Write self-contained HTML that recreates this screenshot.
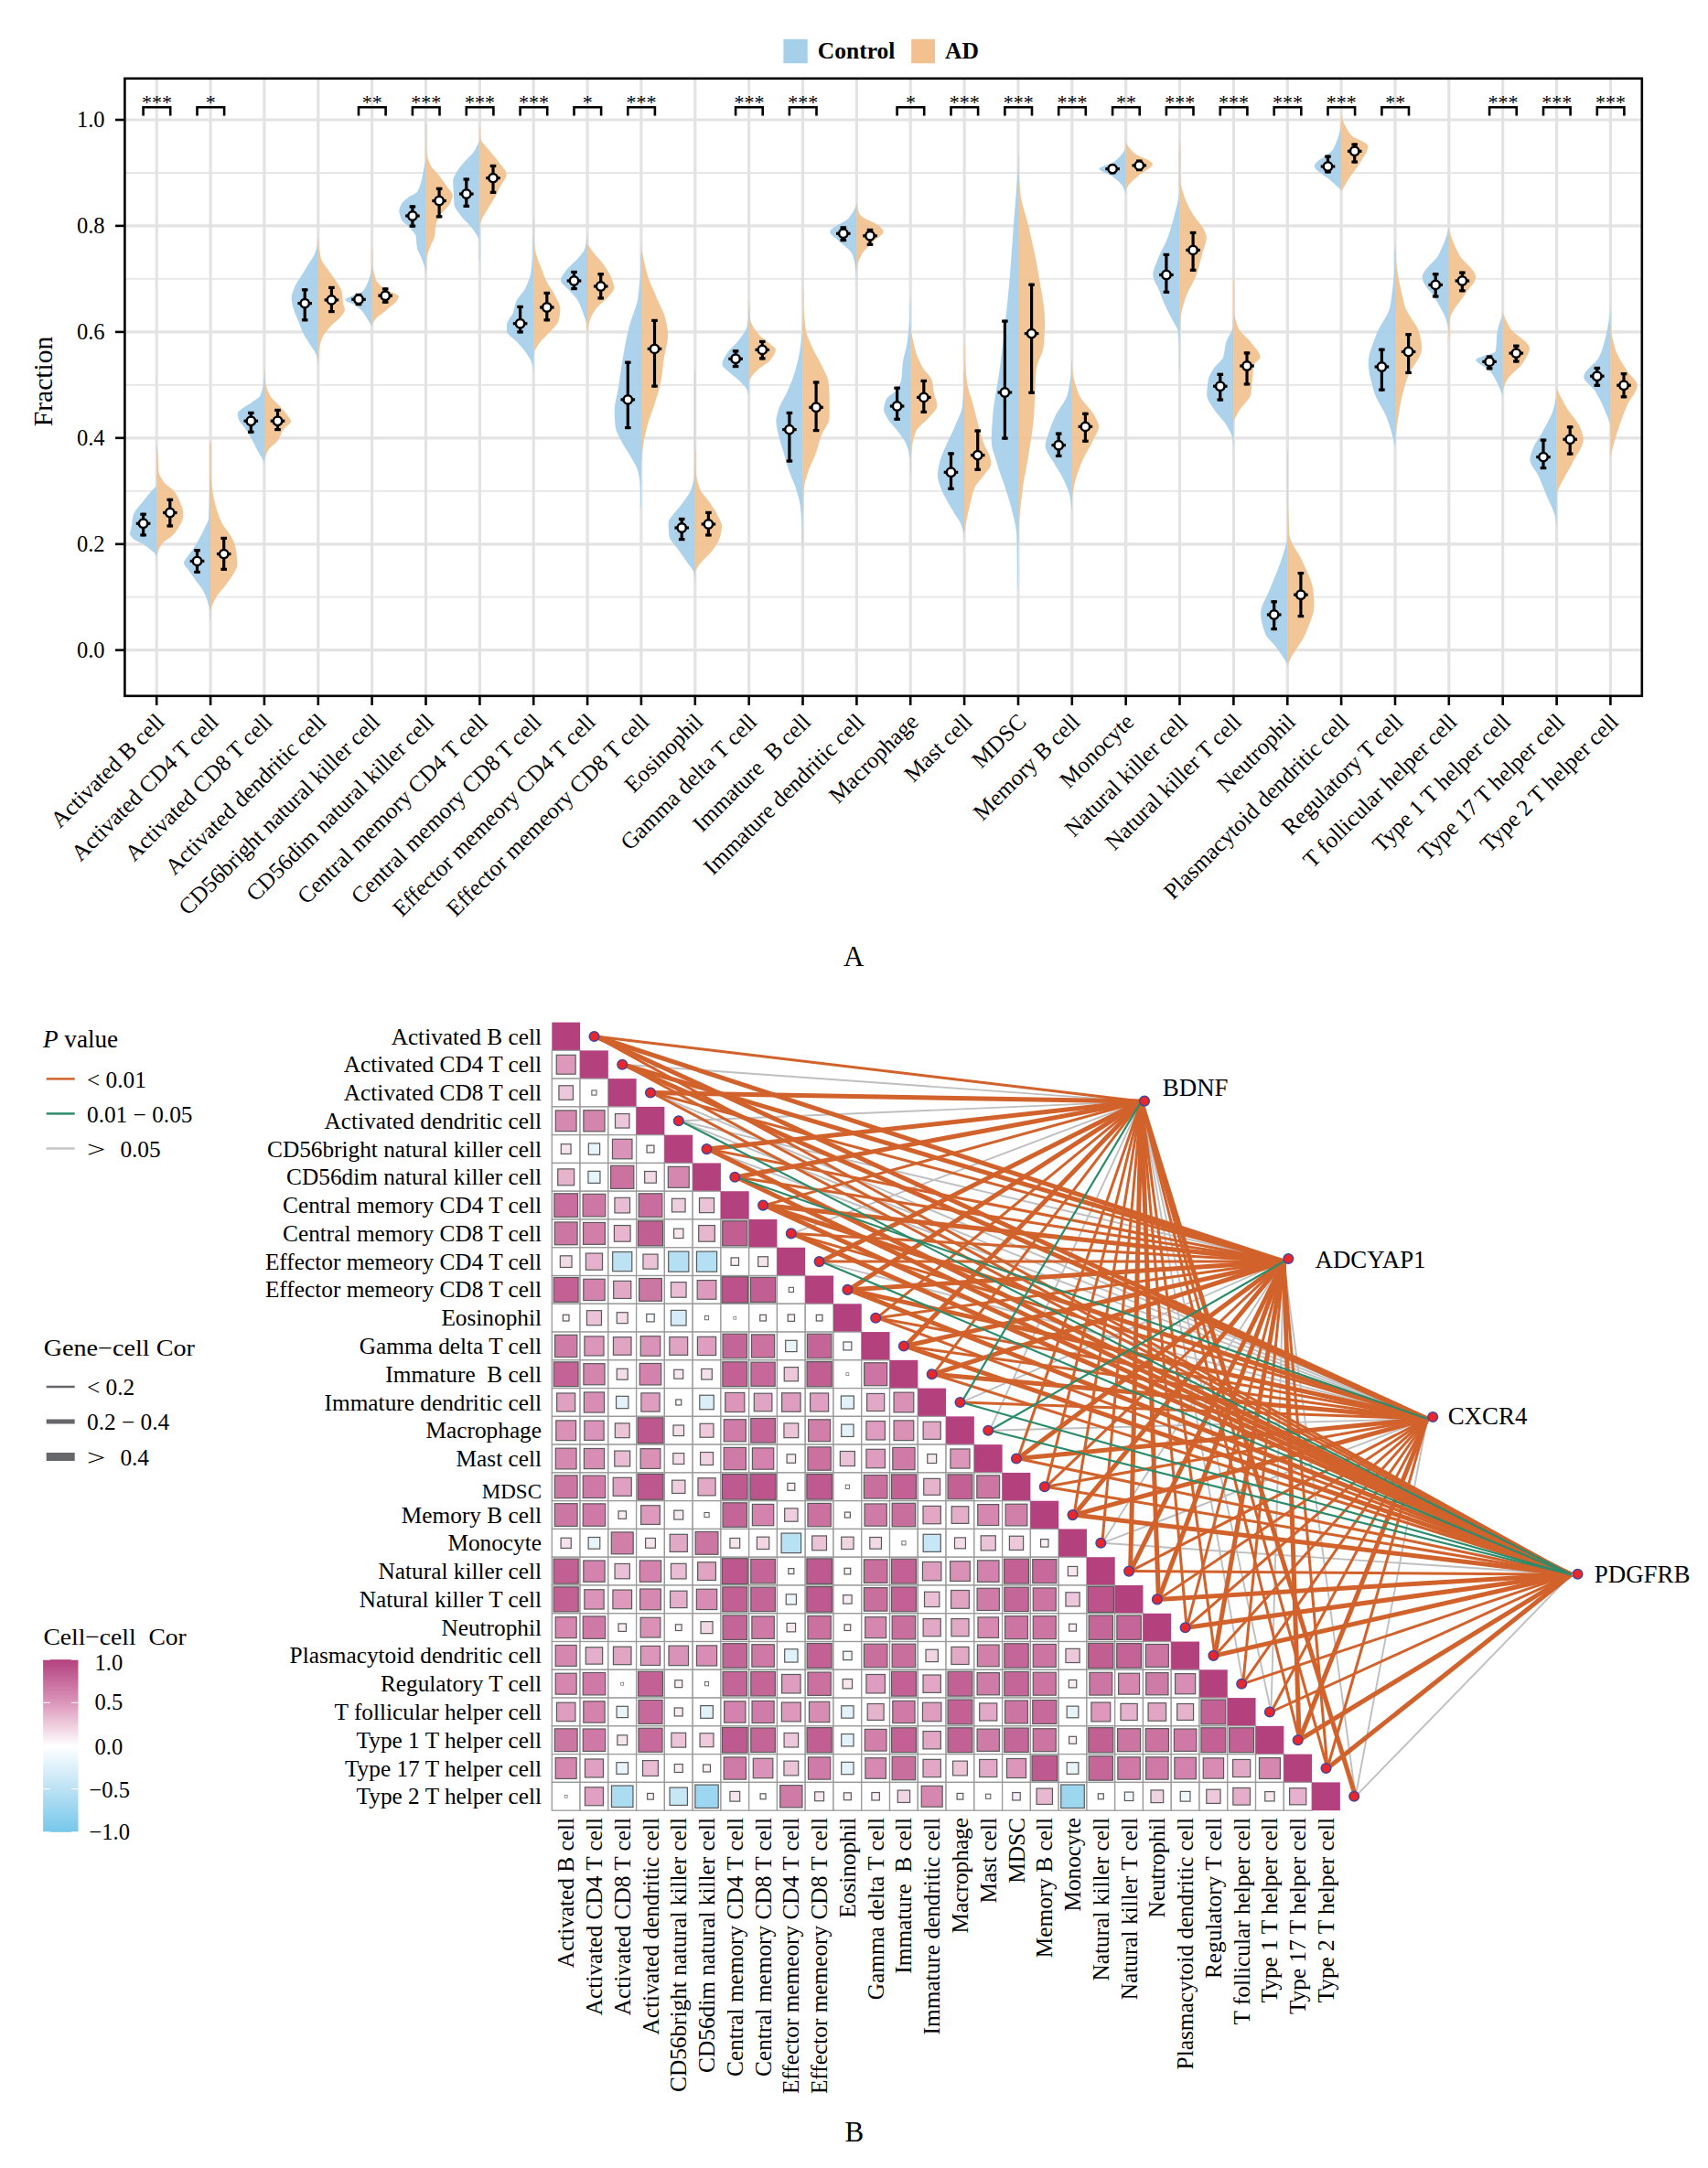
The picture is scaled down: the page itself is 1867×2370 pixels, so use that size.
<!DOCTYPE html>
<html><head><meta charset="utf-8"><style>
html,body{margin:0;padding:0;background:#fff;}
svg{display:block;}
text{font-family:"Liberation Serif", serif;fill:#000;}
</style></head><body>
<svg width="1867" height="2370" viewBox="0 0 1867 2370">
<rect width="1867" height="2370" fill="#fff"/>
<g id="panelA">
<line x1="136.4" x2="1794.8" y1="652.7" y2="652.7" stroke="#e6e6e6" stroke-width="1.8"/>
<line x1="136.4" x2="1794.8" y1="536.8" y2="536.8" stroke="#e6e6e6" stroke-width="1.8"/>
<line x1="136.4" x2="1794.8" y1="420.9" y2="420.9" stroke="#e6e6e6" stroke-width="1.8"/>
<line x1="136.4" x2="1794.8" y1="304.9" y2="304.9" stroke="#e6e6e6" stroke-width="1.8"/>
<line x1="136.4" x2="1794.8" y1="189.0" y2="189.0" stroke="#e6e6e6" stroke-width="1.8"/>
<line x1="136.4" x2="1794.8" y1="710.7" y2="710.7" stroke="#e3e3e3" stroke-width="3.2"/>
<line x1="136.4" x2="1794.8" y1="594.8" y2="594.8" stroke="#e3e3e3" stroke-width="3.2"/>
<line x1="136.4" x2="1794.8" y1="478.8" y2="478.8" stroke="#e3e3e3" stroke-width="3.2"/>
<line x1="136.4" x2="1794.8" y1="362.9" y2="362.9" stroke="#e3e3e3" stroke-width="3.2"/>
<line x1="136.4" x2="1794.8" y1="246.9" y2="246.9" stroke="#e3e3e3" stroke-width="3.2"/>
<line x1="136.4" x2="1794.8" y1="131.0" y2="131.0" stroke="#e3e3e3" stroke-width="3.2"/>
<line x1="171.2" x2="171.2" y1="85.8" y2="760.8" stroke="#e3e3e3" stroke-width="3.2"/>
<line x1="230.1" x2="230.1" y1="85.8" y2="760.8" stroke="#e3e3e3" stroke-width="3.2"/>
<line x1="288.9" x2="288.9" y1="85.8" y2="760.8" stroke="#e3e3e3" stroke-width="3.2"/>
<line x1="347.8" x2="347.8" y1="85.8" y2="760.8" stroke="#e3e3e3" stroke-width="3.2"/>
<line x1="406.6" x2="406.6" y1="85.8" y2="760.8" stroke="#e3e3e3" stroke-width="3.2"/>
<line x1="465.5" x2="465.5" y1="85.8" y2="760.8" stroke="#e3e3e3" stroke-width="3.2"/>
<line x1="524.4" x2="524.4" y1="85.8" y2="760.8" stroke="#e3e3e3" stroke-width="3.2"/>
<line x1="583.2" x2="583.2" y1="85.8" y2="760.8" stroke="#e3e3e3" stroke-width="3.2"/>
<line x1="642.1" x2="642.1" y1="85.8" y2="760.8" stroke="#e3e3e3" stroke-width="3.2"/>
<line x1="700.9" x2="700.9" y1="85.8" y2="760.8" stroke="#e3e3e3" stroke-width="3.2"/>
<line x1="759.8" x2="759.8" y1="85.8" y2="760.8" stroke="#e3e3e3" stroke-width="3.2"/>
<line x1="818.7" x2="818.7" y1="85.8" y2="760.8" stroke="#e3e3e3" stroke-width="3.2"/>
<line x1="877.5" x2="877.5" y1="85.8" y2="760.8" stroke="#e3e3e3" stroke-width="3.2"/>
<line x1="936.4" x2="936.4" y1="85.8" y2="760.8" stroke="#e3e3e3" stroke-width="3.2"/>
<line x1="995.2" x2="995.2" y1="85.8" y2="760.8" stroke="#e3e3e3" stroke-width="3.2"/>
<line x1="1054.1" x2="1054.1" y1="85.8" y2="760.8" stroke="#e3e3e3" stroke-width="3.2"/>
<line x1="1113.0" x2="1113.0" y1="85.8" y2="760.8" stroke="#e3e3e3" stroke-width="3.2"/>
<line x1="1171.8" x2="1171.8" y1="85.8" y2="760.8" stroke="#e3e3e3" stroke-width="3.2"/>
<line x1="1230.7" x2="1230.7" y1="85.8" y2="760.8" stroke="#e3e3e3" stroke-width="3.2"/>
<line x1="1289.5" x2="1289.5" y1="85.8" y2="760.8" stroke="#e3e3e3" stroke-width="3.2"/>
<line x1="1348.4" x2="1348.4" y1="85.8" y2="760.8" stroke="#e3e3e3" stroke-width="3.2"/>
<line x1="1407.3" x2="1407.3" y1="85.8" y2="760.8" stroke="#e3e3e3" stroke-width="3.2"/>
<line x1="1466.1" x2="1466.1" y1="85.8" y2="760.8" stroke="#e3e3e3" stroke-width="3.2"/>
<line x1="1525.0" x2="1525.0" y1="85.8" y2="760.8" stroke="#e3e3e3" stroke-width="3.2"/>
<line x1="1583.8" x2="1583.8" y1="85.8" y2="760.8" stroke="#e3e3e3" stroke-width="3.2"/>
<line x1="1642.7" x2="1642.7" y1="85.8" y2="760.8" stroke="#e3e3e3" stroke-width="3.2"/>
<line x1="1701.6" x2="1701.6" y1="85.8" y2="760.8" stroke="#e3e3e3" stroke-width="3.2"/>
<line x1="1760.4" x2="1760.4" y1="85.8" y2="760.8" stroke="#e3e3e3" stroke-width="3.2"/>
<path d="M171.20,531.30 L171.20,531.30 L170.67,531.80 L170.14,532.31 L169.61,532.81 L169.09,533.32 L168.57,533.82 L168.06,534.33 L167.56,534.83 L167.06,535.33 L166.56,535.84 L166.08,536.34 L165.60,536.85 L165.13,537.35 L164.66,537.86 L164.21,538.36 L163.76,538.87 L163.32,539.37 L162.88,539.87 L162.45,540.38 L162.02,540.88 L161.60,541.39 L161.19,541.89 L160.77,542.40 L160.36,542.90 L159.96,543.40 L159.55,543.91 L159.15,544.41 L158.76,544.92 L158.36,545.42 L157.97,545.93 L157.57,546.43 L157.18,546.94 L156.79,547.44 L156.40,547.94 L156.01,548.45 L155.62,548.95 L155.22,549.46 L154.83,549.96 L154.42,550.47 L154.00,550.97 L153.57,551.47 L153.14,551.98 L152.71,552.48 L152.27,552.99 L151.84,553.49 L151.41,554.00 L150.98,554.50 L150.55,555.01 L150.14,555.51 L149.73,556.01 L149.33,556.52 L148.95,557.02 L148.58,557.53 L148.23,558.03 L147.90,558.54 L147.58,559.04 L147.29,559.54 L147.02,560.05 L146.78,560.55 L146.57,561.06 L146.36,561.56 L146.17,562.07 L145.98,562.57 L145.80,563.08 L145.63,563.58 L145.48,564.08 L145.33,564.59 L145.20,565.09 L145.09,565.60 L144.99,566.10 L144.90,566.61 L144.83,567.11 L144.77,567.62 L144.72,568.12 L144.67,568.62 L144.62,569.13 L144.58,569.63 L144.54,570.14 L144.49,570.64 L144.44,571.15 L144.39,571.65 L144.32,572.15 L144.25,572.66 L144.17,573.16 L144.08,573.67 L143.98,574.17 L143.89,574.68 L143.78,575.18 L143.68,575.68 L143.57,576.19 L143.46,576.69 L143.35,577.20 L143.25,577.70 L143.14,578.21 L143.02,578.71 L142.89,579.22 L142.75,579.72 L142.60,580.22 L142.47,580.73 L142.34,581.23 L142.22,581.74 L142.12,582.24 L142.05,582.75 L142.01,583.25 L142.00,583.75 L142.08,584.26 L142.24,584.76 L142.48,585.27 L142.79,585.77 L143.15,586.28 L143.56,586.78 L144.01,587.29 L144.50,587.79 L145.00,588.29 L145.51,588.80 L146.03,589.30 L146.63,589.81 L147.37,590.31 L148.22,590.82 L149.17,591.32 L150.19,591.83 L151.24,592.33 L152.31,592.83 L153.37,593.34 L154.39,593.84 L155.35,594.35 L156.22,594.85 L157.02,595.36 L157.81,595.86 L158.58,596.36 L159.34,596.87 L160.08,597.37 L160.81,597.88 L161.51,598.38 L162.20,598.89 L162.86,599.39 L163.50,599.89 L164.12,600.40 L164.72,600.90 L165.33,601.41 L165.96,601.91 L166.59,602.42 L167.21,602.92 L167.80,603.43 L168.35,603.93 L168.86,604.43 L169.30,604.94 L169.67,605.44 L169.95,605.95 L170.14,606.45 L170.30,606.96 L170.45,607.46 L170.59,607.97 L170.72,608.47 L170.84,608.97 L170.90,609.48 L170.96,609.98 L171.02,610.49 L171.08,610.99 L171.14,611.50 L171.20,612.00 L171.20,612.00Z" fill="#a6cfea" fill-opacity="0.92"/>
<path d="M171.20,486.00 L171.20,486.00 L171.34,486.76 L171.49,487.52 L171.64,488.29 L171.78,489.05 L171.91,489.81 L172.03,490.57 L172.14,491.34 L172.23,492.10 L172.30,492.86 L172.37,493.62 L172.42,494.39 L172.47,495.15 L172.52,495.91 L172.56,496.68 L172.60,497.44 L172.64,498.20 L172.67,498.96 L172.70,499.73 L172.72,500.49 L172.75,501.25 L172.77,502.01 L172.80,502.77 L172.82,503.54 L172.84,504.30 L172.87,505.06 L172.89,505.82 L172.92,506.59 L172.95,507.35 L172.98,508.11 L173.01,508.88 L173.05,509.64 L173.09,510.40 L173.13,511.16 L173.18,511.93 L173.24,512.69 L173.30,513.45 L173.36,514.21 L173.43,514.98 L173.52,515.74 L173.65,516.50 L173.84,517.26 L174.07,518.02 L174.35,518.79 L174.67,519.55 L175.03,520.31 L175.43,521.08 L175.85,521.84 L176.29,522.60 L176.76,523.36 L177.24,524.12 L177.74,524.89 L178.25,525.65 L178.76,526.41 L179.29,527.17 L179.91,527.94 L180.64,528.70 L181.45,529.46 L182.33,530.23 L183.26,530.99 L184.23,531.75 L185.21,532.51 L186.19,533.27 L187.15,534.04 L188.08,534.80 L188.96,535.56 L189.78,536.33 L190.51,537.09 L191.14,537.85 L191.67,538.61 L192.17,539.38 L192.64,540.14 L193.09,540.90 L193.52,541.66 L193.93,542.42 L194.33,543.19 L194.70,543.95 L195.06,544.71 L195.41,545.48 L195.74,546.24 L196.06,547.00 L196.37,547.76 L196.67,548.52 L196.96,549.29 L197.24,550.05 L197.54,550.81 L197.84,551.58 L198.15,552.34 L198.46,553.10 L198.75,553.86 L199.04,554.62 L199.31,555.39 L199.56,556.15 L199.79,556.91 L199.99,557.67 L200.15,558.44 L200.28,559.20 L200.36,559.96 L200.40,560.73 L200.39,561.49 L200.36,562.25 L200.31,563.01 L200.25,563.77 L200.16,564.54 L200.07,565.30 L199.97,566.06 L199.85,566.83 L199.67,567.59 L199.41,568.35 L199.11,569.11 L198.77,569.88 L198.40,570.64 L198.02,571.40 L197.65,572.16 L197.27,572.92 L196.89,573.69 L196.49,574.45 L196.07,575.21 L195.64,575.98 L195.19,576.74 L194.72,577.50 L194.24,578.26 L193.74,579.02 L193.22,579.79 L192.68,580.55 L192.11,581.31 L191.53,582.08 L190.93,582.84 L190.30,583.60 L189.61,584.36 L188.80,585.12 L187.91,585.89 L186.95,586.65 L185.93,587.41 L184.88,588.17 L183.81,588.94 L182.74,589.70 L181.69,590.46 L180.68,591.23 L179.71,591.99 L178.82,592.75 L178.02,593.51 L177.32,594.27 L176.75,595.04 L176.24,595.80 L175.75,596.56 L175.30,597.33 L174.87,598.09 L174.46,598.85 L174.08,599.61 L173.72,600.38 L173.39,601.14 L173.07,601.90 L172.77,602.66 L172.49,603.42 L172.23,604.19 L171.98,604.95 L171.76,605.71 L171.55,606.48 L171.36,607.24 L171.20,608.00 L171.20,608.00Z" fill="#f2c18f" fill-opacity="0.92"/>
<path d="M230.06,481.00 L230.06,481.00 L229.91,482.24 L229.76,483.49 L229.61,484.73 L229.46,485.98 L229.31,487.22 L229.31,488.46 L229.31,489.71 L229.31,490.95 L229.31,492.19 L229.31,493.44 L229.31,494.68 L229.31,495.93 L229.31,497.17 L229.31,498.41 L229.31,499.66 L229.31,500.90 L229.31,502.14 L229.31,503.39 L229.31,504.63 L229.31,505.88 L229.31,507.12 L229.31,508.36 L229.31,509.61 L229.31,510.85 L229.31,512.09 L229.31,513.34 L229.31,514.58 L229.31,515.83 L229.31,517.07 L229.29,518.31 L229.26,519.56 L229.23,520.80 L229.20,522.04 L229.18,523.29 L229.15,524.53 L229.13,525.77 L229.11,527.02 L229.09,528.26 L229.07,529.51 L229.05,530.75 L229.03,531.99 L229.01,533.24 L228.99,534.48 L228.97,535.73 L228.95,536.97 L228.94,538.21 L228.92,539.46 L228.89,540.70 L228.87,541.94 L228.85,543.19 L228.83,544.43 L228.80,545.67 L228.78,546.92 L228.75,548.16 L228.72,549.41 L228.68,550.65 L228.65,551.89 L228.61,553.14 L228.57,554.38 L228.53,555.62 L228.49,556.87 L228.44,558.11 L228.39,559.36 L228.33,560.60 L228.28,561.84 L228.21,563.09 L228.15,564.33 L228.08,565.58 L228.00,566.82 L227.80,568.06 L227.45,569.31 L226.99,570.55 L226.44,571.79 L225.83,573.04 L225.18,574.28 L224.52,575.52 L223.89,576.77 L223.29,578.01 L222.72,579.26 L222.13,580.50 L221.52,581.74 L220.90,582.99 L220.27,584.23 L219.62,585.48 L218.96,586.72 L218.28,587.96 L217.60,589.21 L216.90,590.45 L216.18,591.69 L215.45,592.94 L214.70,594.18 L213.93,595.42 L213.16,596.67 L212.37,597.91 L211.57,599.16 L210.76,600.40 L209.92,601.64 L209.04,602.89 L208.12,604.13 L207.19,605.38 L206.25,606.62 L205.33,607.86 L204.45,609.11 L203.61,610.35 L202.83,611.59 L202.05,612.84 L201.26,614.08 L200.86,615.33 L201.07,616.57 L201.67,617.81 L202.55,619.06 L203.59,620.30 L204.67,621.54 L205.68,622.79 L206.55,624.03 L207.40,625.27 L208.27,626.52 L209.14,627.76 L210.02,629.01 L210.91,630.25 L211.80,631.49 L212.69,632.74 L213.57,633.98 L214.47,635.23 L215.40,636.47 L216.36,637.71 L217.34,638.96 L218.32,640.20 L219.27,641.44 L220.17,642.69 L221.02,643.93 L221.78,645.17 L222.44,646.42 L223.05,647.66 L223.64,648.91 L224.19,650.15 L224.71,651.39 L225.20,652.64 L225.66,653.88 L226.09,655.12 L226.49,656.37 L226.87,657.61 L227.23,658.86 L227.60,660.10 L227.95,661.34 L228.29,662.59 L228.60,663.83 L228.88,665.08 L229.12,666.32 L229.31,667.56 L229.31,668.81 L229.31,670.05 L229.31,671.29 L229.31,672.54 L229.31,673.78 L229.46,675.02 L229.61,676.27 L229.76,677.51 L229.91,678.76 L230.06,680.00 L230.06,680.00Z" fill="#a6cfea" fill-opacity="0.92"/>
<path d="M230.06,481.00 L230.06,481.00 L230.20,482.17 L230.34,483.34 L230.48,484.51 L230.62,485.68 L230.76,486.84 L230.81,488.01 L230.81,489.18 L230.81,490.35 L230.81,491.52 L230.81,492.69 L230.81,493.86 L230.81,495.02 L230.81,496.19 L230.81,497.36 L230.81,498.53 L230.81,499.70 L230.81,500.87 L230.81,502.04 L230.81,503.21 L230.81,504.38 L230.81,505.54 L230.81,506.71 L230.81,507.88 L230.81,509.05 L230.81,510.22 L230.81,511.39 L230.81,512.56 L230.81,513.73 L230.81,514.89 L230.81,516.06 L230.81,517.23 L230.81,518.40 L230.84,519.57 L230.89,520.74 L230.94,521.91 L231.01,523.08 L231.09,524.24 L231.17,525.41 L231.26,526.58 L231.37,527.75 L231.48,528.92 L231.59,530.09 L231.72,531.26 L231.85,532.42 L231.98,533.59 L232.12,534.76 L232.27,535.93 L232.42,537.10 L232.57,538.27 L232.74,539.44 L232.93,540.61 L233.14,541.77 L233.37,542.94 L233.61,544.11 L233.87,545.28 L234.13,546.45 L234.41,547.62 L234.69,548.79 L234.97,549.96 L235.27,551.12 L235.58,552.29 L235.91,553.46 L236.25,554.63 L236.60,555.80 L236.97,556.97 L237.34,558.14 L237.72,559.31 L238.12,560.48 L238.51,561.64 L238.92,562.81 L239.33,563.98 L239.75,565.15 L240.19,566.32 L240.64,567.49 L241.12,568.66 L241.63,569.83 L242.17,570.99 L242.74,572.16 L243.39,573.33 L244.13,574.50 L244.95,575.67 L245.83,576.84 L246.73,578.01 L247.64,579.17 L248.54,580.34 L249.39,581.51 L250.19,582.68 L250.91,583.85 L251.60,585.02 L252.29,586.19 L252.98,587.36 L253.65,588.52 L254.28,589.69 L254.88,590.86 L255.42,592.03 L255.90,593.20 L256.30,594.37 L256.64,595.54 L256.95,596.71 L257.24,597.88 L257.51,599.04 L257.76,600.21 L257.99,601.38 L258.19,602.55 L258.37,603.72 L258.52,604.89 L258.64,606.06 L258.74,607.23 L258.83,608.39 L258.92,609.56 L259.00,610.73 L259.07,611.90 L259.14,613.07 L259.19,614.24 L259.23,615.41 L259.25,616.58 L259.26,617.74 L259.16,618.91 L258.89,620.08 L258.49,621.25 L257.96,622.42 L257.36,623.59 L256.69,624.76 L255.98,625.92 L255.27,627.09 L254.58,628.26 L253.92,629.43 L253.23,630.60 L252.48,631.77 L251.70,632.94 L250.88,634.11 L250.02,635.27 L249.15,636.44 L248.27,637.61 L247.38,638.78 L246.50,639.95 L245.61,641.12 L244.66,642.29 L243.67,643.46 L242.66,644.62 L241.64,645.79 L240.63,646.96 L239.65,648.13 L238.72,649.30 L237.87,650.47 L237.10,651.64 L236.40,652.81 L235.72,653.98 L235.07,655.14 L234.44,656.31 L233.85,657.48 L233.28,658.65 L232.75,659.82 L232.26,660.99 L231.80,662.16 L231.38,663.33 L231.00,664.49 L230.65,665.66 L230.34,666.83 L230.06,668.00 L230.06,668.00Z" fill="#f2c18f" fill-opacity="0.92"/>
<path d="M288.92,410.60 L288.92,410.60 L288.85,411.21 L288.77,411.82 L288.70,412.43 L288.63,413.04 L288.55,413.64 L288.48,414.25 L288.41,414.86 L288.34,415.47 L288.26,416.08 L288.19,416.69 L288.17,417.30 L288.17,417.91 L288.17,418.51 L288.17,419.12 L288.13,419.73 L288.02,420.34 L287.90,420.95 L287.78,421.56 L287.65,422.17 L287.52,422.78 L287.38,423.38 L287.23,423.99 L287.08,424.60 L286.92,425.21 L286.75,425.82 L286.58,426.43 L286.40,427.04 L286.22,427.65 L286.03,428.25 L285.83,428.86 L285.63,429.47 L285.42,430.08 L285.20,430.69 L284.98,431.30 L284.75,431.91 L284.43,432.52 L283.99,433.12 L283.43,433.73 L282.79,434.34 L282.07,434.95 L281.29,435.56 L280.46,436.17 L279.60,436.78 L278.72,437.38 L277.84,437.99 L276.98,438.60 L276.15,439.21 L275.32,439.82 L274.43,440.43 L273.49,441.04 L272.51,441.65 L271.51,442.25 L270.50,442.86 L269.50,443.47 L268.51,444.08 L267.55,444.69 L266.63,445.30 L265.77,445.91 L264.98,446.52 L264.23,447.12 L263.42,447.73 L262.60,448.34 L261.80,448.95 L261.07,449.56 L260.46,450.17 L260.00,450.78 L259.75,451.39 L259.72,452.00 L259.75,452.60 L259.79,453.21 L259.86,453.82 L259.94,454.43 L260.03,455.04 L260.13,455.65 L260.24,456.26 L260.36,456.87 L260.51,457.47 L260.72,458.08 L260.97,458.69 L261.27,459.30 L261.60,459.91 L261.97,460.52 L262.37,461.13 L262.80,461.74 L263.25,462.34 L263.71,462.95 L264.19,463.56 L264.67,464.17 L265.17,464.78 L265.66,465.39 L266.14,466.00 L266.62,466.61 L267.09,467.21 L267.54,467.82 L267.97,468.43 L268.38,469.04 L268.76,469.65 L269.15,470.26 L269.53,470.87 L269.92,471.48 L270.30,472.08 L270.69,472.69 L271.07,473.30 L271.45,473.91 L271.83,474.52 L272.21,475.13 L272.59,475.74 L272.96,476.35 L273.33,476.95 L273.70,477.56 L274.07,478.17 L274.43,478.78 L274.78,479.39 L275.13,480.00 L275.48,480.61 L275.82,481.22 L276.15,481.82 L276.48,482.43 L276.80,483.04 L277.12,483.65 L277.43,484.26 L277.73,484.87 L278.03,485.48 L278.33,486.09 L278.62,486.69 L278.91,487.30 L279.21,487.91 L279.50,488.52 L279.79,489.13 L280.08,489.74 L280.38,490.35 L280.67,490.96 L280.97,491.56 L281.28,492.17 L281.59,492.78 L281.90,493.39 L282.22,494.00 L282.55,494.61 L282.91,495.22 L283.27,495.82 L283.65,496.43 L284.04,497.04 L284.44,497.65 L284.84,498.26 L285.23,498.87 L285.62,499.48 L285.99,500.09 L286.35,500.69 L286.70,501.30 L287.02,501.91 L287.32,502.52 L287.59,503.13 L287.82,503.74 L288.03,504.35 L288.21,504.96 L288.39,505.56 L288.55,506.17 L288.69,506.78 L288.81,507.39 L288.92,508.00 L288.92,508.00Z" fill="#a6cfea" fill-opacity="0.92"/>
<path d="M288.92,400.70 L288.92,400.70 L289.00,401.35 L289.07,401.99 L289.15,402.64 L289.23,403.28 L289.31,403.93 L289.38,404.57 L289.46,405.22 L289.54,405.87 L289.62,406.51 L289.67,407.16 L289.67,407.80 L289.67,408.45 L289.67,409.09 L289.67,409.74 L289.67,410.38 L289.67,411.03 L289.67,411.68 L289.67,412.32 L289.67,412.97 L289.72,413.61 L289.79,414.26 L289.87,414.90 L289.95,415.55 L290.03,416.19 L290.11,416.84 L290.19,417.49 L290.28,418.13 L290.36,418.78 L290.45,419.42 L290.55,420.07 L290.67,420.71 L290.81,421.36 L290.97,422.01 L291.14,422.65 L291.32,423.30 L291.52,423.94 L291.74,424.59 L291.96,425.23 L292.20,425.88 L292.45,426.52 L292.72,427.17 L292.99,427.82 L293.28,428.46 L293.57,429.11 L293.87,429.75 L294.18,430.40 L294.50,431.04 L294.83,431.69 L295.17,432.34 L295.57,432.98 L296.01,433.63 L296.50,434.27 L297.02,434.92 L297.58,435.56 L298.16,436.21 L298.77,436.86 L299.40,437.50 L300.05,438.15 L300.70,438.79 L301.36,439.44 L302.03,440.08 L302.69,440.73 L303.34,441.37 L303.98,442.02 L304.61,442.67 L305.22,443.31 L305.80,443.96 L306.36,444.60 L306.91,445.25 L307.48,445.89 L308.05,446.54 L308.62,447.19 L309.19,447.83 L309.76,448.48 L310.33,449.12 L310.90,449.77 L311.45,450.41 L312.00,451.06 L312.54,451.70 L313.07,452.35 L313.59,453.00 L314.09,453.64 L314.57,454.29 L315.04,454.93 L315.48,455.58 L315.90,456.22 L316.31,456.87 L316.74,457.51 L317.19,458.16 L317.60,458.81 L317.92,459.45 L318.10,460.10 L318.09,460.74 L317.90,461.39 L317.54,462.03 L317.05,462.68 L316.44,463.33 L315.74,463.97 L314.98,464.62 L314.19,465.26 L313.37,465.91 L312.57,466.55 L311.81,467.20 L311.10,467.85 L310.49,468.49 L309.98,469.14 L309.56,469.78 L309.17,470.43 L308.82,471.07 L308.48,471.72 L308.16,472.36 L307.86,473.01 L307.57,473.66 L307.29,474.30 L307.02,474.95 L306.75,475.59 L306.47,476.24 L306.20,476.88 L305.91,477.53 L305.61,478.18 L305.29,478.82 L304.96,479.47 L304.60,480.11 L304.22,480.76 L303.80,481.40 L303.34,482.05 L302.81,482.69 L302.20,483.34 L301.54,483.99 L300.83,484.63 L300.09,485.28 L299.32,485.92 L298.55,486.57 L297.78,487.21 L297.03,487.86 L296.30,488.50 L295.61,489.15 L294.98,489.80 L294.40,490.44 L293.90,491.09 L293.49,491.73 L293.12,492.38 L292.76,493.02 L292.43,493.67 L292.11,494.32 L291.81,494.96 L291.52,495.61 L291.25,496.25 L290.99,496.90 L290.75,497.54 L290.52,498.19 L290.29,498.84 L290.08,499.48 L289.88,500.13 L289.69,500.77 L289.51,501.42 L289.34,502.06 L289.19,502.71 L289.05,503.35 L288.92,504.00 L288.92,504.00Z" fill="#f2c18f" fill-opacity="0.92"/>
<path d="M347.78,260.00 L347.78,260.00 L347.68,260.86 L347.57,261.71 L347.47,262.57 L347.37,263.43 L347.27,264.28 L347.16,265.14 L347.06,265.99 L347.03,266.85 L346.88,267.71 L346.69,268.56 L346.48,269.42 L346.27,270.27 L346.04,271.13 L345.81,271.99 L345.57,272.84 L345.32,273.70 L345.07,274.56 L344.81,275.41 L344.55,276.27 L344.24,277.12 L343.88,277.98 L343.46,278.84 L343.00,279.69 L342.49,280.55 L341.96,281.41 L341.40,282.26 L340.82,283.12 L340.23,283.98 L339.64,284.83 L339.04,285.69 L338.46,286.54 L337.90,287.40 L337.36,288.26 L336.85,289.11 L336.33,289.97 L335.82,290.82 L335.30,291.68 L334.79,292.54 L334.27,293.39 L333.76,294.25 L333.24,295.11 L332.73,295.96 L332.21,296.82 L331.70,297.68 L331.18,298.53 L330.67,299.39 L330.16,300.24 L329.64,301.10 L329.12,301.96 L328.58,302.81 L328.02,303.67 L327.45,304.52 L326.89,305.38 L326.32,306.24 L325.76,307.09 L325.21,307.95 L324.68,308.81 L324.17,309.66 L323.68,310.52 L323.22,311.38 L322.80,312.23 L322.42,313.09 L322.08,313.94 L321.73,314.80 L321.38,315.66 L321.03,316.51 L320.69,317.37 L320.36,318.23 L320.04,319.08 L319.74,319.94 L319.46,320.79 L319.22,321.65 L319.00,322.51 L318.83,323.36 L318.70,324.22 L318.61,325.07 L318.58,325.93 L318.60,326.79 L318.65,327.64 L318.73,328.50 L318.85,329.36 L318.99,330.21 L319.16,331.07 L319.35,331.93 L319.55,332.78 L319.76,333.64 L319.99,334.49 L320.22,335.35 L320.46,336.21 L320.70,337.06 L320.93,337.92 L321.17,338.77 L321.42,339.63 L321.70,340.49 L322.01,341.34 L322.33,342.20 L322.67,343.06 L323.02,343.91 L323.39,344.77 L323.76,345.62 L324.14,346.48 L324.52,347.34 L324.89,348.19 L325.26,349.05 L325.62,349.91 L325.97,350.76 L326.31,351.62 L326.64,352.48 L326.97,353.33 L327.29,354.19 L327.62,355.04 L327.94,355.90 L328.26,356.76 L328.59,357.61 L328.92,358.47 L329.26,359.32 L329.61,360.18 L329.97,361.04 L330.35,361.89 L330.74,362.75 L331.14,363.61 L331.57,364.46 L332.02,365.32 L332.49,366.18 L332.98,367.03 L333.48,367.89 L333.99,368.74 L334.52,369.60 L335.05,370.46 L335.58,371.31 L336.11,372.17 L336.65,373.02 L337.18,373.88 L337.71,374.74 L338.22,375.59 L338.74,376.45 L339.29,377.31 L339.86,378.16 L340.44,379.02 L341.03,379.88 L341.63,380.73 L342.22,381.59 L342.79,382.44 L343.35,383.30 L343.87,384.16 L344.37,385.01 L344.82,385.87 L345.23,386.73 L345.58,387.58 L345.87,388.44 L346.14,389.29 L346.40,390.15 L346.64,391.01 L346.88,391.86 L347.09,392.72 L347.28,393.57 L347.45,394.43 L347.57,395.29 L347.68,396.14 L347.78,397.00 L347.78,397.00Z" fill="#a6cfea" fill-opacity="0.92"/>
<path d="M347.78,257.50 L347.78,257.50 L347.89,258.39 L347.99,259.29 L348.10,260.19 L348.21,261.08 L348.32,261.98 L348.42,262.87 L348.53,263.76 L348.53,264.66 L348.53,265.56 L348.53,266.45 L348.53,267.35 L348.53,268.24 L348.53,269.13 L348.63,270.03 L348.75,270.93 L348.88,271.82 L349.02,272.71 L349.16,273.61 L349.30,274.50 L349.46,275.40 L349.62,276.30 L349.78,277.19 L349.95,278.08 L350.13,278.98 L350.31,279.88 L350.50,280.77 L350.69,281.67 L350.89,282.56 L351.15,283.45 L351.50,284.35 L351.92,285.25 L352.41,286.14 L352.96,287.03 L353.55,287.93 L354.17,288.82 L354.83,289.72 L355.49,290.62 L356.17,291.51 L356.84,292.40 L357.49,293.30 L358.13,294.19 L358.73,295.09 L359.35,295.99 L359.98,296.88 L360.64,297.77 L361.30,298.67 L361.98,299.56 L362.65,300.46 L363.33,301.36 L364.00,302.25 L364.66,303.14 L365.30,304.04 L365.93,304.94 L366.53,305.83 L367.10,306.73 L367.64,307.62 L368.19,308.51 L368.76,309.41 L369.33,310.31 L369.89,311.20 L370.45,312.09 L371.00,312.99 L371.52,313.88 L372.00,314.78 L372.45,315.68 L372.86,316.57 L373.21,317.46 L373.50,318.36 L373.72,319.25 L373.88,320.15 L374.00,321.05 L374.10,321.94 L374.19,322.83 L374.27,323.73 L374.34,324.62 L374.40,325.52 L374.46,326.41 L374.52,327.31 L374.59,328.20 L374.66,329.10 L374.75,330.00 L374.85,330.89 L374.97,331.78 L375.13,332.68 L375.41,333.57 L375.77,334.47 L376.16,335.37 L376.52,336.26 L376.81,337.15 L376.97,338.05 L376.94,338.94 L376.71,339.84 L376.33,340.74 L375.82,341.63 L375.24,342.52 L374.61,343.42 L373.99,344.31 L373.38,345.21 L372.67,346.11 L371.86,347.00 L370.99,347.89 L370.05,348.79 L369.07,349.69 L368.06,350.58 L367.03,351.48 L366.00,352.37 L364.98,353.26 L363.99,354.16 L363.04,355.06 L362.14,355.95 L361.32,356.85 L360.55,357.74 L359.78,358.63 L359.01,359.53 L358.24,360.43 L357.48,361.32 L356.73,362.21 L356.01,363.11 L355.32,364.00 L354.66,364.90 L354.05,365.79 L353.48,366.69 L352.97,367.58 L352.51,368.48 L352.13,369.38 L351.80,370.27 L351.48,371.16 L351.17,372.06 L350.88,372.95 L350.60,373.85 L350.34,374.75 L350.09,375.64 L349.87,376.53 L349.66,377.43 L349.47,378.32 L349.30,379.22 L349.15,380.12 L349.02,381.01 L348.92,381.90 L348.83,382.80 L348.74,383.69 L348.65,384.59 L348.57,385.49 L348.53,386.38 L348.53,387.27 L348.53,388.17 L348.53,389.06 L348.53,389.96 L348.53,390.86 L348.53,391.75 L348.53,392.64 L348.53,393.54 L348.53,394.44 L348.42,395.33 L348.32,396.23 L348.21,397.12 L348.10,398.01 L347.99,398.91 L347.89,399.81 L347.78,400.70 L347.78,400.70Z" fill="#f2c18f" fill-opacity="0.92"/>
<path d="M406.64,287.90 L406.64,287.90 L406.59,288.33 L406.54,288.77 L406.48,289.20 L406.43,289.64 L406.38,290.07 L406.33,290.51 L406.27,290.94 L406.22,291.38 L406.17,291.81 L406.12,292.25 L406.07,292.69 L406.01,293.12 L405.96,293.56 L405.91,293.99 L405.89,294.42 L405.82,294.86 L405.74,295.29 L405.66,295.73 L405.58,296.16 L405.49,296.60 L405.40,297.03 L405.31,297.47 L405.22,297.90 L405.12,298.34 L405.03,298.77 L404.93,299.21 L404.83,299.64 L404.73,300.08 L404.63,300.51 L404.53,300.95 L404.43,301.38 L404.32,301.82 L404.22,302.25 L404.11,302.69 L404.00,303.12 L403.88,303.56 L403.75,304.00 L403.62,304.43 L403.48,304.87 L403.34,305.30 L403.19,305.73 L403.04,306.17 L402.88,306.60 L402.71,307.04 L402.54,307.47 L402.37,307.91 L402.19,308.34 L402.00,308.78 L401.81,309.21 L401.62,309.65 L401.42,310.08 L401.22,310.52 L401.02,310.95 L400.81,311.39 L400.59,311.82 L400.38,312.26 L400.16,312.69 L399.95,313.13 L399.73,313.56 L399.50,314.00 L399.26,314.44 L399.01,314.87 L398.75,315.31 L398.48,315.74 L398.18,316.18 L397.87,316.61 L397.54,317.04 L397.17,317.48 L396.79,317.91 L396.37,318.35 L395.92,318.78 L395.42,319.22 L394.71,319.65 L393.83,320.09 L392.79,320.52 L391.64,320.96 L390.41,321.39 L389.15,321.83 L387.88,322.26 L386.65,322.70 L385.48,323.13 L384.43,323.57 L383.51,324.00 L382.64,324.44 L381.71,324.88 L380.78,325.31 L379.88,325.75 L379.06,326.18 L378.36,326.62 L377.83,327.05 L377.51,327.49 L377.45,327.92 L377.67,328.36 L378.14,328.79 L378.81,329.22 L379.65,329.66 L380.61,330.09 L381.66,330.53 L382.74,330.96 L383.83,331.40 L384.88,331.83 L385.85,332.27 L386.69,332.70 L387.38,333.14 L388.02,333.57 L388.65,334.01 L389.26,334.44 L389.86,334.88 L390.45,335.31 L391.02,335.75 L391.57,336.19 L392.11,336.62 L392.64,337.06 L393.14,337.49 L393.63,337.93 L394.10,338.36 L394.55,338.80 L394.98,339.23 L395.39,339.67 L395.78,340.10 L396.15,340.53 L396.51,340.97 L396.85,341.40 L397.19,341.84 L397.51,342.27 L397.82,342.71 L398.13,343.14 L398.42,343.58 L398.71,344.01 L398.99,344.45 L399.27,344.88 L399.54,345.32 L399.81,345.75 L400.07,346.19 L400.33,346.62 L400.60,347.06 L400.86,347.50 L401.12,347.93 L401.38,348.37 L401.65,348.80 L401.92,349.24 L402.19,349.67 L402.45,350.11 L402.71,350.54 L402.98,350.98 L403.24,351.41 L403.49,351.84 L403.75,352.28 L404.00,352.72 L404.25,353.15 L404.50,353.59 L404.75,354.02 L404.99,354.45 L405.23,354.89 L405.47,355.32 L405.71,355.76 L405.95,356.19 L406.18,356.63 L406.41,357.06 L406.64,357.50 L406.64,357.50Z" fill="#a6cfea" fill-opacity="0.92"/>
<path d="M406.64,269.90 L406.64,269.90 L406.71,270.45 L406.77,271.00 L406.84,271.55 L406.90,272.10 L406.97,272.65 L407.04,273.20 L407.10,273.75 L407.17,274.30 L407.23,274.86 L407.30,275.41 L407.37,275.96 L407.39,276.51 L407.39,277.06 L407.39,277.61 L407.39,278.16 L407.39,278.71 L407.39,279.26 L407.39,279.81 L407.39,280.36 L407.39,280.91 L407.39,281.46 L407.39,282.01 L407.39,282.56 L407.39,283.12 L407.39,283.67 L407.39,284.22 L407.39,284.77 L407.39,285.32 L407.39,285.87 L407.39,286.42 L407.39,286.97 L407.39,287.52 L407.39,288.07 L407.39,288.62 L407.39,289.17 L407.39,289.72 L407.43,290.27 L407.49,290.82 L407.55,291.37 L407.62,291.92 L407.69,292.48 L407.77,293.03 L407.85,293.58 L407.94,294.13 L408.03,294.68 L408.13,295.23 L408.23,295.78 L408.34,296.33 L408.45,296.88 L408.57,297.43 L408.69,297.98 L408.82,298.53 L408.95,299.08 L409.09,299.63 L409.24,300.18 L409.38,300.74 L409.54,301.29 L409.69,301.84 L409.86,302.39 L410.02,302.94 L410.20,303.49 L410.37,304.04 L410.56,304.59 L410.74,305.14 L410.97,305.69 L411.23,306.24 L411.52,306.79 L411.86,307.34 L412.22,307.89 L412.62,308.44 L413.05,308.99 L413.50,309.54 L413.97,310.10 L414.47,310.65 L414.98,311.20 L415.52,311.75 L416.07,312.30 L416.71,312.85 L417.42,313.40 L418.19,313.95 L419.02,314.50 L419.90,315.05 L420.81,315.60 L421.74,316.15 L422.68,316.70 L423.63,317.25 L424.56,317.80 L425.53,318.36 L426.67,318.91 L427.94,319.46 L429.29,320.01 L430.65,320.56 L431.97,321.11 L433.18,321.66 L434.24,322.21 L435.07,322.76 L435.62,323.31 L435.84,323.86 L435.81,324.41 L435.71,324.96 L435.55,325.51 L435.34,326.06 L435.08,326.61 L434.78,327.16 L434.45,327.72 L434.10,328.27 L433.74,328.82 L433.36,329.37 L432.99,329.92 L432.56,330.47 L432.05,331.02 L431.47,331.57 L430.82,332.12 L430.13,332.67 L429.41,333.22 L428.67,333.77 L427.92,334.32 L427.19,334.87 L426.48,335.42 L425.82,335.98 L425.17,336.53 L424.52,337.08 L423.88,337.63 L423.23,338.18 L422.59,338.73 L421.94,339.28 L421.29,339.83 L420.64,340.38 L419.98,340.93 L419.32,341.48 L418.64,342.03 L417.94,342.58 L417.20,343.13 L416.43,343.68 L415.66,344.23 L414.89,344.78 L414.14,345.34 L413.41,345.89 L412.73,346.44 L412.10,346.99 L411.53,347.54 L411.04,348.09 L410.58,348.64 L410.14,349.19 L409.72,349.74 L409.32,350.29 L408.95,350.84 L408.61,351.39 L408.31,351.94 L408.06,352.49 L407.84,353.04 L407.65,353.60 L407.46,354.15 L407.28,354.70 L407.12,355.25 L406.97,355.80 L406.85,356.35 L406.77,356.90 L406.71,357.45 L406.64,358.00 L406.64,358.00Z" fill="#f2c18f" fill-opacity="0.92"/>
<path d="M465.50,174.00 L465.50,174.00 L465.33,174.78 L465.17,175.55 L465.00,176.32 L464.84,177.10 L464.67,177.88 L464.51,178.65 L464.35,179.43 L464.18,180.20 L464.02,180.97 L463.86,181.75 L463.69,182.53 L463.53,183.30 L463.37,184.07 L463.21,184.85 L463.05,185.62 L462.89,186.40 L462.74,187.18 L462.59,187.95 L462.45,188.72 L462.31,189.50 L462.17,190.28 L462.03,191.05 L461.89,191.82 L461.74,192.60 L461.60,193.38 L461.44,194.15 L461.28,194.93 L461.11,195.70 L460.93,196.47 L460.74,197.25 L460.54,198.03 L460.33,198.80 L460.12,199.57 L459.91,200.35 L459.69,201.12 L459.46,201.90 L459.22,202.68 L458.96,203.45 L458.68,204.22 L458.37,205.00 L458.05,205.78 L457.69,206.55 L457.31,207.32 L456.89,208.10 L456.43,208.88 L455.94,209.65 L455.34,210.43 L454.40,211.20 L453.17,211.97 L451.76,212.75 L450.25,213.53 L448.76,214.30 L447.37,215.07 L446.19,215.85 L445.21,216.62 L444.24,217.40 L443.28,218.18 L442.37,218.95 L441.50,219.72 L440.71,220.50 L439.99,221.28 L439.38,222.05 L438.87,222.82 L438.47,223.60 L438.09,224.38 L437.71,225.15 L437.37,225.93 L437.06,226.70 L436.79,227.47 L436.57,228.25 L436.41,229.03 L436.32,229.80 L436.30,230.57 L436.34,231.35 L436.42,232.12 L436.53,232.90 L436.68,233.68 L436.86,234.45 L437.06,235.22 L437.29,236.00 L437.55,236.78 L437.82,237.55 L438.11,238.32 L438.41,239.10 L438.71,239.88 L439.11,240.65 L439.65,241.43 L440.31,242.20 L441.09,242.97 L441.94,243.75 L442.84,244.53 L443.78,245.30 L444.73,246.07 L445.66,246.85 L446.56,247.62 L447.39,248.40 L448.14,249.18 L448.81,249.95 L449.50,250.72 L450.20,251.50 L450.90,252.28 L451.59,253.05 L452.24,253.82 L452.85,254.60 L453.39,255.38 L453.85,256.15 L454.20,256.93 L454.45,257.70 L454.59,258.48 L454.70,259.25 L454.80,260.02 L454.89,260.80 L454.96,261.57 L455.02,262.35 L455.08,263.12 L455.13,263.90 L455.18,264.68 L455.23,265.45 L455.29,266.23 L455.35,267.00 L455.42,267.77 L455.51,268.55 L455.61,269.32 L455.73,270.10 L455.90,270.88 L456.10,271.65 L456.35,272.43 L456.63,273.20 L456.94,273.98 L457.27,274.75 L457.63,275.52 L457.99,276.30 L458.36,277.07 L458.74,277.85 L459.11,278.62 L459.48,279.40 L459.83,280.18 L460.17,280.95 L460.48,281.73 L460.78,282.50 L461.08,283.27 L461.39,284.05 L461.70,284.82 L462.01,285.60 L462.31,286.38 L462.62,287.15 L462.92,287.93 L463.21,288.70 L463.49,289.48 L463.76,290.25 L464.01,291.02 L464.25,291.80 L464.47,292.57 L464.67,293.35 L464.84,294.12 L465.00,294.90 L465.15,295.68 L465.28,296.45 L465.40,297.23 L465.50,298.00 L465.50,298.00Z" fill="#a6cfea" fill-opacity="0.92"/>
<path d="M465.50,132.00 L465.50,132.00 L465.63,133.05 L465.75,134.10 L465.88,135.15 L466.00,136.20 L466.13,137.25 L466.25,138.30 L466.25,139.35 L466.25,140.40 L466.25,141.44 L466.25,142.49 L466.25,143.54 L466.25,144.59 L466.25,145.64 L466.25,146.69 L466.25,147.74 L466.25,148.79 L466.25,149.84 L466.25,150.89 L466.25,151.94 L466.25,152.99 L466.25,154.04 L466.25,155.09 L466.25,156.14 L466.25,157.19 L466.25,158.23 L466.25,159.28 L466.25,160.33 L466.25,161.38 L466.29,162.43 L466.35,163.48 L466.40,164.53 L466.47,165.58 L466.53,166.63 L466.60,167.68 L466.68,168.73 L466.82,169.78 L467.02,170.83 L467.26,171.88 L467.55,172.93 L467.87,173.97 L468.24,175.02 L468.63,176.07 L469.05,177.12 L469.49,178.17 L469.94,179.22 L470.41,180.27 L470.98,181.32 L471.67,182.37 L472.46,183.42 L473.32,184.47 L474.25,185.52 L475.22,186.57 L476.20,187.62 L477.18,188.67 L478.14,189.72 L479.06,190.76 L479.91,191.81 L480.70,192.86 L481.49,193.91 L482.26,194.96 L483.02,196.01 L483.78,197.06 L484.53,198.11 L485.27,199.16 L486.00,200.21 L486.73,201.26 L487.45,202.31 L488.16,203.36 L488.88,204.41 L489.69,205.46 L490.56,206.51 L491.46,207.56 L492.33,208.60 L493.13,209.65 L493.82,210.70 L494.33,211.75 L494.64,212.80 L494.69,213.85 L494.60,214.90 L494.41,215.95 L494.14,217.00 L493.80,218.05 L493.41,219.10 L492.99,220.15 L492.55,221.20 L492.10,222.25 L491.53,223.30 L490.81,224.34 L489.98,225.39 L489.06,226.44 L488.08,227.49 L487.07,228.54 L486.06,229.59 L485.07,230.64 L484.14,231.69 L483.30,232.74 L482.56,233.79 L481.90,234.84 L481.22,235.89 L480.55,236.94 L479.89,237.99 L479.25,239.04 L478.65,240.09 L478.09,241.13 L477.58,242.18 L477.14,243.23 L476.78,244.28 L476.50,245.33 L476.31,246.38 L476.16,247.43 L476.04,248.48 L475.94,249.53 L475.86,250.58 L475.78,251.63 L475.71,252.68 L475.63,253.73 L475.55,254.78 L475.44,255.83 L475.32,256.88 L475.16,257.92 L474.94,258.97 L474.63,260.02 L474.26,261.07 L473.82,262.12 L473.35,263.17 L472.85,264.22 L472.33,265.27 L471.82,266.32 L471.32,267.37 L470.86,268.42 L470.44,269.47 L470.06,270.52 L469.68,271.57 L469.29,272.62 L468.90,273.67 L468.51,274.71 L468.14,275.76 L467.78,276.81 L467.46,277.86 L467.17,278.91 L466.93,279.96 L466.74,281.01 L466.60,282.06 L466.49,283.11 L466.38,284.16 L466.28,285.21 L466.25,286.26 L466.25,287.31 L466.25,288.36 L466.25,289.41 L466.25,290.46 L466.25,291.50 L466.25,292.55 L466.25,293.60 L466.13,294.65 L466.00,295.70 L465.88,296.75 L465.75,297.80 L465.63,298.85 L465.50,299.90 L465.50,299.90Z" fill="#f2c18f" fill-opacity="0.92"/>
<path d="M524.36,151.30 L524.36,151.30 L524.18,152.16 L523.97,153.03 L523.73,153.89 L523.45,154.75 L523.15,155.61 L522.82,156.48 L522.47,157.34 L522.09,158.20 L521.69,159.06 L521.27,159.93 L520.83,160.79 L520.38,161.65 L519.92,162.51 L519.44,163.38 L518.95,164.24 L518.43,165.10 L517.84,165.96 L517.18,166.83 L516.47,167.69 L515.71,168.55 L514.91,169.41 L514.08,170.28 L513.22,171.14 L512.36,172.00 L511.49,172.86 L510.63,173.73 L509.78,174.59 L508.96,175.45 L508.16,176.31 L507.41,177.18 L506.70,178.04 L505.99,178.90 L505.28,179.76 L504.56,180.62 L503.85,181.49 L503.16,182.35 L502.48,183.21 L501.82,184.08 L501.18,184.94 L500.58,185.80 L500.01,186.66 L499.49,187.53 L499.00,188.39 L498.51,189.25 L498.00,190.11 L497.49,190.98 L496.99,191.84 L496.53,192.70 L496.11,193.56 L495.75,194.43 L495.46,195.29 L495.26,196.15 L495.17,197.01 L495.16,197.88 L495.18,198.74 L495.20,199.60 L495.23,200.46 L495.28,201.33 L495.32,202.19 L495.38,203.05 L495.43,203.91 L495.49,204.78 L495.55,205.64 L495.62,206.50 L495.68,207.36 L495.73,208.23 L495.79,209.09 L495.84,209.95 L495.88,210.81 L495.92,211.68 L495.95,212.54 L495.98,213.40 L496.01,214.26 L496.04,215.12 L496.07,215.99 L496.10,216.85 L496.13,217.71 L496.16,218.58 L496.20,219.44 L496.24,220.30 L496.29,221.16 L496.34,222.03 L496.40,222.89 L496.47,223.75 L496.62,224.61 L496.85,225.48 L497.17,226.34 L497.56,227.20 L498.03,228.06 L498.55,228.93 L499.11,229.79 L499.72,230.65 L500.36,231.51 L501.02,232.38 L501.70,233.24 L502.38,234.10 L503.05,234.96 L503.71,235.83 L504.35,236.69 L505.00,237.55 L505.71,238.41 L506.47,239.28 L507.27,240.14 L508.09,241.00 L508.94,241.86 L509.80,242.73 L510.66,243.59 L511.52,244.45 L512.37,245.31 L513.19,246.18 L513.98,247.04 L514.73,247.90 L515.43,248.76 L516.07,249.62 L516.67,250.49 L517.28,251.35 L517.90,252.21 L518.53,253.08 L519.15,253.94 L519.76,254.80 L520.35,255.66 L520.91,256.52 L521.43,257.39 L521.92,258.25 L522.35,259.11 L522.72,259.98 L523.03,260.84 L523.27,261.70 L523.42,262.56 L523.49,263.43 L523.55,264.29 L523.61,265.15 L523.61,266.01 L523.61,266.88 L523.61,267.74 L523.61,268.60 L523.61,269.46 L523.61,270.33 L523.61,271.19 L523.61,272.05 L523.61,272.91 L523.61,273.77 L523.61,274.64 L523.61,275.50 L523.61,276.36 L523.61,277.23 L523.61,278.09 L523.61,278.95 L523.61,279.81 L523.61,280.68 L523.61,281.54 L523.61,282.40 L523.64,283.26 L523.74,284.12 L523.84,284.99 L523.95,285.85 L524.05,286.71 L524.15,287.58 L524.26,288.44 L524.36,289.30 L524.36,289.30Z" fill="#a6cfea" fill-opacity="0.92"/>
<path d="M524.36,138.10 L524.36,138.10 L524.44,138.80 L524.53,139.50 L524.61,140.20 L524.70,140.89 L524.78,141.59 L524.86,142.29 L524.95,142.99 L525.03,143.69 L525.11,144.39 L525.11,145.09 L525.11,145.79 L525.11,146.48 L525.11,147.18 L525.11,147.88 L525.11,148.58 L525.11,149.28 L525.20,149.98 L525.29,150.68 L525.39,151.38 L525.54,152.07 L525.76,152.77 L526.05,153.47 L526.41,154.17 L526.83,154.87 L527.29,155.57 L527.80,156.27 L528.35,156.97 L528.93,157.66 L529.53,158.36 L530.16,159.06 L530.79,159.76 L531.43,160.46 L532.07,161.16 L532.70,161.86 L533.32,162.56 L533.92,163.25 L534.49,163.95 L535.03,164.65 L535.58,165.35 L536.14,166.05 L536.71,166.75 L537.28,167.45 L537.87,168.15 L538.46,168.84 L539.05,169.54 L539.64,170.24 L540.24,170.94 L540.83,171.64 L541.42,172.34 L542.00,173.04 L542.57,173.74 L543.14,174.44 L543.69,175.13 L544.23,175.83 L544.75,176.53 L545.26,177.23 L545.76,177.93 L546.27,178.63 L546.81,179.33 L547.37,180.03 L547.94,180.72 L548.51,181.42 L549.09,182.12 L549.65,182.82 L550.20,183.52 L550.73,184.22 L551.24,184.92 L551.71,185.62 L552.14,186.31 L552.53,187.01 L552.86,187.71 L553.14,188.41 L553.35,189.11 L553.49,189.81 L553.56,190.51 L553.54,191.20 L553.45,191.90 L553.30,192.60 L553.09,193.30 L552.83,194.00 L552.52,194.70 L552.16,195.40 L551.78,196.10 L551.36,196.80 L550.92,197.49 L550.46,198.19 L550.00,198.89 L549.52,199.59 L549.05,200.29 L548.58,200.99 L548.13,201.69 L547.70,202.38 L547.29,203.08 L546.91,203.78 L546.55,204.48 L546.20,205.18 L545.84,205.88 L545.49,206.58 L545.15,207.28 L544.80,207.98 L544.45,208.67 L544.10,209.37 L543.75,210.07 L543.40,210.77 L543.05,211.47 L542.69,212.17 L542.34,212.87 L541.97,213.56 L541.61,214.26 L541.24,214.96 L540.86,215.66 L540.48,216.36 L540.10,217.06 L539.70,217.76 L539.30,218.46 L538.88,219.16 L538.46,219.85 L538.03,220.55 L537.60,221.25 L537.16,221.95 L536.71,222.65 L536.27,223.35 L535.83,224.05 L535.38,224.75 L534.94,225.44 L534.51,226.14 L534.07,226.84 L533.65,227.54 L533.23,228.24 L532.81,228.94 L532.41,229.64 L532.02,230.34 L531.62,231.03 L531.21,231.73 L530.79,232.43 L530.37,233.13 L529.94,233.83 L529.51,234.53 L529.09,235.23 L528.67,235.93 L528.26,236.62 L527.87,237.32 L527.48,238.02 L527.12,238.72 L526.78,239.42 L526.46,240.12 L526.16,240.82 L525.90,241.51 L525.67,242.21 L525.47,242.91 L525.31,243.61 L525.16,244.31 L525.01,245.01 L524.87,245.71 L524.78,246.41 L524.70,247.11 L524.61,247.80 L524.53,248.50 L524.44,249.20 L524.36,249.90 L524.36,249.90Z" fill="#f2c18f" fill-opacity="0.92"/>
<path d="M583.22,256.40 L583.22,256.40 L583.11,257.34 L582.99,258.29 L582.88,259.23 L582.77,260.18 L582.65,261.12 L582.54,262.07 L582.47,263.01 L582.47,263.96 L582.47,264.90 L582.47,265.85 L582.47,266.79 L582.47,267.74 L582.47,268.69 L582.47,269.63 L582.47,270.57 L582.47,271.52 L582.47,272.46 L582.47,273.41 L582.47,274.35 L582.47,275.30 L582.47,276.25 L582.43,277.19 L582.36,278.13 L582.28,279.08 L582.21,280.02 L582.13,280.97 L582.05,281.91 L581.97,282.86 L581.88,283.81 L581.79,284.75 L581.70,285.69 L581.61,286.64 L581.52,287.58 L581.42,288.53 L581.32,289.47 L581.22,290.42 L581.12,291.37 L581.01,292.31 L580.90,293.25 L580.79,294.20 L580.68,295.14 L580.57,296.09 L580.44,297.03 L580.28,297.98 L580.09,298.93 L579.89,299.87 L579.65,300.81 L579.40,301.76 L579.13,302.70 L578.83,303.65 L578.52,304.59 L578.19,305.54 L577.85,306.49 L577.49,307.43 L577.12,308.38 L576.73,309.32 L576.33,310.26 L575.92,311.21 L575.51,312.15 L575.08,313.10 L574.65,314.05 L574.21,314.99 L573.76,315.94 L573.23,316.88 L572.62,317.82 L571.94,318.77 L571.21,319.71 L570.44,320.66 L569.66,321.61 L568.86,322.55 L568.08,323.50 L567.32,324.44 L566.60,325.38 L565.94,326.33 L565.35,327.27 L564.84,328.22 L564.44,329.16 L564.08,330.11 L563.76,331.06 L563.47,332.00 L563.20,332.94 L562.94,333.89 L562.70,334.84 L562.47,335.78 L562.23,336.73 L561.99,337.67 L561.74,338.62 L561.47,339.56 L561.18,340.50 L560.85,341.45 L560.49,342.39 L560.04,343.34 L559.51,344.28 L558.92,345.23 L558.29,346.18 L557.64,347.12 L557.00,348.06 L556.37,349.01 L555.78,349.96 L555.24,350.90 L554.78,351.85 L554.41,352.79 L554.15,353.74 L554.03,354.68 L554.02,355.62 L554.02,356.57 L554.02,357.51 L554.02,358.46 L554.02,359.41 L554.02,360.35 L554.02,361.30 L554.08,362.24 L554.36,363.19 L554.85,364.13 L555.51,365.07 L556.33,366.02 L557.27,366.97 L558.31,367.91 L559.41,368.86 L560.55,369.80 L561.69,370.75 L562.82,371.69 L563.90,372.63 L564.90,373.58 L565.79,374.53 L566.60,375.47 L567.42,376.42 L568.24,377.36 L569.07,378.31 L569.89,379.25 L570.70,380.19 L571.50,381.14 L572.29,382.09 L573.05,383.03 L573.80,383.98 L574.51,384.92 L575.20,385.87 L575.85,386.81 L576.46,387.75 L577.05,388.70 L577.64,389.65 L578.23,390.59 L578.81,391.54 L579.37,392.48 L579.90,393.43 L580.40,394.37 L580.85,395.31 L581.25,396.26 L581.58,397.21 L581.85,398.15 L582.06,399.10 L582.26,400.04 L582.45,400.99 L582.54,401.93 L582.65,402.88 L582.77,403.82 L582.88,404.77 L582.99,405.71 L583.11,406.66 L583.22,407.60 L583.22,407.60Z" fill="#a6cfea" fill-opacity="0.92"/>
<path d="M583.22,236.70 L583.22,236.70 L583.33,237.66 L583.45,238.62 L583.56,239.57 L583.68,240.53 L583.79,241.49 L583.91,242.45 L583.97,243.41 L583.97,244.36 L583.97,245.32 L583.97,246.28 L583.97,247.24 L583.97,248.20 L583.97,249.16 L583.97,250.11 L583.97,251.07 L583.97,252.03 L583.97,252.99 L583.97,253.95 L583.97,254.90 L583.97,255.86 L583.97,256.82 L583.97,257.78 L583.97,258.74 L583.97,259.69 L583.97,260.65 L584.02,261.61 L584.08,262.57 L584.14,263.53 L584.20,264.49 L584.27,265.44 L584.33,266.40 L584.40,267.36 L584.47,268.32 L584.54,269.28 L584.61,270.23 L584.72,271.19 L584.85,272.15 L585.01,273.11 L585.19,274.07 L585.39,275.02 L585.62,275.98 L585.86,276.94 L586.12,277.90 L586.40,278.86 L586.70,279.82 L587.01,280.77 L587.34,281.73 L587.67,282.69 L588.02,283.65 L588.37,284.61 L588.73,285.56 L589.10,286.52 L589.47,287.48 L589.84,288.44 L590.22,289.40 L590.60,290.36 L590.97,291.31 L591.35,292.27 L591.72,293.23 L592.08,294.19 L592.44,295.15 L592.79,296.10 L593.14,297.06 L593.49,298.02 L593.85,298.98 L594.22,299.94 L594.60,300.89 L594.98,301.85 L595.38,302.81 L595.78,303.77 L596.19,304.73 L596.62,305.69 L597.05,306.64 L597.50,307.60 L597.96,308.56 L598.44,309.52 L598.97,310.48 L599.53,311.43 L600.12,312.39 L600.73,313.35 L601.37,314.31 L602.01,315.27 L602.65,316.22 L603.28,317.18 L603.91,318.14 L604.51,319.10 L605.08,320.06 L605.62,321.01 L606.12,321.97 L606.59,322.93 L607.07,323.89 L607.57,324.85 L608.08,325.81 L608.59,326.76 L609.09,327.72 L609.58,328.68 L610.05,329.64 L610.50,330.60 L610.92,331.55 L611.30,332.51 L611.63,333.47 L611.91,334.43 L612.14,335.39 L612.30,336.35 L612.40,337.30 L612.42,338.26 L612.40,339.22 L612.35,340.18 L612.28,341.14 L612.18,342.09 L612.06,343.05 L611.92,344.01 L611.76,344.97 L611.58,345.93 L611.38,346.88 L611.17,347.84 L610.94,348.80 L610.71,349.76 L610.46,350.72 L610.17,351.67 L609.75,352.63 L609.19,353.59 L608.52,354.55 L607.76,355.51 L606.93,356.47 L606.06,357.42 L605.15,358.38 L604.25,359.34 L603.35,360.30 L602.50,361.26 L601.68,362.21 L600.81,363.17 L599.91,364.13 L598.97,365.09 L598.02,366.05 L597.05,367.00 L596.08,367.96 L595.12,368.92 L594.18,369.88 L593.26,370.84 L592.38,371.80 L591.55,372.75 L590.77,373.71 L590.05,374.67 L589.37,375.63 L588.67,376.59 L587.99,377.54 L587.31,378.50 L586.67,379.46 L586.06,380.42 L585.49,381.38 L584.99,382.34 L584.56,383.29 L584.20,384.25 L583.94,385.21 L583.73,386.17 L583.56,387.13 L583.45,388.08 L583.33,389.04 L583.22,390.00 L583.22,390.00Z" fill="#f2c18f" fill-opacity="0.92"/>
<path d="M642.08,254.90 L642.08,254.90 L642.00,255.57 L641.92,256.24 L641.84,256.91 L641.76,257.58 L641.68,258.25 L641.60,258.92 L641.52,259.59 L641.44,260.25 L641.36,260.92 L641.33,261.59 L641.33,262.26 L641.33,262.93 L641.23,263.60 L641.10,264.27 L640.97,264.94 L640.83,265.61 L640.69,266.28 L640.54,266.95 L640.38,267.62 L640.22,268.29 L640.05,268.96 L639.88,269.63 L639.71,270.30 L639.53,270.97 L639.34,271.63 L639.12,272.30 L638.84,272.97 L638.51,273.64 L638.14,274.31 L637.73,274.98 L637.28,275.65 L636.79,276.32 L636.29,276.99 L635.75,277.66 L635.20,278.33 L634.63,279.00 L634.05,279.67 L633.47,280.34 L632.88,281.01 L632.30,281.68 L631.72,282.34 L631.15,283.01 L630.58,283.68 L629.96,284.35 L629.31,285.02 L628.62,285.69 L627.92,286.36 L627.19,287.03 L626.45,287.70 L625.71,288.37 L624.96,289.04 L624.22,289.71 L623.50,290.38 L622.79,291.05 L622.10,291.72 L621.44,292.38 L620.82,293.05 L620.24,293.72 L619.71,294.39 L619.22,295.06 L618.72,295.73 L618.21,296.40 L617.69,297.07 L617.17,297.74 L616.66,298.41 L616.16,299.08 L615.68,299.75 L615.21,300.42 L614.78,301.09 L614.37,301.76 L614.00,302.43 L613.68,303.10 L613.40,303.76 L613.18,304.43 L613.01,305.10 L612.91,305.77 L612.88,306.44 L612.95,307.11 L613.14,307.78 L613.45,308.45 L613.84,309.12 L614.33,309.79 L614.89,310.46 L615.51,311.13 L616.18,311.80 L616.89,312.47 L617.63,313.14 L618.39,313.81 L619.15,314.47 L619.90,315.14 L620.64,315.81 L621.35,316.48 L622.01,317.15 L622.63,317.82 L623.20,318.49 L623.79,319.16 L624.39,319.83 L625.00,320.50 L625.62,321.17 L626.23,321.84 L626.85,322.51 L627.45,323.18 L628.04,323.85 L628.61,324.51 L629.16,325.18 L629.69,325.85 L630.18,326.52 L630.64,327.19 L631.06,327.86 L631.45,328.53 L631.82,329.20 L632.18,329.87 L632.53,330.54 L632.87,331.21 L633.20,331.88 L633.52,332.55 L633.83,333.22 L634.13,333.89 L634.42,334.56 L634.70,335.23 L634.98,335.89 L635.25,336.56 L635.51,337.23 L635.77,337.90 L636.02,338.57 L636.27,339.24 L636.52,339.91 L636.76,340.58 L637.00,341.25 L637.24,341.92 L637.49,342.59 L637.74,343.26 L637.99,343.93 L638.24,344.60 L638.49,345.27 L638.74,345.94 L638.99,346.60 L639.24,347.27 L639.48,347.94 L639.72,348.61 L639.95,349.28 L640.17,349.95 L640.39,350.62 L640.59,351.29 L640.79,351.96 L640.97,352.63 L641.14,353.30 L641.30,353.97 L641.33,354.64 L641.33,355.31 L641.36,355.98 L641.44,356.64 L641.52,357.31 L641.60,357.98 L641.68,358.65 L641.76,359.32 L641.84,359.99 L641.92,360.66 L642.00,361.33 L642.08,362.00 L642.08,362.00Z" fill="#a6cfea" fill-opacity="0.92"/>
<path d="M642.08,266.50 L642.08,266.50 L642.48,267.12 L642.89,267.75 L643.30,268.37 L643.72,268.99 L644.13,269.61 L644.56,270.24 L644.98,270.86 L645.41,271.48 L645.85,272.10 L646.29,272.73 L646.74,273.35 L647.19,273.97 L647.64,274.59 L648.11,275.21 L648.59,275.84 L649.08,276.46 L649.58,277.08 L650.10,277.70 L650.63,278.33 L651.16,278.95 L651.70,279.57 L652.25,280.19 L652.79,280.82 L653.35,281.44 L653.90,282.06 L654.45,282.69 L655.00,283.31 L655.55,283.93 L656.09,284.55 L656.63,285.18 L657.16,285.80 L657.68,286.42 L658.20,287.04 L658.70,287.67 L659.18,288.29 L659.66,288.91 L660.11,289.53 L660.55,290.16 L660.97,290.78 L661.38,291.40 L661.77,292.02 L662.16,292.64 L662.55,293.27 L662.93,293.89 L663.32,294.51 L663.70,295.13 L664.07,295.76 L664.44,296.38 L664.81,297.00 L665.17,297.62 L665.53,298.25 L665.87,298.87 L666.22,299.49 L666.55,300.12 L666.87,300.74 L667.19,301.36 L667.50,301.98 L667.79,302.61 L668.08,303.23 L668.35,303.85 L668.61,304.47 L668.86,305.10 L669.10,305.72 L669.32,306.34 L669.53,306.96 L669.73,307.59 L669.91,308.21 L670.09,308.83 L670.28,309.45 L670.46,310.07 L670.63,310.70 L670.80,311.32 L670.94,311.94 L671.07,312.56 L671.17,313.19 L671.24,313.81 L671.28,314.43 L671.27,315.06 L671.17,315.68 L670.99,316.30 L670.75,316.92 L670.43,317.55 L670.06,318.17 L669.64,318.79 L669.18,319.41 L668.68,320.04 L668.16,320.66 L667.62,321.28 L667.07,321.90 L666.51,322.53 L665.96,323.15 L665.43,323.77 L664.91,324.39 L664.41,325.01 L663.87,325.64 L663.29,326.26 L662.67,326.88 L662.03,327.50 L661.37,328.13 L660.68,328.75 L659.98,329.37 L659.27,330.00 L658.56,330.62 L657.84,331.24 L657.12,331.86 L656.42,332.49 L655.72,333.11 L655.04,333.73 L654.39,334.35 L653.76,334.98 L653.15,335.60 L652.59,336.22 L652.06,336.84 L651.58,337.47 L651.14,338.09 L650.72,338.71 L650.30,339.33 L649.89,339.96 L649.49,340.58 L649.09,341.20 L648.70,341.82 L648.32,342.45 L647.95,343.07 L647.60,343.69 L647.25,344.31 L646.91,344.94 L646.59,345.56 L646.29,346.18 L645.99,346.80 L645.72,347.43 L645.46,348.05 L645.22,348.67 L644.99,349.29 L644.79,349.92 L644.60,350.54 L644.44,351.16 L644.29,351.78 L644.14,352.41 L643.99,353.03 L643.84,353.65 L643.70,354.27 L643.56,354.89 L643.42,355.52 L643.29,356.14 L643.16,356.76 L643.03,357.38 L642.92,358.01 L642.83,358.63 L642.83,359.25 L642.83,359.88 L642.75,360.50 L642.68,361.12 L642.60,361.74 L642.53,362.37 L642.45,362.99 L642.38,363.61 L642.30,364.23 L642.23,364.86 L642.15,365.48 L642.08,366.10 L642.08,366.10Z" fill="#f2c18f" fill-opacity="0.92"/>
<path d="M700.94,274.80 L700.94,274.80 L700.73,276.56 L700.52,278.33 L700.31,280.09 L700.19,281.86 L700.19,283.62 L700.19,285.38 L700.19,287.15 L700.19,288.91 L700.19,290.67 L700.19,292.44 L700.19,294.20 L700.19,295.97 L700.07,297.73 L699.94,299.49 L699.81,301.26 L699.66,303.02 L699.51,304.78 L699.36,306.55 L699.19,308.31 L699.02,310.07 L698.85,311.84 L698.67,313.60 L698.48,315.37 L698.29,317.13 L698.10,318.89 L697.90,320.66 L697.70,322.42 L697.49,324.19 L697.26,325.95 L696.96,327.71 L696.59,329.48 L696.16,331.24 L695.68,333.00 L695.16,334.77 L694.60,336.53 L694.01,338.30 L693.40,340.06 L692.77,341.82 L692.14,343.59 L691.50,345.35 L690.86,347.11 L690.24,348.88 L689.64,350.64 L689.06,352.40 L688.52,354.17 L688.02,355.93 L687.57,357.70 L687.14,359.46 L686.73,361.22 L686.33,362.99 L685.93,364.75 L685.55,366.51 L685.17,368.28 L684.80,370.04 L684.43,371.81 L684.07,373.57 L683.72,375.33 L683.38,377.10 L683.04,378.86 L682.70,380.62 L682.37,382.39 L682.05,384.15 L681.73,385.92 L681.42,387.68 L681.11,389.44 L680.80,391.21 L680.51,392.97 L680.22,394.74 L679.93,396.50 L679.66,398.26 L679.39,400.03 L679.12,401.79 L678.86,403.55 L678.61,405.32 L678.35,407.08 L678.10,408.85 L677.85,410.61 L677.60,412.37 L677.34,414.14 L677.09,415.90 L676.83,417.66 L676.57,419.43 L676.31,421.19 L676.03,422.96 L675.76,424.72 L675.45,426.48 L675.10,428.25 L674.74,430.01 L674.35,431.77 L673.97,433.54 L673.58,435.30 L673.21,437.06 L672.86,438.83 L672.55,440.59 L672.27,442.36 L672.04,444.12 L671.87,445.88 L671.77,447.65 L671.74,449.41 L671.75,451.18 L671.79,452.94 L671.84,454.70 L671.92,456.47 L672.01,458.23 L672.11,459.99 L672.23,461.76 L672.36,463.52 L672.50,465.28 L672.72,467.05 L673.11,468.81 L673.66,470.58 L674.34,472.34 L675.12,474.10 L675.97,475.87 L676.87,477.63 L677.78,479.39 L678.68,481.16 L679.55,482.92 L680.48,484.69 L681.49,486.45 L682.56,488.21 L683.67,489.98 L684.79,491.74 L685.92,493.50 L687.02,495.27 L688.08,497.03 L689.08,498.80 L690.07,500.56 L691.09,502.32 L692.13,504.09 L693.15,505.85 L694.14,507.62 L695.07,509.38 L695.90,511.14 L696.62,512.91 L697.20,514.67 L697.63,516.43 L698.01,518.20 L698.36,519.96 L698.68,521.73 L698.97,523.49 L699.23,525.25 L699.46,527.02 L699.65,528.78 L699.82,530.54 L699.95,532.31 L700.06,534.07 L700.17,535.84 L700.19,537.60 L700.19,539.36 L700.19,541.13 L700.19,542.89 L700.19,544.65 L700.19,546.42 L700.19,548.18 L700.19,549.94 L700.31,551.71 L700.52,553.47 L700.73,555.24 L700.94,557.00 L700.94,557.00Z" fill="#a6cfea" fill-opacity="0.92"/>
<path d="M700.94,266.50 L700.94,266.50 L701.12,268.00 L701.30,269.51 L701.48,271.01 L701.66,272.52 L701.81,274.02 L702.04,275.53 L702.29,277.04 L702.55,278.54 L702.83,280.05 L703.13,281.55 L703.43,283.06 L703.75,284.56 L704.09,286.06 L704.43,287.57 L704.78,289.07 L705.15,290.58 L705.52,292.08 L705.90,293.59 L706.29,295.10 L706.68,296.60 L707.08,298.11 L707.48,299.61 L707.91,301.12 L708.38,302.62 L708.89,304.12 L709.43,305.63 L710.01,307.13 L710.61,308.64 L711.23,310.14 L711.87,311.65 L712.53,313.15 L713.19,314.66 L713.86,316.17 L714.53,317.67 L715.20,319.18 L715.86,320.68 L716.51,322.19 L717.14,323.69 L717.75,325.19 L718.39,326.70 L719.05,328.20 L719.74,329.71 L720.43,331.22 L721.14,332.72 L721.84,334.23 L722.54,335.73 L723.23,337.24 L723.91,338.74 L724.55,340.25 L725.17,341.75 L725.75,343.25 L726.28,344.76 L726.77,346.26 L727.20,347.77 L727.56,349.27 L727.89,350.78 L728.22,352.28 L728.54,353.79 L728.85,355.30 L729.14,356.80 L729.41,358.31 L729.64,359.81 L729.84,361.31 L729.99,362.82 L730.10,364.32 L730.14,365.83 L730.12,367.34 L730.04,368.84 L729.90,370.35 L729.72,371.85 L729.49,373.36 L729.23,374.86 L728.94,376.37 L728.63,377.87 L728.30,379.38 L727.96,380.88 L727.62,382.38 L727.28,383.89 L726.95,385.39 L726.63,386.90 L726.34,388.40 L726.07,389.91 L725.83,391.42 L725.62,392.92 L725.42,394.43 L725.22,395.93 L725.04,397.44 L724.85,398.94 L724.68,400.44 L724.50,401.95 L724.32,403.45 L724.15,404.96 L723.96,406.47 L723.77,407.97 L723.57,409.48 L723.36,410.98 L723.14,412.49 L722.90,413.99 L722.65,415.50 L722.38,417.00 L722.08,418.50 L721.76,420.01 L721.41,421.51 L721.04,423.02 L720.66,424.52 L720.26,426.03 L719.85,427.54 L719.42,429.04 L718.98,430.55 L718.54,432.05 L718.09,433.56 L717.63,435.06 L717.17,436.56 L716.72,438.07 L716.26,439.57 L715.81,441.08 L715.34,442.59 L714.85,444.09 L714.33,445.60 L713.81,447.10 L713.26,448.61 L712.71,450.11 L712.16,451.62 L711.61,453.12 L711.06,454.62 L710.51,456.13 L709.98,457.63 L709.47,459.14 L708.97,460.64 L708.50,462.15 L708.06,463.66 L707.65,465.16 L707.26,466.67 L706.89,468.17 L706.52,469.68 L706.15,471.18 L705.79,472.69 L705.45,474.19 L705.11,475.70 L704.78,477.20 L704.46,478.71 L704.15,480.21 L703.86,481.72 L703.58,483.22 L703.32,484.73 L703.07,486.23 L702.84,487.74 L702.63,489.24 L702.44,490.75 L702.26,492.25 L702.08,493.75 L701.91,495.26 L701.75,496.76 L701.69,498.27 L701.69,499.77 L701.66,501.28 L701.48,502.78 L701.30,504.29 L701.12,505.80 L700.94,507.30 L700.94,507.30Z" fill="#f2c18f" fill-opacity="0.92"/>
<path d="M759.80,401.20 L759.80,401.20 L759.62,402.67 L759.45,404.15 L759.27,405.62 L759.09,407.09 L759.05,408.57 L759.05,410.04 L759.05,411.52 L759.05,412.99 L759.05,414.46 L759.05,415.94 L759.05,417.41 L759.05,418.88 L759.05,420.36 L759.05,421.83 L759.05,423.31 L759.05,424.78 L759.05,426.25 L759.05,427.73 L759.05,429.20 L759.05,430.68 L759.05,432.15 L759.05,433.62 L759.05,435.10 L759.05,436.57 L759.05,438.04 L759.05,439.52 L759.05,440.99 L759.05,442.46 L759.05,443.94 L759.05,445.41 L759.05,446.89 L759.05,448.36 L759.05,449.83 L759.05,451.31 L759.05,452.78 L759.05,454.25 L759.05,455.73 L759.05,457.20 L759.05,458.68 L759.05,460.15 L759.05,461.62 L759.05,463.10 L759.05,464.57 L759.05,466.04 L759.05,467.52 L759.05,468.99 L759.05,470.47 L759.05,471.94 L759.05,473.41 L759.05,474.89 L759.05,476.36 L759.05,477.83 L759.05,479.31 L759.05,480.78 L759.05,482.26 L759.05,483.73 L759.05,485.20 L759.05,486.68 L759.05,488.15 L759.05,489.62 L759.05,491.10 L759.05,492.57 L759.05,494.05 L759.05,495.52 L759.05,496.99 L759.05,498.47 L759.05,499.94 L759.05,501.41 L759.05,502.89 L759.05,504.36 L759.05,505.84 L759.03,507.31 L759.00,508.78 L758.98,510.26 L758.95,511.73 L758.92,513.20 L758.89,514.68 L758.86,516.15 L758.83,517.63 L758.80,519.10 L758.73,520.57 L758.60,522.05 L758.40,523.52 L758.15,525.00 L757.84,526.47 L757.50,527.94 L757.12,529.42 L756.71,530.89 L756.28,532.36 L755.84,533.84 L755.33,535.31 L754.69,536.78 L753.94,538.26 L753.09,539.73 L752.17,541.21 L751.18,542.68 L750.16,544.15 L749.12,545.63 L748.07,547.10 L747.04,548.58 L745.99,550.05 L744.86,551.52 L743.66,553.00 L742.42,554.47 L741.16,555.94 L739.90,557.42 L738.66,558.89 L737.45,560.37 L736.31,561.84 L735.24,563.31 L734.15,564.79 L732.96,566.26 L731.84,567.73 L731.00,569.21 L730.61,570.68 L730.61,572.15 L730.63,573.63 L730.67,575.10 L730.73,576.58 L730.81,578.05 L730.89,579.52 L731.00,581.00 L731.11,582.47 L731.24,583.94 L731.38,585.42 L731.65,586.89 L732.19,588.37 L732.95,589.84 L733.90,591.31 L734.99,592.79 L736.17,594.26 L737.39,595.74 L738.61,597.21 L739.79,598.68 L740.87,600.16 L741.88,601.63 L742.90,603.10 L743.95,604.58 L745.00,606.05 L746.07,607.52 L747.13,609.00 L748.18,610.47 L749.22,611.95 L750.24,613.42 L751.23,614.89 L752.26,616.37 L753.38,617.84 L754.53,619.32 L755.66,620.79 L756.70,622.26 L757.61,623.74 L758.31,625.21 L758.76,626.68 L759.00,628.16 L759.05,629.63 L759.09,631.11 L759.27,632.58 L759.45,634.05 L759.62,635.53 L759.80,637.00 L759.80,637.00Z" fill="#a6cfea" fill-opacity="0.92"/>
<path d="M759.80,489.70 L759.80,489.70 L759.90,490.55 L760.00,491.40 L760.11,492.26 L760.21,493.11 L760.31,493.96 L760.41,494.81 L760.52,495.66 L760.55,496.51 L760.55,497.37 L760.55,498.22 L760.55,499.07 L760.55,499.92 L760.55,500.77 L760.55,501.63 L760.55,502.48 L760.55,503.33 L760.55,504.18 L760.55,505.03 L760.55,505.89 L760.55,506.74 L760.55,507.59 L760.55,508.44 L760.55,509.29 L760.55,510.14 L760.55,511.00 L760.55,511.85 L760.55,512.70 L760.55,513.55 L760.55,514.40 L760.55,515.26 L760.55,516.11 L760.64,516.96 L760.75,517.81 L760.88,518.66 L761.02,519.52 L761.17,520.37 L761.33,521.22 L761.50,522.07 L761.69,522.92 L761.88,523.77 L762.08,524.63 L762.29,525.48 L762.51,526.33 L762.74,527.18 L762.97,528.03 L763.22,528.89 L763.47,529.74 L763.72,530.59 L763.99,531.44 L764.26,532.29 L764.54,533.15 L764.82,534.00 L765.14,534.85 L765.54,535.70 L766.01,536.55 L766.53,537.40 L767.10,538.26 L767.72,539.11 L768.37,539.96 L769.05,540.81 L769.75,541.66 L770.47,542.52 L771.19,543.37 L771.91,544.22 L772.62,545.07 L773.32,545.92 L773.99,546.78 L774.63,547.63 L775.23,548.48 L775.79,549.33 L776.36,550.18 L776.94,551.03 L777.51,551.89 L778.08,552.74 L778.65,553.59 L779.22,554.44 L779.77,555.29 L780.32,556.15 L780.87,557.00 L781.39,557.85 L781.91,558.70 L782.41,559.55 L782.90,560.41 L783.36,561.26 L783.81,562.11 L784.24,562.96 L784.64,563.81 L785.06,564.66 L785.49,565.52 L785.93,566.37 L786.37,567.22 L786.80,568.07 L787.21,568.92 L787.60,569.78 L787.96,570.63 L788.28,571.48 L788.55,572.33 L788.76,573.18 L788.91,574.04 L788.99,574.89 L789.00,575.74 L788.97,576.59 L788.91,577.44 L788.82,578.29 L788.72,579.15 L788.59,580.00 L788.45,580.85 L788.29,581.70 L788.12,582.55 L787.95,583.41 L787.76,584.26 L787.57,585.11 L787.38,585.96 L787.15,586.81 L786.88,587.67 L786.58,588.52 L786.24,589.37 L785.87,590.22 L785.48,591.07 L785.05,591.92 L784.60,592.78 L784.13,593.63 L783.64,594.48 L783.13,595.33 L782.61,596.18 L782.07,597.04 L781.53,597.89 L780.97,598.74 L780.41,599.59 L779.85,600.44 L779.25,601.30 L778.60,602.15 L777.89,603.00 L777.14,603.85 L776.34,604.70 L775.52,605.56 L774.67,606.41 L773.81,607.26 L772.94,608.11 L772.06,608.96 L771.18,609.81 L770.32,610.67 L769.47,611.52 L768.65,612.37 L767.86,613.22 L767.10,614.07 L766.39,614.93 L765.72,615.78 L765.03,616.63 L764.35,617.48 L763.68,618.33 L763.04,619.18 L762.44,620.04 L761.89,620.89 L761.40,621.74 L760.99,622.59 L760.63,623.44 L760.30,624.30 L760.03,625.15 L759.80,626.00 L759.80,626.00Z" fill="#f2c18f" fill-opacity="0.92"/>
<path d="M818.66,334.80 L818.66,334.80 L818.59,335.42 L818.51,336.04 L818.44,336.65 L818.36,337.27 L818.29,337.89 L818.22,338.50 L818.14,339.12 L818.07,339.74 L817.99,340.36 L817.92,340.98 L817.91,341.59 L817.91,342.21 L817.91,342.83 L817.91,343.44 L817.91,344.06 L817.91,344.68 L817.91,345.30 L817.91,345.92 L817.91,346.53 L817.91,347.15 L817.85,347.77 L817.77,348.38 L817.70,349.00 L817.62,349.62 L817.53,350.24 L817.45,350.86 L817.36,351.47 L817.27,352.09 L817.18,352.71 L817.08,353.32 L816.98,353.94 L816.88,354.56 L816.78,355.18 L816.68,355.80 L816.57,356.41 L816.46,357.03 L816.32,357.65 L816.15,358.26 L815.95,358.88 L815.72,359.50 L815.46,360.12 L815.17,360.74 L814.85,361.35 L814.52,361.97 L814.16,362.59 L813.78,363.21 L813.39,363.82 L812.98,364.44 L812.56,365.06 L812.12,365.68 L811.68,366.29 L811.23,366.91 L810.78,367.53 L810.32,368.15 L809.86,368.76 L809.40,369.38 L808.94,370.00 L808.48,370.62 L808.03,371.23 L807.59,371.85 L807.12,372.47 L806.62,373.09 L806.10,373.70 L805.55,374.32 L804.98,374.94 L804.39,375.56 L803.79,376.17 L803.18,376.79 L802.56,377.41 L801.93,378.03 L801.31,378.64 L800.68,379.26 L800.06,379.88 L799.45,380.50 L798.85,381.11 L798.26,381.73 L797.69,382.35 L797.14,382.97 L796.62,383.58 L796.12,384.20 L795.65,384.82 L795.21,385.44 L794.81,386.05 L794.45,386.67 L794.09,387.29 L793.72,387.91 L793.34,388.52 L792.97,389.14 L792.60,389.76 L792.24,390.38 L791.88,390.99 L791.54,391.61 L791.22,392.23 L790.91,392.85 L790.62,393.46 L790.36,394.08 L790.13,394.70 L789.92,395.31 L789.75,395.93 L789.62,396.55 L789.52,397.17 L789.47,397.79 L789.47,398.40 L789.57,399.02 L789.78,399.64 L790.10,400.25 L790.51,400.87 L791.00,401.49 L791.56,402.11 L792.18,402.73 L792.86,403.34 L793.57,403.96 L794.30,404.58 L795.06,405.20 L795.82,405.81 L796.58,406.43 L797.33,407.05 L798.05,407.67 L798.73,408.28 L799.39,408.90 L800.09,409.52 L800.82,410.13 L801.58,410.75 L802.36,411.37 L803.14,411.99 L803.93,412.61 L804.71,413.22 L805.47,413.84 L806.20,414.46 L806.90,415.08 L807.56,415.69 L808.18,416.31 L808.81,416.93 L809.43,417.55 L810.06,418.16 L810.68,418.78 L811.29,419.40 L811.89,420.01 L812.48,420.63 L813.05,421.25 L813.59,421.87 L814.11,422.49 L814.60,423.10 L815.06,423.72 L815.47,424.34 L815.85,424.96 L816.19,425.57 L816.48,426.19 L816.74,426.81 L816.99,427.43 L817.24,428.04 L817.48,428.66 L817.70,429.28 L817.90,429.90 L818.09,430.51 L818.26,431.13 L818.40,431.75 L818.51,432.37 L818.59,432.98 L818.66,433.60 L818.66,433.60Z" fill="#a6cfea" fill-opacity="0.92"/>
<path d="M818.66,327.40 L818.66,327.40 L818.73,327.98 L818.80,328.56 L818.87,329.14 L818.94,329.71 L819.01,330.29 L819.08,330.87 L819.15,331.45 L819.22,332.03 L819.29,332.61 L819.35,333.19 L819.41,333.77 L819.41,334.34 L819.41,334.92 L819.41,335.50 L819.41,336.08 L819.41,336.66 L819.41,337.24 L819.41,337.82 L819.41,338.40 L819.41,338.97 L819.41,339.55 L819.41,340.13 L819.41,340.71 L819.41,341.29 L819.41,341.87 L819.41,342.45 L819.45,343.03 L819.50,343.60 L819.56,344.18 L819.62,344.76 L819.69,345.34 L819.75,345.92 L819.81,346.50 L819.88,347.08 L819.95,347.66 L820.02,348.23 L820.09,348.81 L820.17,349.39 L820.25,349.97 L820.36,350.55 L820.50,351.13 L820.67,351.71 L820.86,352.29 L821.07,352.87 L821.31,353.44 L821.57,354.02 L821.85,354.60 L822.14,355.18 L822.46,355.76 L822.79,356.34 L823.14,356.92 L823.50,357.50 L823.87,358.07 L824.26,358.65 L824.65,359.23 L825.06,359.81 L825.47,360.39 L825.89,360.97 L826.32,361.55 L826.75,362.12 L827.19,362.70 L827.62,363.28 L828.06,363.86 L828.50,364.44 L828.97,365.02 L829.49,365.60 L830.04,366.18 L830.64,366.75 L831.26,367.33 L831.91,367.91 L832.58,368.49 L833.28,369.07 L833.99,369.65 L834.71,370.23 L835.44,370.81 L836.18,371.38 L836.92,371.96 L837.65,372.54 L838.38,373.12 L839.10,373.70 L839.80,374.28 L840.49,374.86 L841.15,375.44 L841.79,376.01 L842.44,376.59 L843.17,377.17 L843.94,377.75 L844.72,378.33 L845.48,378.91 L846.19,379.49 L846.81,380.07 L847.31,380.64 L847.67,381.22 L847.85,381.80 L847.85,382.38 L847.80,382.96 L847.71,383.54 L847.58,384.12 L847.42,384.70 L847.22,385.27 L846.99,385.85 L846.73,386.43 L846.44,387.01 L846.13,387.59 L845.80,388.17 L845.45,388.75 L845.08,389.33 L844.69,389.90 L844.30,390.48 L843.89,391.06 L843.47,391.64 L843.05,392.22 L842.62,392.80 L842.19,393.38 L841.76,393.96 L841.26,394.53 L840.68,395.11 L840.02,395.69 L839.31,396.27 L838.53,396.85 L837.72,397.43 L836.87,398.01 L835.99,398.59 L835.10,399.16 L834.21,399.74 L833.33,400.32 L832.46,400.90 L831.61,401.48 L830.81,402.06 L830.05,402.64 L829.34,403.22 L828.70,403.79 L828.13,404.37 L827.56,404.95 L826.99,405.53 L826.43,406.11 L825.86,406.69 L825.30,407.27 L824.76,407.85 L824.22,408.43 L823.69,409.00 L823.18,409.58 L822.69,410.16 L822.22,410.74 L821.78,411.32 L821.36,411.90 L820.97,412.48 L820.60,413.06 L820.28,413.63 L819.99,414.21 L819.74,414.79 L819.52,415.37 L819.36,415.95 L819.21,416.53 L819.07,417.11 L818.95,417.69 L818.87,418.26 L818.80,418.84 L818.73,419.42 L818.66,420.00 L818.66,420.00Z" fill="#f2c18f" fill-opacity="0.92"/>
<path d="M877.52,350.30 L877.52,350.30 L877.33,351.86 L877.15,353.42 L876.96,354.98 L876.77,356.54 L876.77,358.10 L876.77,359.66 L876.77,361.22 L876.77,362.79 L876.64,364.35 L876.49,365.91 L876.32,367.47 L876.15,369.03 L875.97,370.59 L875.79,372.15 L875.60,373.71 L875.40,375.27 L875.21,376.83 L875.01,378.39 L874.80,379.95 L874.58,381.51 L874.34,383.07 L874.07,384.63 L873.79,386.19 L873.49,387.75 L873.17,389.32 L872.83,390.88 L872.48,392.44 L872.11,394.00 L871.73,395.56 L871.34,397.12 L870.94,398.68 L870.52,400.24 L870.10,401.80 L869.66,403.36 L869.22,404.92 L868.77,406.48 L868.32,408.04 L867.85,409.60 L867.34,411.16 L866.81,412.73 L866.25,414.29 L865.66,415.85 L865.05,417.41 L864.43,418.97 L863.78,420.53 L863.13,422.09 L862.46,423.65 L861.79,425.21 L861.11,426.77 L860.43,428.33 L859.69,429.89 L858.90,431.45 L858.06,433.01 L857.20,434.57 L856.32,436.13 L855.45,437.69 L854.60,439.26 L853.79,440.82 L853.02,442.38 L852.33,443.94 L851.72,445.50 L851.20,447.06 L850.75,448.62 L850.29,450.18 L849.84,451.74 L849.42,453.30 L849.04,454.86 L848.73,456.42 L848.49,457.98 L848.35,459.54 L848.32,461.10 L848.40,462.66 L848.56,464.23 L848.79,465.79 L849.08,467.35 L849.41,468.91 L849.77,470.47 L850.16,472.03 L850.54,473.59 L850.92,475.15 L851.28,476.71 L851.65,478.27 L852.06,479.83 L852.49,481.39 L852.94,482.95 L853.41,484.51 L853.89,486.07 L854.38,487.63 L854.87,489.20 L855.36,490.76 L855.85,492.32 L856.33,493.88 L856.80,495.44 L857.25,497.00 L857.70,498.56 L858.14,500.12 L858.57,501.68 L859.01,503.24 L859.44,504.80 L859.89,506.36 L860.33,507.92 L860.79,509.48 L861.26,511.04 L861.75,512.61 L862.25,514.17 L862.78,515.73 L863.34,517.29 L863.95,518.85 L864.58,520.41 L865.23,521.97 L865.90,523.53 L866.56,525.09 L867.22,526.65 L867.87,528.21 L868.49,529.77 L869.08,531.33 L869.62,532.89 L870.12,534.45 L870.59,536.01 L871.07,537.58 L871.54,539.14 L872.00,540.70 L872.44,542.26 L872.87,543.82 L873.27,545.38 L873.65,546.94 L874.00,548.50 L874.31,550.06 L874.58,551.62 L874.81,553.18 L875.00,554.74 L875.17,556.30 L875.33,557.86 L875.48,559.42 L875.62,560.98 L875.75,562.54 L875.87,564.11 L875.98,565.67 L876.09,567.23 L876.19,568.79 L876.28,570.35 L876.37,571.91 L876.46,573.47 L876.54,575.03 L876.62,576.59 L876.70,578.15 L876.77,579.71 L876.77,581.27 L876.77,582.83 L876.77,584.39 L876.77,585.95 L876.77,587.51 L876.77,589.08 L876.77,590.64 L876.77,592.20 L876.77,593.76 L876.96,595.32 L877.15,596.88 L877.33,598.44 L877.52,600.00 L877.52,600.00Z" fill="#a6cfea" fill-opacity="0.92"/>
<path d="M877.52,311.50 L877.52,311.50 L877.71,313.07 L877.90,314.65 L878.09,316.22 L878.27,317.80 L878.27,319.37 L878.27,320.95 L878.27,322.52 L878.27,324.10 L878.27,325.67 L878.27,327.24 L878.27,328.82 L878.27,330.39 L878.27,331.97 L878.27,333.54 L878.33,335.12 L878.43,336.69 L878.55,338.26 L878.67,339.84 L878.79,341.41 L878.93,342.99 L879.06,344.56 L879.21,346.14 L879.36,347.71 L879.51,349.28 L879.68,350.86 L879.84,352.43 L880.01,354.01 L880.19,355.58 L880.38,357.16 L880.56,358.73 L880.76,360.31 L881.02,361.88 L881.38,363.45 L881.82,365.03 L882.33,366.60 L882.90,368.18 L883.51,369.75 L884.17,371.33 L884.85,372.90 L885.55,374.48 L886.26,376.05 L886.96,377.62 L887.65,379.20 L888.34,380.77 L889.09,382.35 L889.88,383.92 L890.71,385.50 L891.57,387.07 L892.44,388.64 L893.31,390.22 L894.19,391.79 L895.05,393.37 L895.89,394.94 L896.70,396.52 L897.46,398.09 L898.19,399.66 L898.97,401.24 L899.77,402.81 L900.58,404.39 L901.39,405.96 L902.18,407.54 L902.93,409.11 L903.63,410.69 L904.26,412.26 L904.80,413.83 L905.23,415.41 L905.55,416.98 L905.73,418.56 L905.87,420.13 L906.01,421.71 L906.13,423.28 L906.25,424.86 L906.35,426.43 L906.44,428.00 L906.52,429.58 L906.59,431.15 L906.65,432.73 L906.69,434.30 L906.71,435.88 L906.72,437.45 L906.72,439.02 L906.72,440.60 L906.72,442.17 L906.72,443.75 L906.72,445.32 L906.72,446.90 L906.72,448.47 L906.72,450.04 L906.72,451.62 L906.72,453.19 L906.72,454.77 L906.72,456.34 L906.66,457.92 L906.37,459.49 L905.88,461.07 L905.22,462.64 L904.44,464.21 L903.55,465.79 L902.60,467.36 L901.63,468.94 L900.66,470.51 L899.73,472.09 L898.87,473.66 L898.13,475.24 L897.52,476.81 L896.97,478.38 L896.46,479.96 L895.97,481.53 L895.51,483.11 L895.06,484.68 L894.61,486.26 L894.17,487.83 L893.72,489.40 L893.25,490.98 L892.77,492.55 L892.26,494.13 L891.72,495.70 L891.14,497.28 L890.50,498.85 L889.84,500.42 L889.14,502.00 L888.43,503.57 L887.71,505.15 L887.00,506.72 L886.30,508.30 L885.63,509.87 L884.99,511.45 L884.39,513.02 L883.84,514.59 L883.34,516.17 L882.82,517.74 L882.31,519.32 L881.80,520.89 L881.31,522.47 L880.83,524.04 L880.38,525.62 L879.97,527.19 L879.60,528.76 L879.29,530.34 L879.03,531.91 L878.83,533.49 L878.70,535.06 L878.58,536.64 L878.47,538.21 L878.37,539.78 L878.27,541.36 L878.27,542.93 L878.27,544.51 L878.27,546.08 L878.27,547.66 L878.27,549.23 L878.27,550.80 L878.27,552.38 L878.27,553.95 L878.27,555.53 L878.27,557.10 L878.09,558.68 L877.90,560.25 L877.71,561.83 L877.52,563.40 L877.52,563.40Z" fill="#f2c18f" fill-opacity="0.92"/>
<path d="M936.38,220.50 L936.38,220.50 L936.31,221.04 L936.25,221.59 L936.18,222.13 L936.12,222.68 L936.05,223.22 L935.97,223.77 L935.83,224.31 L935.67,224.86 L935.49,225.41 L935.29,225.95 L935.08,226.50 L934.86,227.04 L934.61,227.59 L934.36,228.13 L934.09,228.68 L933.80,229.22 L933.51,229.76 L933.20,230.31 L932.89,230.85 L932.56,231.40 L932.23,231.94 L931.88,232.49 L931.53,233.03 L931.18,233.58 L930.81,234.12 L930.44,234.67 L930.07,235.22 L929.69,235.76 L929.31,236.31 L928.93,236.85 L928.55,237.40 L928.16,237.94 L927.72,238.48 L927.19,239.03 L926.57,239.57 L925.87,240.12 L925.11,240.66 L924.28,241.21 L923.41,241.75 L922.48,242.30 L921.52,242.84 L920.54,243.39 L919.53,243.94 L918.51,244.48 L917.49,245.03 L916.47,245.57 L915.46,246.12 L914.48,246.66 L913.52,247.20 L912.60,247.75 L911.72,248.29 L910.90,248.84 L910.14,249.38 L909.44,249.93 L908.83,250.47 L908.30,251.02 L907.86,251.56 L907.52,252.11 L907.30,252.66 L907.19,253.20 L907.20,253.75 L907.33,254.29 L907.56,254.83 L907.89,255.38 L908.29,255.93 L908.77,256.47 L909.32,257.01 L909.91,257.56 L910.55,258.11 L911.22,258.65 L911.91,259.19 L912.62,259.74 L913.33,260.28 L914.03,260.83 L914.71,261.38 L915.37,261.92 L915.99,262.46 L916.56,263.01 L917.10,263.56 L917.67,264.10 L918.26,264.64 L918.86,265.19 L919.48,265.74 L920.11,266.28 L920.74,266.82 L921.39,267.37 L922.04,267.91 L922.69,268.46 L923.35,269.00 L924.00,269.55 L924.64,270.09 L925.27,270.64 L925.90,271.19 L926.51,271.73 L927.10,272.27 L927.67,272.82 L928.23,273.37 L928.76,273.91 L929.26,274.45 L929.73,275.00 L930.17,275.55 L930.58,276.09 L930.95,276.63 L931.28,277.18 L931.57,277.72 L931.82,278.27 L932.02,278.81 L932.20,279.36 L932.38,279.90 L932.55,280.45 L932.71,281.00 L932.86,281.54 L933.01,282.08 L933.16,282.63 L933.29,283.18 L933.42,283.72 L933.55,284.26 L933.67,284.81 L933.78,285.36 L933.89,285.90 L934.00,286.44 L934.10,286.99 L934.19,287.53 L934.29,288.08 L934.38,288.62 L934.46,289.17 L934.55,289.71 L934.63,290.26 L934.71,290.81 L934.78,291.35 L934.86,291.89 L934.93,292.44 L935.00,292.99 L935.08,293.53 L935.15,294.07 L935.22,294.62 L935.29,295.16 L935.36,295.71 L935.42,296.25 L935.49,296.80 L935.55,297.35 L935.62,297.89 L935.63,298.44 L935.63,298.98 L935.63,299.52 L935.63,300.07 L935.63,300.62 L935.63,301.16 L935.66,301.70 L935.73,302.25 L935.79,302.79 L935.86,303.34 L935.92,303.88 L935.99,304.43 L936.05,304.98 L936.12,305.52 L936.18,306.06 L936.25,306.61 L936.31,307.15 L936.38,307.70 L936.38,307.70Z" fill="#a6cfea" fill-opacity="0.92"/>
<path d="M936.38,220.50 L936.38,220.50 L936.44,220.97 L936.49,221.44 L936.55,221.92 L936.61,222.39 L936.66,222.86 L936.72,223.33 L936.78,223.80 L936.83,224.28 L936.89,224.75 L936.95,225.22 L937.00,225.69 L937.06,226.16 L937.17,226.63 L937.29,227.11 L937.41,227.58 L937.54,228.05 L937.68,228.52 L937.83,228.99 L937.98,229.47 L938.14,229.94 L938.30,230.41 L938.47,230.88 L938.65,231.35 L938.83,231.82 L939.01,232.30 L939.20,232.77 L939.40,233.24 L939.60,233.71 L939.80,234.18 L940.07,234.66 L940.43,235.13 L940.88,235.60 L941.42,236.07 L942.02,236.54 L942.70,237.02 L943.43,237.49 L944.22,237.96 L945.05,238.43 L945.93,238.90 L946.85,239.38 L947.79,239.85 L948.75,240.32 L949.73,240.79 L950.72,241.26 L951.71,241.73 L952.69,242.21 L953.67,242.68 L954.62,243.15 L955.56,243.62 L956.46,244.09 L957.33,244.57 L958.15,245.04 L958.92,245.51 L959.64,245.98 L960.30,246.45 L960.88,246.93 L961.39,247.40 L961.83,247.87 L962.28,248.34 L962.73,248.81 L963.18,249.28 L963.61,249.76 L964.02,250.23 L964.40,250.70 L964.75,251.17 L965.04,251.64 L965.28,252.12 L965.46,252.59 L965.56,253.06 L965.58,253.53 L965.50,254.00 L965.34,254.47 L965.10,254.95 L964.79,255.42 L964.41,255.89 L963.97,256.36 L963.48,256.83 L962.95,257.31 L962.38,257.78 L961.78,258.25 L961.16,258.72 L960.52,259.19 L959.88,259.67 L959.23,260.14 L958.60,260.61 L957.97,261.08 L957.37,261.55 L956.80,262.02 L956.26,262.50 L955.77,262.97 L955.31,263.44 L954.85,263.91 L954.38,264.38 L953.91,264.86 L953.43,265.33 L952.95,265.80 L952.46,266.27 L951.98,266.74 L951.49,267.22 L951.00,267.69 L950.52,268.16 L950.03,268.63 L949.55,269.10 L949.07,269.57 L948.60,270.05 L948.13,270.52 L947.66,270.99 L947.21,271.46 L946.76,271.93 L946.32,272.41 L945.88,272.88 L945.46,273.35 L945.05,273.82 L944.65,274.29 L944.27,274.77 L943.89,275.24 L943.54,275.71 L943.19,276.18 L942.87,276.65 L942.56,277.12 L942.27,277.60 L941.99,278.07 L941.74,278.54 L941.50,279.01 L941.26,279.48 L941.03,279.96 L940.80,280.43 L940.57,280.90 L940.35,281.37 L940.13,281.84 L939.92,282.32 L939.71,282.79 L939.50,283.26 L939.30,283.73 L939.11,284.20 L938.92,284.68 L938.73,285.15 L938.55,285.62 L938.38,286.09 L938.22,286.56 L938.06,287.03 L937.90,287.51 L937.76,287.98 L937.62,288.45 L937.49,288.92 L937.36,289.39 L937.25,289.87 L937.14,290.34 L937.04,290.81 L936.95,291.28 L936.89,291.75 L936.83,292.23 L936.78,292.70 L936.72,293.17 L936.66,293.64 L936.61,294.11 L936.55,294.58 L936.49,295.06 L936.44,295.53 L936.38,296.00 L936.38,296.00Z" fill="#f2c18f" fill-opacity="0.92"/>
<path d="M995.24,325.80 L995.24,325.80 L995.11,326.92 L994.97,328.05 L994.84,329.17 L994.70,330.30 L994.57,331.42 L994.49,332.55 L994.49,333.67 L994.49,334.80 L994.49,335.92 L994.49,337.04 L994.49,338.17 L994.49,339.29 L994.49,340.42 L994.49,341.54 L994.49,342.67 L994.49,343.79 L994.49,344.91 L994.49,346.04 L994.41,347.16 L994.33,348.29 L994.24,349.41 L994.15,350.54 L994.06,351.66 L993.96,352.79 L993.87,353.91 L993.77,355.03 L993.66,356.16 L993.56,357.28 L993.45,358.41 L993.34,359.53 L993.22,360.66 L993.11,361.78 L992.99,362.90 L992.87,364.03 L992.75,365.15 L992.63,366.28 L992.51,367.40 L992.38,368.53 L992.25,369.65 L992.12,370.77 L991.99,371.90 L991.86,373.02 L991.73,374.15 L991.58,375.27 L991.40,376.40 L991.19,377.52 L990.95,378.65 L990.69,379.77 L990.42,380.89 L990.13,382.02 L989.83,383.14 L989.52,384.27 L989.21,385.39 L988.91,386.52 L988.61,387.64 L988.31,388.76 L988.03,389.89 L987.77,391.01 L987.53,392.14 L987.31,393.26 L987.13,394.39 L986.97,395.51 L986.83,396.64 L986.71,397.76 L986.60,398.88 L986.50,400.01 L986.41,401.13 L986.33,402.26 L986.25,403.38 L986.18,404.51 L986.10,405.63 L986.02,406.75 L985.93,407.88 L985.84,409.00 L985.74,410.13 L985.62,411.25 L985.49,412.38 L985.35,413.50 L985.18,414.63 L984.99,415.75 L984.75,416.87 L984.41,418.00 L983.99,419.12 L983.49,420.25 L982.92,421.37 L982.30,422.50 L981.62,423.62 L980.90,424.75 L980.15,425.87 L979.38,426.99 L978.36,428.12 L977.06,429.24 L975.58,430.37 L974.02,431.49 L972.49,432.62 L971.08,433.74 L969.89,434.86 L969.03,435.99 L968.53,437.11 L968.09,438.24 L967.68,439.36 L967.30,440.49 L966.96,441.61 L966.67,442.74 L966.42,443.86 L966.23,444.98 L966.10,446.11 L966.04,447.23 L966.08,448.36 L966.28,449.48 L966.61,450.61 L967.06,451.73 L967.60,452.85 L968.19,453.98 L968.82,455.10 L969.46,456.23 L970.07,457.35 L970.72,458.48 L971.46,459.60 L972.28,460.73 L973.15,461.85 L974.08,462.97 L975.03,464.10 L976.01,465.22 L976.99,466.35 L977.96,467.47 L978.92,468.60 L979.83,469.72 L980.70,470.84 L981.53,471.97 L982.38,473.09 L983.24,474.22 L984.11,475.34 L984.98,476.47 L985.83,477.59 L986.65,478.72 L987.44,479.84 L988.19,480.96 L988.88,482.09 L989.51,483.21 L990.07,484.34 L990.55,485.46 L991.00,486.59 L991.43,487.71 L991.84,488.83 L992.23,489.96 L992.60,491.08 L992.94,492.21 L993.27,493.33 L993.56,494.46 L993.84,495.58 L994.08,496.70 L994.30,497.83 L994.48,498.95 L994.57,500.08 L994.70,501.20 L994.84,502.33 L994.97,503.45 L995.11,504.58 L995.24,505.70 L995.24,505.70Z" fill="#a6cfea" fill-opacity="0.92"/>
<path d="M995.24,353.50 L995.24,353.50 L995.36,354.54 L995.49,355.58 L995.61,356.61 L995.74,357.65 L995.86,358.69 L995.99,359.73 L995.99,360.77 L996.02,361.81 L996.18,362.84 L996.34,363.88 L996.51,364.92 L996.70,365.96 L996.89,367.00 L997.09,368.03 L997.30,369.07 L997.51,370.11 L997.73,371.15 L997.96,372.19 L998.20,373.22 L998.44,374.26 L998.68,375.30 L998.93,376.34 L999.18,377.38 L999.44,378.42 L999.69,379.45 L999.95,380.49 L1000.22,381.53 L1000.50,382.57 L1000.80,383.61 L1001.12,384.64 L1001.45,385.68 L1001.81,386.72 L1002.18,387.76 L1002.57,388.80 L1002.98,389.83 L1003.40,390.87 L1003.84,391.91 L1004.29,392.95 L1004.76,393.99 L1005.24,395.02 L1005.73,396.06 L1006.23,397.10 L1006.75,398.14 L1007.27,399.18 L1007.81,400.22 L1008.36,401.25 L1008.92,402.29 L1009.58,403.33 L1010.34,404.37 L1011.17,405.41 L1012.06,406.44 L1012.98,407.48 L1013.91,408.52 L1014.83,409.56 L1015.70,410.60 L1016.52,411.63 L1017.26,412.67 L1017.89,413.71 L1018.39,414.75 L1018.74,415.79 L1018.99,416.83 L1019.21,417.86 L1019.40,418.90 L1019.57,419.94 L1019.72,420.98 L1019.86,422.02 L1019.99,423.05 L1020.11,424.09 L1020.24,425.13 L1020.37,426.17 L1020.52,427.21 L1020.68,428.25 L1020.86,429.28 L1021.07,430.32 L1021.34,431.36 L1021.64,432.40 L1021.97,433.44 L1022.32,434.47 L1022.68,435.51 L1023.03,436.55 L1023.37,437.59 L1023.68,438.63 L1023.95,439.66 L1024.17,440.70 L1024.33,441.74 L1024.42,442.78 L1024.42,443.82 L1024.25,444.86 L1023.89,445.89 L1023.38,446.93 L1022.74,447.97 L1021.99,449.01 L1021.14,450.05 L1020.23,451.08 L1019.27,452.12 L1018.28,453.16 L1017.28,454.20 L1016.31,455.24 L1015.37,456.27 L1014.49,457.31 L1013.59,458.35 L1012.59,459.39 L1011.51,460.43 L1010.38,461.47 L1009.22,462.50 L1008.06,463.54 L1006.91,464.58 L1005.80,465.62 L1004.75,466.66 L1003.80,467.69 L1002.95,468.73 L1002.24,469.77 L1001.68,470.81 L1001.26,471.85 L1000.86,472.88 L1000.48,473.92 L1000.11,474.96 L999.76,476.00 L999.43,477.04 L999.11,478.08 L998.81,479.11 L998.52,480.15 L998.25,481.19 L998.00,482.23 L997.77,483.27 L997.55,484.30 L997.35,485.34 L997.16,486.38 L997.00,487.42 L996.85,488.46 L996.72,489.49 L996.61,490.53 L996.51,491.57 L996.43,492.61 L996.35,493.65 L996.27,494.69 L996.20,495.72 L996.12,496.76 L996.05,497.80 L995.99,498.84 L995.99,499.88 L995.99,500.91 L995.99,501.95 L995.99,502.99 L995.99,504.03 L995.99,505.07 L995.99,506.10 L995.99,507.14 L995.99,508.18 L995.99,509.22 L995.99,510.26 L995.99,511.30 L995.99,512.33 L995.99,513.37 L995.86,514.41 L995.74,515.45 L995.61,516.49 L995.49,517.52 L995.36,518.56 L995.24,519.60 L995.24,519.60Z" fill="#f2c18f" fill-opacity="0.92"/>
<path d="M1054.10,401.90 L1054.10,401.90 L1053.96,403.07 L1053.82,404.24 L1053.68,405.40 L1053.54,406.57 L1053.40,407.74 L1053.35,408.91 L1053.35,410.08 L1053.35,411.25 L1053.35,412.41 L1053.35,413.58 L1053.35,414.75 L1053.35,415.92 L1053.35,417.09 L1053.35,418.25 L1053.35,419.42 L1053.35,420.59 L1053.35,421.76 L1053.35,422.93 L1053.35,424.09 L1053.35,425.26 L1053.32,426.43 L1053.25,427.60 L1053.17,428.77 L1053.09,429.93 L1053.01,431.10 L1052.92,432.27 L1052.83,433.44 L1052.74,434.61 L1052.64,435.78 L1052.55,436.94 L1052.44,438.11 L1052.34,439.28 L1052.23,440.45 L1052.12,441.62 L1052.01,442.78 L1051.89,443.95 L1051.72,445.12 L1051.49,446.29 L1051.21,447.46 L1050.89,448.62 L1050.52,449.79 L1050.12,450.96 L1049.69,452.13 L1049.23,453.30 L1048.75,454.47 L1048.25,455.63 L1047.74,456.80 L1047.22,457.97 L1046.70,459.14 L1046.18,460.31 L1045.67,461.47 L1045.17,462.64 L1044.69,463.81 L1044.21,464.98 L1043.73,466.15 L1043.22,467.31 L1042.70,468.48 L1042.17,469.65 L1041.64,470.82 L1041.09,471.99 L1040.54,473.16 L1039.98,474.32 L1039.42,475.49 L1038.86,476.66 L1038.31,477.83 L1037.75,479.00 L1037.21,480.16 L1036.67,481.33 L1036.14,482.50 L1035.63,483.67 L1035.13,484.84 L1034.63,486.00 L1034.12,487.17 L1033.60,488.34 L1033.07,489.51 L1032.54,490.68 L1032.01,491.85 L1031.48,493.01 L1030.96,494.18 L1030.45,495.35 L1029.96,496.52 L1029.48,497.69 L1029.02,498.85 L1028.59,500.02 L1028.19,501.19 L1027.81,502.36 L1027.48,503.53 L1027.18,504.69 L1026.92,505.86 L1026.67,507.03 L1026.43,508.20 L1026.18,509.37 L1025.95,510.54 L1025.73,511.70 L1025.53,512.87 L1025.34,514.04 L1025.19,515.21 L1025.06,516.38 L1024.97,517.54 L1024.91,518.71 L1024.90,519.88 L1024.96,521.05 L1025.09,522.22 L1025.28,523.38 L1025.53,524.55 L1025.83,525.72 L1026.16,526.89 L1026.52,528.06 L1026.90,529.23 L1027.30,530.39 L1027.70,531.56 L1028.10,532.73 L1028.49,533.90 L1028.91,535.07 L1029.39,536.23 L1029.90,537.40 L1030.45,538.57 L1031.02,539.74 L1031.62,540.91 L1032.24,542.07 L1032.86,543.24 L1033.50,544.41 L1034.13,545.58 L1034.76,546.75 L1035.39,547.92 L1036.03,549.08 L1036.69,550.25 L1037.36,551.42 L1038.05,552.59 L1038.75,553.76 L1039.45,554.92 L1040.16,556.09 L1040.87,557.26 L1041.57,558.43 L1042.27,559.60 L1042.97,560.76 L1043.66,561.93 L1044.40,563.10 L1045.17,564.27 L1045.96,565.44 L1046.75,566.61 L1047.52,567.77 L1048.28,568.94 L1048.99,570.11 L1049.66,571.28 L1050.26,572.45 L1050.77,573.61 L1051.20,574.78 L1051.56,575.95 L1051.90,577.12 L1052.24,578.29 L1052.57,579.45 L1052.87,580.62 L1053.15,581.79 L1053.40,582.96 L1053.54,584.13 L1053.68,585.30 L1053.82,586.46 L1053.96,587.63 L1054.10,588.80 L1054.10,588.80Z" fill="#a6cfea" fill-opacity="0.92"/>
<path d="M1054.10,374.20 L1054.10,374.20 L1054.26,375.50 L1054.41,376.80 L1054.57,378.10 L1054.72,379.39 L1054.85,380.69 L1054.85,381.99 L1054.85,383.29 L1054.85,384.59 L1054.85,385.89 L1054.85,387.19 L1054.85,388.49 L1054.85,389.78 L1054.85,391.08 L1054.85,392.38 L1054.85,393.68 L1054.88,394.98 L1054.97,396.28 L1055.07,397.58 L1055.17,398.88 L1055.28,400.18 L1055.39,401.47 L1055.50,402.77 L1055.62,404.07 L1055.74,405.37 L1055.86,406.67 L1055.98,407.97 L1056.11,409.27 L1056.24,410.56 L1056.38,411.86 L1056.51,413.16 L1056.65,414.46 L1056.79,415.76 L1056.95,417.06 L1057.14,418.36 L1057.37,419.66 L1057.62,420.95 L1057.91,422.25 L1058.21,423.55 L1058.54,424.85 L1058.89,426.15 L1059.26,427.45 L1059.64,428.75 L1060.03,430.05 L1060.43,431.34 L1060.83,432.64 L1061.24,433.94 L1061.65,435.24 L1062.05,436.54 L1062.45,437.84 L1062.84,439.14 L1063.22,440.44 L1063.59,441.74 L1063.94,443.03 L1064.28,444.33 L1064.62,445.63 L1064.95,446.93 L1065.28,448.23 L1065.60,449.53 L1065.93,450.83 L1066.25,452.12 L1066.58,453.42 L1066.90,454.72 L1067.23,456.02 L1067.55,457.32 L1067.88,458.62 L1068.21,459.92 L1068.54,461.22 L1068.88,462.51 L1069.21,463.81 L1069.55,465.11 L1069.90,466.41 L1070.25,467.71 L1070.60,469.01 L1070.96,470.31 L1071.33,471.61 L1071.69,472.90 L1072.06,474.20 L1072.43,475.50 L1072.81,476.80 L1073.19,478.10 L1073.58,479.40 L1073.99,480.70 L1074.41,482.00 L1074.84,483.29 L1075.29,484.59 L1075.77,485.89 L1076.33,487.19 L1076.94,488.49 L1077.60,489.79 L1078.28,491.09 L1078.97,492.39 L1079.66,493.69 L1080.32,494.98 L1080.94,496.28 L1081.50,497.58 L1081.98,498.88 L1082.37,500.18 L1082.66,501.48 L1082.87,502.78 L1083.07,504.07 L1083.22,505.37 L1083.29,506.67 L1083.23,507.97 L1082.88,509.27 L1082.29,510.57 L1081.50,511.87 L1080.56,513.17 L1079.53,514.47 L1078.44,515.76 L1077.36,517.06 L1076.33,518.36 L1075.39,519.66 L1074.46,520.96 L1073.46,522.26 L1072.40,523.56 L1071.32,524.86 L1070.24,526.15 L1069.18,527.45 L1068.18,528.75 L1067.25,530.05 L1066.42,531.35 L1065.72,532.65 L1065.17,533.95 L1064.67,535.25 L1064.20,536.54 L1063.77,537.84 L1063.36,539.14 L1062.98,540.44 L1062.62,541.74 L1062.28,543.04 L1061.96,544.34 L1061.64,545.63 L1061.34,546.93 L1061.05,548.23 L1060.76,549.53 L1060.46,550.83 L1060.17,552.13 L1059.87,553.43 L1059.57,554.73 L1059.26,556.02 L1058.97,557.32 L1058.68,558.62 L1058.39,559.92 L1058.11,561.22 L1057.83,562.52 L1057.56,563.82 L1057.29,565.12 L1057.02,566.41 L1056.76,567.71 L1056.50,569.01 L1056.24,570.31 L1055.99,571.61 L1055.74,572.91 L1055.49,574.21 L1055.25,575.51 L1055.01,576.81 L1054.77,578.10 L1054.55,579.40 L1054.32,580.70 L1054.10,582.00 L1054.10,582.00Z" fill="#f2c18f" fill-opacity="0.92"/>
<path d="M1112.96,184.60 L1112.96,184.60 L1112.61,187.48 L1112.27,190.35 L1112.21,193.23 L1111.98,196.11 L1111.74,198.99 L1111.50,201.86 L1111.26,204.74 L1111.02,207.62 L1110.79,210.50 L1110.55,213.38 L1110.31,216.25 L1110.08,219.13 L1109.85,222.01 L1109.62,224.88 L1109.39,227.76 L1109.16,230.64 L1108.93,233.52 L1108.70,236.39 L1108.48,239.27 L1108.25,242.15 L1108.03,245.03 L1107.80,247.90 L1107.58,250.78 L1107.37,253.66 L1107.16,256.54 L1106.95,259.41 L1106.74,262.29 L1106.54,265.17 L1106.34,268.05 L1106.14,270.93 L1105.94,273.80 L1105.74,276.68 L1105.53,279.56 L1105.33,282.44 L1105.12,285.31 L1104.91,288.19 L1104.69,291.07 L1104.47,293.94 L1104.24,296.82 L1104.01,299.70 L1103.77,302.58 L1103.52,305.45 L1103.27,308.33 L1103.01,311.21 L1102.74,314.09 L1102.48,316.96 L1102.20,319.84 L1101.93,322.72 L1101.65,325.60 L1101.36,328.48 L1101.07,331.35 L1100.78,334.23 L1100.49,337.11 L1100.19,339.99 L1099.89,342.86 L1099.58,345.74 L1099.28,348.62 L1098.97,351.50 L1098.65,354.37 L1098.34,357.25 L1098.02,360.13 L1097.69,363.00 L1097.37,365.88 L1097.03,368.76 L1096.70,371.64 L1096.36,374.51 L1096.01,377.39 L1095.66,380.27 L1095.31,383.15 L1094.95,386.02 L1094.59,388.90 L1094.23,391.78 L1093.86,394.66 L1093.49,397.53 L1093.12,400.41 L1092.74,403.29 L1092.35,406.17 L1091.93,409.04 L1091.49,411.92 L1091.02,414.80 L1090.54,417.68 L1090.05,420.55 L1089.55,423.43 L1089.06,426.31 L1088.56,429.19 L1088.07,432.06 L1087.60,434.94 L1087.15,437.82 L1086.72,440.70 L1086.31,443.58 L1085.94,446.45 L1085.61,449.33 L1085.32,452.21 L1085.08,455.09 L1084.88,457.96 L1084.68,460.84 L1084.48,463.72 L1084.30,466.60 L1084.13,469.47 L1083.99,472.35 L1083.88,475.23 L1083.80,478.11 L1083.76,480.98 L1083.83,483.86 L1084.15,486.74 L1084.68,489.62 L1085.38,492.49 L1086.21,495.37 L1087.11,498.25 L1088.06,501.12 L1088.99,504.00 L1089.88,506.88 L1090.72,509.76 L1091.64,512.63 L1092.61,515.51 L1093.62,518.39 L1094.65,521.27 L1095.68,524.14 L1096.71,527.02 L1097.70,529.90 L1098.65,532.78 L1099.56,535.65 L1100.47,538.53 L1101.38,541.41 L1102.28,544.29 L1103.16,547.16 L1104.00,550.04 L1104.81,552.92 L1105.58,555.80 L1106.29,558.67 L1106.97,561.55 L1107.68,564.43 L1108.38,567.31 L1109.06,570.18 L1109.71,573.06 L1110.28,575.94 L1110.76,578.82 L1111.14,581.69 L1111.38,584.57 L1111.51,587.45 L1111.61,590.33 L1111.70,593.20 L1111.78,596.08 L1111.85,598.96 L1111.91,601.84 L1111.96,604.71 L1112.02,607.59 L1112.08,610.47 L1112.14,613.35 L1112.21,616.23 L1112.21,619.10 L1112.21,621.98 L1112.21,624.86 L1112.21,627.73 L1112.21,630.61 L1112.21,633.49 L1112.21,636.37 L1112.27,639.25 L1112.61,642.12 L1112.96,645.00 L1112.96,645.00Z" fill="#a6cfea" fill-opacity="0.92"/>
<path d="M1112.96,166.50 L1112.96,166.50 L1113.28,169.20 L1113.61,171.89 L1113.71,174.59 L1113.71,177.29 L1113.71,179.98 L1113.71,182.68 L1113.71,185.38 L1113.71,188.07 L1113.80,190.77 L1113.98,193.47 L1114.17,196.17 L1114.37,198.86 L1114.58,201.56 L1114.81,204.26 L1115.04,206.95 L1115.27,209.65 L1115.55,212.35 L1115.93,215.04 L1116.41,217.74 L1116.97,220.44 L1117.61,223.13 L1118.30,225.83 L1119.04,228.53 L1119.81,231.22 L1120.60,233.92 L1121.40,236.62 L1122.18,239.32 L1122.94,242.01 L1123.67,244.71 L1124.35,247.41 L1124.97,250.10 L1125.57,252.80 L1126.18,255.50 L1126.79,258.19 L1127.40,260.89 L1128.00,263.59 L1128.60,266.28 L1129.20,268.98 L1129.79,271.68 L1130.37,274.38 L1130.94,277.07 L1131.51,279.77 L1132.06,282.47 L1132.60,285.16 L1133.12,287.86 L1133.63,290.56 L1134.13,293.25 L1134.60,295.95 L1135.06,298.65 L1135.50,301.34 L1135.94,304.04 L1136.40,306.74 L1136.87,309.43 L1137.34,312.13 L1137.82,314.83 L1138.29,317.52 L1138.76,320.22 L1139.21,322.92 L1139.65,325.62 L1140.07,328.31 L1140.46,331.01 L1140.82,333.71 L1141.15,336.40 L1141.44,339.10 L1141.69,341.80 L1141.89,344.49 L1142.04,347.19 L1142.13,349.89 L1142.16,352.58 L1142.14,355.28 L1142.09,357.98 L1142.00,360.68 L1141.89,363.37 L1141.74,366.07 L1141.58,368.77 L1141.39,371.46 L1141.18,374.16 L1140.95,376.86 L1140.68,379.55 L1140.13,382.25 L1139.31,384.95 L1138.31,387.64 L1137.21,390.34 L1136.07,393.04 L1134.98,395.73 L1134.02,398.43 L1133.26,401.13 L1132.78,403.82 L1132.52,406.52 L1132.30,409.22 L1132.11,411.92 L1131.94,414.61 L1131.79,417.31 L1131.66,420.01 L1131.54,422.70 L1131.43,425.40 L1131.33,428.10 L1131.24,430.79 L1131.14,433.49 L1131.05,436.19 L1130.95,438.88 L1130.85,441.58 L1130.73,444.28 L1130.60,446.98 L1130.46,449.67 L1130.30,452.37 L1130.11,455.07 L1129.89,457.76 L1129.64,460.46 L1129.36,463.16 L1129.05,465.85 L1128.71,468.55 L1128.35,471.25 L1127.97,473.94 L1127.57,476.64 L1127.17,479.34 L1126.75,482.03 L1126.33,484.73 L1125.90,487.43 L1125.47,490.12 L1125.05,492.82 L1124.64,495.52 L1124.20,498.22 L1123.74,500.91 L1123.26,503.61 L1122.76,506.31 L1122.25,509.00 L1121.74,511.70 L1121.22,514.40 L1120.72,517.09 L1120.22,519.79 L1119.73,522.49 L1119.27,525.18 L1118.83,527.88 L1118.42,530.58 L1118.05,533.27 L1117.70,535.97 L1117.35,538.67 L1117.01,541.37 L1116.68,544.06 L1116.35,546.76 L1116.03,549.46 L1115.73,552.15 L1115.44,554.85 L1115.16,557.55 L1114.90,560.24 L1114.66,562.94 L1114.44,565.64 L1114.24,568.33 L1114.06,571.03 L1113.91,573.73 L1113.76,576.42 L1113.71,579.12 L1113.71,581.82 L1113.71,584.52 L1113.71,587.21 L1113.71,589.91 L1113.61,592.61 L1113.28,595.30 L1112.96,598.00 L1112.96,598.00Z" fill="#f2c18f" fill-opacity="0.92"/>
<path d="M1171.82,391.30 L1171.82,391.30 L1171.69,392.35 L1171.57,393.40 L1171.44,394.45 L1171.32,395.50 L1171.19,396.55 L1171.07,397.60 L1171.07,398.65 L1171.07,399.70 L1171.07,400.75 L1171.07,401.80 L1171.07,402.85 L1171.07,403.90 L1171.07,404.95 L1171.02,406.00 L1170.91,407.05 L1170.80,408.10 L1170.67,409.15 L1170.54,410.20 L1170.40,411.25 L1170.26,412.30 L1170.11,413.35 L1169.96,414.40 L1169.80,415.45 L1169.64,416.50 L1169.47,417.55 L1169.30,418.60 L1169.12,419.65 L1168.93,420.70 L1168.75,421.75 L1168.55,422.80 L1168.36,423.85 L1168.16,424.90 L1167.96,425.95 L1167.75,427.00 L1167.54,428.05 L1167.33,429.10 L1167.11,430.15 L1166.86,431.20 L1166.54,432.25 L1166.16,433.30 L1165.73,434.35 L1165.26,435.40 L1164.73,436.45 L1164.17,437.50 L1163.58,438.55 L1162.95,439.60 L1162.30,440.65 L1161.63,441.70 L1160.94,442.75 L1160.24,443.80 L1159.53,444.85 L1158.83,445.90 L1158.12,446.95 L1157.43,448.00 L1156.74,449.05 L1156.08,450.10 L1155.43,451.15 L1154.81,452.20 L1154.23,453.25 L1153.68,454.30 L1153.17,455.35 L1152.70,456.40 L1152.24,457.45 L1151.79,458.50 L1151.35,459.55 L1150.91,460.60 L1150.49,461.65 L1150.06,462.70 L1149.65,463.75 L1149.24,464.80 L1148.84,465.85 L1148.45,466.90 L1148.07,467.95 L1147.69,469.00 L1147.32,470.05 L1146.96,471.10 L1146.61,472.15 L1146.27,473.20 L1145.93,474.25 L1145.61,475.30 L1145.29,476.35 L1144.97,477.40 L1144.63,478.45 L1144.28,479.50 L1143.92,480.55 L1143.59,481.60 L1143.28,482.65 L1143.02,483.70 L1142.81,484.75 L1142.67,485.80 L1142.62,486.85 L1142.66,487.90 L1142.80,488.95 L1143.03,490.00 L1143.34,491.05 L1143.71,492.10 L1144.16,493.15 L1144.66,494.20 L1145.21,495.25 L1145.80,496.30 L1146.43,497.35 L1147.09,498.40 L1147.77,499.45 L1148.46,500.50 L1149.16,501.55 L1149.85,502.60 L1150.54,503.65 L1151.21,504.70 L1151.86,505.75 L1152.48,506.80 L1153.06,507.85 L1153.65,508.90 L1154.26,509.95 L1154.89,511.00 L1155.54,512.05 L1156.20,513.10 L1156.87,514.15 L1157.53,515.20 L1158.19,516.25 L1158.84,517.30 L1159.47,518.35 L1160.09,519.40 L1160.68,520.45 L1161.24,521.50 L1161.76,522.55 L1162.25,523.60 L1162.73,524.65 L1163.21,525.70 L1163.69,526.75 L1164.16,527.80 L1164.63,528.85 L1165.09,529.90 L1165.54,530.95 L1165.97,532.00 L1166.40,533.05 L1166.81,534.10 L1167.21,535.15 L1167.59,536.20 L1167.95,537.25 L1168.30,538.30 L1168.62,539.35 L1168.92,540.40 L1169.19,541.45 L1169.45,542.50 L1169.67,543.55 L1169.87,544.60 L1170.07,545.65 L1170.27,546.70 L1170.46,547.75 L1170.64,548.80 L1170.82,549.85 L1170.98,550.90 L1171.07,551.95 L1171.07,553.00 L1171.19,554.05 L1171.32,555.10 L1171.44,556.15 L1171.57,557.20 L1171.69,558.25 L1171.82,559.30 L1171.82,559.30Z" fill="#a6cfea" fill-opacity="0.92"/>
<path d="M1171.82,399.10 L1171.82,399.10 L1171.93,400.02 L1172.04,400.94 L1172.15,401.86 L1172.26,402.78 L1172.37,403.70 L1172.48,404.62 L1172.57,405.54 L1172.57,406.47 L1172.57,407.39 L1172.65,408.31 L1172.81,409.23 L1172.99,410.15 L1173.17,411.07 L1173.37,411.99 L1173.58,412.91 L1173.80,413.83 L1174.04,414.75 L1174.28,415.67 L1174.53,416.59 L1174.78,417.51 L1175.05,418.43 L1175.32,419.35 L1175.60,420.27 L1175.89,421.19 L1176.18,422.12 L1176.48,423.04 L1176.78,423.96 L1177.09,424.88 L1177.40,425.80 L1177.72,426.72 L1178.03,427.64 L1178.35,428.56 L1178.68,429.48 L1179.00,430.40 L1179.38,431.32 L1179.81,432.24 L1180.29,433.16 L1180.82,434.08 L1181.40,435.00 L1182.02,435.93 L1182.67,436.85 L1183.36,437.77 L1184.08,438.69 L1184.81,439.61 L1185.57,440.53 L1186.34,441.45 L1187.13,442.37 L1187.92,443.29 L1188.71,444.21 L1189.50,445.13 L1190.29,446.05 L1191.06,446.97 L1191.82,447.89 L1192.56,448.81 L1193.28,449.73 L1193.97,450.66 L1194.63,451.58 L1195.25,452.50 L1195.84,453.42 L1196.38,454.34 L1196.87,455.26 L1197.31,456.18 L1197.76,457.10 L1198.22,458.02 L1198.68,458.94 L1199.13,459.86 L1199.56,460.78 L1199.96,461.70 L1200.31,462.62 L1200.60,463.54 L1200.83,464.46 L1200.97,465.38 L1201.02,466.31 L1200.98,467.23 L1200.85,468.15 L1200.66,469.07 L1200.40,469.99 L1200.08,470.91 L1199.71,471.83 L1199.30,472.75 L1198.86,473.67 L1198.38,474.59 L1197.89,475.51 L1197.38,476.43 L1196.87,477.35 L1196.36,478.27 L1195.86,479.19 L1195.37,480.12 L1194.91,481.04 L1194.48,481.96 L1194.06,482.88 L1193.61,483.80 L1193.16,484.72 L1192.70,485.64 L1192.22,486.56 L1191.74,487.48 L1191.25,488.40 L1190.76,489.32 L1190.26,490.24 L1189.75,491.16 L1189.24,492.08 L1188.74,493.00 L1188.23,493.92 L1187.72,494.85 L1187.22,495.77 L1186.72,496.69 L1186.22,497.61 L1185.74,498.53 L1185.25,499.45 L1184.78,500.37 L1184.32,501.29 L1183.87,502.21 L1183.43,503.13 L1183.01,504.05 L1182.60,504.97 L1182.20,505.89 L1181.83,506.81 L1181.47,507.73 L1181.12,508.65 L1180.77,509.57 L1180.43,510.50 L1180.09,511.42 L1179.75,512.34 L1179.41,513.26 L1179.08,514.18 L1178.76,515.10 L1178.44,516.02 L1178.12,516.94 L1177.81,517.86 L1177.50,518.78 L1177.20,519.70 L1176.91,520.62 L1176.62,521.54 L1176.34,522.46 L1176.07,523.38 L1175.80,524.30 L1175.54,525.23 L1175.29,526.15 L1175.05,527.07 L1174.82,527.99 L1174.59,528.91 L1174.38,529.83 L1174.17,530.75 L1173.98,531.67 L1173.79,532.59 L1173.62,533.51 L1173.45,534.43 L1173.29,535.35 L1173.13,536.27 L1172.98,537.19 L1172.83,538.11 L1172.69,539.03 L1172.57,539.96 L1172.48,540.88 L1172.37,541.80 L1172.26,542.72 L1172.15,543.64 L1172.04,544.56 L1171.93,545.48 L1171.82,546.40 L1171.82,546.40Z" fill="#f2c18f" fill-opacity="0.92"/>
<path d="M1230.68,158.80 L1230.68,158.80 L1230.64,159.14 L1230.60,159.48 L1230.56,159.82 L1230.52,160.16 L1230.48,160.49 L1230.44,160.83 L1230.38,161.17 L1230.30,161.51 L1230.20,161.85 L1230.09,162.19 L1229.97,162.53 L1229.84,162.87 L1229.70,163.20 L1229.54,163.54 L1229.38,163.88 L1229.21,164.22 L1229.03,164.56 L1228.85,164.90 L1228.65,165.24 L1228.44,165.58 L1228.23,165.91 L1228.00,166.25 L1227.77,166.59 L1227.53,166.93 L1227.29,167.27 L1227.03,167.61 L1226.77,167.95 L1226.50,168.28 L1226.23,168.62 L1225.94,168.96 L1225.66,169.30 L1225.36,169.64 L1225.06,169.98 L1224.75,170.32 L1224.44,170.66 L1224.12,171.00 L1223.80,171.33 L1223.47,171.67 L1223.13,172.01 L1222.79,172.35 L1222.45,172.69 L1222.10,173.03 L1221.75,173.37 L1221.40,173.71 L1221.04,174.04 L1220.67,174.38 L1220.31,174.72 L1219.94,175.06 L1219.56,175.40 L1219.19,175.74 L1218.81,176.08 L1218.43,176.42 L1218.05,176.75 L1217.62,177.09 L1217.09,177.43 L1216.45,177.77 L1215.73,178.11 L1214.94,178.45 L1214.08,178.79 L1213.17,179.12 L1212.23,179.46 L1211.25,179.80 L1210.27,180.14 L1209.27,180.48 L1208.29,180.82 L1207.33,181.16 L1206.40,181.50 L1205.52,181.84 L1204.69,182.17 L1203.93,182.51 L1203.25,182.85 L1202.67,183.19 L1202.19,183.53 L1201.82,183.87 L1201.58,184.21 L1201.48,184.55 L1201.52,184.88 L1201.67,185.22 L1201.93,185.56 L1202.28,185.90 L1202.72,186.24 L1203.23,186.58 L1203.81,186.92 L1204.46,187.25 L1205.15,187.59 L1205.89,187.93 L1206.66,188.27 L1207.45,188.61 L1208.27,188.95 L1209.08,189.29 L1209.90,189.63 L1210.71,189.97 L1211.50,190.30 L1212.26,190.64 L1212.99,190.98 L1213.67,191.32 L1214.30,191.66 L1214.86,192.00 L1215.36,192.34 L1215.80,192.68 L1216.23,193.01 L1216.67,193.35 L1217.10,193.69 L1217.53,194.03 L1217.95,194.37 L1218.37,194.71 L1218.79,195.05 L1219.20,195.38 L1219.61,195.72 L1220.01,196.06 L1220.41,196.40 L1220.80,196.74 L1221.19,197.08 L1221.57,197.42 L1221.95,197.76 L1222.31,198.09 L1222.68,198.43 L1223.03,198.77 L1223.38,199.11 L1223.72,199.45 L1224.05,199.79 L1224.37,200.13 L1224.69,200.47 L1224.99,200.81 L1225.29,201.14 L1225.58,201.48 L1225.86,201.82 L1226.13,202.16 L1226.39,202.50 L1226.64,202.84 L1226.88,203.18 L1227.11,203.51 L1227.33,203.85 L1227.53,204.19 L1227.73,204.53 L1227.91,204.87 L1228.08,205.21 L1228.24,205.55 L1228.40,205.89 L1228.56,206.22 L1228.71,206.56 L1228.87,206.90 L1229.01,207.24 L1229.16,207.58 L1229.30,207.92 L1229.44,208.26 L1229.57,208.60 L1229.70,208.94 L1229.82,209.27 L1229.93,209.61 L1230.04,209.95 L1230.15,210.29 L1230.24,210.63 L1230.33,210.97 L1230.41,211.31 L1230.48,211.65 L1230.55,211.98 L1230.60,212.32 L1230.64,212.66 L1230.68,213.00 L1230.68,213.00Z" fill="#a6cfea" fill-opacity="0.92"/>
<path d="M1230.68,153.60 L1230.68,153.60 L1230.73,153.95 L1230.79,154.31 L1230.86,154.66 L1230.95,155.01 L1231.05,155.36 L1231.16,155.72 L1231.28,156.07 L1231.42,156.42 L1231.57,156.77 L1231.73,157.12 L1231.89,157.48 L1232.07,157.83 L1232.26,158.18 L1232.46,158.53 L1232.67,158.89 L1232.89,159.24 L1233.11,159.59 L1233.34,159.94 L1233.59,160.30 L1233.83,160.65 L1234.09,161.00 L1234.35,161.35 L1234.62,161.71 L1234.89,162.06 L1235.17,162.41 L1235.46,162.76 L1235.75,163.12 L1236.04,163.47 L1236.34,163.82 L1236.64,164.17 L1236.95,164.53 L1237.25,164.88 L1237.57,165.23 L1237.88,165.59 L1238.19,165.94 L1238.51,166.29 L1238.83,166.64 L1239.20,167.00 L1239.63,167.35 L1240.11,167.70 L1240.63,168.05 L1241.20,168.41 L1241.80,168.76 L1242.45,169.11 L1243.12,169.46 L1243.83,169.81 L1244.56,170.17 L1245.31,170.52 L1246.07,170.87 L1246.85,171.22 L1247.64,171.58 L1248.44,171.93 L1249.24,172.28 L1250.04,172.63 L1250.83,172.99 L1251.61,173.34 L1252.38,173.69 L1253.13,174.04 L1253.87,174.40 L1254.57,174.75 L1255.26,175.10 L1255.90,175.45 L1256.52,175.81 L1257.09,176.16 L1257.62,176.51 L1258.11,176.87 L1258.54,177.22 L1258.92,177.57 L1259.25,177.92 L1259.51,178.28 L1259.70,178.63 L1259.83,178.98 L1259.88,179.33 L1259.86,179.69 L1259.80,180.04 L1259.69,180.39 L1259.54,180.74 L1259.34,181.09 L1259.10,181.45 L1258.83,181.80 L1258.52,182.15 L1258.18,182.50 L1257.81,182.86 L1257.41,183.21 L1256.98,183.56 L1256.53,183.91 L1256.05,184.27 L1255.56,184.62 L1255.04,184.97 L1254.52,185.32 L1253.97,185.68 L1253.42,186.03 L1252.86,186.38 L1252.29,186.74 L1251.71,187.09 L1251.13,187.44 L1250.55,187.79 L1249.98,188.14 L1249.40,188.50 L1248.84,188.85 L1248.28,189.20 L1247.73,189.56 L1247.19,189.91 L1246.67,190.26 L1246.17,190.61 L1245.68,190.97 L1245.22,191.32 L1244.77,191.67 L1244.36,192.02 L1243.97,192.38 L1243.60,192.73 L1243.22,193.08 L1242.84,193.43 L1242.45,193.78 L1242.06,194.14 L1241.67,194.49 L1241.28,194.84 L1240.89,195.19 L1240.50,195.55 L1240.11,195.90 L1239.71,196.25 L1239.33,196.61 L1238.94,196.96 L1238.56,197.31 L1238.17,197.66 L1237.80,198.01 L1237.43,198.37 L1237.06,198.72 L1236.70,199.07 L1236.35,199.43 L1236.00,199.78 L1235.67,200.13 L1235.34,200.48 L1235.02,200.83 L1234.71,201.19 L1234.41,201.54 L1234.12,201.89 L1233.84,202.25 L1233.57,202.60 L1233.32,202.95 L1233.08,203.30 L1232.86,203.66 L1232.65,204.01 L1232.46,204.36 L1232.28,204.71 L1232.11,205.06 L1231.97,205.42 L1231.83,205.77 L1231.70,206.12 L1231.57,206.47 L1231.44,206.83 L1231.33,207.18 L1231.21,207.53 L1231.11,207.88 L1231.01,208.24 L1230.93,208.59 L1230.85,208.94 L1230.78,209.30 L1230.73,209.65 L1230.68,210.00 L1230.68,210.00Z" fill="#f2c18f" fill-opacity="0.92"/>
<path d="M1289.54,163.00 L1289.54,163.00 L1289.36,164.53 L1289.17,166.05 L1288.99,167.57 L1288.81,169.10 L1288.79,170.62 L1288.79,172.15 L1288.79,173.68 L1288.79,175.20 L1288.79,176.72 L1288.79,178.25 L1288.79,179.78 L1288.79,181.30 L1288.79,182.82 L1288.79,184.35 L1288.79,185.88 L1288.79,187.40 L1288.79,188.93 L1288.79,190.45 L1288.79,191.97 L1288.79,193.50 L1288.79,195.03 L1288.79,196.55 L1288.79,198.07 L1288.79,199.60 L1288.79,201.12 L1288.79,202.65 L1288.79,204.18 L1288.79,205.70 L1288.79,207.22 L1288.79,208.75 L1288.76,210.28 L1288.69,211.80 L1288.56,213.32 L1288.39,214.85 L1288.17,216.38 L1287.91,217.90 L1287.61,219.43 L1287.29,220.95 L1286.94,222.47 L1286.57,224.00 L1286.18,225.53 L1285.79,227.05 L1285.38,228.57 L1284.98,230.10 L1284.58,231.62 L1284.18,233.15 L1283.80,234.68 L1283.43,236.20 L1283.04,237.72 L1282.65,239.25 L1282.25,240.78 L1281.84,242.30 L1281.43,243.82 L1281.00,245.35 L1280.55,246.88 L1280.10,248.40 L1279.64,249.93 L1279.17,251.45 L1278.68,252.97 L1278.18,254.50 L1277.67,256.02 L1277.15,257.55 L1276.61,259.07 L1276.05,260.60 L1275.44,262.12 L1274.79,263.65 L1274.10,265.18 L1273.37,266.70 L1272.63,268.23 L1271.87,269.75 L1271.10,271.27 L1270.32,272.80 L1269.56,274.32 L1268.80,275.85 L1268.06,277.38 L1267.35,278.90 L1266.67,280.43 L1266.03,281.95 L1265.44,283.48 L1264.88,285.00 L1264.30,286.52 L1263.70,288.05 L1263.09,289.57 L1262.49,291.10 L1261.94,292.62 L1261.43,294.15 L1261.00,295.68 L1260.67,297.20 L1260.44,298.73 L1260.34,300.25 L1260.41,301.77 L1260.68,303.30 L1261.11,304.82 L1261.68,306.35 L1262.34,307.88 L1263.09,309.40 L1263.87,310.93 L1264.66,312.45 L1265.44,313.98 L1266.16,315.50 L1266.80,317.02 L1267.40,318.55 L1267.98,320.07 L1268.57,321.60 L1269.15,323.12 L1269.74,324.65 L1270.33,326.18 L1270.93,327.70 L1271.54,329.23 L1272.17,330.75 L1272.82,332.27 L1273.49,333.80 L1274.18,335.32 L1274.91,336.85 L1275.65,338.38 L1276.42,339.90 L1277.19,341.43 L1277.97,342.95 L1278.76,344.48 L1279.54,346.00 L1280.32,347.52 L1281.08,349.05 L1281.86,350.57 L1282.74,352.10 L1283.67,353.62 L1284.62,355.15 L1285.53,356.68 L1286.34,358.20 L1287.02,359.73 L1287.52,361.25 L1287.77,362.77 L1287.90,364.30 L1288.03,365.82 L1288.15,367.35 L1288.26,368.88 L1288.37,370.40 L1288.47,371.93 L1288.57,373.45 L1288.66,374.98 L1288.75,376.50 L1288.79,378.02 L1288.79,379.55 L1288.79,381.07 L1288.79,382.60 L1288.79,384.12 L1288.79,385.65 L1288.79,387.18 L1288.79,388.70 L1288.79,390.23 L1288.79,391.75 L1288.79,393.27 L1288.79,394.80 L1288.79,396.32 L1288.79,397.85 L1288.79,399.38 L1288.81,400.90 L1288.99,402.43 L1289.17,403.95 L1289.36,405.48 L1289.54,407.00 L1289.54,407.00Z" fill="#a6cfea" fill-opacity="0.92"/>
<path d="M1289.54,153.00 L1289.54,153.00 L1289.70,154.33 L1289.86,155.66 L1290.02,156.99 L1290.18,158.32 L1290.29,159.66 L1290.29,160.99 L1290.29,162.32 L1290.29,163.65 L1290.29,164.98 L1290.29,166.31 L1290.29,167.64 L1290.29,168.97 L1290.29,170.31 L1290.29,171.64 L1290.29,172.97 L1290.29,174.30 L1290.29,175.63 L1290.29,176.96 L1290.29,178.29 L1290.29,179.62 L1290.29,180.96 L1290.29,182.29 L1290.29,183.62 L1290.29,184.95 L1290.29,186.28 L1290.29,187.61 L1290.29,188.94 L1290.29,190.28 L1290.29,191.61 L1290.29,192.94 L1290.29,194.27 L1290.29,195.60 L1290.34,196.93 L1290.41,198.26 L1290.52,199.59 L1290.70,200.93 L1290.92,202.26 L1291.19,203.59 L1291.50,204.92 L1291.85,206.25 L1292.23,207.58 L1292.64,208.91 L1293.08,210.24 L1293.53,211.57 L1294.00,212.91 L1294.48,214.24 L1294.96,215.57 L1295.45,216.90 L1295.93,218.23 L1296.42,219.56 L1296.95,220.89 L1297.53,222.22 L1298.14,223.56 L1298.79,224.89 L1299.48,226.22 L1300.19,227.55 L1300.92,228.88 L1301.68,230.21 L1302.45,231.54 L1303.23,232.88 L1304.02,234.21 L1304.83,235.54 L1305.72,236.87 L1306.69,238.20 L1307.72,239.53 L1308.80,240.86 L1309.89,242.19 L1310.98,243.53 L1312.04,244.86 L1313.06,246.19 L1314.00,247.52 L1314.86,248.85 L1315.61,250.18 L1316.23,251.51 L1316.80,252.84 L1317.37,254.18 L1317.89,255.51 L1318.32,256.84 L1318.62,258.17 L1318.74,259.50 L1318.70,260.83 L1318.55,262.16 L1318.33,263.49 L1318.03,264.82 L1317.68,266.16 L1317.28,267.49 L1316.85,268.82 L1316.40,270.15 L1315.95,271.48 L1315.50,272.81 L1315.08,274.14 L1314.68,275.48 L1314.33,276.81 L1313.98,278.14 L1313.64,279.47 L1313.30,280.80 L1312.97,282.13 L1312.63,283.46 L1312.30,284.79 L1311.96,286.12 L1311.62,287.46 L1311.27,288.79 L1310.92,290.12 L1310.56,291.45 L1310.19,292.78 L1309.81,294.11 L1309.41,295.44 L1309.01,296.77 L1308.58,298.11 L1308.14,299.44 L1307.68,300.77 L1307.18,302.10 L1306.62,303.43 L1306.02,304.76 L1305.39,306.09 L1304.72,307.43 L1304.03,308.76 L1303.32,310.09 L1302.59,311.42 L1301.87,312.75 L1301.14,314.08 L1300.43,315.41 L1299.73,316.74 L1299.05,318.07 L1298.40,319.41 L1297.78,320.74 L1297.21,322.07 L1296.69,323.40 L1296.22,324.73 L1295.79,326.06 L1295.37,327.39 L1294.95,328.73 L1294.53,330.06 L1294.12,331.39 L1293.72,332.72 L1293.33,334.05 L1292.95,335.38 L1292.59,336.71 L1292.24,338.04 L1291.92,339.38 L1291.61,340.71 L1291.33,342.04 L1291.07,343.37 L1290.84,344.70 L1290.64,346.03 L1290.47,347.36 L1290.33,348.69 L1290.29,350.02 L1290.29,351.36 L1290.29,352.69 L1290.29,354.02 L1290.29,355.35 L1290.29,356.68 L1290.29,358.01 L1290.29,359.34 L1290.18,360.68 L1290.02,362.01 L1289.86,363.34 L1289.70,364.67 L1289.54,366.00 L1289.54,366.00Z" fill="#f2c18f" fill-opacity="0.92"/>
<path d="M1348.40,343.00 L1348.40,343.00 L1348.29,343.91 L1348.18,344.82 L1348.07,345.73 L1347.96,346.64 L1347.85,347.56 L1347.74,348.47 L1347.65,349.38 L1347.65,350.29 L1347.65,351.20 L1347.65,352.11 L1347.65,353.02 L1347.65,353.94 L1347.65,354.85 L1347.64,355.76 L1347.54,356.67 L1347.44,357.58 L1347.31,358.49 L1347.11,359.40 L1346.84,360.31 L1346.51,361.23 L1346.13,362.14 L1345.71,363.05 L1345.25,363.96 L1344.76,364.87 L1344.26,365.78 L1343.75,366.69 L1343.23,367.60 L1342.72,368.51 L1342.23,369.43 L1341.76,370.34 L1341.32,371.25 L1340.92,372.16 L1340.57,373.07 L1340.27,373.98 L1340.03,374.89 L1339.81,375.81 L1339.62,376.72 L1339.45,377.63 L1339.29,378.54 L1339.14,379.45 L1339.01,380.36 L1338.87,381.27 L1338.74,382.18 L1338.61,383.10 L1338.47,384.01 L1338.32,384.92 L1338.16,385.83 L1337.98,386.74 L1337.78,387.65 L1337.56,388.56 L1337.31,389.47 L1337.03,390.38 L1336.67,391.30 L1336.16,392.21 L1335.51,393.12 L1334.75,394.03 L1333.91,394.94 L1333.00,395.85 L1332.07,396.76 L1331.12,397.68 L1330.19,398.59 L1329.30,399.50 L1328.48,400.41 L1327.75,401.32 L1327.14,402.23 L1326.56,403.14 L1325.98,404.05 L1325.41,404.97 L1324.84,405.88 L1324.28,406.79 L1323.75,407.70 L1323.24,408.61 L1322.76,409.52 L1322.31,410.43 L1321.91,411.34 L1321.55,412.25 L1321.24,413.17 L1320.99,414.08 L1320.80,414.99 L1320.65,415.90 L1320.50,416.81 L1320.36,417.72 L1320.23,418.63 L1320.10,419.55 L1319.98,420.46 L1319.87,421.37 L1319.76,422.28 L1319.66,423.19 L1319.57,424.10 L1319.49,425.01 L1319.42,425.92 L1319.35,426.84 L1319.30,427.75 L1319.26,428.66 L1319.23,429.57 L1319.21,430.48 L1319.20,431.39 L1319.23,432.30 L1319.35,433.21 L1319.54,434.12 L1319.80,435.04 L1320.13,435.95 L1320.51,436.86 L1320.94,437.77 L1321.42,438.68 L1321.93,439.59 L1322.48,440.50 L1323.05,441.42 L1323.64,442.33 L1324.25,443.24 L1324.86,444.15 L1325.46,445.06 L1326.07,445.97 L1326.66,446.88 L1327.22,447.79 L1327.80,448.71 L1328.43,449.62 L1329.10,450.53 L1329.81,451.44 L1330.56,452.35 L1331.33,453.26 L1332.11,454.17 L1332.92,455.08 L1333.72,456.00 L1334.53,456.91 L1335.33,457.82 L1336.12,458.73 L1336.89,459.64 L1337.63,460.55 L1338.34,461.46 L1339.01,462.37 L1339.64,463.29 L1340.21,464.20 L1340.76,465.11 L1341.30,466.02 L1341.84,466.93 L1342.38,467.84 L1342.90,468.75 L1343.41,469.66 L1343.90,470.57 L1344.37,471.49 L1344.81,472.40 L1345.23,473.31 L1345.61,474.22 L1345.95,475.13 L1346.26,476.04 L1346.51,476.95 L1346.73,477.87 L1346.94,478.78 L1347.15,479.69 L1347.35,480.60 L1347.54,481.51 L1347.65,482.42 L1347.74,483.33 L1347.85,484.24 L1347.96,485.16 L1348.07,486.07 L1348.18,486.98 L1348.29,487.89 L1348.40,488.80 L1348.40,488.80Z" fill="#a6cfea" fill-opacity="0.92"/>
<path d="M1348.40,303.00 L1348.40,303.00 L1348.52,303.99 L1348.64,304.98 L1348.76,305.96 L1348.87,306.95 L1348.99,307.94 L1349.11,308.93 L1349.15,309.91 L1349.15,310.90 L1349.15,311.89 L1349.15,312.88 L1349.15,313.86 L1349.15,314.85 L1349.15,315.84 L1349.15,316.82 L1349.15,317.81 L1349.15,318.80 L1349.15,319.79 L1349.15,320.77 L1349.15,321.76 L1349.15,322.75 L1349.15,323.74 L1349.15,324.73 L1349.15,325.71 L1349.15,326.70 L1349.15,327.69 L1349.15,328.68 L1349.15,329.66 L1349.15,330.65 L1349.15,331.64 L1349.15,332.62 L1349.15,333.61 L1349.15,334.60 L1349.15,335.59 L1349.15,336.57 L1349.15,337.56 L1349.15,338.55 L1349.16,339.54 L1349.20,340.52 L1349.24,341.51 L1349.31,342.50 L1349.40,343.49 L1349.52,344.48 L1349.67,345.46 L1349.85,346.45 L1350.06,347.44 L1350.29,348.43 L1350.54,349.41 L1350.81,350.40 L1351.10,351.39 L1351.41,352.38 L1351.73,353.36 L1352.07,354.35 L1352.43,355.34 L1352.79,356.32 L1353.17,357.31 L1353.56,358.30 L1354.06,359.29 L1354.67,360.27 L1355.36,361.26 L1356.13,362.25 L1356.97,363.24 L1357.86,364.23 L1358.80,365.21 L1359.77,366.20 L1360.75,367.19 L1361.74,368.18 L1362.72,369.16 L1363.68,370.15 L1364.61,371.14 L1365.50,372.12 L1366.33,373.11 L1367.09,374.10 L1367.83,375.09 L1368.61,376.07 L1369.42,377.06 L1370.25,378.05 L1371.10,379.04 L1371.93,380.02 L1372.76,381.01 L1373.56,382.00 L1374.31,382.99 L1375.02,383.98 L1375.67,384.96 L1376.24,385.95 L1376.73,386.94 L1377.12,387.93 L1377.40,388.91 L1377.57,389.90 L1377.58,390.89 L1377.18,391.88 L1376.39,392.86 L1375.34,393.85 L1374.16,394.84 L1372.97,395.82 L1371.90,396.81 L1371.08,397.80 L1370.65,398.79 L1370.46,399.77 L1370.29,400.76 L1370.14,401.75 L1370.01,402.74 L1369.90,403.73 L1369.80,404.71 L1369.71,405.70 L1369.63,406.69 L1369.55,407.68 L1369.48,408.66 L1369.41,409.65 L1369.34,410.64 L1369.26,411.62 L1369.19,412.61 L1369.10,413.60 L1369.01,414.59 L1368.91,415.57 L1368.81,416.56 L1368.72,417.55 L1368.63,418.54 L1368.55,419.52 L1368.47,420.51 L1368.39,421.50 L1368.30,422.49 L1368.22,423.48 L1368.12,424.46 L1368.02,425.45 L1367.92,426.44 L1367.80,427.43 L1367.67,428.41 L1367.52,429.40 L1367.36,430.39 L1367.19,431.38 L1366.95,432.36 L1366.57,433.35 L1366.08,434.34 L1365.49,435.32 L1364.81,436.31 L1364.05,437.30 L1363.24,438.29 L1362.38,439.27 L1361.49,440.26 L1360.58,441.25 L1359.67,442.24 L1358.77,443.23 L1357.91,444.21 L1357.08,445.20 L1356.31,446.19 L1355.61,447.18 L1354.99,448.16 L1354.40,449.15 L1353.83,450.14 L1353.27,451.12 L1352.72,452.11 L1352.19,453.10 L1351.66,454.09 L1351.15,455.07 L1350.66,456.06 L1350.18,457.05 L1349.71,458.04 L1349.26,459.02 L1348.82,460.01 L1348.40,461.00 L1348.40,461.00Z" fill="#f2c18f" fill-opacity="0.92"/>
<path d="M1407.26,589.40 L1407.26,589.40 L1407.04,590.26 L1406.81,591.11 L1406.59,591.97 L1406.36,592.82 L1406.12,593.68 L1405.89,594.54 L1405.65,595.39 L1405.41,596.25 L1405.17,597.11 L1404.92,597.96 L1404.68,598.82 L1404.43,599.67 L1404.17,600.53 L1403.92,601.39 L1403.66,602.24 L1403.40,603.10 L1403.14,603.96 L1402.87,604.81 L1402.61,605.67 L1402.34,606.52 L1402.06,607.38 L1401.79,608.24 L1401.51,609.09 L1401.24,609.95 L1400.95,610.81 L1400.67,611.66 L1400.39,612.52 L1400.10,613.38 L1399.81,614.23 L1399.52,615.09 L1399.22,615.94 L1398.91,616.80 L1398.60,617.66 L1398.29,618.51 L1397.97,619.37 L1397.65,620.23 L1397.32,621.08 L1396.99,621.94 L1396.66,622.79 L1396.32,623.65 L1395.98,624.51 L1395.64,625.36 L1395.29,626.22 L1394.94,627.07 L1394.59,627.93 L1394.24,628.79 L1393.89,629.64 L1393.54,630.50 L1393.18,631.36 L1392.83,632.21 L1392.47,633.07 L1392.12,633.92 L1391.76,634.78 L1391.41,635.64 L1391.05,636.49 L1390.70,637.35 L1390.35,638.21 L1389.99,639.06 L1389.64,639.92 L1389.30,640.77 L1388.95,641.63 L1388.61,642.49 L1388.27,643.34 L1387.93,644.20 L1387.60,645.06 L1387.27,645.91 L1386.92,646.77 L1386.55,647.62 L1386.17,648.48 L1385.77,649.34 L1385.36,650.19 L1384.95,651.05 L1384.52,651.91 L1384.10,652.76 L1383.67,653.62 L1383.24,654.48 L1382.81,655.33 L1382.39,656.19 L1381.97,657.04 L1381.57,657.90 L1381.17,658.76 L1380.79,659.61 L1380.42,660.47 L1380.08,661.32 L1379.75,662.18 L1379.44,663.04 L1379.16,663.89 L1378.91,664.75 L1378.68,665.61 L1378.49,666.46 L1378.33,667.32 L1378.20,668.17 L1378.11,669.03 L1378.07,669.89 L1378.06,670.74 L1378.08,671.60 L1378.12,672.46 L1378.17,673.31 L1378.24,674.17 L1378.33,675.02 L1378.44,675.88 L1378.56,676.74 L1378.70,677.59 L1378.85,678.45 L1379.01,679.31 L1379.19,680.16 L1379.38,681.02 L1379.59,681.88 L1379.80,682.73 L1380.03,683.59 L1380.26,684.44 L1380.51,685.30 L1380.76,686.16 L1381.02,687.01 L1381.29,687.87 L1381.57,688.73 L1381.85,689.58 L1382.14,690.44 L1382.43,691.29 L1382.73,692.15 L1383.07,693.01 L1383.49,693.86 L1383.99,694.72 L1384.56,695.57 L1385.18,696.43 L1385.86,697.29 L1386.58,698.14 L1387.34,699.00 L1388.12,699.86 L1388.92,700.71 L1389.74,701.57 L1390.55,702.42 L1391.36,703.28 L1392.15,704.14 L1392.93,704.99 L1393.67,705.85 L1394.37,706.71 L1395.03,707.56 L1395.64,708.42 L1396.25,709.27 L1396.86,710.13 L1397.46,710.99 L1398.05,711.84 L1398.64,712.70 L1399.22,713.56 L1399.80,714.41 L1400.38,715.27 L1400.94,716.12 L1401.50,716.98 L1402.06,717.84 L1402.61,718.69 L1403.15,719.55 L1403.69,720.41 L1404.22,721.26 L1404.74,722.12 L1405.26,722.97 L1405.77,723.83 L1406.28,724.69 L1406.77,725.54 L1407.26,726.40 L1407.26,726.40Z" fill="#a6cfea" fill-opacity="0.92"/>
<path d="M1407.26,489.80 L1407.26,489.80 L1407.44,491.30 L1407.62,492.80 L1407.80,494.30 L1407.98,495.81 L1408.01,497.31 L1408.01,498.81 L1408.01,500.31 L1408.01,501.81 L1408.01,503.31 L1408.01,504.81 L1408.01,506.31 L1408.01,507.81 L1408.01,509.32 L1408.01,510.82 L1408.01,512.32 L1408.01,513.82 L1408.01,515.32 L1408.01,516.82 L1408.01,518.32 L1408.01,519.83 L1408.01,521.33 L1408.01,522.83 L1408.01,524.33 L1408.01,525.83 L1408.01,527.33 L1408.01,528.83 L1408.01,530.33 L1408.01,531.84 L1408.01,533.34 L1408.01,534.84 L1408.01,536.34 L1408.01,537.84 L1408.01,539.34 L1408.01,540.84 L1408.01,542.34 L1408.01,543.85 L1408.01,545.35 L1408.01,546.85 L1408.01,548.35 L1408.01,549.85 L1408.05,551.35 L1408.10,552.85 L1408.14,554.35 L1408.19,555.86 L1408.23,557.36 L1408.28,558.86 L1408.33,560.36 L1408.38,561.86 L1408.43,563.36 L1408.49,564.86 L1408.54,566.36 L1408.60,567.87 L1408.66,569.37 L1408.72,570.87 L1408.78,572.37 L1408.84,573.87 L1408.90,575.37 L1408.97,576.87 L1409.04,578.37 L1409.11,579.88 L1409.18,581.38 L1409.25,582.88 L1409.36,584.38 L1409.59,585.88 L1409.94,587.38 L1410.39,588.88 L1410.94,590.38 L1411.57,591.88 L1412.27,593.39 L1413.03,594.89 L1413.85,596.39 L1414.71,597.89 L1415.60,599.39 L1416.52,600.89 L1417.44,602.39 L1418.37,603.89 L1419.29,605.40 L1420.19,606.90 L1421.07,608.40 L1421.90,609.90 L1422.68,611.40 L1423.41,612.90 L1424.06,614.40 L1424.70,615.90 L1425.36,617.41 L1426.03,618.91 L1426.72,620.41 L1427.41,621.91 L1428.10,623.41 L1428.79,624.91 L1429.47,626.41 L1430.14,627.91 L1430.80,629.42 L1431.43,630.92 L1432.04,632.42 L1432.61,633.92 L1433.15,635.42 L1433.65,636.92 L1434.11,638.42 L1434.52,639.92 L1434.87,641.43 L1435.16,642.93 L1435.39,644.43 L1435.55,645.93 L1435.70,647.43 L1435.83,648.93 L1435.96,650.43 L1436.08,651.93 L1436.19,653.44 L1436.28,654.94 L1436.35,656.44 L1436.41,657.94 L1436.45,659.44 L1436.46,660.94 L1436.43,662.44 L1436.33,663.94 L1436.17,665.45 L1435.95,666.95 L1435.67,668.45 L1435.34,669.95 L1434.97,671.45 L1434.56,672.95 L1434.10,674.45 L1433.61,675.96 L1433.10,677.46 L1432.55,678.96 L1431.99,680.46 L1431.41,681.96 L1430.81,683.46 L1430.21,684.96 L1429.60,686.46 L1428.98,687.97 L1428.38,689.47 L1427.77,690.97 L1427.18,692.47 L1426.54,693.97 L1425.82,695.47 L1425.04,696.97 L1424.20,698.47 L1423.30,699.98 L1422.37,701.48 L1421.40,702.98 L1420.41,704.48 L1419.40,705.98 L1418.38,707.48 L1417.36,708.98 L1416.35,710.48 L1415.35,711.99 L1414.38,713.49 L1413.45,714.99 L1412.56,716.49 L1411.71,717.99 L1410.93,719.49 L1410.21,720.99 L1409.57,722.49 L1409.01,724.00 L1408.51,725.50 L1408.06,727.00 L1407.65,728.50 L1407.26,730.00 L1407.26,730.00Z" fill="#f2c18f" fill-opacity="0.92"/>
<path d="M1466.12,131.70 L1466.12,131.70 L1466.06,132.18 L1466.01,132.65 L1465.95,133.13 L1465.89,133.61 L1465.83,134.08 L1465.78,134.56 L1465.72,135.04 L1465.66,135.51 L1465.60,135.99 L1465.55,136.47 L1465.49,136.95 L1465.43,137.42 L1465.38,137.90 L1465.37,138.38 L1465.37,138.85 L1465.37,139.33 L1465.37,139.81 L1465.29,140.28 L1465.20,140.76 L1465.11,141.24 L1465.01,141.71 L1464.91,142.19 L1464.80,142.67 L1464.69,143.14 L1464.57,143.62 L1464.45,144.10 L1464.33,144.58 L1464.20,145.05 L1464.07,145.53 L1463.94,146.01 L1463.80,146.48 L1463.66,146.96 L1463.51,147.44 L1463.37,147.91 L1463.21,148.39 L1463.06,148.87 L1462.90,149.34 L1462.74,149.82 L1462.57,150.30 L1462.41,150.77 L1462.24,151.25 L1462.06,151.73 L1461.89,152.21 L1461.71,152.68 L1461.53,153.16 L1461.34,153.64 L1461.15,154.11 L1460.96,154.59 L1460.77,155.07 L1460.58,155.54 L1460.38,156.02 L1460.18,156.50 L1459.98,156.97 L1459.78,157.45 L1459.57,157.93 L1459.36,158.41 L1459.15,158.88 L1458.94,159.36 L1458.73,159.84 L1458.51,160.31 L1458.29,160.79 L1458.07,161.27 L1457.85,161.74 L1457.63,162.22 L1457.41,162.70 L1457.17,163.17 L1456.87,163.65 L1456.53,164.13 L1456.13,164.60 L1455.69,165.08 L1455.21,165.56 L1454.69,166.03 L1454.14,166.51 L1453.55,166.99 L1452.94,167.47 L1452.30,167.94 L1451.64,168.42 L1450.96,168.90 L1450.26,169.37 L1449.55,169.85 L1448.83,170.33 L1448.10,170.80 L1447.37,171.28 L1446.64,171.76 L1445.91,172.23 L1445.19,172.71 L1444.48,173.19 L1443.78,173.66 L1443.10,174.14 L1442.43,174.62 L1441.79,175.10 L1441.17,175.57 L1440.59,176.05 L1440.03,176.53 L1439.51,177.00 L1439.03,177.48 L1438.59,177.96 L1438.19,178.43 L1437.84,178.91 L1437.54,179.39 L1437.30,179.86 L1437.11,180.34 L1436.99,180.82 L1436.93,181.29 L1436.93,181.77 L1437.00,182.25 L1437.13,182.73 L1437.31,183.20 L1437.55,183.68 L1437.84,184.16 L1438.18,184.63 L1438.57,185.11 L1438.99,185.59 L1439.46,186.06 L1439.96,186.54 L1440.50,187.02 L1441.07,187.49 L1441.66,187.97 L1442.28,188.45 L1442.92,188.93 L1443.58,189.40 L1444.25,189.88 L1444.94,190.36 L1445.63,190.83 L1446.33,191.31 L1447.04,191.79 L1447.74,192.26 L1448.45,192.74 L1449.15,193.22 L1449.83,193.69 L1450.51,194.17 L1451.17,194.65 L1451.82,195.12 L1452.44,195.60 L1453.04,196.08 L1453.62,196.56 L1454.16,197.03 L1454.69,197.51 L1455.21,197.99 L1455.73,198.46 L1456.26,198.94 L1456.78,199.42 L1457.30,199.89 L1457.82,200.37 L1458.34,200.85 L1458.87,201.32 L1459.39,201.80 L1459.91,202.28 L1460.43,202.75 L1460.95,203.23 L1461.46,203.71 L1461.98,204.19 L1462.50,204.66 L1463.02,205.14 L1463.54,205.62 L1464.05,206.09 L1464.57,206.57 L1465.09,207.05 L1465.60,207.52 L1466.12,208.00 L1466.12,208.00Z" fill="#a6cfea" fill-opacity="0.92"/>
<path d="M1466.12,122.40 L1466.12,122.40 L1466.19,122.95 L1466.25,123.49 L1466.32,124.04 L1466.38,124.58 L1466.45,125.12 L1466.51,125.67 L1466.58,126.22 L1466.64,126.76 L1466.71,127.31 L1466.77,127.85 L1466.87,128.40 L1467.01,128.94 L1467.16,129.49 L1467.32,130.03 L1467.49,130.58 L1467.67,131.12 L1467.86,131.66 L1468.06,132.21 L1468.27,132.75 L1468.49,133.30 L1468.71,133.84 L1468.95,134.39 L1469.19,134.94 L1469.45,135.48 L1469.71,136.03 L1469.97,136.57 L1470.25,137.12 L1470.53,137.66 L1470.82,138.21 L1471.12,138.75 L1471.43,139.30 L1471.74,139.84 L1472.06,140.38 L1472.38,140.93 L1472.71,141.47 L1473.04,142.02 L1473.39,142.56 L1473.73,143.11 L1474.08,143.66 L1474.44,144.20 L1474.80,144.75 L1475.17,145.29 L1475.54,145.84 L1475.91,146.38 L1476.29,146.93 L1476.67,147.47 L1477.17,148.02 L1477.80,148.56 L1478.55,149.10 L1479.40,149.65 L1480.33,150.19 L1481.34,150.74 L1482.40,151.28 L1483.51,151.83 L1484.65,152.38 L1485.80,152.92 L1486.95,153.47 L1488.08,154.01 L1489.18,154.56 L1490.24,155.10 L1491.24,155.64 L1492.16,156.19 L1492.99,156.74 L1493.72,157.28 L1494.33,157.82 L1494.81,158.37 L1495.14,158.92 L1495.30,159.46 L1495.32,160.00 L1495.29,160.55 L1495.23,161.09 L1495.15,161.64 L1495.05,162.19 L1494.92,162.73 L1494.77,163.28 L1494.60,163.82 L1494.41,164.37 L1494.20,164.91 L1493.97,165.45 L1493.73,166.00 L1493.47,166.55 L1493.20,167.09 L1492.91,167.63 L1492.61,168.18 L1492.31,168.72 L1491.99,169.27 L1491.66,169.81 L1491.33,170.36 L1490.99,170.91 L1490.64,171.45 L1490.29,172.00 L1489.94,172.54 L1489.58,173.08 L1489.23,173.63 L1488.87,174.18 L1488.52,174.72 L1488.17,175.26 L1487.82,175.81 L1487.47,176.36 L1487.14,176.90 L1486.81,177.44 L1486.48,177.99 L1486.17,178.53 L1485.85,179.08 L1485.52,179.62 L1485.19,180.17 L1484.84,180.72 L1484.49,181.26 L1484.13,181.81 L1483.77,182.35 L1483.40,182.89 L1483.02,183.44 L1482.64,183.99 L1482.25,184.53 L1481.86,185.07 L1481.47,185.62 L1481.07,186.16 L1480.67,186.71 L1480.27,187.25 L1479.87,187.80 L1479.47,188.34 L1479.07,188.89 L1478.66,189.44 L1478.26,189.98 L1477.86,190.52 L1477.46,191.07 L1477.06,191.62 L1476.67,192.16 L1476.28,192.70 L1475.89,193.25 L1475.51,193.80 L1475.13,194.34 L1474.76,194.88 L1474.39,195.43 L1474.03,195.97 L1473.68,196.52 L1473.34,197.06 L1473.00,197.61 L1472.66,198.16 L1472.33,198.70 L1471.99,199.25 L1471.67,199.79 L1471.34,200.33 L1471.01,200.88 L1470.69,201.43 L1470.37,201.97 L1470.05,202.51 L1469.74,203.06 L1469.42,203.60 L1469.11,204.15 L1468.80,204.69 L1468.50,205.24 L1468.19,205.78 L1467.89,206.33 L1467.59,206.88 L1467.29,207.42 L1466.99,207.96 L1466.70,208.51 L1466.41,209.06 L1466.12,209.60 L1466.12,209.60Z" fill="#f2c18f" fill-opacity="0.92"/>
<path d="M1524.98,271.80 L1524.98,271.80 L1524.82,273.16 L1524.65,274.53 L1524.49,275.89 L1524.33,277.25 L1524.23,278.61 L1524.23,279.98 L1524.23,281.34 L1524.23,282.70 L1524.23,284.06 L1524.23,285.43 L1524.23,286.79 L1524.23,288.15 L1524.23,289.51 L1524.23,290.88 L1524.23,292.24 L1524.23,293.60 L1524.16,294.96 L1524.07,296.32 L1523.97,297.69 L1523.86,299.05 L1523.75,300.41 L1523.63,301.78 L1523.51,303.14 L1523.39,304.50 L1523.26,305.86 L1523.13,307.23 L1522.99,308.59 L1522.84,309.95 L1522.70,311.31 L1522.54,312.68 L1522.39,314.04 L1522.23,315.40 L1522.06,316.76 L1521.89,318.12 L1521.72,319.49 L1521.54,320.85 L1521.36,322.21 L1521.18,323.57 L1520.99,324.94 L1520.79,326.30 L1520.60,327.66 L1520.40,329.03 L1520.19,330.39 L1519.99,331.75 L1519.77,333.11 L1519.56,334.48 L1519.27,335.84 L1518.91,337.20 L1518.46,338.56 L1517.95,339.93 L1517.38,341.29 L1516.75,342.65 L1516.08,344.01 L1515.36,345.38 L1514.61,346.74 L1513.84,348.10 L1513.04,349.46 L1512.23,350.83 L1511.41,352.19 L1510.60,353.55 L1509.79,354.91 L1509.00,356.27 L1508.23,357.64 L1507.49,359.00 L1506.79,360.36 L1506.13,361.73 L1505.52,363.09 L1504.96,364.45 L1504.46,365.81 L1503.96,367.18 L1503.45,368.54 L1502.92,369.90 L1502.40,371.26 L1501.87,372.62 L1501.34,373.99 L1500.82,375.35 L1500.30,376.71 L1499.80,378.08 L1499.31,379.44 L1498.84,380.80 L1498.39,382.16 L1497.96,383.52 L1497.56,384.89 L1497.20,386.25 L1496.86,387.61 L1496.57,388.98 L1496.32,390.34 L1496.11,391.70 L1495.95,393.06 L1495.84,394.43 L1495.79,395.79 L1495.79,397.15 L1495.82,398.51 L1495.89,399.88 L1495.99,401.24 L1496.12,402.60 L1496.28,403.96 L1496.47,405.33 L1496.68,406.69 L1496.91,408.05 L1497.16,409.41 L1497.44,410.77 L1497.73,412.14 L1498.04,413.50 L1498.36,414.86 L1498.69,416.23 L1499.04,417.59 L1499.39,418.95 L1499.75,420.31 L1500.12,421.68 L1500.49,423.04 L1500.86,424.40 L1501.24,425.76 L1501.61,427.12 L1502.00,428.49 L1502.45,429.85 L1502.95,431.21 L1503.51,432.58 L1504.11,433.94 L1504.74,435.30 L1505.42,436.66 L1506.12,438.02 L1506.85,439.39 L1507.59,440.75 L1508.35,442.11 L1509.12,443.48 L1509.89,444.84 L1510.66,446.20 L1511.42,447.56 L1512.16,448.93 L1512.89,450.29 L1513.59,451.65 L1514.27,453.01 L1514.91,454.38 L1515.51,455.74 L1516.06,457.10 L1516.57,458.46 L1517.04,459.83 L1517.50,461.19 L1517.95,462.55 L1518.40,463.91 L1518.84,465.27 L1519.27,466.64 L1519.69,468.00 L1520.11,469.36 L1520.51,470.73 L1520.91,472.09 L1521.30,473.45 L1521.67,474.81 L1522.04,476.18 L1522.39,477.54 L1522.73,478.90 L1523.06,480.26 L1523.38,481.62 L1523.68,482.99 L1523.97,484.35 L1524.25,485.71 L1524.51,487.08 L1524.75,488.44 L1524.98,489.80 L1524.98,489.80Z" fill="#a6cfea" fill-opacity="0.92"/>
<path d="M1524.98,265.60 L1524.98,265.60 L1525.15,266.98 L1525.31,268.36 L1525.48,269.75 L1525.64,271.13 L1525.73,272.51 L1525.73,273.89 L1525.73,275.27 L1525.73,276.66 L1525.73,278.04 L1525.73,279.42 L1525.73,280.80 L1525.76,282.18 L1525.89,283.56 L1526.03,284.95 L1526.17,286.33 L1526.33,287.71 L1526.50,289.09 L1526.67,290.47 L1526.85,291.86 L1527.04,293.24 L1527.24,294.62 L1527.45,296.00 L1527.66,297.38 L1527.88,298.77 L1528.11,300.15 L1528.35,301.53 L1528.59,302.91 L1528.84,304.29 L1529.10,305.67 L1529.36,307.06 L1529.63,308.44 L1529.90,309.82 L1530.18,311.20 L1530.47,312.58 L1530.76,313.97 L1531.06,315.35 L1531.36,316.73 L1531.67,318.11 L1531.98,319.49 L1532.29,320.88 L1532.61,322.26 L1532.94,323.64 L1533.27,325.02 L1533.60,326.40 L1533.94,327.78 L1534.28,329.17 L1534.62,330.55 L1534.97,331.93 L1535.32,333.31 L1535.68,334.69 L1536.13,336.08 L1536.66,337.46 L1537.28,338.84 L1537.97,340.22 L1538.72,341.60 L1539.52,342.99 L1540.37,344.37 L1541.25,345.75 L1542.15,347.13 L1543.07,348.51 L1544.00,349.89 L1544.92,351.28 L1545.83,352.66 L1546.71,354.04 L1547.57,355.42 L1548.38,356.80 L1549.14,358.19 L1549.84,359.57 L1550.47,360.95 L1551.01,362.33 L1551.48,363.71 L1551.84,365.10 L1552.14,366.48 L1552.44,367.86 L1552.73,369.24 L1553.01,370.62 L1553.27,372.00 L1553.51,373.39 L1553.72,374.77 L1553.90,376.15 L1554.04,377.53 L1554.13,378.91 L1554.18,380.30 L1554.15,381.68 L1554.00,383.06 L1553.73,384.44 L1553.34,385.82 L1552.85,387.20 L1552.27,388.59 L1551.61,389.97 L1550.88,391.35 L1550.09,392.73 L1549.25,394.11 L1548.38,395.50 L1547.47,396.88 L1546.55,398.26 L1545.63,399.64 L1544.70,401.02 L1543.79,402.41 L1542.91,403.79 L1542.06,405.17 L1541.26,406.55 L1540.52,407.93 L1539.84,409.31 L1539.24,410.70 L1538.73,412.08 L1538.26,413.46 L1537.80,414.84 L1537.35,416.22 L1536.90,417.61 L1536.47,418.99 L1536.05,420.37 L1535.64,421.75 L1535.23,423.13 L1534.84,424.52 L1534.45,425.90 L1534.08,427.28 L1533.72,428.66 L1533.36,430.04 L1533.02,431.43 L1532.69,432.81 L1532.37,434.19 L1532.06,435.57 L1531.76,436.95 L1531.47,438.33 L1531.20,439.72 L1530.93,441.10 L1530.68,442.48 L1530.43,443.86 L1530.19,445.24 L1529.95,446.63 L1529.72,448.01 L1529.48,449.39 L1529.25,450.77 L1529.02,452.15 L1528.79,453.53 L1528.57,454.92 L1528.35,456.30 L1528.13,457.68 L1527.92,459.06 L1527.72,460.44 L1527.51,461.83 L1527.32,463.21 L1527.13,464.59 L1526.94,465.97 L1526.76,467.35 L1526.58,468.74 L1526.42,470.12 L1526.25,471.50 L1526.10,472.88 L1525.95,474.26 L1525.81,475.64 L1525.73,477.03 L1525.73,478.41 L1525.73,479.79 L1525.64,481.17 L1525.48,482.55 L1525.31,483.94 L1525.15,485.32 L1524.98,486.70 L1524.98,486.70Z" fill="#f2c18f" fill-opacity="0.92"/>
<path d="M1583.84,246.90 L1583.84,246.90 L1583.72,247.64 L1583.60,248.38 L1583.46,249.12 L1583.32,249.86 L1583.16,250.60 L1583.00,251.34 L1582.83,252.08 L1582.65,252.81 L1582.46,253.55 L1582.26,254.29 L1582.06,255.03 L1581.84,255.77 L1581.62,256.51 L1581.40,257.25 L1581.16,257.99 L1580.92,258.73 L1580.67,259.47 L1580.41,260.21 L1580.15,260.95 L1579.88,261.69 L1579.61,262.43 L1579.33,263.17 L1579.04,263.91 L1578.75,264.64 L1578.45,265.38 L1578.15,266.12 L1577.85,266.86 L1577.54,267.60 L1577.22,268.34 L1576.90,269.08 L1576.57,269.82 L1576.25,270.56 L1575.91,271.30 L1575.58,272.04 L1575.24,272.78 L1574.90,273.52 L1574.55,274.26 L1574.21,275.00 L1573.86,275.74 L1573.50,276.48 L1573.15,277.21 L1572.79,277.95 L1572.42,278.69 L1571.99,279.43 L1571.52,280.17 L1571.01,280.91 L1570.46,281.65 L1569.87,282.39 L1569.25,283.13 L1568.61,283.87 L1567.94,284.61 L1567.25,285.35 L1566.55,286.09 L1565.83,286.83 L1565.11,287.57 L1564.38,288.31 L1563.65,289.04 L1562.92,289.78 L1562.20,290.52 L1561.49,291.26 L1560.79,292.00 L1560.11,292.74 L1559.46,293.48 L1558.83,294.22 L1558.23,294.96 L1557.66,295.70 L1557.13,296.44 L1556.64,297.18 L1556.19,297.92 L1555.80,298.66 L1555.45,299.40 L1555.16,300.13 L1554.93,300.87 L1554.77,301.61 L1554.67,302.35 L1554.64,303.09 L1554.67,303.83 L1554.76,304.57 L1554.90,305.31 L1555.09,306.05 L1555.32,306.79 L1555.59,307.53 L1555.91,308.27 L1556.26,309.01 L1556.65,309.75 L1557.07,310.49 L1557.51,311.23 L1557.99,311.96 L1558.49,312.70 L1559.01,313.44 L1559.55,314.18 L1560.11,314.92 L1560.68,315.66 L1561.26,316.40 L1561.85,317.14 L1562.44,317.88 L1563.04,318.62 L1563.64,319.36 L1564.24,320.10 L1564.83,320.84 L1565.41,321.58 L1565.99,322.32 L1566.55,323.06 L1567.09,323.80 L1567.62,324.53 L1568.13,325.27 L1568.61,326.01 L1569.07,326.75 L1569.50,327.49 L1569.90,328.23 L1570.30,328.97 L1570.71,329.71 L1571.12,330.45 L1571.53,331.19 L1571.95,331.93 L1572.37,332.67 L1572.79,333.41 L1573.21,334.15 L1573.63,334.89 L1574.04,335.62 L1574.46,336.36 L1574.87,337.10 L1575.28,337.84 L1575.69,338.58 L1576.09,339.32 L1576.49,340.06 L1576.88,340.80 L1577.26,341.54 L1577.63,342.28 L1578.00,343.02 L1578.36,343.76 L1578.71,344.50 L1579.04,345.24 L1579.37,345.98 L1579.68,346.72 L1579.98,347.45 L1580.27,348.19 L1580.54,348.93 L1580.80,349.67 L1581.05,350.41 L1581.27,351.15 L1581.48,351.89 L1581.67,352.63 L1581.85,353.37 L1582.02,354.11 L1582.19,354.85 L1582.36,355.59 L1582.52,356.33 L1582.67,357.07 L1582.82,357.81 L1582.96,358.55 L1583.09,359.28 L1583.22,360.02 L1583.31,360.76 L1583.40,361.50 L1583.49,362.24 L1583.57,362.98 L1583.66,363.72 L1583.75,364.46 L1583.84,365.20 L1583.84,365.20Z" fill="#a6cfea" fill-opacity="0.92"/>
<path d="M1583.84,250.00 L1583.84,250.00 L1584.01,250.78 L1584.19,251.56 L1584.38,252.34 L1584.57,253.12 L1584.78,253.89 L1585.00,254.67 L1585.22,255.45 L1585.46,256.23 L1585.70,257.01 L1585.96,257.79 L1586.22,258.57 L1586.48,259.35 L1586.76,260.12 L1587.04,260.90 L1587.34,261.68 L1587.63,262.46 L1587.94,263.24 L1588.25,264.02 L1588.57,264.80 L1588.90,265.57 L1589.23,266.35 L1589.56,267.13 L1589.91,267.91 L1590.25,268.69 L1590.61,269.47 L1590.97,270.25 L1591.33,271.03 L1591.70,271.81 L1592.07,272.58 L1592.45,273.36 L1592.83,274.14 L1593.21,274.92 L1593.60,275.70 L1593.99,276.48 L1594.39,277.26 L1594.78,278.04 L1595.21,278.81 L1595.68,279.59 L1596.21,280.37 L1596.77,281.15 L1597.38,281.93 L1598.03,282.71 L1598.70,283.49 L1599.40,284.26 L1600.13,285.04 L1600.87,285.82 L1601.63,286.60 L1602.40,287.38 L1603.17,288.16 L1603.94,288.94 L1604.71,289.72 L1605.47,290.50 L1606.22,291.27 L1606.95,292.05 L1607.66,292.83 L1608.35,293.61 L1609.01,294.39 L1609.63,295.17 L1610.22,295.95 L1610.76,296.73 L1611.25,297.50 L1611.70,298.28 L1612.09,299.06 L1612.41,299.84 L1612.68,300.62 L1612.87,301.40 L1612.99,302.18 L1613.04,302.95 L1613.00,303.73 L1612.89,304.51 L1612.71,305.29 L1612.45,306.07 L1612.14,306.85 L1611.77,307.63 L1611.34,308.41 L1610.88,309.19 L1610.37,309.96 L1609.82,310.74 L1609.25,311.52 L1608.65,312.30 L1608.03,313.08 L1607.39,313.86 L1606.75,314.64 L1606.10,315.42 L1605.45,316.19 L1604.81,316.97 L1604.18,317.75 L1603.57,318.53 L1602.98,319.31 L1602.42,320.09 L1601.89,320.87 L1601.40,321.64 L1600.91,322.42 L1600.41,323.20 L1599.88,323.98 L1599.35,324.76 L1598.80,325.54 L1598.23,326.32 L1597.66,327.10 L1597.08,327.88 L1596.49,328.65 L1595.90,329.43 L1595.31,330.21 L1594.71,330.99 L1594.11,331.77 L1593.52,332.55 L1592.93,333.33 L1592.35,334.11 L1591.78,334.88 L1591.21,335.66 L1590.66,336.44 L1590.12,337.22 L1589.60,338.00 L1589.09,338.78 L1588.60,339.56 L1588.14,340.34 L1587.69,341.11 L1587.27,341.89 L1586.88,342.67 L1586.51,343.45 L1586.17,344.23 L1585.87,345.01 L1585.60,345.79 L1585.36,346.57 L1585.16,347.34 L1585.00,348.12 L1584.88,348.90 L1584.80,349.68 L1584.75,350.46 L1584.69,351.24 L1584.64,352.02 L1584.59,352.80 L1584.59,353.57 L1584.59,354.35 L1584.59,355.13 L1584.59,355.91 L1584.59,356.69 L1584.59,357.47 L1584.59,358.25 L1584.59,359.03 L1584.59,359.80 L1584.59,360.58 L1584.59,361.36 L1584.59,362.14 L1584.59,362.92 L1584.59,363.70 L1584.59,364.48 L1584.59,365.25 L1584.59,366.03 L1584.59,366.81 L1584.59,367.59 L1584.59,368.37 L1584.49,369.15 L1584.40,369.93 L1584.31,370.71 L1584.21,371.49 L1584.12,372.26 L1584.03,373.04 L1583.93,373.82 L1583.84,374.60 L1583.84,374.60Z" fill="#f2c18f" fill-opacity="0.92"/>
<path d="M1642.70,343.40 L1642.70,343.40 L1642.47,343.96 L1642.25,344.53 L1642.03,345.09 L1641.81,345.66 L1641.59,346.22 L1641.37,346.79 L1641.16,347.35 L1640.95,347.91 L1640.74,348.48 L1640.53,349.04 L1640.33,349.61 L1640.13,350.17 L1639.94,350.74 L1639.74,351.30 L1639.55,351.87 L1639.37,352.43 L1639.18,352.99 L1639.01,353.56 L1638.83,354.12 L1638.66,354.69 L1638.49,355.25 L1638.33,355.82 L1638.17,356.38 L1638.02,356.94 L1637.87,357.51 L1637.73,358.07 L1637.59,358.64 L1637.45,359.20 L1637.32,359.77 L1637.20,360.33 L1637.08,360.90 L1636.96,361.46 L1636.85,362.02 L1636.75,362.59 L1636.65,363.15 L1636.56,363.72 L1636.48,364.28 L1636.40,364.85 L1636.33,365.41 L1636.26,365.97 L1636.20,366.54 L1636.14,367.10 L1636.09,367.67 L1636.04,368.23 L1636.00,368.80 L1635.96,369.36 L1635.93,369.93 L1635.89,370.49 L1635.86,371.05 L1635.83,371.62 L1635.80,372.18 L1635.78,372.75 L1635.75,373.31 L1635.72,373.88 L1635.70,374.44 L1635.67,375.00 L1635.64,375.57 L1635.61,376.13 L1635.58,376.70 L1635.54,377.26 L1635.50,377.83 L1635.46,378.39 L1635.42,378.96 L1635.37,379.52 L1635.31,380.08 L1635.25,380.65 L1635.19,381.21 L1635.12,381.78 L1635.04,382.34 L1634.96,382.91 L1634.86,383.47 L1634.75,384.03 L1634.35,384.60 L1633.57,385.16 L1632.47,385.73 L1631.12,386.29 L1629.55,386.86 L1627.82,387.42 L1625.99,387.99 L1624.10,388.55 L1622.22,389.11 L1620.39,389.68 L1618.67,390.24 L1617.11,390.81 L1615.76,391.37 L1614.68,391.94 L1613.92,392.50 L1613.54,393.06 L1613.52,393.63 L1613.68,394.19 L1613.96,394.76 L1614.36,395.32 L1614.87,395.89 L1615.47,396.45 L1616.16,397.02 L1616.92,397.58 L1617.74,398.14 L1618.60,398.71 L1619.51,399.27 L1620.43,399.84 L1621.38,400.40 L1622.32,400.97 L1623.25,401.53 L1624.17,402.09 L1625.05,402.66 L1625.88,403.22 L1626.66,403.79 L1627.38,404.35 L1628.01,404.92 L1628.55,405.48 L1629.01,406.05 L1629.45,406.61 L1629.87,407.17 L1630.29,407.74 L1630.69,408.30 L1631.08,408.87 L1631.46,409.43 L1631.83,410.00 L1632.19,410.56 L1632.54,411.12 L1632.88,411.69 L1633.22,412.25 L1633.54,412.82 L1633.86,413.38 L1634.17,413.95 L1634.48,414.51 L1634.78,415.08 L1635.07,415.64 L1635.36,416.20 L1635.65,416.77 L1635.93,417.33 L1636.20,417.90 L1636.48,418.46 L1636.75,419.03 L1637.02,419.59 L1637.28,420.15 L1637.55,420.72 L1637.81,421.28 L1638.07,421.85 L1638.33,422.41 L1638.58,422.98 L1638.84,423.54 L1639.08,424.11 L1639.33,424.67 L1639.57,425.23 L1639.81,425.80 L1640.04,426.36 L1640.27,426.93 L1640.50,427.49 L1640.72,428.06 L1640.94,428.62 L1641.15,429.19 L1641.36,429.75 L1641.56,430.31 L1641.77,430.88 L1641.96,431.44 L1642.15,432.01 L1642.34,432.57 L1642.52,433.14 L1642.70,433.70 L1642.70,433.70Z" fill="#a6cfea" fill-opacity="0.92"/>
<path d="M1642.70,340.30 L1642.70,340.30 L1642.82,340.85 L1642.95,341.39 L1643.09,341.94 L1643.24,342.48 L1643.40,343.03 L1643.56,343.57 L1643.74,344.12 L1643.92,344.66 L1644.12,345.20 L1644.32,345.75 L1644.52,346.30 L1644.74,346.84 L1644.96,347.38 L1645.19,347.93 L1645.43,348.48 L1645.67,349.02 L1645.92,349.56 L1646.18,350.11 L1646.44,350.66 L1646.71,351.20 L1646.99,351.75 L1647.26,352.29 L1647.55,352.84 L1647.84,353.38 L1648.13,353.93 L1648.43,354.47 L1648.73,355.01 L1649.04,355.56 L1649.35,356.11 L1649.67,356.65 L1649.98,357.19 L1650.31,357.74 L1650.63,358.29 L1650.96,358.83 L1651.30,359.38 L1651.68,359.92 L1652.10,360.47 L1652.56,361.01 L1653.05,361.56 L1653.58,362.10 L1654.14,362.64 L1654.72,363.19 L1655.33,363.74 L1655.96,364.28 L1656.62,364.82 L1657.28,365.37 L1657.97,365.92 L1658.66,366.46 L1659.36,367.00 L1660.07,367.55 L1660.78,368.10 L1661.49,368.64 L1662.20,369.19 L1662.91,369.73 L1663.60,370.27 L1664.29,370.82 L1664.97,371.37 L1665.62,371.91 L1666.27,372.45 L1666.89,373.00 L1667.48,373.55 L1668.05,374.09 L1668.60,374.63 L1669.11,375.18 L1669.58,375.73 L1670.02,376.27 L1670.42,376.81 L1670.78,377.36 L1671.10,377.91 L1671.36,378.45 L1671.58,379.00 L1671.74,379.54 L1671.85,380.09 L1671.90,380.63 L1671.89,381.18 L1671.86,381.72 L1671.80,382.26 L1671.72,382.81 L1671.61,383.36 L1671.47,383.90 L1671.32,384.44 L1671.15,384.99 L1670.95,385.54 L1670.74,386.08 L1670.51,386.62 L1670.27,387.17 L1670.01,387.72 L1669.73,388.26 L1669.45,388.81 L1669.15,389.35 L1668.85,389.89 L1668.53,390.44 L1668.21,390.99 L1667.88,391.53 L1667.55,392.07 L1667.22,392.62 L1666.88,393.17 L1666.54,393.71 L1666.20,394.25 L1665.86,394.80 L1665.52,395.35 L1665.19,395.89 L1664.86,396.44 L1664.51,396.98 L1664.14,397.52 L1663.73,398.07 L1663.30,398.62 L1662.85,399.16 L1662.37,399.70 L1661.87,400.25 L1661.35,400.80 L1660.81,401.34 L1660.26,401.88 L1659.70,402.43 L1659.13,402.98 L1658.54,403.52 L1657.95,404.06 L1657.36,404.61 L1656.76,405.15 L1656.16,405.70 L1655.56,406.25 L1654.96,406.79 L1654.37,407.34 L1653.78,407.88 L1653.21,408.43 L1652.64,408.97 L1652.09,409.51 L1651.55,410.06 L1651.03,410.61 L1650.52,411.15 L1650.04,411.69 L1649.58,412.24 L1649.14,412.78 L1648.73,413.33 L1648.35,413.88 L1648.00,414.42 L1647.68,414.97 L1647.38,415.51 L1647.09,416.06 L1646.81,416.60 L1646.53,417.14 L1646.26,417.69 L1645.99,418.24 L1645.73,418.78 L1645.47,419.32 L1645.22,419.87 L1644.98,420.41 L1644.74,420.96 L1644.52,421.50 L1644.30,422.05 L1644.09,422.60 L1643.90,423.14 L1643.71,423.69 L1643.53,424.23 L1643.36,424.77 L1643.20,425.32 L1643.06,425.87 L1642.93,426.41 L1642.81,426.95 L1642.70,427.50 L1642.70,427.50Z" fill="#f2c18f" fill-opacity="0.92"/>
<path d="M1701.56,427.40 L1701.56,427.40 L1701.45,428.33 L1701.34,429.27 L1701.22,430.20 L1701.11,431.13 L1701.00,432.07 L1700.89,433.00 L1700.81,433.94 L1700.72,434.87 L1700.56,435.80 L1700.39,436.74 L1700.21,437.67 L1700.03,438.60 L1699.83,439.54 L1699.63,440.47 L1699.42,441.41 L1699.21,442.34 L1698.99,443.27 L1698.77,444.21 L1698.54,445.14 L1698.31,446.07 L1698.07,447.01 L1697.80,447.94 L1697.51,448.88 L1697.20,449.81 L1696.86,450.74 L1696.51,451.68 L1696.13,452.61 L1695.74,453.54 L1695.33,454.48 L1694.91,455.41 L1694.47,456.35 L1694.02,457.28 L1693.55,458.21 L1693.08,459.15 L1692.59,460.08 L1692.10,461.01 L1691.60,461.95 L1691.09,462.88 L1690.58,463.82 L1690.06,464.75 L1689.54,465.68 L1689.02,466.62 L1688.50,467.55 L1687.97,468.48 L1687.45,469.42 L1686.93,470.35 L1686.42,471.29 L1685.91,472.22 L1685.41,473.15 L1684.91,474.09 L1684.40,475.02 L1683.86,475.95 L1683.30,476.89 L1682.72,477.82 L1682.13,478.76 L1681.53,479.69 L1680.93,480.62 L1680.33,481.56 L1679.73,482.49 L1679.15,483.42 L1678.58,484.36 L1678.04,485.29 L1677.52,486.23 L1677.03,487.16 L1676.58,488.09 L1676.17,489.03 L1675.80,489.96 L1675.44,490.89 L1675.07,491.83 L1674.71,492.76 L1674.34,493.70 L1673.99,494.63 L1673.66,495.56 L1673.35,496.50 L1673.07,497.43 L1672.83,498.36 L1672.64,499.30 L1672.49,500.23 L1672.39,501.17 L1672.36,502.10 L1672.41,503.03 L1672.55,503.97 L1672.78,504.90 L1673.08,505.83 L1673.45,506.77 L1673.89,507.70 L1674.37,508.64 L1674.91,509.57 L1675.48,510.50 L1676.07,511.44 L1676.69,512.37 L1677.33,513.30 L1677.97,514.24 L1678.60,515.17 L1679.23,516.11 L1679.83,517.04 L1680.42,517.97 L1680.96,518.91 L1681.47,519.84 L1681.92,520.77 L1682.34,521.71 L1682.76,522.64 L1683.17,523.58 L1683.57,524.51 L1683.97,525.44 L1684.36,526.38 L1684.74,527.31 L1685.13,528.25 L1685.51,529.18 L1685.88,530.11 L1686.25,531.05 L1686.63,531.98 L1686.99,532.91 L1687.36,533.85 L1687.73,534.78 L1688.10,535.71 L1688.46,536.65 L1688.83,537.58 L1689.20,538.52 L1689.57,539.45 L1689.94,540.38 L1690.32,541.32 L1690.70,542.25 L1691.08,543.18 L1691.48,544.12 L1691.89,545.05 L1692.31,545.99 L1692.74,546.92 L1693.18,547.85 L1693.62,548.79 L1694.06,549.72 L1694.51,550.65 L1694.95,551.59 L1695.39,552.52 L1695.82,553.46 L1696.24,554.39 L1696.66,555.32 L1697.06,556.26 L1697.45,557.19 L1697.82,558.12 L1698.17,559.06 L1698.51,559.99 L1698.82,560.93 L1699.10,561.86 L1699.36,562.79 L1699.59,563.73 L1699.79,564.66 L1699.98,565.60 L1700.17,566.53 L1700.35,567.46 L1700.52,568.40 L1700.68,569.33 L1700.81,570.26 L1700.89,571.20 L1701.00,572.13 L1701.11,573.06 L1701.22,574.00 L1701.34,574.93 L1701.45,575.87 L1701.56,576.80 L1701.56,576.80Z" fill="#a6cfea" fill-opacity="0.92"/>
<path d="M1701.56,424.30 L1701.56,424.30 L1701.87,425.02 L1702.19,425.75 L1702.51,426.47 L1702.84,427.19 L1703.17,427.92 L1703.51,428.64 L1703.85,429.36 L1704.19,430.09 L1704.54,430.81 L1704.89,431.53 L1705.24,432.25 L1705.60,432.98 L1705.97,433.70 L1706.33,434.42 L1706.70,435.15 L1707.08,435.87 L1707.45,436.59 L1707.84,437.32 L1708.22,438.04 L1708.61,438.76 L1709.00,439.49 L1709.40,440.21 L1709.80,440.93 L1710.20,441.66 L1710.60,442.38 L1711.01,443.10 L1711.42,443.82 L1711.83,444.55 L1712.25,445.27 L1712.67,445.99 L1713.10,446.72 L1713.55,447.44 L1714.03,448.16 L1714.52,448.89 L1715.03,449.61 L1715.55,450.33 L1716.08,451.06 L1716.63,451.78 L1717.18,452.50 L1717.74,453.23 L1718.31,453.95 L1718.88,454.67 L1719.45,455.39 L1720.02,456.12 L1720.58,456.84 L1721.15,457.56 L1721.70,458.29 L1722.25,459.01 L1722.78,459.73 L1723.30,460.46 L1723.81,461.18 L1724.30,461.90 L1724.78,462.63 L1725.23,463.35 L1725.66,464.07 L1726.07,464.80 L1726.45,465.52 L1726.80,466.24 L1727.12,466.96 L1727.41,467.69 L1727.68,468.41 L1727.95,469.13 L1728.22,469.86 L1728.48,470.58 L1728.75,471.30 L1729.01,472.03 L1729.26,472.75 L1729.49,473.47 L1729.72,474.20 L1729.93,474.92 L1730.12,475.64 L1730.29,476.37 L1730.44,477.09 L1730.56,477.81 L1730.66,478.53 L1730.72,479.26 L1730.76,479.98 L1730.75,480.70 L1730.72,481.43 L1730.64,482.15 L1730.53,482.87 L1730.40,483.60 L1730.23,484.32 L1730.03,485.04 L1729.80,485.77 L1729.55,486.49 L1729.28,487.21 L1728.98,487.94 L1728.66,488.66 L1728.32,489.38 L1727.97,490.10 L1727.60,490.83 L1727.21,491.55 L1726.81,492.27 L1726.40,493.00 L1725.98,493.72 L1725.55,494.44 L1725.12,495.17 L1724.68,495.89 L1724.24,496.61 L1723.79,497.34 L1723.35,498.06 L1722.90,498.78 L1722.46,499.50 L1722.02,500.23 L1721.59,500.95 L1721.17,501.67 L1720.76,502.40 L1720.35,503.12 L1719.96,503.84 L1719.59,504.57 L1719.23,505.29 L1718.87,506.01 L1718.50,506.74 L1718.13,507.46 L1717.75,508.18 L1717.37,508.91 L1716.99,509.63 L1716.59,510.35 L1716.20,511.07 L1715.80,511.80 L1715.40,512.52 L1715.00,513.24 L1714.59,513.97 L1714.18,514.69 L1713.77,515.41 L1713.36,516.14 L1712.94,516.86 L1712.53,517.58 L1712.12,518.31 L1711.70,519.03 L1711.29,519.75 L1710.88,520.48 L1710.47,521.20 L1710.06,521.92 L1709.65,522.64 L1709.25,523.37 L1708.85,524.09 L1708.45,524.81 L1708.06,525.54 L1707.66,526.26 L1707.28,526.98 L1706.90,527.71 L1706.52,528.43 L1706.15,529.15 L1705.79,529.88 L1705.43,530.60 L1705.08,531.32 L1704.73,532.05 L1704.39,532.77 L1704.06,533.49 L1703.74,534.22 L1703.43,534.94 L1703.13,535.66 L1702.83,536.38 L1702.55,537.11 L1702.29,537.83 L1702.04,538.55 L1701.80,539.28 L1701.56,540.00 L1701.56,540.00Z" fill="#f2c18f" fill-opacity="0.92"/>
<path d="M1760.42,337.10 L1760.42,337.10 L1760.32,337.90 L1760.23,338.70 L1760.13,339.49 L1760.04,340.29 L1759.94,341.09 L1759.85,341.89 L1759.75,342.69 L1759.67,343.49 L1759.61,344.28 L1759.50,345.08 L1759.39,345.88 L1759.27,346.68 L1759.15,347.48 L1759.03,348.27 L1758.90,349.07 L1758.77,349.87 L1758.64,350.67 L1758.50,351.47 L1758.36,352.26 L1758.22,353.06 L1758.07,353.86 L1757.93,354.66 L1757.78,355.46 L1757.62,356.25 L1757.47,357.05 L1757.31,357.85 L1757.15,358.65 L1756.99,359.45 L1756.83,360.25 L1756.67,361.04 L1756.50,361.84 L1756.33,362.64 L1756.16,363.44 L1755.99,364.24 L1755.82,365.03 L1755.65,365.83 L1755.47,366.63 L1755.29,367.43 L1755.11,368.23 L1754.92,369.03 L1754.73,369.82 L1754.54,370.62 L1754.34,371.42 L1754.14,372.22 L1753.93,373.02 L1753.72,373.81 L1753.51,374.61 L1753.28,375.41 L1753.06,376.21 L1752.83,377.01 L1752.59,377.80 L1752.34,378.60 L1752.10,379.40 L1751.84,380.20 L1751.58,381.00 L1751.31,381.80 L1751.03,382.59 L1750.75,383.39 L1750.46,384.19 L1750.16,384.99 L1749.85,385.79 L1749.53,386.58 L1749.21,387.38 L1748.88,388.18 L1748.54,388.98 L1748.19,389.78 L1747.81,390.57 L1747.36,391.37 L1746.83,392.17 L1746.25,392.97 L1745.60,393.77 L1744.90,394.56 L1744.17,395.36 L1743.39,396.16 L1742.59,396.96 L1741.76,397.76 L1740.92,398.56 L1740.07,399.35 L1739.23,400.15 L1738.38,400.95 L1737.56,401.75 L1736.75,402.55 L1735.97,403.34 L1735.22,404.14 L1734.52,404.94 L1733.86,405.74 L1733.26,406.54 L1732.73,407.34 L1732.26,408.13 L1731.87,408.93 L1731.57,409.73 L1731.35,410.53 L1731.24,411.33 L1731.23,412.12 L1731.36,412.92 L1731.61,413.72 L1731.97,414.52 L1732.44,415.32 L1733.00,416.11 L1733.63,416.91 L1734.33,417.71 L1735.09,418.51 L1735.88,419.31 L1736.71,420.11 L1737.55,420.90 L1738.40,421.70 L1739.24,422.50 L1740.07,423.30 L1740.86,424.10 L1741.61,424.89 L1742.30,425.69 L1742.93,426.49 L1743.48,427.29 L1743.97,428.09 L1744.45,428.88 L1744.92,429.68 L1745.39,430.48 L1745.84,431.28 L1746.29,432.08 L1746.73,432.88 L1747.16,433.67 L1747.59,434.47 L1748.01,435.27 L1748.42,436.07 L1748.83,436.87 L1749.23,437.66 L1749.62,438.46 L1750.01,439.26 L1750.39,440.06 L1750.77,440.86 L1751.14,441.65 L1751.51,442.45 L1751.88,443.25 L1752.24,444.05 L1752.59,444.85 L1752.95,445.64 L1753.30,446.44 L1753.64,447.24 L1753.99,448.04 L1754.33,448.84 L1754.67,449.64 L1755.00,450.43 L1755.34,451.23 L1755.67,452.03 L1756.00,452.83 L1756.33,453.63 L1756.65,454.42 L1756.97,455.22 L1757.28,456.02 L1757.59,456.82 L1757.89,457.62 L1758.19,458.42 L1758.48,459.21 L1758.77,460.01 L1759.05,460.81 L1759.33,461.61 L1759.61,462.41 L1759.88,463.20 L1760.15,464.00 L1760.42,464.80 L1760.42,464.80Z" fill="#a6cfea" fill-opacity="0.92"/>
<path d="M1760.42,352.70 L1760.42,352.70 L1760.53,353.61 L1760.64,354.53 L1760.75,355.44 L1760.86,356.36 L1760.97,357.27 L1761.08,358.19 L1761.17,359.10 L1761.17,360.01 L1761.17,360.93 L1761.17,361.84 L1761.27,362.76 L1761.42,363.67 L1761.58,364.59 L1761.75,365.50 L1761.92,366.42 L1762.11,367.33 L1762.30,368.24 L1762.50,369.16 L1762.71,370.07 L1762.92,370.99 L1763.14,371.90 L1763.36,372.82 L1763.59,373.73 L1763.82,374.64 L1764.06,375.56 L1764.30,376.47 L1764.54,377.39 L1764.78,378.30 L1765.03,379.22 L1765.28,380.13 L1765.52,381.05 L1765.80,381.96 L1766.10,382.87 L1766.42,383.79 L1766.78,384.70 L1767.15,385.62 L1767.55,386.53 L1767.97,387.45 L1768.41,388.36 L1768.86,389.27 L1769.34,390.19 L1769.83,391.10 L1770.33,392.02 L1770.85,392.93 L1771.38,393.85 L1771.92,394.76 L1772.47,395.68 L1773.02,396.59 L1773.59,397.50 L1774.15,398.42 L1774.73,399.33 L1775.30,400.25 L1775.88,401.16 L1776.45,402.08 L1777.03,402.99 L1777.60,403.90 L1778.16,404.82 L1778.73,405.73 L1779.34,406.65 L1780.04,407.56 L1780.80,408.48 L1781.60,409.39 L1782.44,410.31 L1783.30,411.22 L1784.16,412.13 L1785.01,413.05 L1785.83,413.96 L1786.60,414.88 L1787.33,415.79 L1787.98,416.71 L1788.54,417.62 L1789.00,418.53 L1789.34,419.45 L1789.55,420.36 L1789.62,421.28 L1789.57,422.19 L1789.45,423.11 L1789.25,424.02 L1788.99,424.94 L1788.66,425.85 L1788.29,426.76 L1787.86,427.68 L1787.39,428.59 L1786.88,429.51 L1786.34,430.42 L1785.77,431.34 L1785.18,432.25 L1784.58,433.16 L1783.97,434.08 L1783.35,434.99 L1782.74,435.91 L1782.13,436.82 L1781.53,437.74 L1780.96,438.65 L1780.40,439.57 L1779.88,440.48 L1779.40,441.39 L1778.95,442.31 L1778.55,443.22 L1778.17,444.14 L1777.79,445.05 L1777.41,445.97 L1777.04,446.88 L1776.67,447.79 L1776.30,448.71 L1775.94,449.62 L1775.58,450.54 L1775.22,451.45 L1774.87,452.37 L1774.52,453.28 L1774.18,454.20 L1773.83,455.11 L1773.49,456.02 L1773.16,456.94 L1772.82,457.85 L1772.49,458.77 L1772.16,459.68 L1771.84,460.60 L1771.52,461.51 L1771.20,462.42 L1770.88,463.34 L1770.57,464.25 L1770.25,465.17 L1769.94,466.08 L1769.64,467.00 L1769.33,467.91 L1769.03,468.83 L1768.73,469.74 L1768.43,470.65 L1768.14,471.57 L1767.85,472.48 L1767.56,473.40 L1767.27,474.31 L1766.98,475.23 L1766.70,476.14 L1766.42,477.06 L1766.13,477.97 L1765.86,478.88 L1765.58,479.80 L1765.31,480.71 L1765.03,481.63 L1764.77,482.54 L1764.50,483.46 L1764.24,484.37 L1763.98,485.28 L1763.72,486.20 L1763.47,487.11 L1763.22,488.03 L1762.97,488.94 L1762.73,489.86 L1762.48,490.77 L1762.24,491.69 L1762.01,492.60 L1761.77,493.51 L1761.54,494.43 L1761.31,495.34 L1761.09,496.26 L1760.86,497.17 L1760.64,498.09 L1760.42,499.00 L1760.42,499.00Z" fill="#f2c18f" fill-opacity="0.92"/>
<line x1="156.6" x2="156.6" y1="560.8" y2="586.3" stroke="#000" stroke-width="3.2"/>
<line x1="153.3" x2="159.9" y1="562.2" y2="562.2" stroke="#000" stroke-width="3.2"/>
<line x1="153.3" x2="159.9" y1="584.9" y2="584.9" stroke="#000" stroke-width="3.2"/>
<line x1="148.8" x2="164.4" y1="572.3" y2="572.3" stroke="#000" stroke-width="3.2"/>
<circle cx="156.6" cy="572.3" r="4.7" fill="#fff" stroke="#000" stroke-width="2.5"/>
<line x1="185.8" x2="185.8" y1="544.9" y2="576.3" stroke="#000" stroke-width="3.2"/>
<line x1="182.5" x2="189.1" y1="546.3" y2="546.3" stroke="#000" stroke-width="3.2"/>
<line x1="182.5" x2="189.1" y1="574.9" y2="574.9" stroke="#000" stroke-width="3.2"/>
<line x1="178.0" x2="193.6" y1="560.5" y2="560.5" stroke="#000" stroke-width="3.2"/>
<circle cx="185.8" cy="560.5" r="4.7" fill="#fff" stroke="#000" stroke-width="2.5"/>
<line x1="215.5" x2="215.5" y1="600.3" y2="626.8" stroke="#000" stroke-width="3.2"/>
<line x1="212.2" x2="218.8" y1="601.7" y2="601.7" stroke="#000" stroke-width="3.2"/>
<line x1="212.2" x2="218.8" y1="625.4" y2="625.4" stroke="#000" stroke-width="3.2"/>
<line x1="207.7" x2="223.3" y1="613.4" y2="613.4" stroke="#000" stroke-width="3.2"/>
<circle cx="215.5" cy="613.4" r="4.7" fill="#fff" stroke="#000" stroke-width="2.5"/>
<line x1="244.7" x2="244.7" y1="587.0" y2="623.7" stroke="#000" stroke-width="3.2"/>
<line x1="241.4" x2="248.0" y1="588.4" y2="588.4" stroke="#000" stroke-width="3.2"/>
<line x1="241.4" x2="248.0" y1="622.3" y2="622.3" stroke="#000" stroke-width="3.2"/>
<line x1="236.9" x2="252.5" y1="605.6" y2="605.6" stroke="#000" stroke-width="3.2"/>
<circle cx="244.7" cy="605.6" r="4.7" fill="#fff" stroke="#000" stroke-width="2.5"/>
<line x1="274.3" x2="274.3" y1="450.0" y2="473.6" stroke="#000" stroke-width="3.2"/>
<line x1="271.0" x2="277.6" y1="451.4" y2="451.4" stroke="#000" stroke-width="3.2"/>
<line x1="271.0" x2="277.6" y1="472.2" y2="472.2" stroke="#000" stroke-width="3.2"/>
<line x1="266.5" x2="282.1" y1="460.2" y2="460.2" stroke="#000" stroke-width="3.2"/>
<circle cx="274.3" cy="460.2" r="4.7" fill="#fff" stroke="#000" stroke-width="2.5"/>
<line x1="303.5" x2="303.5" y1="447.0" y2="471.0" stroke="#000" stroke-width="3.2"/>
<line x1="300.2" x2="306.8" y1="448.4" y2="448.4" stroke="#000" stroke-width="3.2"/>
<line x1="300.2" x2="306.8" y1="469.6" y2="469.6" stroke="#000" stroke-width="3.2"/>
<line x1="295.7" x2="311.3" y1="460.2" y2="460.2" stroke="#000" stroke-width="3.2"/>
<circle cx="303.5" cy="460.2" r="4.7" fill="#fff" stroke="#000" stroke-width="2.5"/>
<line x1="333.2" x2="333.2" y1="315.4" y2="351.2" stroke="#000" stroke-width="3.2"/>
<line x1="329.9" x2="336.5" y1="316.8" y2="316.8" stroke="#000" stroke-width="3.2"/>
<line x1="329.9" x2="336.5" y1="349.8" y2="349.8" stroke="#000" stroke-width="3.2"/>
<line x1="325.4" x2="341.0" y1="331.6" y2="331.6" stroke="#000" stroke-width="3.2"/>
<circle cx="333.2" cy="331.6" r="4.7" fill="#fff" stroke="#000" stroke-width="2.5"/>
<line x1="362.4" x2="362.4" y1="313.0" y2="342.0" stroke="#000" stroke-width="3.2"/>
<line x1="359.1" x2="365.7" y1="314.4" y2="314.4" stroke="#000" stroke-width="3.2"/>
<line x1="359.1" x2="365.7" y1="340.6" y2="340.6" stroke="#000" stroke-width="3.2"/>
<line x1="354.6" x2="370.2" y1="327.9" y2="327.9" stroke="#000" stroke-width="3.2"/>
<circle cx="362.4" cy="327.9" r="4.7" fill="#fff" stroke="#000" stroke-width="2.5"/>
<line x1="392.0" x2="392.0" y1="321.0" y2="334.0" stroke="#000" stroke-width="3.2"/>
<line x1="388.7" x2="395.3" y1="322.4" y2="322.4" stroke="#000" stroke-width="3.2"/>
<line x1="388.7" x2="395.3" y1="332.6" y2="332.6" stroke="#000" stroke-width="3.2"/>
<line x1="384.2" x2="399.8" y1="327.3" y2="327.3" stroke="#000" stroke-width="3.2"/>
<circle cx="392.0" cy="327.3" r="4.7" fill="#fff" stroke="#000" stroke-width="2.5"/>
<line x1="421.2" x2="421.2" y1="314.5" y2="331.6" stroke="#000" stroke-width="3.2"/>
<line x1="417.9" x2="424.5" y1="315.9" y2="315.9" stroke="#000" stroke-width="3.2"/>
<line x1="417.9" x2="424.5" y1="330.2" y2="330.2" stroke="#000" stroke-width="3.2"/>
<line x1="413.4" x2="429.0" y1="323.2" y2="323.2" stroke="#000" stroke-width="3.2"/>
<circle cx="421.2" cy="323.2" r="4.7" fill="#fff" stroke="#000" stroke-width="2.5"/>
<line x1="450.9" x2="450.9" y1="224.5" y2="248.5" stroke="#000" stroke-width="3.2"/>
<line x1="447.6" x2="454.2" y1="225.9" y2="225.9" stroke="#000" stroke-width="3.2"/>
<line x1="447.6" x2="454.2" y1="247.1" y2="247.1" stroke="#000" stroke-width="3.2"/>
<line x1="443.1" x2="458.7" y1="236.0" y2="236.0" stroke="#000" stroke-width="3.2"/>
<circle cx="450.9" cy="236.0" r="4.7" fill="#fff" stroke="#000" stroke-width="2.5"/>
<line x1="480.1" x2="480.1" y1="204.9" y2="238.2" stroke="#000" stroke-width="3.2"/>
<line x1="476.8" x2="483.4" y1="206.3" y2="206.3" stroke="#000" stroke-width="3.2"/>
<line x1="476.8" x2="483.4" y1="236.8" y2="236.8" stroke="#000" stroke-width="3.2"/>
<line x1="472.3" x2="487.9" y1="219.5" y2="219.5" stroke="#000" stroke-width="3.2"/>
<circle cx="480.1" cy="219.5" r="4.7" fill="#fff" stroke="#000" stroke-width="2.5"/>
<line x1="509.8" x2="509.8" y1="194.6" y2="226.7" stroke="#000" stroke-width="3.2"/>
<line x1="506.5" x2="513.1" y1="196.0" y2="196.0" stroke="#000" stroke-width="3.2"/>
<line x1="506.5" x2="513.1" y1="225.3" y2="225.3" stroke="#000" stroke-width="3.2"/>
<line x1="502.0" x2="517.6" y1="212.0" y2="212.0" stroke="#000" stroke-width="3.2"/>
<circle cx="509.8" cy="212.0" r="4.7" fill="#fff" stroke="#000" stroke-width="2.5"/>
<line x1="539.0" x2="539.0" y1="180.0" y2="211.7" stroke="#000" stroke-width="3.2"/>
<line x1="535.7" x2="542.3" y1="181.4" y2="181.4" stroke="#000" stroke-width="3.2"/>
<line x1="535.7" x2="542.3" y1="210.3" y2="210.3" stroke="#000" stroke-width="3.2"/>
<line x1="531.2" x2="546.8" y1="194.6" y2="194.6" stroke="#000" stroke-width="3.2"/>
<circle cx="539.0" cy="194.6" r="4.7" fill="#fff" stroke="#000" stroke-width="2.5"/>
<line x1="568.6" x2="568.6" y1="334.0" y2="364.3" stroke="#000" stroke-width="3.2"/>
<line x1="565.3" x2="571.9" y1="335.4" y2="335.4" stroke="#000" stroke-width="3.2"/>
<line x1="565.3" x2="571.9" y1="362.9" y2="362.9" stroke="#000" stroke-width="3.2"/>
<line x1="560.8" x2="576.4" y1="353.7" y2="353.7" stroke="#000" stroke-width="3.2"/>
<circle cx="568.6" cy="353.7" r="4.7" fill="#fff" stroke="#000" stroke-width="2.5"/>
<line x1="597.8" x2="597.8" y1="319.0" y2="351.2" stroke="#000" stroke-width="3.2"/>
<line x1="594.5" x2="601.1" y1="320.4" y2="320.4" stroke="#000" stroke-width="3.2"/>
<line x1="594.5" x2="601.1" y1="349.8" y2="349.8" stroke="#000" stroke-width="3.2"/>
<line x1="590.0" x2="605.6" y1="336.0" y2="336.0" stroke="#000" stroke-width="3.2"/>
<circle cx="597.8" cy="336.0" r="4.7" fill="#fff" stroke="#000" stroke-width="2.5"/>
<line x1="627.5" x2="627.5" y1="296.0" y2="317.0" stroke="#000" stroke-width="3.2"/>
<line x1="624.2" x2="630.8" y1="297.4" y2="297.4" stroke="#000" stroke-width="3.2"/>
<line x1="624.2" x2="630.8" y1="315.6" y2="315.6" stroke="#000" stroke-width="3.2"/>
<line x1="619.7" x2="635.3" y1="307.0" y2="307.0" stroke="#000" stroke-width="3.2"/>
<circle cx="627.5" cy="307.0" r="4.7" fill="#fff" stroke="#000" stroke-width="2.5"/>
<line x1="656.7" x2="656.7" y1="298.3" y2="327.3" stroke="#000" stroke-width="3.2"/>
<line x1="653.4" x2="660.0" y1="299.7" y2="299.7" stroke="#000" stroke-width="3.2"/>
<line x1="653.4" x2="660.0" y1="325.9" y2="325.9" stroke="#000" stroke-width="3.2"/>
<line x1="648.9" x2="664.5" y1="313.0" y2="313.0" stroke="#000" stroke-width="3.2"/>
<circle cx="656.7" cy="313.0" r="4.7" fill="#fff" stroke="#000" stroke-width="2.5"/>
<line x1="686.3" x2="686.3" y1="394.8" y2="469.0" stroke="#000" stroke-width="3.2"/>
<line x1="683.0" x2="689.6" y1="396.2" y2="396.2" stroke="#000" stroke-width="3.2"/>
<line x1="683.0" x2="689.6" y1="467.6" y2="467.6" stroke="#000" stroke-width="3.2"/>
<line x1="678.5" x2="694.1" y1="436.9" y2="436.9" stroke="#000" stroke-width="3.2"/>
<circle cx="686.3" cy="436.9" r="4.7" fill="#fff" stroke="#000" stroke-width="2.5"/>
<line x1="715.5" x2="715.5" y1="349.0" y2="423.5" stroke="#000" stroke-width="3.2"/>
<line x1="712.2" x2="718.8" y1="350.4" y2="350.4" stroke="#000" stroke-width="3.2"/>
<line x1="712.2" x2="718.8" y1="422.1" y2="422.1" stroke="#000" stroke-width="3.2"/>
<line x1="707.7" x2="723.3" y1="381.4" y2="381.4" stroke="#000" stroke-width="3.2"/>
<circle cx="715.5" cy="381.4" r="4.7" fill="#fff" stroke="#000" stroke-width="2.5"/>
<line x1="745.2" x2="745.2" y1="566.0" y2="591.0" stroke="#000" stroke-width="3.2"/>
<line x1="741.9" x2="748.5" y1="567.4" y2="567.4" stroke="#000" stroke-width="3.2"/>
<line x1="741.9" x2="748.5" y1="589.6" y2="589.6" stroke="#000" stroke-width="3.2"/>
<line x1="737.4" x2="753.0" y1="577.0" y2="577.0" stroke="#000" stroke-width="3.2"/>
<circle cx="745.2" cy="577.0" r="4.7" fill="#fff" stroke="#000" stroke-width="2.5"/>
<line x1="774.4" x2="774.4" y1="559.0" y2="586.3" stroke="#000" stroke-width="3.2"/>
<line x1="771.1" x2="777.7" y1="560.4" y2="560.4" stroke="#000" stroke-width="3.2"/>
<line x1="771.1" x2="777.7" y1="584.9" y2="584.9" stroke="#000" stroke-width="3.2"/>
<line x1="766.6" x2="782.2" y1="573.0" y2="573.0" stroke="#000" stroke-width="3.2"/>
<circle cx="774.4" cy="573.0" r="4.7" fill="#fff" stroke="#000" stroke-width="2.5"/>
<line x1="804.1" x2="804.1" y1="382.4" y2="402.0" stroke="#000" stroke-width="3.2"/>
<line x1="800.8" x2="807.4" y1="383.8" y2="383.8" stroke="#000" stroke-width="3.2"/>
<line x1="800.8" x2="807.4" y1="400.6" y2="400.6" stroke="#000" stroke-width="3.2"/>
<line x1="796.3" x2="811.9" y1="392.3" y2="392.3" stroke="#000" stroke-width="3.2"/>
<circle cx="804.1" cy="392.3" r="4.7" fill="#fff" stroke="#000" stroke-width="2.5"/>
<line x1="833.3" x2="833.3" y1="372.0" y2="393.3" stroke="#000" stroke-width="3.2"/>
<line x1="830.0" x2="836.6" y1="373.4" y2="373.4" stroke="#000" stroke-width="3.2"/>
<line x1="830.0" x2="836.6" y1="391.9" y2="391.9" stroke="#000" stroke-width="3.2"/>
<line x1="825.5" x2="841.1" y1="382.4" y2="382.4" stroke="#000" stroke-width="3.2"/>
<circle cx="833.3" cy="382.4" r="4.7" fill="#fff" stroke="#000" stroke-width="2.5"/>
<line x1="862.9" x2="862.9" y1="450.0" y2="505.4" stroke="#000" stroke-width="3.2"/>
<line x1="859.6" x2="866.2" y1="451.4" y2="451.4" stroke="#000" stroke-width="3.2"/>
<line x1="859.6" x2="866.2" y1="504.0" y2="504.0" stroke="#000" stroke-width="3.2"/>
<line x1="855.1" x2="870.7" y1="469.6" y2="469.6" stroke="#000" stroke-width="3.2"/>
<circle cx="862.9" cy="469.6" r="4.7" fill="#fff" stroke="#000" stroke-width="2.5"/>
<line x1="892.1" x2="892.1" y1="416.6" y2="472.0" stroke="#000" stroke-width="3.2"/>
<line x1="888.8" x2="895.4" y1="418.0" y2="418.0" stroke="#000" stroke-width="3.2"/>
<line x1="888.8" x2="895.4" y1="470.6" y2="470.6" stroke="#000" stroke-width="3.2"/>
<line x1="884.3" x2="899.9" y1="445.3" y2="445.3" stroke="#000" stroke-width="3.2"/>
<circle cx="892.1" cy="445.3" r="4.7" fill="#fff" stroke="#000" stroke-width="2.5"/>
<line x1="921.8" x2="921.8" y1="247.5" y2="264.0" stroke="#000" stroke-width="3.2"/>
<line x1="918.5" x2="925.1" y1="248.9" y2="248.9" stroke="#000" stroke-width="3.2"/>
<line x1="918.5" x2="925.1" y1="262.6" y2="262.6" stroke="#000" stroke-width="3.2"/>
<line x1="914.0" x2="929.6" y1="255.3" y2="255.3" stroke="#000" stroke-width="3.2"/>
<circle cx="921.8" cy="255.3" r="4.7" fill="#fff" stroke="#000" stroke-width="2.5"/>
<line x1="951.0" x2="951.0" y1="250.0" y2="268.7" stroke="#000" stroke-width="3.2"/>
<line x1="947.7" x2="954.3" y1="251.4" y2="251.4" stroke="#000" stroke-width="3.2"/>
<line x1="947.7" x2="954.3" y1="267.3" y2="267.3" stroke="#000" stroke-width="3.2"/>
<line x1="943.2" x2="958.8" y1="257.8" y2="257.8" stroke="#000" stroke-width="3.2"/>
<circle cx="951.0" cy="257.8" r="4.7" fill="#fff" stroke="#000" stroke-width="2.5"/>
<line x1="980.6" x2="980.6" y1="422.8" y2="459.6" stroke="#000" stroke-width="3.2"/>
<line x1="977.3" x2="983.9" y1="424.2" y2="424.2" stroke="#000" stroke-width="3.2"/>
<line x1="977.3" x2="983.9" y1="458.2" y2="458.2" stroke="#000" stroke-width="3.2"/>
<line x1="972.8" x2="988.4" y1="444.0" y2="444.0" stroke="#000" stroke-width="3.2"/>
<circle cx="980.6" cy="444.0" r="4.7" fill="#fff" stroke="#000" stroke-width="2.5"/>
<line x1="1009.8" x2="1009.8" y1="415.0" y2="451.8" stroke="#000" stroke-width="3.2"/>
<line x1="1006.5" x2="1013.1" y1="416.4" y2="416.4" stroke="#000" stroke-width="3.2"/>
<line x1="1006.5" x2="1013.1" y1="450.4" y2="450.4" stroke="#000" stroke-width="3.2"/>
<line x1="1002.0" x2="1017.6" y1="434.4" y2="434.4" stroke="#000" stroke-width="3.2"/>
<circle cx="1009.8" cy="434.4" r="4.7" fill="#fff" stroke="#000" stroke-width="2.5"/>
<line x1="1039.5" x2="1039.5" y1="494.5" y2="535.6" stroke="#000" stroke-width="3.2"/>
<line x1="1036.2" x2="1042.8" y1="495.9" y2="495.9" stroke="#000" stroke-width="3.2"/>
<line x1="1036.2" x2="1042.8" y1="534.2" y2="534.2" stroke="#000" stroke-width="3.2"/>
<line x1="1031.7" x2="1047.3" y1="516.3" y2="516.3" stroke="#000" stroke-width="3.2"/>
<circle cx="1039.5" cy="516.3" r="4.7" fill="#fff" stroke="#000" stroke-width="2.5"/>
<line x1="1068.7" x2="1068.7" y1="469.6" y2="514.7" stroke="#000" stroke-width="3.2"/>
<line x1="1065.4" x2="1072.0" y1="471.0" y2="471.0" stroke="#000" stroke-width="3.2"/>
<line x1="1065.4" x2="1072.0" y1="513.3" y2="513.3" stroke="#000" stroke-width="3.2"/>
<line x1="1060.9" x2="1076.5" y1="497.6" y2="497.6" stroke="#000" stroke-width="3.2"/>
<circle cx="1068.7" cy="497.6" r="4.7" fill="#fff" stroke="#000" stroke-width="2.5"/>
<line x1="1098.4" x2="1098.4" y1="349.7" y2="480.5" stroke="#000" stroke-width="3.2"/>
<line x1="1095.1" x2="1101.7" y1="351.1" y2="351.1" stroke="#000" stroke-width="3.2"/>
<line x1="1095.1" x2="1101.7" y1="479.1" y2="479.1" stroke="#000" stroke-width="3.2"/>
<line x1="1090.6" x2="1106.2" y1="429.0" y2="429.0" stroke="#000" stroke-width="3.2"/>
<circle cx="1098.4" cy="429.0" r="4.7" fill="#fff" stroke="#000" stroke-width="2.5"/>
<line x1="1127.6" x2="1127.6" y1="309.8" y2="430.6" stroke="#000" stroke-width="3.2"/>
<line x1="1124.3" x2="1130.9" y1="311.2" y2="311.2" stroke="#000" stroke-width="3.2"/>
<line x1="1124.3" x2="1130.9" y1="429.2" y2="429.2" stroke="#000" stroke-width="3.2"/>
<line x1="1119.8" x2="1135.4" y1="364.6" y2="364.6" stroke="#000" stroke-width="3.2"/>
<circle cx="1127.6" cy="364.6" r="4.7" fill="#fff" stroke="#000" stroke-width="2.5"/>
<line x1="1157.2" x2="1157.2" y1="472.7" y2="499.8" stroke="#000" stroke-width="3.2"/>
<line x1="1153.9" x2="1160.5" y1="474.1" y2="474.1" stroke="#000" stroke-width="3.2"/>
<line x1="1153.9" x2="1160.5" y1="498.4" y2="498.4" stroke="#000" stroke-width="3.2"/>
<line x1="1149.4" x2="1165.0" y1="486.7" y2="486.7" stroke="#000" stroke-width="3.2"/>
<circle cx="1157.2" cy="486.7" r="4.7" fill="#fff" stroke="#000" stroke-width="2.5"/>
<line x1="1186.4" x2="1186.4" y1="450.9" y2="483.6" stroke="#000" stroke-width="3.2"/>
<line x1="1183.1" x2="1189.7" y1="452.3" y2="452.3" stroke="#000" stroke-width="3.2"/>
<line x1="1183.1" x2="1189.7" y1="482.2" y2="482.2" stroke="#000" stroke-width="3.2"/>
<line x1="1178.6" x2="1194.2" y1="466.4" y2="466.4" stroke="#000" stroke-width="3.2"/>
<circle cx="1186.4" cy="466.4" r="4.7" fill="#fff" stroke="#000" stroke-width="2.5"/>
<line x1="1216.1" x2="1216.1" y1="180.0" y2="190.2" stroke="#000" stroke-width="3.2"/>
<line x1="1212.8" x2="1219.4" y1="181.4" y2="181.4" stroke="#000" stroke-width="3.2"/>
<line x1="1212.8" x2="1219.4" y1="188.8" y2="188.8" stroke="#000" stroke-width="3.2"/>
<line x1="1208.3" x2="1223.9" y1="184.6" y2="184.6" stroke="#000" stroke-width="3.2"/>
<circle cx="1216.1" cy="184.6" r="4.7" fill="#fff" stroke="#000" stroke-width="2.5"/>
<line x1="1245.3" x2="1245.3" y1="174.7" y2="187.0" stroke="#000" stroke-width="3.2"/>
<line x1="1242.0" x2="1248.6" y1="176.1" y2="176.1" stroke="#000" stroke-width="3.2"/>
<line x1="1242.0" x2="1248.6" y1="185.6" y2="185.6" stroke="#000" stroke-width="3.2"/>
<line x1="1237.5" x2="1253.1" y1="180.9" y2="180.9" stroke="#000" stroke-width="3.2"/>
<circle cx="1245.3" cy="180.9" r="4.7" fill="#fff" stroke="#000" stroke-width="2.5"/>
<line x1="1274.9" x2="1274.9" y1="277.0" y2="320.7" stroke="#000" stroke-width="3.2"/>
<line x1="1271.6" x2="1278.2" y1="278.4" y2="278.4" stroke="#000" stroke-width="3.2"/>
<line x1="1271.6" x2="1278.2" y1="319.3" y2="319.3" stroke="#000" stroke-width="3.2"/>
<line x1="1267.1" x2="1282.7" y1="300.5" y2="300.5" stroke="#000" stroke-width="3.2"/>
<circle cx="1274.9" cy="300.5" r="4.7" fill="#fff" stroke="#000" stroke-width="2.5"/>
<line x1="1304.1" x2="1304.1" y1="253.0" y2="296.7" stroke="#000" stroke-width="3.2"/>
<line x1="1300.8" x2="1307.4" y1="254.4" y2="254.4" stroke="#000" stroke-width="3.2"/>
<line x1="1300.8" x2="1307.4" y1="295.3" y2="295.3" stroke="#000" stroke-width="3.2"/>
<line x1="1296.3" x2="1311.9" y1="273.4" y2="273.4" stroke="#000" stroke-width="3.2"/>
<circle cx="1304.1" cy="273.4" r="4.7" fill="#fff" stroke="#000" stroke-width="2.5"/>
<line x1="1333.8" x2="1333.8" y1="407.9" y2="438.4" stroke="#000" stroke-width="3.2"/>
<line x1="1330.5" x2="1337.1" y1="409.3" y2="409.3" stroke="#000" stroke-width="3.2"/>
<line x1="1330.5" x2="1337.1" y1="437.0" y2="437.0" stroke="#000" stroke-width="3.2"/>
<line x1="1326.0" x2="1341.6" y1="422.2" y2="422.2" stroke="#000" stroke-width="3.2"/>
<circle cx="1333.8" cy="422.2" r="4.7" fill="#fff" stroke="#000" stroke-width="2.5"/>
<line x1="1363.0" x2="1363.0" y1="384.5" y2="421.3" stroke="#000" stroke-width="3.2"/>
<line x1="1359.7" x2="1366.3" y1="385.9" y2="385.9" stroke="#000" stroke-width="3.2"/>
<line x1="1359.7" x2="1366.3" y1="419.9" y2="419.9" stroke="#000" stroke-width="3.2"/>
<line x1="1355.2" x2="1370.8" y1="400.0" y2="400.0" stroke="#000" stroke-width="3.2"/>
<circle cx="1363.0" cy="400.0" r="4.7" fill="#fff" stroke="#000" stroke-width="2.5"/>
<line x1="1392.7" x2="1392.7" y1="656.4" y2="689.0" stroke="#000" stroke-width="3.2"/>
<line x1="1389.4" x2="1396.0" y1="657.8" y2="657.8" stroke="#000" stroke-width="3.2"/>
<line x1="1389.4" x2="1396.0" y1="687.6" y2="687.6" stroke="#000" stroke-width="3.2"/>
<line x1="1384.9" x2="1400.5" y1="672.0" y2="672.0" stroke="#000" stroke-width="3.2"/>
<circle cx="1392.7" cy="672.0" r="4.7" fill="#fff" stroke="#000" stroke-width="2.5"/>
<line x1="1421.9" x2="1421.9" y1="625.2" y2="675.0" stroke="#000" stroke-width="3.2"/>
<line x1="1418.6" x2="1425.2" y1="626.6" y2="626.6" stroke="#000" stroke-width="3.2"/>
<line x1="1418.6" x2="1425.2" y1="673.6" y2="673.6" stroke="#000" stroke-width="3.2"/>
<line x1="1414.1" x2="1429.7" y1="650.2" y2="650.2" stroke="#000" stroke-width="3.2"/>
<circle cx="1421.9" cy="650.2" r="4.7" fill="#fff" stroke="#000" stroke-width="2.5"/>
<line x1="1451.5" x2="1451.5" y1="169.7" y2="189.3" stroke="#000" stroke-width="3.2"/>
<line x1="1448.2" x2="1454.8" y1="171.1" y2="171.1" stroke="#000" stroke-width="3.2"/>
<line x1="1448.2" x2="1454.8" y1="187.9" y2="187.9" stroke="#000" stroke-width="3.2"/>
<line x1="1443.7" x2="1459.3" y1="182.0" y2="182.0" stroke="#000" stroke-width="3.2"/>
<circle cx="1451.5" cy="182.0" r="4.7" fill="#fff" stroke="#000" stroke-width="2.5"/>
<line x1="1480.7" x2="1480.7" y1="156.6" y2="178.4" stroke="#000" stroke-width="3.2"/>
<line x1="1477.4" x2="1484.0" y1="158.0" y2="158.0" stroke="#000" stroke-width="3.2"/>
<line x1="1477.4" x2="1484.0" y1="177.0" y2="177.0" stroke="#000" stroke-width="3.2"/>
<line x1="1472.9" x2="1488.5" y1="165.3" y2="165.3" stroke="#000" stroke-width="3.2"/>
<circle cx="1480.7" cy="165.3" r="4.7" fill="#fff" stroke="#000" stroke-width="2.5"/>
<line x1="1510.4" x2="1510.4" y1="380.8" y2="427.5" stroke="#000" stroke-width="3.2"/>
<line x1="1507.1" x2="1513.7" y1="382.2" y2="382.2" stroke="#000" stroke-width="3.2"/>
<line x1="1507.1" x2="1513.7" y1="426.1" y2="426.1" stroke="#000" stroke-width="3.2"/>
<line x1="1502.6" x2="1518.2" y1="401.0" y2="401.0" stroke="#000" stroke-width="3.2"/>
<circle cx="1510.4" cy="401.0" r="4.7" fill="#fff" stroke="#000" stroke-width="2.5"/>
<line x1="1539.6" x2="1539.6" y1="364.3" y2="408.8" stroke="#000" stroke-width="3.2"/>
<line x1="1536.3" x2="1542.9" y1="365.7" y2="365.7" stroke="#000" stroke-width="3.2"/>
<line x1="1536.3" x2="1542.9" y1="407.4" y2="407.4" stroke="#000" stroke-width="3.2"/>
<line x1="1531.8" x2="1547.4" y1="384.5" y2="384.5" stroke="#000" stroke-width="3.2"/>
<circle cx="1539.6" cy="384.5" r="4.7" fill="#fff" stroke="#000" stroke-width="2.5"/>
<line x1="1569.2" x2="1569.2" y1="298.3" y2="325.4" stroke="#000" stroke-width="3.2"/>
<line x1="1565.9" x2="1572.5" y1="299.7" y2="299.7" stroke="#000" stroke-width="3.2"/>
<line x1="1565.9" x2="1572.5" y1="324.0" y2="324.0" stroke="#000" stroke-width="3.2"/>
<line x1="1561.4" x2="1577.0" y1="311.4" y2="311.4" stroke="#000" stroke-width="3.2"/>
<circle cx="1569.2" cy="311.4" r="4.7" fill="#fff" stroke="#000" stroke-width="2.5"/>
<line x1="1598.4" x2="1598.4" y1="296.7" y2="319.2" stroke="#000" stroke-width="3.2"/>
<line x1="1595.1" x2="1601.7" y1="298.1" y2="298.1" stroke="#000" stroke-width="3.2"/>
<line x1="1595.1" x2="1601.7" y1="317.8" y2="317.8" stroke="#000" stroke-width="3.2"/>
<line x1="1590.6" x2="1606.2" y1="307.0" y2="307.0" stroke="#000" stroke-width="3.2"/>
<circle cx="1598.4" cy="307.0" r="4.7" fill="#fff" stroke="#000" stroke-width="2.5"/>
<line x1="1628.1" x2="1628.1" y1="388.6" y2="404.2" stroke="#000" stroke-width="3.2"/>
<line x1="1624.8" x2="1631.4" y1="390.0" y2="390.0" stroke="#000" stroke-width="3.2"/>
<line x1="1624.8" x2="1631.4" y1="402.8" y2="402.8" stroke="#000" stroke-width="3.2"/>
<line x1="1620.3" x2="1635.9" y1="395.4" y2="395.4" stroke="#000" stroke-width="3.2"/>
<circle cx="1628.1" cy="395.4" r="4.7" fill="#fff" stroke="#000" stroke-width="2.5"/>
<line x1="1657.3" x2="1657.3" y1="376.8" y2="396.4" stroke="#000" stroke-width="3.2"/>
<line x1="1654.0" x2="1660.6" y1="378.2" y2="378.2" stroke="#000" stroke-width="3.2"/>
<line x1="1654.0" x2="1660.6" y1="395.0" y2="395.0" stroke="#000" stroke-width="3.2"/>
<line x1="1649.5" x2="1665.1" y1="386.1" y2="386.1" stroke="#000" stroke-width="3.2"/>
<circle cx="1657.3" cy="386.1" r="4.7" fill="#fff" stroke="#000" stroke-width="2.5"/>
<line x1="1687.0" x2="1687.0" y1="479.7" y2="513.0" stroke="#000" stroke-width="3.2"/>
<line x1="1683.7" x2="1690.3" y1="481.1" y2="481.1" stroke="#000" stroke-width="3.2"/>
<line x1="1683.7" x2="1690.3" y1="511.6" y2="511.6" stroke="#000" stroke-width="3.2"/>
<line x1="1679.2" x2="1694.8" y1="499.6" y2="499.6" stroke="#000" stroke-width="3.2"/>
<circle cx="1687.0" cy="499.6" r="4.7" fill="#fff" stroke="#000" stroke-width="2.5"/>
<line x1="1716.2" x2="1716.2" y1="465.4" y2="497.5" stroke="#000" stroke-width="3.2"/>
<line x1="1712.9" x2="1719.5" y1="466.8" y2="466.8" stroke="#000" stroke-width="3.2"/>
<line x1="1712.9" x2="1719.5" y1="496.1" y2="496.1" stroke="#000" stroke-width="3.2"/>
<line x1="1708.4" x2="1724.0" y1="480.3" y2="480.3" stroke="#000" stroke-width="3.2"/>
<circle cx="1716.2" cy="480.3" r="4.7" fill="#fff" stroke="#000" stroke-width="2.5"/>
<line x1="1745.8" x2="1745.8" y1="401.0" y2="422.7" stroke="#000" stroke-width="3.2"/>
<line x1="1742.5" x2="1749.1" y1="402.4" y2="402.4" stroke="#000" stroke-width="3.2"/>
<line x1="1742.5" x2="1749.1" y1="421.3" y2="421.3" stroke="#000" stroke-width="3.2"/>
<line x1="1738.0" x2="1753.6" y1="411.2" y2="411.2" stroke="#000" stroke-width="3.2"/>
<circle cx="1745.8" cy="411.2" r="4.7" fill="#fff" stroke="#000" stroke-width="2.5"/>
<line x1="1775.0" x2="1775.0" y1="407.2" y2="435.2" stroke="#000" stroke-width="3.2"/>
<line x1="1771.7" x2="1778.3" y1="408.6" y2="408.6" stroke="#000" stroke-width="3.2"/>
<line x1="1771.7" x2="1778.3" y1="433.8" y2="433.8" stroke="#000" stroke-width="3.2"/>
<line x1="1767.2" x2="1782.8" y1="421.2" y2="421.2" stroke="#000" stroke-width="3.2"/>
<circle cx="1775.0" cy="421.2" r="4.7" fill="#fff" stroke="#000" stroke-width="2.5"/>
<path d="M156.6,126.5 L156.6,117.3 L186.2,117.3 L186.2,126.5" fill="none" stroke="#000" stroke-width="2.6"/>
<text x="171.4" y="119.3" font-size="22" text-anchor="middle">***</text>
<path d="M215.5,126.5 L215.5,117.3 L245.1,117.3 L245.1,126.5" fill="none" stroke="#000" stroke-width="2.6"/>
<text x="230.3" y="119.3" font-size="22" text-anchor="middle">*</text>
<path d="M392.0,126.5 L392.0,117.3 L421.6,117.3 L421.6,126.5" fill="none" stroke="#000" stroke-width="2.6"/>
<text x="406.8" y="119.3" font-size="22" text-anchor="middle">**</text>
<path d="M450.9,126.5 L450.9,117.3 L480.5,117.3 L480.5,126.5" fill="none" stroke="#000" stroke-width="2.6"/>
<text x="465.7" y="119.3" font-size="22" text-anchor="middle">***</text>
<path d="M509.8,126.5 L509.8,117.3 L539.4,117.3 L539.4,126.5" fill="none" stroke="#000" stroke-width="2.6"/>
<text x="524.6" y="119.3" font-size="22" text-anchor="middle">***</text>
<path d="M568.6,126.5 L568.6,117.3 L598.2,117.3 L598.2,126.5" fill="none" stroke="#000" stroke-width="2.6"/>
<text x="583.4" y="119.3" font-size="22" text-anchor="middle">***</text>
<path d="M627.5,126.5 L627.5,117.3 L657.1,117.3 L657.1,126.5" fill="none" stroke="#000" stroke-width="2.6"/>
<text x="642.3" y="119.3" font-size="22" text-anchor="middle">*</text>
<path d="M686.3,126.5 L686.3,117.3 L715.9,117.3 L715.9,126.5" fill="none" stroke="#000" stroke-width="2.6"/>
<text x="701.1" y="119.3" font-size="22" text-anchor="middle">***</text>
<path d="M804.1,126.5 L804.1,117.3 L833.7,117.3 L833.7,126.5" fill="none" stroke="#000" stroke-width="2.6"/>
<text x="818.9" y="119.3" font-size="22" text-anchor="middle">***</text>
<path d="M862.9,126.5 L862.9,117.3 L892.5,117.3 L892.5,126.5" fill="none" stroke="#000" stroke-width="2.6"/>
<text x="877.7" y="119.3" font-size="22" text-anchor="middle">***</text>
<path d="M980.6,126.5 L980.6,117.3 L1010.2,117.3 L1010.2,126.5" fill="none" stroke="#000" stroke-width="2.6"/>
<text x="995.4" y="119.3" font-size="22" text-anchor="middle">*</text>
<path d="M1039.5,126.5 L1039.5,117.3 L1069.1,117.3 L1069.1,126.5" fill="none" stroke="#000" stroke-width="2.6"/>
<text x="1054.3" y="119.3" font-size="22" text-anchor="middle">***</text>
<path d="M1098.4,126.5 L1098.4,117.3 L1128.0,117.3 L1128.0,126.5" fill="none" stroke="#000" stroke-width="2.6"/>
<text x="1113.2" y="119.3" font-size="22" text-anchor="middle">***</text>
<path d="M1157.2,126.5 L1157.2,117.3 L1186.8,117.3 L1186.8,126.5" fill="none" stroke="#000" stroke-width="2.6"/>
<text x="1172.0" y="119.3" font-size="22" text-anchor="middle">***</text>
<path d="M1216.1,126.5 L1216.1,117.3 L1245.7,117.3 L1245.7,126.5" fill="none" stroke="#000" stroke-width="2.6"/>
<text x="1230.9" y="119.3" font-size="22" text-anchor="middle">**</text>
<path d="M1274.9,126.5 L1274.9,117.3 L1304.5,117.3 L1304.5,126.5" fill="none" stroke="#000" stroke-width="2.6"/>
<text x="1289.7" y="119.3" font-size="22" text-anchor="middle">***</text>
<path d="M1333.8,126.5 L1333.8,117.3 L1363.4,117.3 L1363.4,126.5" fill="none" stroke="#000" stroke-width="2.6"/>
<text x="1348.6" y="119.3" font-size="22" text-anchor="middle">***</text>
<path d="M1392.7,126.5 L1392.7,117.3 L1422.3,117.3 L1422.3,126.5" fill="none" stroke="#000" stroke-width="2.6"/>
<text x="1407.5" y="119.3" font-size="22" text-anchor="middle">***</text>
<path d="M1451.5,126.5 L1451.5,117.3 L1481.1,117.3 L1481.1,126.5" fill="none" stroke="#000" stroke-width="2.6"/>
<text x="1466.3" y="119.3" font-size="22" text-anchor="middle">***</text>
<path d="M1510.4,126.5 L1510.4,117.3 L1540.0,117.3 L1540.0,126.5" fill="none" stroke="#000" stroke-width="2.6"/>
<text x="1525.2" y="119.3" font-size="22" text-anchor="middle">**</text>
<path d="M1628.1,126.5 L1628.1,117.3 L1657.7,117.3 L1657.7,126.5" fill="none" stroke="#000" stroke-width="2.6"/>
<text x="1642.9" y="119.3" font-size="22" text-anchor="middle">***</text>
<path d="M1687.0,126.5 L1687.0,117.3 L1716.6,117.3 L1716.6,126.5" fill="none" stroke="#000" stroke-width="2.6"/>
<text x="1701.8" y="119.3" font-size="22" text-anchor="middle">***</text>
<path d="M1745.8,126.5 L1745.8,117.3 L1775.4,117.3 L1775.4,126.5" fill="none" stroke="#000" stroke-width="2.6"/>
<text x="1760.6" y="119.3" font-size="22" text-anchor="middle">***</text>
<rect x="136.4" y="85.8" width="1658.4" height="675.0" fill="none" stroke="#000" stroke-width="2.6"/>
<line x1="126" x2="136.4" y1="710.7" y2="710.7" stroke="#000" stroke-width="2.6"/>
<text x="114.5" y="719.0" font-size="24.5" text-anchor="end">0.0</text>
<line x1="126" x2="136.4" y1="594.8" y2="594.8" stroke="#000" stroke-width="2.6"/>
<text x="114.5" y="603.1" font-size="24.5" text-anchor="end">0.2</text>
<line x1="126" x2="136.4" y1="478.8" y2="478.8" stroke="#000" stroke-width="2.6"/>
<text x="114.5" y="487.1" font-size="24.5" text-anchor="end">0.4</text>
<line x1="126" x2="136.4" y1="362.9" y2="362.9" stroke="#000" stroke-width="2.6"/>
<text x="114.5" y="371.2" font-size="24.5" text-anchor="end">0.6</text>
<line x1="126" x2="136.4" y1="246.9" y2="246.9" stroke="#000" stroke-width="2.6"/>
<text x="114.5" y="255.2" font-size="24.5" text-anchor="end">0.8</text>
<line x1="126" x2="136.4" y1="131.0" y2="131.0" stroke="#000" stroke-width="2.6"/>
<text x="114.5" y="139.3" font-size="24.5" text-anchor="end">1.0</text>
<text transform="translate(56.5,417) rotate(-90)" font-size="29.6" text-anchor="middle">Fraction</text>
<line x1="171.2" x2="171.2" y1="760.8" y2="771" stroke="#000" stroke-width="2.6"/>
<text transform="translate(181.3,790.5) rotate(-45)" font-size="25.2" text-anchor="end" xml:space="preserve">Activated B cell</text>
<line x1="230.1" x2="230.1" y1="760.8" y2="771" stroke="#000" stroke-width="2.6"/>
<text transform="translate(240.2,790.5) rotate(-45)" font-size="25.2" text-anchor="end" xml:space="preserve">Activated CD4 T cell</text>
<line x1="288.9" x2="288.9" y1="760.8" y2="771" stroke="#000" stroke-width="2.6"/>
<text transform="translate(299.0,790.5) rotate(-45)" font-size="25.2" text-anchor="end" xml:space="preserve">Activated CD8 T cell</text>
<line x1="347.8" x2="347.8" y1="760.8" y2="771" stroke="#000" stroke-width="2.6"/>
<text transform="translate(357.9,790.5) rotate(-45)" font-size="25.2" text-anchor="end" xml:space="preserve">Activated dendritic cell</text>
<line x1="406.6" x2="406.6" y1="760.8" y2="771" stroke="#000" stroke-width="2.6"/>
<text transform="translate(416.7,790.5) rotate(-45)" font-size="25.2" text-anchor="end" xml:space="preserve">CD56bright natural killer cell</text>
<line x1="465.5" x2="465.5" y1="760.8" y2="771" stroke="#000" stroke-width="2.6"/>
<text transform="translate(475.6,790.5) rotate(-45)" font-size="25.2" text-anchor="end" xml:space="preserve">CD56dim natural killer cell</text>
<line x1="524.4" x2="524.4" y1="760.8" y2="771" stroke="#000" stroke-width="2.6"/>
<text transform="translate(534.5,790.5) rotate(-45)" font-size="25.2" text-anchor="end" xml:space="preserve">Central memory CD4 T cell</text>
<line x1="583.2" x2="583.2" y1="760.8" y2="771" stroke="#000" stroke-width="2.6"/>
<text transform="translate(593.3,790.5) rotate(-45)" font-size="25.2" text-anchor="end" xml:space="preserve">Central memory CD8 T cell</text>
<line x1="642.1" x2="642.1" y1="760.8" y2="771" stroke="#000" stroke-width="2.6"/>
<text transform="translate(652.2,790.5) rotate(-45)" font-size="25.2" text-anchor="end" xml:space="preserve">Effector memeory CD4 T cell</text>
<line x1="700.9" x2="700.9" y1="760.8" y2="771" stroke="#000" stroke-width="2.6"/>
<text transform="translate(711.0,790.5) rotate(-45)" font-size="25.2" text-anchor="end" xml:space="preserve">Effector memeory CD8 T cell</text>
<line x1="759.8" x2="759.8" y1="760.8" y2="771" stroke="#000" stroke-width="2.6"/>
<text transform="translate(769.9,790.5) rotate(-45)" font-size="25.2" text-anchor="end" xml:space="preserve">Eosinophil</text>
<line x1="818.7" x2="818.7" y1="760.8" y2="771" stroke="#000" stroke-width="2.6"/>
<text transform="translate(828.8,790.5) rotate(-45)" font-size="25.2" text-anchor="end" xml:space="preserve">Gamma delta T cell</text>
<line x1="877.5" x2="877.5" y1="760.8" y2="771" stroke="#000" stroke-width="2.6"/>
<text transform="translate(887.6,790.5) rotate(-45)" font-size="25.2" text-anchor="end" xml:space="preserve">Immature  B cell</text>
<line x1="936.4" x2="936.4" y1="760.8" y2="771" stroke="#000" stroke-width="2.6"/>
<text transform="translate(946.5,790.5) rotate(-45)" font-size="25.2" text-anchor="end" xml:space="preserve">Immature dendritic cell</text>
<line x1="995.2" x2="995.2" y1="760.8" y2="771" stroke="#000" stroke-width="2.6"/>
<text transform="translate(1005.3,790.5) rotate(-45)" font-size="25.2" text-anchor="end" xml:space="preserve">Macrophage</text>
<line x1="1054.1" x2="1054.1" y1="760.8" y2="771" stroke="#000" stroke-width="2.6"/>
<text transform="translate(1064.2,790.5) rotate(-45)" font-size="25.2" text-anchor="end" xml:space="preserve">Mast cell</text>
<line x1="1113.0" x2="1113.0" y1="760.8" y2="771" stroke="#000" stroke-width="2.6"/>
<text transform="translate(1123.1,790.5) rotate(-45)" font-size="25.2" text-anchor="end" xml:space="preserve">MDSC</text>
<line x1="1171.8" x2="1171.8" y1="760.8" y2="771" stroke="#000" stroke-width="2.6"/>
<text transform="translate(1181.9,790.5) rotate(-45)" font-size="25.2" text-anchor="end" xml:space="preserve">Memory B cell</text>
<line x1="1230.7" x2="1230.7" y1="760.8" y2="771" stroke="#000" stroke-width="2.6"/>
<text transform="translate(1240.8,790.5) rotate(-45)" font-size="25.2" text-anchor="end" xml:space="preserve">Monocyte</text>
<line x1="1289.5" x2="1289.5" y1="760.8" y2="771" stroke="#000" stroke-width="2.6"/>
<text transform="translate(1299.6,790.5) rotate(-45)" font-size="25.2" text-anchor="end" xml:space="preserve">Natural killer cell</text>
<line x1="1348.4" x2="1348.4" y1="760.8" y2="771" stroke="#000" stroke-width="2.6"/>
<text transform="translate(1358.5,790.5) rotate(-45)" font-size="25.2" text-anchor="end" xml:space="preserve">Natural killer T cell</text>
<line x1="1407.3" x2="1407.3" y1="760.8" y2="771" stroke="#000" stroke-width="2.6"/>
<text transform="translate(1417.4,790.5) rotate(-45)" font-size="25.2" text-anchor="end" xml:space="preserve">Neutrophil</text>
<line x1="1466.1" x2="1466.1" y1="760.8" y2="771" stroke="#000" stroke-width="2.6"/>
<text transform="translate(1476.2,790.5) rotate(-45)" font-size="25.2" text-anchor="end" xml:space="preserve">Plasmacytoid dendritic cell</text>
<line x1="1525.0" x2="1525.0" y1="760.8" y2="771" stroke="#000" stroke-width="2.6"/>
<text transform="translate(1535.1,790.5) rotate(-45)" font-size="25.2" text-anchor="end" xml:space="preserve">Regulatory T cell</text>
<line x1="1583.8" x2="1583.8" y1="760.8" y2="771" stroke="#000" stroke-width="2.6"/>
<text transform="translate(1593.9,790.5) rotate(-45)" font-size="25.2" text-anchor="end" xml:space="preserve">T follicular helper cell</text>
<line x1="1642.7" x2="1642.7" y1="760.8" y2="771" stroke="#000" stroke-width="2.6"/>
<text transform="translate(1652.8,790.5) rotate(-45)" font-size="25.2" text-anchor="end" xml:space="preserve">Type 1 T helper cell</text>
<line x1="1701.6" x2="1701.6" y1="760.8" y2="771" stroke="#000" stroke-width="2.6"/>
<text transform="translate(1711.7,790.5) rotate(-45)" font-size="25.2" text-anchor="end" xml:space="preserve">Type 17 T helper cell</text>
<line x1="1760.4" x2="1760.4" y1="760.8" y2="771" stroke="#000" stroke-width="2.6"/>
<text transform="translate(1770.5,790.5) rotate(-45)" font-size="25.2" text-anchor="end" xml:space="preserve">Type 2 T helper cell</text>
<rect x="856.4" y="42.8" width="26.3" height="26.4" fill="#a6cfea"/>
<text x="893.8" y="63.6" font-size="25.5" font-weight="bold">Control</text>
<rect x="996.2" y="42.8" width="25.8" height="26.4" fill="#f2c18f"/>
<text x="1033" y="63.6" font-size="25.5" font-weight="bold">AD</text>
<text x="933.3" y="1055.8" font-size="31" text-anchor="middle">A</text>
</g>
<g id="panelB">
<rect x="603.30" y="1117.60" width="30.77" height="30.77" fill="#b3417e"/>
<rect x="603.30" y="1148.37" width="30.77" height="30.77" fill="#fff" stroke="#9a9a9a" stroke-width="1.3"/>
<rect x="634.07" y="1148.37" width="30.77" height="30.77" fill="#b3417e"/>
<rect x="603.30" y="1179.14" width="30.77" height="30.77" fill="#fff" stroke="#9a9a9a" stroke-width="1.3"/>
<rect x="634.07" y="1179.14" width="30.77" height="30.77" fill="#fff" stroke="#9a9a9a" stroke-width="1.3"/>
<rect x="664.84" y="1179.14" width="30.77" height="30.77" fill="#b3417e"/>
<rect x="603.30" y="1209.91" width="30.77" height="30.77" fill="#fff" stroke="#9a9a9a" stroke-width="1.3"/>
<rect x="634.07" y="1209.91" width="30.77" height="30.77" fill="#fff" stroke="#9a9a9a" stroke-width="1.3"/>
<rect x="664.84" y="1209.91" width="30.77" height="30.77" fill="#fff" stroke="#9a9a9a" stroke-width="1.3"/>
<rect x="695.61" y="1209.91" width="30.77" height="30.77" fill="#b3417e"/>
<rect x="603.30" y="1240.68" width="30.77" height="30.77" fill="#fff" stroke="#9a9a9a" stroke-width="1.3"/>
<rect x="634.07" y="1240.68" width="30.77" height="30.77" fill="#fff" stroke="#9a9a9a" stroke-width="1.3"/>
<rect x="664.84" y="1240.68" width="30.77" height="30.77" fill="#fff" stroke="#9a9a9a" stroke-width="1.3"/>
<rect x="695.61" y="1240.68" width="30.77" height="30.77" fill="#fff" stroke="#9a9a9a" stroke-width="1.3"/>
<rect x="726.38" y="1240.68" width="30.77" height="30.77" fill="#b3417e"/>
<rect x="603.30" y="1271.45" width="30.77" height="30.77" fill="#fff" stroke="#9a9a9a" stroke-width="1.3"/>
<rect x="634.07" y="1271.45" width="30.77" height="30.77" fill="#fff" stroke="#9a9a9a" stroke-width="1.3"/>
<rect x="664.84" y="1271.45" width="30.77" height="30.77" fill="#fff" stroke="#9a9a9a" stroke-width="1.3"/>
<rect x="695.61" y="1271.45" width="30.77" height="30.77" fill="#fff" stroke="#9a9a9a" stroke-width="1.3"/>
<rect x="726.38" y="1271.45" width="30.77" height="30.77" fill="#fff" stroke="#9a9a9a" stroke-width="1.3"/>
<rect x="757.15" y="1271.45" width="30.77" height="30.77" fill="#b3417e"/>
<rect x="603.30" y="1302.22" width="30.77" height="30.77" fill="#fff" stroke="#9a9a9a" stroke-width="1.3"/>
<rect x="634.07" y="1302.22" width="30.77" height="30.77" fill="#fff" stroke="#9a9a9a" stroke-width="1.3"/>
<rect x="664.84" y="1302.22" width="30.77" height="30.77" fill="#fff" stroke="#9a9a9a" stroke-width="1.3"/>
<rect x="695.61" y="1302.22" width="30.77" height="30.77" fill="#fff" stroke="#9a9a9a" stroke-width="1.3"/>
<rect x="726.38" y="1302.22" width="30.77" height="30.77" fill="#fff" stroke="#9a9a9a" stroke-width="1.3"/>
<rect x="757.15" y="1302.22" width="30.77" height="30.77" fill="#fff" stroke="#9a9a9a" stroke-width="1.3"/>
<rect x="787.92" y="1302.22" width="30.77" height="30.77" fill="#b3417e"/>
<rect x="603.30" y="1332.99" width="30.77" height="30.77" fill="#fff" stroke="#9a9a9a" stroke-width="1.3"/>
<rect x="634.07" y="1332.99" width="30.77" height="30.77" fill="#fff" stroke="#9a9a9a" stroke-width="1.3"/>
<rect x="664.84" y="1332.99" width="30.77" height="30.77" fill="#fff" stroke="#9a9a9a" stroke-width="1.3"/>
<rect x="695.61" y="1332.99" width="30.77" height="30.77" fill="#fff" stroke="#9a9a9a" stroke-width="1.3"/>
<rect x="726.38" y="1332.99" width="30.77" height="30.77" fill="#fff" stroke="#9a9a9a" stroke-width="1.3"/>
<rect x="757.15" y="1332.99" width="30.77" height="30.77" fill="#fff" stroke="#9a9a9a" stroke-width="1.3"/>
<rect x="787.92" y="1332.99" width="30.77" height="30.77" fill="#fff" stroke="#9a9a9a" stroke-width="1.3"/>
<rect x="818.69" y="1332.99" width="30.77" height="30.77" fill="#b3417e"/>
<rect x="603.30" y="1363.76" width="30.77" height="30.77" fill="#fff" stroke="#9a9a9a" stroke-width="1.3"/>
<rect x="634.07" y="1363.76" width="30.77" height="30.77" fill="#fff" stroke="#9a9a9a" stroke-width="1.3"/>
<rect x="664.84" y="1363.76" width="30.77" height="30.77" fill="#fff" stroke="#9a9a9a" stroke-width="1.3"/>
<rect x="695.61" y="1363.76" width="30.77" height="30.77" fill="#fff" stroke="#9a9a9a" stroke-width="1.3"/>
<rect x="726.38" y="1363.76" width="30.77" height="30.77" fill="#fff" stroke="#9a9a9a" stroke-width="1.3"/>
<rect x="757.15" y="1363.76" width="30.77" height="30.77" fill="#fff" stroke="#9a9a9a" stroke-width="1.3"/>
<rect x="787.92" y="1363.76" width="30.77" height="30.77" fill="#fff" stroke="#9a9a9a" stroke-width="1.3"/>
<rect x="818.69" y="1363.76" width="30.77" height="30.77" fill="#fff" stroke="#9a9a9a" stroke-width="1.3"/>
<rect x="849.46" y="1363.76" width="30.77" height="30.77" fill="#b3417e"/>
<rect x="603.30" y="1394.53" width="30.77" height="30.77" fill="#fff" stroke="#9a9a9a" stroke-width="1.3"/>
<rect x="634.07" y="1394.53" width="30.77" height="30.77" fill="#fff" stroke="#9a9a9a" stroke-width="1.3"/>
<rect x="664.84" y="1394.53" width="30.77" height="30.77" fill="#fff" stroke="#9a9a9a" stroke-width="1.3"/>
<rect x="695.61" y="1394.53" width="30.77" height="30.77" fill="#fff" stroke="#9a9a9a" stroke-width="1.3"/>
<rect x="726.38" y="1394.53" width="30.77" height="30.77" fill="#fff" stroke="#9a9a9a" stroke-width="1.3"/>
<rect x="757.15" y="1394.53" width="30.77" height="30.77" fill="#fff" stroke="#9a9a9a" stroke-width="1.3"/>
<rect x="787.92" y="1394.53" width="30.77" height="30.77" fill="#fff" stroke="#9a9a9a" stroke-width="1.3"/>
<rect x="818.69" y="1394.53" width="30.77" height="30.77" fill="#fff" stroke="#9a9a9a" stroke-width="1.3"/>
<rect x="849.46" y="1394.53" width="30.77" height="30.77" fill="#fff" stroke="#9a9a9a" stroke-width="1.3"/>
<rect x="880.23" y="1394.53" width="30.77" height="30.77" fill="#b3417e"/>
<rect x="603.30" y="1425.30" width="30.77" height="30.77" fill="#fff" stroke="#9a9a9a" stroke-width="1.3"/>
<rect x="634.07" y="1425.30" width="30.77" height="30.77" fill="#fff" stroke="#9a9a9a" stroke-width="1.3"/>
<rect x="664.84" y="1425.30" width="30.77" height="30.77" fill="#fff" stroke="#9a9a9a" stroke-width="1.3"/>
<rect x="695.61" y="1425.30" width="30.77" height="30.77" fill="#fff" stroke="#9a9a9a" stroke-width="1.3"/>
<rect x="726.38" y="1425.30" width="30.77" height="30.77" fill="#fff" stroke="#9a9a9a" stroke-width="1.3"/>
<rect x="757.15" y="1425.30" width="30.77" height="30.77" fill="#fff" stroke="#9a9a9a" stroke-width="1.3"/>
<rect x="787.92" y="1425.30" width="30.77" height="30.77" fill="#fff" stroke="#9a9a9a" stroke-width="1.3"/>
<rect x="818.69" y="1425.30" width="30.77" height="30.77" fill="#fff" stroke="#9a9a9a" stroke-width="1.3"/>
<rect x="849.46" y="1425.30" width="30.77" height="30.77" fill="#fff" stroke="#9a9a9a" stroke-width="1.3"/>
<rect x="880.23" y="1425.30" width="30.77" height="30.77" fill="#fff" stroke="#9a9a9a" stroke-width="1.3"/>
<rect x="911.00" y="1425.30" width="30.77" height="30.77" fill="#b3417e"/>
<rect x="603.30" y="1456.07" width="30.77" height="30.77" fill="#fff" stroke="#9a9a9a" stroke-width="1.3"/>
<rect x="634.07" y="1456.07" width="30.77" height="30.77" fill="#fff" stroke="#9a9a9a" stroke-width="1.3"/>
<rect x="664.84" y="1456.07" width="30.77" height="30.77" fill="#fff" stroke="#9a9a9a" stroke-width="1.3"/>
<rect x="695.61" y="1456.07" width="30.77" height="30.77" fill="#fff" stroke="#9a9a9a" stroke-width="1.3"/>
<rect x="726.38" y="1456.07" width="30.77" height="30.77" fill="#fff" stroke="#9a9a9a" stroke-width="1.3"/>
<rect x="757.15" y="1456.07" width="30.77" height="30.77" fill="#fff" stroke="#9a9a9a" stroke-width="1.3"/>
<rect x="787.92" y="1456.07" width="30.77" height="30.77" fill="#fff" stroke="#9a9a9a" stroke-width="1.3"/>
<rect x="818.69" y="1456.07" width="30.77" height="30.77" fill="#fff" stroke="#9a9a9a" stroke-width="1.3"/>
<rect x="849.46" y="1456.07" width="30.77" height="30.77" fill="#fff" stroke="#9a9a9a" stroke-width="1.3"/>
<rect x="880.23" y="1456.07" width="30.77" height="30.77" fill="#fff" stroke="#9a9a9a" stroke-width="1.3"/>
<rect x="911.00" y="1456.07" width="30.77" height="30.77" fill="#fff" stroke="#9a9a9a" stroke-width="1.3"/>
<rect x="941.77" y="1456.07" width="30.77" height="30.77" fill="#b3417e"/>
<rect x="603.30" y="1486.84" width="30.77" height="30.77" fill="#fff" stroke="#9a9a9a" stroke-width="1.3"/>
<rect x="634.07" y="1486.84" width="30.77" height="30.77" fill="#fff" stroke="#9a9a9a" stroke-width="1.3"/>
<rect x="664.84" y="1486.84" width="30.77" height="30.77" fill="#fff" stroke="#9a9a9a" stroke-width="1.3"/>
<rect x="695.61" y="1486.84" width="30.77" height="30.77" fill="#fff" stroke="#9a9a9a" stroke-width="1.3"/>
<rect x="726.38" y="1486.84" width="30.77" height="30.77" fill="#fff" stroke="#9a9a9a" stroke-width="1.3"/>
<rect x="757.15" y="1486.84" width="30.77" height="30.77" fill="#fff" stroke="#9a9a9a" stroke-width="1.3"/>
<rect x="787.92" y="1486.84" width="30.77" height="30.77" fill="#fff" stroke="#9a9a9a" stroke-width="1.3"/>
<rect x="818.69" y="1486.84" width="30.77" height="30.77" fill="#fff" stroke="#9a9a9a" stroke-width="1.3"/>
<rect x="849.46" y="1486.84" width="30.77" height="30.77" fill="#fff" stroke="#9a9a9a" stroke-width="1.3"/>
<rect x="880.23" y="1486.84" width="30.77" height="30.77" fill="#fff" stroke="#9a9a9a" stroke-width="1.3"/>
<rect x="911.00" y="1486.84" width="30.77" height="30.77" fill="#fff" stroke="#9a9a9a" stroke-width="1.3"/>
<rect x="941.77" y="1486.84" width="30.77" height="30.77" fill="#fff" stroke="#9a9a9a" stroke-width="1.3"/>
<rect x="972.54" y="1486.84" width="30.77" height="30.77" fill="#b3417e"/>
<rect x="603.30" y="1517.61" width="30.77" height="30.77" fill="#fff" stroke="#9a9a9a" stroke-width="1.3"/>
<rect x="634.07" y="1517.61" width="30.77" height="30.77" fill="#fff" stroke="#9a9a9a" stroke-width="1.3"/>
<rect x="664.84" y="1517.61" width="30.77" height="30.77" fill="#fff" stroke="#9a9a9a" stroke-width="1.3"/>
<rect x="695.61" y="1517.61" width="30.77" height="30.77" fill="#fff" stroke="#9a9a9a" stroke-width="1.3"/>
<rect x="726.38" y="1517.61" width="30.77" height="30.77" fill="#fff" stroke="#9a9a9a" stroke-width="1.3"/>
<rect x="757.15" y="1517.61" width="30.77" height="30.77" fill="#fff" stroke="#9a9a9a" stroke-width="1.3"/>
<rect x="787.92" y="1517.61" width="30.77" height="30.77" fill="#fff" stroke="#9a9a9a" stroke-width="1.3"/>
<rect x="818.69" y="1517.61" width="30.77" height="30.77" fill="#fff" stroke="#9a9a9a" stroke-width="1.3"/>
<rect x="849.46" y="1517.61" width="30.77" height="30.77" fill="#fff" stroke="#9a9a9a" stroke-width="1.3"/>
<rect x="880.23" y="1517.61" width="30.77" height="30.77" fill="#fff" stroke="#9a9a9a" stroke-width="1.3"/>
<rect x="911.00" y="1517.61" width="30.77" height="30.77" fill="#fff" stroke="#9a9a9a" stroke-width="1.3"/>
<rect x="941.77" y="1517.61" width="30.77" height="30.77" fill="#fff" stroke="#9a9a9a" stroke-width="1.3"/>
<rect x="972.54" y="1517.61" width="30.77" height="30.77" fill="#fff" stroke="#9a9a9a" stroke-width="1.3"/>
<rect x="1003.31" y="1517.61" width="30.77" height="30.77" fill="#b3417e"/>
<rect x="603.30" y="1548.38" width="30.77" height="30.77" fill="#fff" stroke="#9a9a9a" stroke-width="1.3"/>
<rect x="634.07" y="1548.38" width="30.77" height="30.77" fill="#fff" stroke="#9a9a9a" stroke-width="1.3"/>
<rect x="664.84" y="1548.38" width="30.77" height="30.77" fill="#fff" stroke="#9a9a9a" stroke-width="1.3"/>
<rect x="695.61" y="1548.38" width="30.77" height="30.77" fill="#fff" stroke="#9a9a9a" stroke-width="1.3"/>
<rect x="726.38" y="1548.38" width="30.77" height="30.77" fill="#fff" stroke="#9a9a9a" stroke-width="1.3"/>
<rect x="757.15" y="1548.38" width="30.77" height="30.77" fill="#fff" stroke="#9a9a9a" stroke-width="1.3"/>
<rect x="787.92" y="1548.38" width="30.77" height="30.77" fill="#fff" stroke="#9a9a9a" stroke-width="1.3"/>
<rect x="818.69" y="1548.38" width="30.77" height="30.77" fill="#fff" stroke="#9a9a9a" stroke-width="1.3"/>
<rect x="849.46" y="1548.38" width="30.77" height="30.77" fill="#fff" stroke="#9a9a9a" stroke-width="1.3"/>
<rect x="880.23" y="1548.38" width="30.77" height="30.77" fill="#fff" stroke="#9a9a9a" stroke-width="1.3"/>
<rect x="911.00" y="1548.38" width="30.77" height="30.77" fill="#fff" stroke="#9a9a9a" stroke-width="1.3"/>
<rect x="941.77" y="1548.38" width="30.77" height="30.77" fill="#fff" stroke="#9a9a9a" stroke-width="1.3"/>
<rect x="972.54" y="1548.38" width="30.77" height="30.77" fill="#fff" stroke="#9a9a9a" stroke-width="1.3"/>
<rect x="1003.31" y="1548.38" width="30.77" height="30.77" fill="#fff" stroke="#9a9a9a" stroke-width="1.3"/>
<rect x="1034.08" y="1548.38" width="30.77" height="30.77" fill="#b3417e"/>
<rect x="603.30" y="1579.15" width="30.77" height="30.77" fill="#fff" stroke="#9a9a9a" stroke-width="1.3"/>
<rect x="634.07" y="1579.15" width="30.77" height="30.77" fill="#fff" stroke="#9a9a9a" stroke-width="1.3"/>
<rect x="664.84" y="1579.15" width="30.77" height="30.77" fill="#fff" stroke="#9a9a9a" stroke-width="1.3"/>
<rect x="695.61" y="1579.15" width="30.77" height="30.77" fill="#fff" stroke="#9a9a9a" stroke-width="1.3"/>
<rect x="726.38" y="1579.15" width="30.77" height="30.77" fill="#fff" stroke="#9a9a9a" stroke-width="1.3"/>
<rect x="757.15" y="1579.15" width="30.77" height="30.77" fill="#fff" stroke="#9a9a9a" stroke-width="1.3"/>
<rect x="787.92" y="1579.15" width="30.77" height="30.77" fill="#fff" stroke="#9a9a9a" stroke-width="1.3"/>
<rect x="818.69" y="1579.15" width="30.77" height="30.77" fill="#fff" stroke="#9a9a9a" stroke-width="1.3"/>
<rect x="849.46" y="1579.15" width="30.77" height="30.77" fill="#fff" stroke="#9a9a9a" stroke-width="1.3"/>
<rect x="880.23" y="1579.15" width="30.77" height="30.77" fill="#fff" stroke="#9a9a9a" stroke-width="1.3"/>
<rect x="911.00" y="1579.15" width="30.77" height="30.77" fill="#fff" stroke="#9a9a9a" stroke-width="1.3"/>
<rect x="941.77" y="1579.15" width="30.77" height="30.77" fill="#fff" stroke="#9a9a9a" stroke-width="1.3"/>
<rect x="972.54" y="1579.15" width="30.77" height="30.77" fill="#fff" stroke="#9a9a9a" stroke-width="1.3"/>
<rect x="1003.31" y="1579.15" width="30.77" height="30.77" fill="#fff" stroke="#9a9a9a" stroke-width="1.3"/>
<rect x="1034.08" y="1579.15" width="30.77" height="30.77" fill="#fff" stroke="#9a9a9a" stroke-width="1.3"/>
<rect x="1064.85" y="1579.15" width="30.77" height="30.77" fill="#b3417e"/>
<rect x="603.30" y="1609.92" width="30.77" height="30.77" fill="#fff" stroke="#9a9a9a" stroke-width="1.3"/>
<rect x="634.07" y="1609.92" width="30.77" height="30.77" fill="#fff" stroke="#9a9a9a" stroke-width="1.3"/>
<rect x="664.84" y="1609.92" width="30.77" height="30.77" fill="#fff" stroke="#9a9a9a" stroke-width="1.3"/>
<rect x="695.61" y="1609.92" width="30.77" height="30.77" fill="#fff" stroke="#9a9a9a" stroke-width="1.3"/>
<rect x="726.38" y="1609.92" width="30.77" height="30.77" fill="#fff" stroke="#9a9a9a" stroke-width="1.3"/>
<rect x="757.15" y="1609.92" width="30.77" height="30.77" fill="#fff" stroke="#9a9a9a" stroke-width="1.3"/>
<rect x="787.92" y="1609.92" width="30.77" height="30.77" fill="#fff" stroke="#9a9a9a" stroke-width="1.3"/>
<rect x="818.69" y="1609.92" width="30.77" height="30.77" fill="#fff" stroke="#9a9a9a" stroke-width="1.3"/>
<rect x="849.46" y="1609.92" width="30.77" height="30.77" fill="#fff" stroke="#9a9a9a" stroke-width="1.3"/>
<rect x="880.23" y="1609.92" width="30.77" height="30.77" fill="#fff" stroke="#9a9a9a" stroke-width="1.3"/>
<rect x="911.00" y="1609.92" width="30.77" height="30.77" fill="#fff" stroke="#9a9a9a" stroke-width="1.3"/>
<rect x="941.77" y="1609.92" width="30.77" height="30.77" fill="#fff" stroke="#9a9a9a" stroke-width="1.3"/>
<rect x="972.54" y="1609.92" width="30.77" height="30.77" fill="#fff" stroke="#9a9a9a" stroke-width="1.3"/>
<rect x="1003.31" y="1609.92" width="30.77" height="30.77" fill="#fff" stroke="#9a9a9a" stroke-width="1.3"/>
<rect x="1034.08" y="1609.92" width="30.77" height="30.77" fill="#fff" stroke="#9a9a9a" stroke-width="1.3"/>
<rect x="1064.85" y="1609.92" width="30.77" height="30.77" fill="#fff" stroke="#9a9a9a" stroke-width="1.3"/>
<rect x="1095.62" y="1609.92" width="30.77" height="30.77" fill="#b3417e"/>
<rect x="603.30" y="1640.69" width="30.77" height="30.77" fill="#fff" stroke="#9a9a9a" stroke-width="1.3"/>
<rect x="634.07" y="1640.69" width="30.77" height="30.77" fill="#fff" stroke="#9a9a9a" stroke-width="1.3"/>
<rect x="664.84" y="1640.69" width="30.77" height="30.77" fill="#fff" stroke="#9a9a9a" stroke-width="1.3"/>
<rect x="695.61" y="1640.69" width="30.77" height="30.77" fill="#fff" stroke="#9a9a9a" stroke-width="1.3"/>
<rect x="726.38" y="1640.69" width="30.77" height="30.77" fill="#fff" stroke="#9a9a9a" stroke-width="1.3"/>
<rect x="757.15" y="1640.69" width="30.77" height="30.77" fill="#fff" stroke="#9a9a9a" stroke-width="1.3"/>
<rect x="787.92" y="1640.69" width="30.77" height="30.77" fill="#fff" stroke="#9a9a9a" stroke-width="1.3"/>
<rect x="818.69" y="1640.69" width="30.77" height="30.77" fill="#fff" stroke="#9a9a9a" stroke-width="1.3"/>
<rect x="849.46" y="1640.69" width="30.77" height="30.77" fill="#fff" stroke="#9a9a9a" stroke-width="1.3"/>
<rect x="880.23" y="1640.69" width="30.77" height="30.77" fill="#fff" stroke="#9a9a9a" stroke-width="1.3"/>
<rect x="911.00" y="1640.69" width="30.77" height="30.77" fill="#fff" stroke="#9a9a9a" stroke-width="1.3"/>
<rect x="941.77" y="1640.69" width="30.77" height="30.77" fill="#fff" stroke="#9a9a9a" stroke-width="1.3"/>
<rect x="972.54" y="1640.69" width="30.77" height="30.77" fill="#fff" stroke="#9a9a9a" stroke-width="1.3"/>
<rect x="1003.31" y="1640.69" width="30.77" height="30.77" fill="#fff" stroke="#9a9a9a" stroke-width="1.3"/>
<rect x="1034.08" y="1640.69" width="30.77" height="30.77" fill="#fff" stroke="#9a9a9a" stroke-width="1.3"/>
<rect x="1064.85" y="1640.69" width="30.77" height="30.77" fill="#fff" stroke="#9a9a9a" stroke-width="1.3"/>
<rect x="1095.62" y="1640.69" width="30.77" height="30.77" fill="#fff" stroke="#9a9a9a" stroke-width="1.3"/>
<rect x="1126.39" y="1640.69" width="30.77" height="30.77" fill="#b3417e"/>
<rect x="603.30" y="1671.46" width="30.77" height="30.77" fill="#fff" stroke="#9a9a9a" stroke-width="1.3"/>
<rect x="634.07" y="1671.46" width="30.77" height="30.77" fill="#fff" stroke="#9a9a9a" stroke-width="1.3"/>
<rect x="664.84" y="1671.46" width="30.77" height="30.77" fill="#fff" stroke="#9a9a9a" stroke-width="1.3"/>
<rect x="695.61" y="1671.46" width="30.77" height="30.77" fill="#fff" stroke="#9a9a9a" stroke-width="1.3"/>
<rect x="726.38" y="1671.46" width="30.77" height="30.77" fill="#fff" stroke="#9a9a9a" stroke-width="1.3"/>
<rect x="757.15" y="1671.46" width="30.77" height="30.77" fill="#fff" stroke="#9a9a9a" stroke-width="1.3"/>
<rect x="787.92" y="1671.46" width="30.77" height="30.77" fill="#fff" stroke="#9a9a9a" stroke-width="1.3"/>
<rect x="818.69" y="1671.46" width="30.77" height="30.77" fill="#fff" stroke="#9a9a9a" stroke-width="1.3"/>
<rect x="849.46" y="1671.46" width="30.77" height="30.77" fill="#fff" stroke="#9a9a9a" stroke-width="1.3"/>
<rect x="880.23" y="1671.46" width="30.77" height="30.77" fill="#fff" stroke="#9a9a9a" stroke-width="1.3"/>
<rect x="911.00" y="1671.46" width="30.77" height="30.77" fill="#fff" stroke="#9a9a9a" stroke-width="1.3"/>
<rect x="941.77" y="1671.46" width="30.77" height="30.77" fill="#fff" stroke="#9a9a9a" stroke-width="1.3"/>
<rect x="972.54" y="1671.46" width="30.77" height="30.77" fill="#fff" stroke="#9a9a9a" stroke-width="1.3"/>
<rect x="1003.31" y="1671.46" width="30.77" height="30.77" fill="#fff" stroke="#9a9a9a" stroke-width="1.3"/>
<rect x="1034.08" y="1671.46" width="30.77" height="30.77" fill="#fff" stroke="#9a9a9a" stroke-width="1.3"/>
<rect x="1064.85" y="1671.46" width="30.77" height="30.77" fill="#fff" stroke="#9a9a9a" stroke-width="1.3"/>
<rect x="1095.62" y="1671.46" width="30.77" height="30.77" fill="#fff" stroke="#9a9a9a" stroke-width="1.3"/>
<rect x="1126.39" y="1671.46" width="30.77" height="30.77" fill="#fff" stroke="#9a9a9a" stroke-width="1.3"/>
<rect x="1157.16" y="1671.46" width="30.77" height="30.77" fill="#b3417e"/>
<rect x="603.30" y="1702.23" width="30.77" height="30.77" fill="#fff" stroke="#9a9a9a" stroke-width="1.3"/>
<rect x="634.07" y="1702.23" width="30.77" height="30.77" fill="#fff" stroke="#9a9a9a" stroke-width="1.3"/>
<rect x="664.84" y="1702.23" width="30.77" height="30.77" fill="#fff" stroke="#9a9a9a" stroke-width="1.3"/>
<rect x="695.61" y="1702.23" width="30.77" height="30.77" fill="#fff" stroke="#9a9a9a" stroke-width="1.3"/>
<rect x="726.38" y="1702.23" width="30.77" height="30.77" fill="#fff" stroke="#9a9a9a" stroke-width="1.3"/>
<rect x="757.15" y="1702.23" width="30.77" height="30.77" fill="#fff" stroke="#9a9a9a" stroke-width="1.3"/>
<rect x="787.92" y="1702.23" width="30.77" height="30.77" fill="#fff" stroke="#9a9a9a" stroke-width="1.3"/>
<rect x="818.69" y="1702.23" width="30.77" height="30.77" fill="#fff" stroke="#9a9a9a" stroke-width="1.3"/>
<rect x="849.46" y="1702.23" width="30.77" height="30.77" fill="#fff" stroke="#9a9a9a" stroke-width="1.3"/>
<rect x="880.23" y="1702.23" width="30.77" height="30.77" fill="#fff" stroke="#9a9a9a" stroke-width="1.3"/>
<rect x="911.00" y="1702.23" width="30.77" height="30.77" fill="#fff" stroke="#9a9a9a" stroke-width="1.3"/>
<rect x="941.77" y="1702.23" width="30.77" height="30.77" fill="#fff" stroke="#9a9a9a" stroke-width="1.3"/>
<rect x="972.54" y="1702.23" width="30.77" height="30.77" fill="#fff" stroke="#9a9a9a" stroke-width="1.3"/>
<rect x="1003.31" y="1702.23" width="30.77" height="30.77" fill="#fff" stroke="#9a9a9a" stroke-width="1.3"/>
<rect x="1034.08" y="1702.23" width="30.77" height="30.77" fill="#fff" stroke="#9a9a9a" stroke-width="1.3"/>
<rect x="1064.85" y="1702.23" width="30.77" height="30.77" fill="#fff" stroke="#9a9a9a" stroke-width="1.3"/>
<rect x="1095.62" y="1702.23" width="30.77" height="30.77" fill="#fff" stroke="#9a9a9a" stroke-width="1.3"/>
<rect x="1126.39" y="1702.23" width="30.77" height="30.77" fill="#fff" stroke="#9a9a9a" stroke-width="1.3"/>
<rect x="1157.16" y="1702.23" width="30.77" height="30.77" fill="#fff" stroke="#9a9a9a" stroke-width="1.3"/>
<rect x="1187.93" y="1702.23" width="30.77" height="30.77" fill="#b3417e"/>
<rect x="603.30" y="1733.00" width="30.77" height="30.77" fill="#fff" stroke="#9a9a9a" stroke-width="1.3"/>
<rect x="634.07" y="1733.00" width="30.77" height="30.77" fill="#fff" stroke="#9a9a9a" stroke-width="1.3"/>
<rect x="664.84" y="1733.00" width="30.77" height="30.77" fill="#fff" stroke="#9a9a9a" stroke-width="1.3"/>
<rect x="695.61" y="1733.00" width="30.77" height="30.77" fill="#fff" stroke="#9a9a9a" stroke-width="1.3"/>
<rect x="726.38" y="1733.00" width="30.77" height="30.77" fill="#fff" stroke="#9a9a9a" stroke-width="1.3"/>
<rect x="757.15" y="1733.00" width="30.77" height="30.77" fill="#fff" stroke="#9a9a9a" stroke-width="1.3"/>
<rect x="787.92" y="1733.00" width="30.77" height="30.77" fill="#fff" stroke="#9a9a9a" stroke-width="1.3"/>
<rect x="818.69" y="1733.00" width="30.77" height="30.77" fill="#fff" stroke="#9a9a9a" stroke-width="1.3"/>
<rect x="849.46" y="1733.00" width="30.77" height="30.77" fill="#fff" stroke="#9a9a9a" stroke-width="1.3"/>
<rect x="880.23" y="1733.00" width="30.77" height="30.77" fill="#fff" stroke="#9a9a9a" stroke-width="1.3"/>
<rect x="911.00" y="1733.00" width="30.77" height="30.77" fill="#fff" stroke="#9a9a9a" stroke-width="1.3"/>
<rect x="941.77" y="1733.00" width="30.77" height="30.77" fill="#fff" stroke="#9a9a9a" stroke-width="1.3"/>
<rect x="972.54" y="1733.00" width="30.77" height="30.77" fill="#fff" stroke="#9a9a9a" stroke-width="1.3"/>
<rect x="1003.31" y="1733.00" width="30.77" height="30.77" fill="#fff" stroke="#9a9a9a" stroke-width="1.3"/>
<rect x="1034.08" y="1733.00" width="30.77" height="30.77" fill="#fff" stroke="#9a9a9a" stroke-width="1.3"/>
<rect x="1064.85" y="1733.00" width="30.77" height="30.77" fill="#fff" stroke="#9a9a9a" stroke-width="1.3"/>
<rect x="1095.62" y="1733.00" width="30.77" height="30.77" fill="#fff" stroke="#9a9a9a" stroke-width="1.3"/>
<rect x="1126.39" y="1733.00" width="30.77" height="30.77" fill="#fff" stroke="#9a9a9a" stroke-width="1.3"/>
<rect x="1157.16" y="1733.00" width="30.77" height="30.77" fill="#fff" stroke="#9a9a9a" stroke-width="1.3"/>
<rect x="1187.93" y="1733.00" width="30.77" height="30.77" fill="#fff" stroke="#9a9a9a" stroke-width="1.3"/>
<rect x="1218.70" y="1733.00" width="30.77" height="30.77" fill="#b3417e"/>
<rect x="603.30" y="1763.77" width="30.77" height="30.77" fill="#fff" stroke="#9a9a9a" stroke-width="1.3"/>
<rect x="634.07" y="1763.77" width="30.77" height="30.77" fill="#fff" stroke="#9a9a9a" stroke-width="1.3"/>
<rect x="664.84" y="1763.77" width="30.77" height="30.77" fill="#fff" stroke="#9a9a9a" stroke-width="1.3"/>
<rect x="695.61" y="1763.77" width="30.77" height="30.77" fill="#fff" stroke="#9a9a9a" stroke-width="1.3"/>
<rect x="726.38" y="1763.77" width="30.77" height="30.77" fill="#fff" stroke="#9a9a9a" stroke-width="1.3"/>
<rect x="757.15" y="1763.77" width="30.77" height="30.77" fill="#fff" stroke="#9a9a9a" stroke-width="1.3"/>
<rect x="787.92" y="1763.77" width="30.77" height="30.77" fill="#fff" stroke="#9a9a9a" stroke-width="1.3"/>
<rect x="818.69" y="1763.77" width="30.77" height="30.77" fill="#fff" stroke="#9a9a9a" stroke-width="1.3"/>
<rect x="849.46" y="1763.77" width="30.77" height="30.77" fill="#fff" stroke="#9a9a9a" stroke-width="1.3"/>
<rect x="880.23" y="1763.77" width="30.77" height="30.77" fill="#fff" stroke="#9a9a9a" stroke-width="1.3"/>
<rect x="911.00" y="1763.77" width="30.77" height="30.77" fill="#fff" stroke="#9a9a9a" stroke-width="1.3"/>
<rect x="941.77" y="1763.77" width="30.77" height="30.77" fill="#fff" stroke="#9a9a9a" stroke-width="1.3"/>
<rect x="972.54" y="1763.77" width="30.77" height="30.77" fill="#fff" stroke="#9a9a9a" stroke-width="1.3"/>
<rect x="1003.31" y="1763.77" width="30.77" height="30.77" fill="#fff" stroke="#9a9a9a" stroke-width="1.3"/>
<rect x="1034.08" y="1763.77" width="30.77" height="30.77" fill="#fff" stroke="#9a9a9a" stroke-width="1.3"/>
<rect x="1064.85" y="1763.77" width="30.77" height="30.77" fill="#fff" stroke="#9a9a9a" stroke-width="1.3"/>
<rect x="1095.62" y="1763.77" width="30.77" height="30.77" fill="#fff" stroke="#9a9a9a" stroke-width="1.3"/>
<rect x="1126.39" y="1763.77" width="30.77" height="30.77" fill="#fff" stroke="#9a9a9a" stroke-width="1.3"/>
<rect x="1157.16" y="1763.77" width="30.77" height="30.77" fill="#fff" stroke="#9a9a9a" stroke-width="1.3"/>
<rect x="1187.93" y="1763.77" width="30.77" height="30.77" fill="#fff" stroke="#9a9a9a" stroke-width="1.3"/>
<rect x="1218.70" y="1763.77" width="30.77" height="30.77" fill="#fff" stroke="#9a9a9a" stroke-width="1.3"/>
<rect x="1249.47" y="1763.77" width="30.77" height="30.77" fill="#b3417e"/>
<rect x="603.30" y="1794.54" width="30.77" height="30.77" fill="#fff" stroke="#9a9a9a" stroke-width="1.3"/>
<rect x="634.07" y="1794.54" width="30.77" height="30.77" fill="#fff" stroke="#9a9a9a" stroke-width="1.3"/>
<rect x="664.84" y="1794.54" width="30.77" height="30.77" fill="#fff" stroke="#9a9a9a" stroke-width="1.3"/>
<rect x="695.61" y="1794.54" width="30.77" height="30.77" fill="#fff" stroke="#9a9a9a" stroke-width="1.3"/>
<rect x="726.38" y="1794.54" width="30.77" height="30.77" fill="#fff" stroke="#9a9a9a" stroke-width="1.3"/>
<rect x="757.15" y="1794.54" width="30.77" height="30.77" fill="#fff" stroke="#9a9a9a" stroke-width="1.3"/>
<rect x="787.92" y="1794.54" width="30.77" height="30.77" fill="#fff" stroke="#9a9a9a" stroke-width="1.3"/>
<rect x="818.69" y="1794.54" width="30.77" height="30.77" fill="#fff" stroke="#9a9a9a" stroke-width="1.3"/>
<rect x="849.46" y="1794.54" width="30.77" height="30.77" fill="#fff" stroke="#9a9a9a" stroke-width="1.3"/>
<rect x="880.23" y="1794.54" width="30.77" height="30.77" fill="#fff" stroke="#9a9a9a" stroke-width="1.3"/>
<rect x="911.00" y="1794.54" width="30.77" height="30.77" fill="#fff" stroke="#9a9a9a" stroke-width="1.3"/>
<rect x="941.77" y="1794.54" width="30.77" height="30.77" fill="#fff" stroke="#9a9a9a" stroke-width="1.3"/>
<rect x="972.54" y="1794.54" width="30.77" height="30.77" fill="#fff" stroke="#9a9a9a" stroke-width="1.3"/>
<rect x="1003.31" y="1794.54" width="30.77" height="30.77" fill="#fff" stroke="#9a9a9a" stroke-width="1.3"/>
<rect x="1034.08" y="1794.54" width="30.77" height="30.77" fill="#fff" stroke="#9a9a9a" stroke-width="1.3"/>
<rect x="1064.85" y="1794.54" width="30.77" height="30.77" fill="#fff" stroke="#9a9a9a" stroke-width="1.3"/>
<rect x="1095.62" y="1794.54" width="30.77" height="30.77" fill="#fff" stroke="#9a9a9a" stroke-width="1.3"/>
<rect x="1126.39" y="1794.54" width="30.77" height="30.77" fill="#fff" stroke="#9a9a9a" stroke-width="1.3"/>
<rect x="1157.16" y="1794.54" width="30.77" height="30.77" fill="#fff" stroke="#9a9a9a" stroke-width="1.3"/>
<rect x="1187.93" y="1794.54" width="30.77" height="30.77" fill="#fff" stroke="#9a9a9a" stroke-width="1.3"/>
<rect x="1218.70" y="1794.54" width="30.77" height="30.77" fill="#fff" stroke="#9a9a9a" stroke-width="1.3"/>
<rect x="1249.47" y="1794.54" width="30.77" height="30.77" fill="#fff" stroke="#9a9a9a" stroke-width="1.3"/>
<rect x="1280.24" y="1794.54" width="30.77" height="30.77" fill="#b3417e"/>
<rect x="603.30" y="1825.31" width="30.77" height="30.77" fill="#fff" stroke="#9a9a9a" stroke-width="1.3"/>
<rect x="634.07" y="1825.31" width="30.77" height="30.77" fill="#fff" stroke="#9a9a9a" stroke-width="1.3"/>
<rect x="664.84" y="1825.31" width="30.77" height="30.77" fill="#fff" stroke="#9a9a9a" stroke-width="1.3"/>
<rect x="695.61" y="1825.31" width="30.77" height="30.77" fill="#fff" stroke="#9a9a9a" stroke-width="1.3"/>
<rect x="726.38" y="1825.31" width="30.77" height="30.77" fill="#fff" stroke="#9a9a9a" stroke-width="1.3"/>
<rect x="757.15" y="1825.31" width="30.77" height="30.77" fill="#fff" stroke="#9a9a9a" stroke-width="1.3"/>
<rect x="787.92" y="1825.31" width="30.77" height="30.77" fill="#fff" stroke="#9a9a9a" stroke-width="1.3"/>
<rect x="818.69" y="1825.31" width="30.77" height="30.77" fill="#fff" stroke="#9a9a9a" stroke-width="1.3"/>
<rect x="849.46" y="1825.31" width="30.77" height="30.77" fill="#fff" stroke="#9a9a9a" stroke-width="1.3"/>
<rect x="880.23" y="1825.31" width="30.77" height="30.77" fill="#fff" stroke="#9a9a9a" stroke-width="1.3"/>
<rect x="911.00" y="1825.31" width="30.77" height="30.77" fill="#fff" stroke="#9a9a9a" stroke-width="1.3"/>
<rect x="941.77" y="1825.31" width="30.77" height="30.77" fill="#fff" stroke="#9a9a9a" stroke-width="1.3"/>
<rect x="972.54" y="1825.31" width="30.77" height="30.77" fill="#fff" stroke="#9a9a9a" stroke-width="1.3"/>
<rect x="1003.31" y="1825.31" width="30.77" height="30.77" fill="#fff" stroke="#9a9a9a" stroke-width="1.3"/>
<rect x="1034.08" y="1825.31" width="30.77" height="30.77" fill="#fff" stroke="#9a9a9a" stroke-width="1.3"/>
<rect x="1064.85" y="1825.31" width="30.77" height="30.77" fill="#fff" stroke="#9a9a9a" stroke-width="1.3"/>
<rect x="1095.62" y="1825.31" width="30.77" height="30.77" fill="#fff" stroke="#9a9a9a" stroke-width="1.3"/>
<rect x="1126.39" y="1825.31" width="30.77" height="30.77" fill="#fff" stroke="#9a9a9a" stroke-width="1.3"/>
<rect x="1157.16" y="1825.31" width="30.77" height="30.77" fill="#fff" stroke="#9a9a9a" stroke-width="1.3"/>
<rect x="1187.93" y="1825.31" width="30.77" height="30.77" fill="#fff" stroke="#9a9a9a" stroke-width="1.3"/>
<rect x="1218.70" y="1825.31" width="30.77" height="30.77" fill="#fff" stroke="#9a9a9a" stroke-width="1.3"/>
<rect x="1249.47" y="1825.31" width="30.77" height="30.77" fill="#fff" stroke="#9a9a9a" stroke-width="1.3"/>
<rect x="1280.24" y="1825.31" width="30.77" height="30.77" fill="#fff" stroke="#9a9a9a" stroke-width="1.3"/>
<rect x="1311.01" y="1825.31" width="30.77" height="30.77" fill="#b3417e"/>
<rect x="603.30" y="1856.08" width="30.77" height="30.77" fill="#fff" stroke="#9a9a9a" stroke-width="1.3"/>
<rect x="634.07" y="1856.08" width="30.77" height="30.77" fill="#fff" stroke="#9a9a9a" stroke-width="1.3"/>
<rect x="664.84" y="1856.08" width="30.77" height="30.77" fill="#fff" stroke="#9a9a9a" stroke-width="1.3"/>
<rect x="695.61" y="1856.08" width="30.77" height="30.77" fill="#fff" stroke="#9a9a9a" stroke-width="1.3"/>
<rect x="726.38" y="1856.08" width="30.77" height="30.77" fill="#fff" stroke="#9a9a9a" stroke-width="1.3"/>
<rect x="757.15" y="1856.08" width="30.77" height="30.77" fill="#fff" stroke="#9a9a9a" stroke-width="1.3"/>
<rect x="787.92" y="1856.08" width="30.77" height="30.77" fill="#fff" stroke="#9a9a9a" stroke-width="1.3"/>
<rect x="818.69" y="1856.08" width="30.77" height="30.77" fill="#fff" stroke="#9a9a9a" stroke-width="1.3"/>
<rect x="849.46" y="1856.08" width="30.77" height="30.77" fill="#fff" stroke="#9a9a9a" stroke-width="1.3"/>
<rect x="880.23" y="1856.08" width="30.77" height="30.77" fill="#fff" stroke="#9a9a9a" stroke-width="1.3"/>
<rect x="911.00" y="1856.08" width="30.77" height="30.77" fill="#fff" stroke="#9a9a9a" stroke-width="1.3"/>
<rect x="941.77" y="1856.08" width="30.77" height="30.77" fill="#fff" stroke="#9a9a9a" stroke-width="1.3"/>
<rect x="972.54" y="1856.08" width="30.77" height="30.77" fill="#fff" stroke="#9a9a9a" stroke-width="1.3"/>
<rect x="1003.31" y="1856.08" width="30.77" height="30.77" fill="#fff" stroke="#9a9a9a" stroke-width="1.3"/>
<rect x="1034.08" y="1856.08" width="30.77" height="30.77" fill="#fff" stroke="#9a9a9a" stroke-width="1.3"/>
<rect x="1064.85" y="1856.08" width="30.77" height="30.77" fill="#fff" stroke="#9a9a9a" stroke-width="1.3"/>
<rect x="1095.62" y="1856.08" width="30.77" height="30.77" fill="#fff" stroke="#9a9a9a" stroke-width="1.3"/>
<rect x="1126.39" y="1856.08" width="30.77" height="30.77" fill="#fff" stroke="#9a9a9a" stroke-width="1.3"/>
<rect x="1157.16" y="1856.08" width="30.77" height="30.77" fill="#fff" stroke="#9a9a9a" stroke-width="1.3"/>
<rect x="1187.93" y="1856.08" width="30.77" height="30.77" fill="#fff" stroke="#9a9a9a" stroke-width="1.3"/>
<rect x="1218.70" y="1856.08" width="30.77" height="30.77" fill="#fff" stroke="#9a9a9a" stroke-width="1.3"/>
<rect x="1249.47" y="1856.08" width="30.77" height="30.77" fill="#fff" stroke="#9a9a9a" stroke-width="1.3"/>
<rect x="1280.24" y="1856.08" width="30.77" height="30.77" fill="#fff" stroke="#9a9a9a" stroke-width="1.3"/>
<rect x="1311.01" y="1856.08" width="30.77" height="30.77" fill="#fff" stroke="#9a9a9a" stroke-width="1.3"/>
<rect x="1341.78" y="1856.08" width="30.77" height="30.77" fill="#b3417e"/>
<rect x="603.30" y="1886.85" width="30.77" height="30.77" fill="#fff" stroke="#9a9a9a" stroke-width="1.3"/>
<rect x="634.07" y="1886.85" width="30.77" height="30.77" fill="#fff" stroke="#9a9a9a" stroke-width="1.3"/>
<rect x="664.84" y="1886.85" width="30.77" height="30.77" fill="#fff" stroke="#9a9a9a" stroke-width="1.3"/>
<rect x="695.61" y="1886.85" width="30.77" height="30.77" fill="#fff" stroke="#9a9a9a" stroke-width="1.3"/>
<rect x="726.38" y="1886.85" width="30.77" height="30.77" fill="#fff" stroke="#9a9a9a" stroke-width="1.3"/>
<rect x="757.15" y="1886.85" width="30.77" height="30.77" fill="#fff" stroke="#9a9a9a" stroke-width="1.3"/>
<rect x="787.92" y="1886.85" width="30.77" height="30.77" fill="#fff" stroke="#9a9a9a" stroke-width="1.3"/>
<rect x="818.69" y="1886.85" width="30.77" height="30.77" fill="#fff" stroke="#9a9a9a" stroke-width="1.3"/>
<rect x="849.46" y="1886.85" width="30.77" height="30.77" fill="#fff" stroke="#9a9a9a" stroke-width="1.3"/>
<rect x="880.23" y="1886.85" width="30.77" height="30.77" fill="#fff" stroke="#9a9a9a" stroke-width="1.3"/>
<rect x="911.00" y="1886.85" width="30.77" height="30.77" fill="#fff" stroke="#9a9a9a" stroke-width="1.3"/>
<rect x="941.77" y="1886.85" width="30.77" height="30.77" fill="#fff" stroke="#9a9a9a" stroke-width="1.3"/>
<rect x="972.54" y="1886.85" width="30.77" height="30.77" fill="#fff" stroke="#9a9a9a" stroke-width="1.3"/>
<rect x="1003.31" y="1886.85" width="30.77" height="30.77" fill="#fff" stroke="#9a9a9a" stroke-width="1.3"/>
<rect x="1034.08" y="1886.85" width="30.77" height="30.77" fill="#fff" stroke="#9a9a9a" stroke-width="1.3"/>
<rect x="1064.85" y="1886.85" width="30.77" height="30.77" fill="#fff" stroke="#9a9a9a" stroke-width="1.3"/>
<rect x="1095.62" y="1886.85" width="30.77" height="30.77" fill="#fff" stroke="#9a9a9a" stroke-width="1.3"/>
<rect x="1126.39" y="1886.85" width="30.77" height="30.77" fill="#fff" stroke="#9a9a9a" stroke-width="1.3"/>
<rect x="1157.16" y="1886.85" width="30.77" height="30.77" fill="#fff" stroke="#9a9a9a" stroke-width="1.3"/>
<rect x="1187.93" y="1886.85" width="30.77" height="30.77" fill="#fff" stroke="#9a9a9a" stroke-width="1.3"/>
<rect x="1218.70" y="1886.85" width="30.77" height="30.77" fill="#fff" stroke="#9a9a9a" stroke-width="1.3"/>
<rect x="1249.47" y="1886.85" width="30.77" height="30.77" fill="#fff" stroke="#9a9a9a" stroke-width="1.3"/>
<rect x="1280.24" y="1886.85" width="30.77" height="30.77" fill="#fff" stroke="#9a9a9a" stroke-width="1.3"/>
<rect x="1311.01" y="1886.85" width="30.77" height="30.77" fill="#fff" stroke="#9a9a9a" stroke-width="1.3"/>
<rect x="1341.78" y="1886.85" width="30.77" height="30.77" fill="#fff" stroke="#9a9a9a" stroke-width="1.3"/>
<rect x="1372.55" y="1886.85" width="30.77" height="30.77" fill="#b3417e"/>
<rect x="603.30" y="1917.62" width="30.77" height="30.77" fill="#fff" stroke="#9a9a9a" stroke-width="1.3"/>
<rect x="634.07" y="1917.62" width="30.77" height="30.77" fill="#fff" stroke="#9a9a9a" stroke-width="1.3"/>
<rect x="664.84" y="1917.62" width="30.77" height="30.77" fill="#fff" stroke="#9a9a9a" stroke-width="1.3"/>
<rect x="695.61" y="1917.62" width="30.77" height="30.77" fill="#fff" stroke="#9a9a9a" stroke-width="1.3"/>
<rect x="726.38" y="1917.62" width="30.77" height="30.77" fill="#fff" stroke="#9a9a9a" stroke-width="1.3"/>
<rect x="757.15" y="1917.62" width="30.77" height="30.77" fill="#fff" stroke="#9a9a9a" stroke-width="1.3"/>
<rect x="787.92" y="1917.62" width="30.77" height="30.77" fill="#fff" stroke="#9a9a9a" stroke-width="1.3"/>
<rect x="818.69" y="1917.62" width="30.77" height="30.77" fill="#fff" stroke="#9a9a9a" stroke-width="1.3"/>
<rect x="849.46" y="1917.62" width="30.77" height="30.77" fill="#fff" stroke="#9a9a9a" stroke-width="1.3"/>
<rect x="880.23" y="1917.62" width="30.77" height="30.77" fill="#fff" stroke="#9a9a9a" stroke-width="1.3"/>
<rect x="911.00" y="1917.62" width="30.77" height="30.77" fill="#fff" stroke="#9a9a9a" stroke-width="1.3"/>
<rect x="941.77" y="1917.62" width="30.77" height="30.77" fill="#fff" stroke="#9a9a9a" stroke-width="1.3"/>
<rect x="972.54" y="1917.62" width="30.77" height="30.77" fill="#fff" stroke="#9a9a9a" stroke-width="1.3"/>
<rect x="1003.31" y="1917.62" width="30.77" height="30.77" fill="#fff" stroke="#9a9a9a" stroke-width="1.3"/>
<rect x="1034.08" y="1917.62" width="30.77" height="30.77" fill="#fff" stroke="#9a9a9a" stroke-width="1.3"/>
<rect x="1064.85" y="1917.62" width="30.77" height="30.77" fill="#fff" stroke="#9a9a9a" stroke-width="1.3"/>
<rect x="1095.62" y="1917.62" width="30.77" height="30.77" fill="#fff" stroke="#9a9a9a" stroke-width="1.3"/>
<rect x="1126.39" y="1917.62" width="30.77" height="30.77" fill="#fff" stroke="#9a9a9a" stroke-width="1.3"/>
<rect x="1157.16" y="1917.62" width="30.77" height="30.77" fill="#fff" stroke="#9a9a9a" stroke-width="1.3"/>
<rect x="1187.93" y="1917.62" width="30.77" height="30.77" fill="#fff" stroke="#9a9a9a" stroke-width="1.3"/>
<rect x="1218.70" y="1917.62" width="30.77" height="30.77" fill="#fff" stroke="#9a9a9a" stroke-width="1.3"/>
<rect x="1249.47" y="1917.62" width="30.77" height="30.77" fill="#fff" stroke="#9a9a9a" stroke-width="1.3"/>
<rect x="1280.24" y="1917.62" width="30.77" height="30.77" fill="#fff" stroke="#9a9a9a" stroke-width="1.3"/>
<rect x="1311.01" y="1917.62" width="30.77" height="30.77" fill="#fff" stroke="#9a9a9a" stroke-width="1.3"/>
<rect x="1341.78" y="1917.62" width="30.77" height="30.77" fill="#fff" stroke="#9a9a9a" stroke-width="1.3"/>
<rect x="1372.55" y="1917.62" width="30.77" height="30.77" fill="#fff" stroke="#9a9a9a" stroke-width="1.3"/>
<rect x="1403.32" y="1917.62" width="30.77" height="30.77" fill="#b3417e"/>
<rect x="603.30" y="1948.39" width="30.77" height="30.77" fill="#fff" stroke="#9a9a9a" stroke-width="1.3"/>
<rect x="634.07" y="1948.39" width="30.77" height="30.77" fill="#fff" stroke="#9a9a9a" stroke-width="1.3"/>
<rect x="664.84" y="1948.39" width="30.77" height="30.77" fill="#fff" stroke="#9a9a9a" stroke-width="1.3"/>
<rect x="695.61" y="1948.39" width="30.77" height="30.77" fill="#fff" stroke="#9a9a9a" stroke-width="1.3"/>
<rect x="726.38" y="1948.39" width="30.77" height="30.77" fill="#fff" stroke="#9a9a9a" stroke-width="1.3"/>
<rect x="757.15" y="1948.39" width="30.77" height="30.77" fill="#fff" stroke="#9a9a9a" stroke-width="1.3"/>
<rect x="787.92" y="1948.39" width="30.77" height="30.77" fill="#fff" stroke="#9a9a9a" stroke-width="1.3"/>
<rect x="818.69" y="1948.39" width="30.77" height="30.77" fill="#fff" stroke="#9a9a9a" stroke-width="1.3"/>
<rect x="849.46" y="1948.39" width="30.77" height="30.77" fill="#fff" stroke="#9a9a9a" stroke-width="1.3"/>
<rect x="880.23" y="1948.39" width="30.77" height="30.77" fill="#fff" stroke="#9a9a9a" stroke-width="1.3"/>
<rect x="911.00" y="1948.39" width="30.77" height="30.77" fill="#fff" stroke="#9a9a9a" stroke-width="1.3"/>
<rect x="941.77" y="1948.39" width="30.77" height="30.77" fill="#fff" stroke="#9a9a9a" stroke-width="1.3"/>
<rect x="972.54" y="1948.39" width="30.77" height="30.77" fill="#fff" stroke="#9a9a9a" stroke-width="1.3"/>
<rect x="1003.31" y="1948.39" width="30.77" height="30.77" fill="#fff" stroke="#9a9a9a" stroke-width="1.3"/>
<rect x="1034.08" y="1948.39" width="30.77" height="30.77" fill="#fff" stroke="#9a9a9a" stroke-width="1.3"/>
<rect x="1064.85" y="1948.39" width="30.77" height="30.77" fill="#fff" stroke="#9a9a9a" stroke-width="1.3"/>
<rect x="1095.62" y="1948.39" width="30.77" height="30.77" fill="#fff" stroke="#9a9a9a" stroke-width="1.3"/>
<rect x="1126.39" y="1948.39" width="30.77" height="30.77" fill="#fff" stroke="#9a9a9a" stroke-width="1.3"/>
<rect x="1157.16" y="1948.39" width="30.77" height="30.77" fill="#fff" stroke="#9a9a9a" stroke-width="1.3"/>
<rect x="1187.93" y="1948.39" width="30.77" height="30.77" fill="#fff" stroke="#9a9a9a" stroke-width="1.3"/>
<rect x="1218.70" y="1948.39" width="30.77" height="30.77" fill="#fff" stroke="#9a9a9a" stroke-width="1.3"/>
<rect x="1249.47" y="1948.39" width="30.77" height="30.77" fill="#fff" stroke="#9a9a9a" stroke-width="1.3"/>
<rect x="1280.24" y="1948.39" width="30.77" height="30.77" fill="#fff" stroke="#9a9a9a" stroke-width="1.3"/>
<rect x="1311.01" y="1948.39" width="30.77" height="30.77" fill="#fff" stroke="#9a9a9a" stroke-width="1.3"/>
<rect x="1341.78" y="1948.39" width="30.77" height="30.77" fill="#fff" stroke="#9a9a9a" stroke-width="1.3"/>
<rect x="1372.55" y="1948.39" width="30.77" height="30.77" fill="#fff" stroke="#9a9a9a" stroke-width="1.3"/>
<rect x="1403.32" y="1948.39" width="30.77" height="30.77" fill="#fff" stroke="#9a9a9a" stroke-width="1.3"/>
<rect x="1434.09" y="1948.39" width="30.77" height="30.77" fill="#b3417e"/>
<rect x="608.24" y="1153.31" width="20.89" height="20.89" fill="#dd98bb" stroke="#5a5a5a" stroke-width="1.20"/>
<rect x="610.93" y="1186.77" width="15.51" height="15.51" fill="#ecc6da" stroke="#5a5a5a" stroke-width="1.20"/>
<rect x="646.87" y="1191.94" width="5.17" height="5.17" fill="#fdf9fb" stroke="#5a5a5a" stroke-width="1.03"/>
<rect x="607.32" y="1213.93" width="22.73" height="22.73" fill="#d588b0" stroke="#5a5a5a" stroke-width="1.20"/>
<rect x="637.90" y="1213.74" width="23.12" height="23.12" fill="#d485ae" stroke="#5a5a5a" stroke-width="1.20"/>
<rect x="672.47" y="1217.54" width="15.51" height="15.51" fill="#ecc6da" stroke="#5a5a5a" stroke-width="1.20"/>
<rect x="613.30" y="1250.68" width="10.76" height="10.76" fill="#f6e4ed" stroke="#5a5a5a" stroke-width="1.20"/>
<rect x="643.30" y="1249.91" width="12.31" height="12.31" fill="#e8f5fb" stroke="#5a5a5a" stroke-width="1.20"/>
<rect x="669.46" y="1245.30" width="21.52" height="21.52" fill="#da93b8" stroke="#5a5a5a" stroke-width="1.20"/>
<rect x="707.05" y="1252.12" width="7.90" height="7.90" fill="#faf0f5" stroke="#5a5a5a" stroke-width="1.20"/>
<rect x="609.73" y="1277.88" width="17.91" height="17.91" fill="#e6b3cd" stroke="#5a5a5a" stroke-width="1.20"/>
<rect x="642.95" y="1280.33" width="13.01" height="13.01" fill="#e6f4fb" stroke="#5a5a5a" stroke-width="1.20"/>
<rect x="667.65" y="1274.26" width="25.15" height="25.15" fill="#cb72a1" stroke="#5a5a5a" stroke-width="1.20"/>
<rect x="704.66" y="1280.50" width="12.66" height="12.66" fill="#f2d9e6" stroke="#5a5a5a" stroke-width="1.20"/>
<rect x="730.30" y="1275.37" width="22.93" height="22.93" fill="#d587af" stroke="#5a5a5a" stroke-width="1.20"/>
<rect x="605.85" y="1304.77" width="25.68" height="25.68" fill="#c86d9d" stroke="#5a5a5a" stroke-width="1.20"/>
<rect x="637.15" y="1305.30" width="24.61" height="24.61" fill="#cd77a4" stroke="#5a5a5a" stroke-width="1.20"/>
<rect x="671.92" y="1309.30" width="16.62" height="16.62" fill="#e9bed4" stroke="#5a5a5a" stroke-width="1.20"/>
<rect x="698.16" y="1304.77" width="25.68" height="25.68" fill="#c86d9d" stroke="#5a5a5a" stroke-width="1.20"/>
<rect x="734.45" y="1310.29" width="14.62" height="14.62" fill="#eecdde" stroke="#5a5a5a" stroke-width="1.20"/>
<rect x="764.50" y="1309.57" width="16.07" height="16.07" fill="#ebc2d7" stroke="#5a5a5a" stroke-width="1.20"/>
<rect x="606.29" y="1335.98" width="24.79" height="24.79" fill="#cc76a3" stroke="#5a5a5a" stroke-width="1.20"/>
<rect x="637.52" y="1336.44" width="23.88" height="23.88" fill="#d17ea9" stroke="#5a5a5a" stroke-width="1.20"/>
<rect x="671.40" y="1339.55" width="17.66" height="17.66" fill="#e6b6cf" stroke="#5a5a5a" stroke-width="1.20"/>
<rect x="697.40" y="1334.78" width="27.19" height="27.19" fill="#c15e92" stroke="#5a5a5a" stroke-width="1.20"/>
<rect x="736.60" y="1343.21" width="10.34" height="10.34" fill="#f7e6ee" stroke="#5a5a5a" stroke-width="1.20"/>
<rect x="763.71" y="1339.55" width="17.66" height="17.66" fill="#e6b6cf" stroke="#5a5a5a" stroke-width="1.20"/>
<rect x="789.71" y="1334.78" width="27.19" height="27.19" fill="#c15e92" stroke="#5a5a5a" stroke-width="1.20"/>
<rect x="612.35" y="1372.81" width="12.66" height="12.66" fill="#f2d9e6" stroke="#5a5a5a" stroke-width="1.20"/>
<rect x="640.38" y="1370.07" width="18.16" height="18.16" fill="#e5b1cc" stroke="#5a5a5a" stroke-width="1.20"/>
<rect x="669.67" y="1368.59" width="21.10" height="21.10" fill="#bce2f4" stroke="#5a5a5a" stroke-width="1.20"/>
<rect x="702.96" y="1371.11" width="16.07" height="16.07" fill="#ebc2d7" stroke="#5a5a5a" stroke-width="1.20"/>
<rect x="730.70" y="1368.08" width="22.14" height="22.14" fill="#b5dff3" stroke="#5a5a5a" stroke-width="1.20"/>
<rect x="761.47" y="1368.08" width="22.14" height="22.14" fill="#b5dff3" stroke="#5a5a5a" stroke-width="1.20"/>
<rect x="799.08" y="1374.92" width="8.44" height="8.44" fill="#f9eef4" stroke="#5a5a5a" stroke-width="1.20"/>
<rect x="828.69" y="1373.76" width="10.76" height="10.76" fill="#f6e4ed" stroke="#5a5a5a" stroke-width="1.20"/>
<rect x="605.25" y="1396.48" width="26.86" height="26.86" fill="#c36195" stroke="#5a5a5a" stroke-width="1.20"/>
<rect x="637.80" y="1398.26" width="23.31" height="23.31" fill="#d383ad" stroke="#5a5a5a" stroke-width="1.20"/>
<rect x="670.67" y="1400.36" width="19.11" height="19.11" fill="#e2a9c6" stroke="#5a5a5a" stroke-width="1.20"/>
<rect x="698.60" y="1397.52" width="24.79" height="24.79" fill="#cc76a3" stroke="#5a5a5a" stroke-width="1.20"/>
<rect x="733.46" y="1401.61" width="16.62" height="16.62" fill="#e9bed4" stroke="#5a5a5a" stroke-width="1.20"/>
<rect x="762.20" y="1399.58" width="20.68" height="20.68" fill="#dd9abd" stroke="#5a5a5a" stroke-width="1.20"/>
<rect x="789.15" y="1395.76" width="28.32" height="28.32" fill="#bb528a" stroke="#5a5a5a" stroke-width="1.20"/>
<rect x="820.48" y="1396.32" width="27.19" height="27.19" fill="#c15e92" stroke="#5a5a5a" stroke-width="1.20"/>
<rect x="862.26" y="1407.33" width="5.17" height="5.17" fill="#fdf9fb" stroke="#5a5a5a" stroke-width="1.03"/>
<rect x="615.35" y="1437.35" width="6.67" height="6.67" fill="#fcf4f8" stroke="#5a5a5a" stroke-width="1.20"/>
<rect x="641.42" y="1432.65" width="16.07" height="16.07" fill="#ebc2d7" stroke="#5a5a5a" stroke-width="1.20"/>
<rect x="674.26" y="1434.72" width="11.94" height="11.94" fill="#f4dde9" stroke="#5a5a5a" stroke-width="1.20"/>
<rect x="706.77" y="1436.46" width="8.44" height="8.44" fill="#f4fafd" stroke="#5a5a5a" stroke-width="1.20"/>
<rect x="733.46" y="1432.38" width="16.62" height="16.62" fill="#d5edf8" stroke="#5a5a5a" stroke-width="1.20"/>
<rect x="770.42" y="1438.57" width="4.22" height="4.22" fill="#fefbfc" stroke="#5a5a5a" stroke-width="0.84"/>
<rect x="801.81" y="1439.19" width="2.98" height="2.98" fill="#fefdfe" stroke="#5a5a5a" stroke-width="0.60"/>
<rect x="830.74" y="1437.35" width="6.67" height="6.67" fill="#fcf4f8" stroke="#5a5a5a" stroke-width="1.20"/>
<rect x="861.19" y="1437.03" width="7.31" height="7.31" fill="#fbf2f7" stroke="#5a5a5a" stroke-width="1.20"/>
<rect x="892.28" y="1437.35" width="6.67" height="6.67" fill="#fcf4f8" stroke="#5a5a5a" stroke-width="1.20"/>
<rect x="606.56" y="1459.33" width="24.25" height="24.25" fill="#cf7ba7" stroke="#5a5a5a" stroke-width="1.20"/>
<rect x="638.90" y="1460.90" width="21.10" height="21.10" fill="#dc96ba" stroke="#5a5a5a" stroke-width="1.20"/>
<rect x="670.44" y="1461.67" width="19.57" height="19.57" fill="#e1a5c4" stroke="#5a5a5a" stroke-width="1.20"/>
<rect x="700.23" y="1460.69" width="21.52" height="21.52" fill="#da93b8" stroke="#5a5a5a" stroke-width="1.20"/>
<rect x="731.87" y="1461.56" width="19.80" height="19.80" fill="#e0a3c2" stroke="#5a5a5a" stroke-width="1.20"/>
<rect x="762.41" y="1461.33" width="20.24" height="20.24" fill="#df9ec0" stroke="#5a5a5a" stroke-width="1.20"/>
<rect x="790.04" y="1458.19" width="26.53" height="26.53" fill="#c46597" stroke="#5a5a5a" stroke-width="1.20"/>
<rect x="821.50" y="1458.88" width="25.15" height="25.15" fill="#cb72a1" stroke="#5a5a5a" stroke-width="1.20"/>
<rect x="858.69" y="1465.30" width="12.31" height="12.31" fill="#e8f5fb" stroke="#5a5a5a" stroke-width="1.20"/>
<rect x="882.35" y="1458.19" width="26.53" height="26.53" fill="#c46597" stroke="#5a5a5a" stroke-width="1.20"/>
<rect x="921.91" y="1466.98" width="8.95" height="8.95" fill="#f3fafd" stroke="#5a5a5a" stroke-width="1.20"/>
<rect x="605.34" y="1488.88" width="26.70" height="26.70" fill="#c36396" stroke="#5a5a5a" stroke-width="1.20"/>
<rect x="637.90" y="1490.67" width="23.12" height="23.12" fill="#d485ae" stroke="#5a5a5a" stroke-width="1.20"/>
<rect x="674.26" y="1496.26" width="11.94" height="11.94" fill="#f4dde9" stroke="#5a5a5a" stroke-width="1.20"/>
<rect x="699.24" y="1490.47" width="23.50" height="23.50" fill="#d282ac" stroke="#5a5a5a" stroke-width="1.20"/>
<rect x="736.82" y="1497.28" width="9.90" height="9.90" fill="#f7e8f0" stroke="#5a5a5a" stroke-width="1.20"/>
<rect x="766.76" y="1496.45" width="11.56" height="11.56" fill="#f4e0ea" stroke="#5a5a5a" stroke-width="1.20"/>
<rect x="789.87" y="1488.79" width="26.86" height="26.86" fill="#c36195" stroke="#5a5a5a" stroke-width="1.20"/>
<rect x="820.98" y="1489.13" width="26.19" height="26.19" fill="#c6689a" stroke="#5a5a5a" stroke-width="1.20"/>
<rect x="857.24" y="1494.62" width="15.22" height="15.22" fill="#edc8db" stroke="#5a5a5a" stroke-width="1.20"/>
<rect x="882.02" y="1488.63" width="27.19" height="27.19" fill="#c15e92" stroke="#5a5a5a" stroke-width="1.20"/>
<rect x="924.89" y="1500.73" width="2.98" height="2.98" fill="#fefdfe" stroke="#5a5a5a" stroke-width="0.60"/>
<rect x="944.67" y="1489.74" width="24.97" height="24.97" fill="#cc74a2" stroke="#5a5a5a" stroke-width="1.20"/>
<rect x="608.67" y="1522.98" width="20.02" height="20.02" fill="#e0a0c1" stroke="#5a5a5a" stroke-width="1.20"/>
<rect x="638.39" y="1521.93" width="22.14" height="22.14" fill="#d88eb4" stroke="#5a5a5a" stroke-width="1.20"/>
<rect x="673.55" y="1526.32" width="13.35" height="13.35" fill="#e4f3fb" stroke="#5a5a5a" stroke-width="1.20"/>
<rect x="700.87" y="1522.87" width="20.24" height="20.24" fill="#df9ec0" stroke="#5a5a5a" stroke-width="1.20"/>
<rect x="738.78" y="1530.01" width="5.97" height="5.97" fill="#fcf7f9" stroke="#5a5a5a" stroke-width="1.19"/>
<rect x="764.78" y="1525.24" width="15.51" height="15.51" fill="#dbeff9" stroke="#5a5a5a" stroke-width="1.20"/>
<rect x="792.75" y="1522.44" width="21.10" height="21.10" fill="#dc96ba" stroke="#5a5a5a" stroke-width="1.20"/>
<rect x="824.29" y="1523.21" width="19.57" height="19.57" fill="#e1a5c4" stroke="#5a5a5a" stroke-width="1.20"/>
<rect x="854.61" y="1522.76" width="20.46" height="20.46" fill="#de9cbe" stroke="#5a5a5a" stroke-width="1.20"/>
<rect x="885.60" y="1522.98" width="20.02" height="20.02" fill="#e0a0c1" stroke="#5a5a5a" stroke-width="1.20"/>
<rect x="919.39" y="1526.00" width="14.00" height="14.00" fill="#e2f2fa" stroke="#5a5a5a" stroke-width="1.20"/>
<rect x="947.60" y="1523.44" width="19.11" height="19.11" fill="#e2a9c6" stroke="#5a5a5a" stroke-width="1.20"/>
<rect x="977.06" y="1522.13" width="21.73" height="21.73" fill="#da91b6" stroke="#5a5a5a" stroke-width="1.20"/>
<rect x="607.82" y="1552.90" width="21.73" height="21.73" fill="#da91b6" stroke="#5a5a5a" stroke-width="1.20"/>
<rect x="638.80" y="1553.11" width="21.31" height="21.31" fill="#db94b9" stroke="#5a5a5a" stroke-width="1.20"/>
<rect x="672.33" y="1555.87" width="15.79" height="15.79" fill="#ebc4d8" stroke="#5a5a5a" stroke-width="1.20"/>
<rect x="697.08" y="1549.85" width="27.84" height="27.84" fill="#be578e" stroke="#5a5a5a" stroke-width="1.20"/>
<rect x="735.99" y="1557.99" width="11.56" height="11.56" fill="#f4e0ea" stroke="#5a5a5a" stroke-width="1.20"/>
<rect x="765.07" y="1556.30" width="14.92" height="14.92" fill="#eecadc" stroke="#5a5a5a" stroke-width="1.20"/>
<rect x="791.27" y="1551.73" width="24.06" height="24.06" fill="#d07ca8" stroke="#5a5a5a" stroke-width="1.20"/>
<rect x="820.81" y="1550.50" width="26.53" height="26.53" fill="#c46597" stroke="#5a5a5a" stroke-width="1.20"/>
<rect x="856.95" y="1555.87" width="15.79" height="15.79" fill="#ebc4d8" stroke="#5a5a5a" stroke-width="1.20"/>
<rect x="883.68" y="1551.83" width="23.88" height="23.88" fill="#d17ea9" stroke="#5a5a5a" stroke-width="1.20"/>
<rect x="919.71" y="1557.09" width="13.35" height="13.35" fill="#e4f3fb" stroke="#5a5a5a" stroke-width="1.20"/>
<rect x="946.92" y="1553.53" width="20.46" height="20.46" fill="#de9cbe" stroke="#5a5a5a" stroke-width="1.20"/>
<rect x="977.06" y="1552.90" width="21.73" height="21.73" fill="#da91b6" stroke="#5a5a5a" stroke-width="1.20"/>
<rect x="1009.14" y="1554.21" width="19.11" height="19.11" fill="#e2a9c6" stroke="#5a5a5a" stroke-width="1.20"/>
<rect x="607.32" y="1583.17" width="22.73" height="22.73" fill="#d588b0" stroke="#5a5a5a" stroke-width="1.20"/>
<rect x="638.39" y="1583.47" width="22.14" height="22.14" fill="#d88eb4" stroke="#5a5a5a" stroke-width="1.20"/>
<rect x="671.78" y="1586.09" width="16.88" height="16.88" fill="#e9bcd3" stroke="#5a5a5a" stroke-width="1.20"/>
<rect x="700.13" y="1583.67" width="21.73" height="21.73" fill="#da91b6" stroke="#5a5a5a" stroke-width="1.20"/>
<rect x="735.80" y="1588.57" width="11.94" height="11.94" fill="#f4dde9" stroke="#5a5a5a" stroke-width="1.20"/>
<rect x="765.54" y="1587.54" width="14.00" height="14.00" fill="#f0d1e1" stroke="#5a5a5a" stroke-width="1.20"/>
<rect x="791.18" y="1582.41" width="24.25" height="24.25" fill="#cf7ba7" stroke="#5a5a5a" stroke-width="1.20"/>
<rect x="822.42" y="1582.88" width="23.31" height="23.31" fill="#d383ad" stroke="#5a5a5a" stroke-width="1.20"/>
<rect x="860.13" y="1589.82" width="9.44" height="9.44" fill="#f8eaf1" stroke="#5a5a5a" stroke-width="1.20"/>
<rect x="882.95" y="1581.87" width="25.33" height="25.33" fill="#ca71a0" stroke="#5a5a5a" stroke-width="1.20"/>
<rect x="918.35" y="1586.50" width="16.07" height="16.07" fill="#ebc2d7" stroke="#5a5a5a" stroke-width="1.20"/>
<rect x="946.92" y="1584.30" width="20.46" height="20.46" fill="#de9cbe" stroke="#5a5a5a" stroke-width="1.20"/>
<rect x="975.80" y="1582.41" width="24.25" height="24.25" fill="#cf7ba7" stroke="#5a5a5a" stroke-width="1.20"/>
<rect x="1013.75" y="1589.59" width="9.90" height="9.90" fill="#f7e8f0" stroke="#5a5a5a" stroke-width="1.20"/>
<rect x="1038.91" y="1583.98" width="21.10" height="21.10" fill="#dc96ba" stroke="#5a5a5a" stroke-width="1.20"/>
<rect x="606.29" y="1612.91" width="24.79" height="24.79" fill="#cc76a3" stroke="#5a5a5a" stroke-width="1.20"/>
<rect x="637.24" y="1613.09" width="24.43" height="24.43" fill="#ce79a6" stroke="#5a5a5a" stroke-width="1.20"/>
<rect x="670.21" y="1615.29" width="20.02" height="20.02" fill="#e0a0c1" stroke="#5a5a5a" stroke-width="1.20"/>
<rect x="697.08" y="1611.39" width="27.84" height="27.84" fill="#be578e" stroke="#5a5a5a" stroke-width="1.20"/>
<rect x="734.61" y="1618.15" width="14.31" height="14.31" fill="#efcfdf" stroke="#5a5a5a" stroke-width="1.20"/>
<rect x="762.98" y="1615.75" width="19.11" height="19.11" fill="#e2a9c6" stroke="#5a5a5a" stroke-width="1.20"/>
<rect x="789.55" y="1611.55" width="27.52" height="27.52" fill="#bf5a90" stroke="#5a5a5a" stroke-width="1.20"/>
<rect x="820.08" y="1611.31" width="28.00" height="28.00" fill="#bd558c" stroke="#5a5a5a" stroke-width="1.20"/>
<rect x="860.90" y="1621.36" width="7.90" height="7.90" fill="#faf0f5" stroke="#5a5a5a" stroke-width="1.20"/>
<rect x="881.86" y="1611.55" width="27.52" height="27.52" fill="#bf5a90" stroke="#5a5a5a" stroke-width="1.20"/>
<rect x="924.27" y="1623.19" width="4.22" height="4.22" fill="#fefbfc" stroke="#5a5a5a" stroke-width="0.84"/>
<rect x="944.40" y="1612.55" width="25.50" height="25.50" fill="#c96f9e" stroke="#5a5a5a" stroke-width="1.20"/>
<rect x="974.49" y="1611.87" width="26.86" height="26.86" fill="#c36195" stroke="#5a5a5a" stroke-width="1.20"/>
<rect x="1009.74" y="1616.35" width="17.91" height="17.91" fill="#e6b3cd" stroke="#5a5a5a" stroke-width="1.20"/>
<rect x="1036.03" y="1611.87" width="26.86" height="26.86" fill="#c36195" stroke="#5a5a5a" stroke-width="1.20"/>
<rect x="1067.84" y="1612.91" width="24.79" height="24.79" fill="#cc76a3" stroke="#5a5a5a" stroke-width="1.20"/>
<rect x="606.29" y="1643.68" width="24.79" height="24.79" fill="#cc76a3" stroke="#5a5a5a" stroke-width="1.20"/>
<rect x="637.24" y="1643.86" width="24.43" height="24.43" fill="#ce79a6" stroke="#5a5a5a" stroke-width="1.20"/>
<rect x="676.00" y="1651.85" width="8.44" height="8.44" fill="#f9eef4" stroke="#5a5a5a" stroke-width="1.20"/>
<rect x="700.66" y="1645.74" width="20.68" height="20.68" fill="#dd9abd" stroke="#5a5a5a" stroke-width="1.20"/>
<rect x="736.82" y="1651.13" width="9.90" height="9.90" fill="#f7e8f0" stroke="#5a5a5a" stroke-width="1.20"/>
<rect x="769.95" y="1653.49" width="5.17" height="5.17" fill="#fdf9fb" stroke="#5a5a5a" stroke-width="1.03"/>
<rect x="790.04" y="1642.81" width="26.53" height="26.53" fill="#c46597" stroke="#5a5a5a" stroke-width="1.20"/>
<rect x="822.42" y="1644.42" width="23.31" height="23.31" fill="#d383ad" stroke="#5a5a5a" stroke-width="1.20"/>
<rect x="857.69" y="1648.92" width="14.31" height="14.31" fill="#efcfdf" stroke="#5a5a5a" stroke-width="1.20"/>
<rect x="882.95" y="1643.41" width="25.33" height="25.33" fill="#ca71a0" stroke="#5a5a5a" stroke-width="1.20"/>
<rect x="923.40" y="1653.09" width="5.97" height="5.97" fill="#fcf7f9" stroke="#5a5a5a" stroke-width="1.19"/>
<rect x="945.03" y="1643.95" width="24.25" height="24.25" fill="#cf7ba7" stroke="#5a5a5a" stroke-width="1.20"/>
<rect x="975.17" y="1643.32" width="25.50" height="25.50" fill="#c96f9e" stroke="#5a5a5a" stroke-width="1.20"/>
<rect x="1009.02" y="1646.40" width="19.34" height="19.34" fill="#e2a7c5" stroke="#5a5a5a" stroke-width="1.20"/>
<rect x="1040.15" y="1646.76" width="18.64" height="18.64" fill="#e4adc9" stroke="#5a5a5a" stroke-width="1.20"/>
<rect x="1068.77" y="1644.61" width="22.93" height="22.93" fill="#d587af" stroke="#5a5a5a" stroke-width="1.20"/>
<rect x="1099.16" y="1644.23" width="23.69" height="23.69" fill="#d180aa" stroke="#5a5a5a" stroke-width="1.20"/>
<rect x="613.10" y="1681.26" width="11.17" height="11.17" fill="#f5e2ec" stroke="#5a5a5a" stroke-width="1.20"/>
<rect x="643.12" y="1680.51" width="12.66" height="12.66" fill="#e7f5fb" stroke="#5a5a5a" stroke-width="1.20"/>
<rect x="668.29" y="1674.91" width="23.88" height="23.88" fill="#d17ea9" stroke="#5a5a5a" stroke-width="1.20"/>
<rect x="705.61" y="1681.46" width="10.76" height="10.76" fill="#f6e4ed" stroke="#5a5a5a" stroke-width="1.20"/>
<rect x="732.21" y="1677.29" width="19.11" height="19.11" fill="#e2a9c6" stroke="#5a5a5a" stroke-width="1.20"/>
<rect x="760.14" y="1674.45" width="24.79" height="24.79" fill="#cc76a3" stroke="#5a5a5a" stroke-width="1.20"/>
<rect x="797.92" y="1681.46" width="10.76" height="10.76" fill="#f6e4ed" stroke="#5a5a5a" stroke-width="1.20"/>
<rect x="827.40" y="1680.17" width="13.35" height="13.35" fill="#f1d5e3" stroke="#5a5a5a" stroke-width="1.20"/>
<rect x="854.08" y="1676.08" width="21.52" height="21.52" fill="#b9e1f4" stroke="#5a5a5a" stroke-width="1.20"/>
<rect x="887.72" y="1678.95" width="15.79" height="15.79" fill="#ebc4d8" stroke="#5a5a5a" stroke-width="1.20"/>
<rect x="919.71" y="1680.17" width="13.35" height="13.35" fill="#f1d5e3" stroke="#5a5a5a" stroke-width="1.20"/>
<rect x="950.82" y="1680.51" width="12.66" height="12.66" fill="#f2d9e6" stroke="#5a5a5a" stroke-width="1.20"/>
<rect x="985.81" y="1684.73" width="4.22" height="4.22" fill="#fefbfc" stroke="#5a5a5a" stroke-width="0.84"/>
<rect x="1009.14" y="1677.29" width="19.11" height="19.11" fill="#c8e7f6" stroke="#5a5a5a" stroke-width="1.20"/>
<rect x="1043.50" y="1680.88" width="11.94" height="11.94" fill="#f4dde9" stroke="#5a5a5a" stroke-width="1.20"/>
<rect x="1072.20" y="1678.81" width="16.07" height="16.07" fill="#ebc2d7" stroke="#5a5a5a" stroke-width="1.20"/>
<rect x="1103.40" y="1679.24" width="15.22" height="15.22" fill="#edc8db" stroke="#5a5a5a" stroke-width="1.20"/>
<rect x="1137.55" y="1682.62" width="8.44" height="8.44" fill="#f9eef4" stroke="#5a5a5a" stroke-width="1.20"/>
<rect x="605.17" y="1704.10" width="27.03" height="27.03" fill="#c26094" stroke="#5a5a5a" stroke-width="1.20"/>
<rect x="637.80" y="1705.96" width="23.31" height="23.31" fill="#d383ad" stroke="#5a5a5a" stroke-width="1.20"/>
<rect x="672.05" y="1709.44" width="16.35" height="16.35" fill="#eac0d6" stroke="#5a5a5a" stroke-width="1.20"/>
<rect x="699.34" y="1705.96" width="23.31" height="23.31" fill="#d383ad" stroke="#5a5a5a" stroke-width="1.20"/>
<rect x="733.46" y="1709.31" width="16.62" height="16.62" fill="#e9bed4" stroke="#5a5a5a" stroke-width="1.20"/>
<rect x="762.64" y="1707.72" width="19.80" height="19.80" fill="#e0a3c2" stroke="#5a5a5a" stroke-width="1.20"/>
<rect x="789.39" y="1703.70" width="27.84" height="27.84" fill="#be578e" stroke="#5a5a5a" stroke-width="1.20"/>
<rect x="820.81" y="1704.35" width="26.53" height="26.53" fill="#c46597" stroke="#5a5a5a" stroke-width="1.20"/>
<rect x="861.86" y="1714.63" width="5.97" height="5.97" fill="#fcf7f9" stroke="#5a5a5a" stroke-width="1.19"/>
<rect x="881.86" y="1703.86" width="27.52" height="27.52" fill="#bf5a90" stroke="#5a5a5a" stroke-width="1.20"/>
<rect x="923.05" y="1714.28" width="6.67" height="6.67" fill="#fcf4f8" stroke="#5a5a5a" stroke-width="1.20"/>
<rect x="944.40" y="1704.86" width="25.50" height="25.50" fill="#c96f9e" stroke="#5a5a5a" stroke-width="1.20"/>
<rect x="974.49" y="1704.18" width="26.86" height="26.86" fill="#c36195" stroke="#5a5a5a" stroke-width="1.20"/>
<rect x="1008.46" y="1707.38" width="20.46" height="20.46" fill="#de9cbe" stroke="#5a5a5a" stroke-width="1.20"/>
<rect x="1038.60" y="1706.75" width="21.73" height="21.73" fill="#da91b6" stroke="#5a5a5a" stroke-width="1.20"/>
<rect x="1068.48" y="1705.86" width="23.50" height="23.50" fill="#d282ac" stroke="#5a5a5a" stroke-width="1.20"/>
<rect x="1097.57" y="1704.18" width="26.86" height="26.86" fill="#c36195" stroke="#5a5a5a" stroke-width="1.20"/>
<rect x="1128.77" y="1704.61" width="26.02" height="26.02" fill="#c76a9b" stroke="#5a5a5a" stroke-width="1.20"/>
<rect x="1167.38" y="1712.45" width="10.34" height="10.34" fill="#f7e6ee" stroke="#5a5a5a" stroke-width="1.20"/>
<rect x="605.17" y="1734.87" width="27.03" height="27.03" fill="#c26094" stroke="#5a5a5a" stroke-width="1.20"/>
<rect x="638.80" y="1737.73" width="21.31" height="21.31" fill="#db94b9" stroke="#5a5a5a" stroke-width="1.20"/>
<rect x="669.89" y="1738.05" width="20.68" height="20.68" fill="#dd9abd" stroke="#5a5a5a" stroke-width="1.20"/>
<rect x="699.63" y="1737.02" width="22.73" height="22.73" fill="#d588b0" stroke="#5a5a5a" stroke-width="1.20"/>
<rect x="732.57" y="1739.19" width="18.40" height="18.40" fill="#e4afcb" stroke="#5a5a5a" stroke-width="1.20"/>
<rect x="761.37" y="1737.22" width="22.34" height="22.34" fill="#d78cb3" stroke="#5a5a5a" stroke-width="1.20"/>
<rect x="789.79" y="1734.87" width="27.03" height="27.03" fill="#c26094" stroke="#5a5a5a" stroke-width="1.20"/>
<rect x="820.81" y="1735.12" width="26.53" height="26.53" fill="#c46597" stroke="#5a5a5a" stroke-width="1.20"/>
<rect x="859.26" y="1742.80" width="11.17" height="11.17" fill="#ecf7fc" stroke="#5a5a5a" stroke-width="1.20"/>
<rect x="881.86" y="1734.63" width="27.52" height="27.52" fill="#bf5a90" stroke="#5a5a5a" stroke-width="1.20"/>
<rect x="921.67" y="1743.67" width="9.44" height="9.44" fill="#f8eaf1" stroke="#5a5a5a" stroke-width="1.20"/>
<rect x="944.40" y="1735.63" width="25.50" height="25.50" fill="#c96f9e" stroke="#5a5a5a" stroke-width="1.20"/>
<rect x="974.49" y="1734.95" width="26.86" height="26.86" fill="#c36195" stroke="#5a5a5a" stroke-width="1.20"/>
<rect x="1010.52" y="1740.21" width="16.35" height="16.35" fill="#eac0d6" stroke="#5a5a5a" stroke-width="1.20"/>
<rect x="1039.57" y="1738.49" width="19.80" height="19.80" fill="#e0a3c2" stroke="#5a5a5a" stroke-width="1.20"/>
<rect x="1068.11" y="1736.26" width="24.25" height="24.25" fill="#cf7ba7" stroke="#5a5a5a" stroke-width="1.20"/>
<rect x="1097.82" y="1735.20" width="26.36" height="26.36" fill="#c56698" stroke="#5a5a5a" stroke-width="1.20"/>
<rect x="1129.29" y="1735.90" width="24.97" height="24.97" fill="#cc74a2" stroke="#5a5a5a" stroke-width="1.20"/>
<rect x="1164.94" y="1740.78" width="15.22" height="15.22" fill="#edc8db" stroke="#5a5a5a" stroke-width="1.20"/>
<rect x="1189.24" y="1734.31" width="28.16" height="28.16" fill="#bc548b" stroke="#5a5a5a" stroke-width="1.20"/>
<rect x="607.22" y="1767.69" width="22.93" height="22.93" fill="#d587af" stroke="#5a5a5a" stroke-width="1.20"/>
<rect x="637.24" y="1766.94" width="24.43" height="24.43" fill="#ce79a6" stroke="#5a5a5a" stroke-width="1.20"/>
<rect x="676.00" y="1774.93" width="8.44" height="8.44" fill="#f9eef4" stroke="#5a5a5a" stroke-width="1.20"/>
<rect x="700.13" y="1768.29" width="21.73" height="21.73" fill="#da91b6" stroke="#5a5a5a" stroke-width="1.20"/>
<rect x="738.43" y="1775.82" width="6.67" height="6.67" fill="#fcf4f8" stroke="#5a5a5a" stroke-width="1.20"/>
<rect x="766.03" y="1772.65" width="13.01" height="13.01" fill="#f2d7e5" stroke="#5a5a5a" stroke-width="1.20"/>
<rect x="790.04" y="1765.89" width="26.53" height="26.53" fill="#c46597" stroke="#5a5a5a" stroke-width="1.20"/>
<rect x="821.86" y="1766.94" width="24.43" height="24.43" fill="#ce79a6" stroke="#5a5a5a" stroke-width="1.20"/>
<rect x="860.13" y="1774.44" width="9.44" height="9.44" fill="#f8eaf1" stroke="#5a5a5a" stroke-width="1.20"/>
<rect x="882.95" y="1766.49" width="25.33" height="25.33" fill="#ca71a0" stroke="#5a5a5a" stroke-width="1.20"/>
<rect x="923.05" y="1775.82" width="6.67" height="6.67" fill="#fcf4f8" stroke="#5a5a5a" stroke-width="1.20"/>
<rect x="945.69" y="1767.69" width="22.93" height="22.93" fill="#d587af" stroke="#5a5a5a" stroke-width="1.20"/>
<rect x="975.17" y="1766.40" width="25.50" height="25.50" fill="#c96f9e" stroke="#5a5a5a" stroke-width="1.20"/>
<rect x="1009.14" y="1769.60" width="19.11" height="19.11" fill="#e2a9c6" stroke="#5a5a5a" stroke-width="1.20"/>
<rect x="1039.91" y="1769.60" width="19.11" height="19.11" fill="#e2a9c6" stroke="#5a5a5a" stroke-width="1.20"/>
<rect x="1068.97" y="1767.89" width="22.53" height="22.53" fill="#d68ab2" stroke="#5a5a5a" stroke-width="1.20"/>
<rect x="1098.52" y="1766.67" width="24.97" height="24.97" fill="#cc74a2" stroke="#5a5a5a" stroke-width="1.20"/>
<rect x="1129.29" y="1766.67" width="24.97" height="24.97" fill="#cc74a2" stroke="#5a5a5a" stroke-width="1.20"/>
<rect x="1168.60" y="1775.21" width="7.90" height="7.90" fill="#faf0f5" stroke="#5a5a5a" stroke-width="1.20"/>
<rect x="1190.13" y="1765.97" width="26.36" height="26.36" fill="#c56698" stroke="#5a5a5a" stroke-width="1.20"/>
<rect x="1220.90" y="1765.97" width="26.36" height="26.36" fill="#c56698" stroke="#5a5a5a" stroke-width="1.20"/>
<rect x="607.22" y="1798.46" width="22.93" height="22.93" fill="#d587af" stroke="#5a5a5a" stroke-width="1.20"/>
<rect x="640.26" y="1800.73" width="18.40" height="18.40" fill="#e4afcb" stroke="#5a5a5a" stroke-width="1.20"/>
<rect x="670.44" y="1800.14" width="19.57" height="19.57" fill="#e1a5c4" stroke="#5a5a5a" stroke-width="1.20"/>
<rect x="700.44" y="1799.37" width="21.10" height="21.10" fill="#dc96ba" stroke="#5a5a5a" stroke-width="1.20"/>
<rect x="731.00" y="1799.16" width="21.52" height="21.52" fill="#da93b8" stroke="#5a5a5a" stroke-width="1.20"/>
<rect x="761.47" y="1798.86" width="22.14" height="22.14" fill="#d88eb4" stroke="#5a5a5a" stroke-width="1.20"/>
<rect x="790.04" y="1796.66" width="26.53" height="26.53" fill="#c46597" stroke="#5a5a5a" stroke-width="1.20"/>
<rect x="821.86" y="1797.71" width="24.43" height="24.43" fill="#ce79a6" stroke="#5a5a5a" stroke-width="1.20"/>
<rect x="857.69" y="1802.77" width="14.31" height="14.31" fill="#e0f2fa" stroke="#5a5a5a" stroke-width="1.20"/>
<rect x="882.18" y="1796.49" width="26.86" height="26.86" fill="#c36195" stroke="#5a5a5a" stroke-width="1.20"/>
<rect x="921.67" y="1805.21" width="9.44" height="9.44" fill="#f2f9fd" stroke="#5a5a5a" stroke-width="1.20"/>
<rect x="944.40" y="1797.17" width="25.50" height="25.50" fill="#c96f9e" stroke="#5a5a5a" stroke-width="1.20"/>
<rect x="975.17" y="1797.17" width="25.50" height="25.50" fill="#c96f9e" stroke="#5a5a5a" stroke-width="1.20"/>
<rect x="1012.02" y="1803.25" width="13.35" height="13.35" fill="#f1d5e3" stroke="#5a5a5a" stroke-width="1.20"/>
<rect x="1039.91" y="1800.37" width="19.11" height="19.11" fill="#e2a9c6" stroke="#5a5a5a" stroke-width="1.20"/>
<rect x="1068.39" y="1798.08" width="23.69" height="23.69" fill="#d180aa" stroke="#5a5a5a" stroke-width="1.20"/>
<rect x="1097.82" y="1796.74" width="26.36" height="26.36" fill="#c56698" stroke="#5a5a5a" stroke-width="1.20"/>
<rect x="1129.29" y="1797.44" width="24.97" height="24.97" fill="#cc74a2" stroke="#5a5a5a" stroke-width="1.20"/>
<rect x="1164.94" y="1802.32" width="15.22" height="15.22" fill="#edc8db" stroke="#5a5a5a" stroke-width="1.20"/>
<rect x="1189.72" y="1796.33" width="27.19" height="27.19" fill="#c15e92" stroke="#5a5a5a" stroke-width="1.20"/>
<rect x="1220.74" y="1796.58" width="26.70" height="26.70" fill="#c36396" stroke="#5a5a5a" stroke-width="1.20"/>
<rect x="1252.37" y="1797.44" width="24.97" height="24.97" fill="#cc74a2" stroke="#5a5a5a" stroke-width="1.20"/>
<rect x="607.22" y="1829.23" width="22.93" height="22.93" fill="#d587af" stroke="#5a5a5a" stroke-width="1.20"/>
<rect x="637.24" y="1828.48" width="24.43" height="24.43" fill="#ce79a6" stroke="#5a5a5a" stroke-width="1.20"/>
<rect x="678.73" y="1839.20" width="2.98" height="2.98" fill="#fefdfe" stroke="#5a5a5a" stroke-width="0.60"/>
<rect x="697.56" y="1827.26" width="26.86" height="26.86" fill="#c36195" stroke="#5a5a5a" stroke-width="1.20"/>
<rect x="737.82" y="1836.75" width="7.90" height="7.90" fill="#faf0f5" stroke="#5a5a5a" stroke-width="1.20"/>
<rect x="770.42" y="1838.58" width="4.22" height="4.22" fill="#fefbfc" stroke="#5a5a5a" stroke-width="0.84"/>
<rect x="790.04" y="1827.43" width="26.53" height="26.53" fill="#c46597" stroke="#5a5a5a" stroke-width="1.20"/>
<rect x="820.81" y="1827.43" width="26.53" height="26.53" fill="#c46597" stroke="#5a5a5a" stroke-width="1.20"/>
<rect x="854.61" y="1830.46" width="20.46" height="20.46" fill="#de9cbe" stroke="#5a5a5a" stroke-width="1.20"/>
<rect x="882.95" y="1828.03" width="25.33" height="25.33" fill="#ca71a0" stroke="#5a5a5a" stroke-width="1.20"/>
<rect x="921.22" y="1835.53" width="10.34" height="10.34" fill="#f7e6ee" stroke="#5a5a5a" stroke-width="1.20"/>
<rect x="946.92" y="1830.46" width="20.46" height="20.46" fill="#de9cbe" stroke="#5a5a5a" stroke-width="1.20"/>
<rect x="974.49" y="1827.26" width="26.86" height="26.86" fill="#c36195" stroke="#5a5a5a" stroke-width="1.20"/>
<rect x="1009.02" y="1831.02" width="19.34" height="19.34" fill="#e2a7c5" stroke="#5a5a5a" stroke-width="1.20"/>
<rect x="1036.03" y="1827.26" width="26.86" height="26.86" fill="#c36195" stroke="#5a5a5a" stroke-width="1.20"/>
<rect x="1068.11" y="1828.57" width="24.25" height="24.25" fill="#cf7ba7" stroke="#5a5a5a" stroke-width="1.20"/>
<rect x="1097.82" y="1827.51" width="26.36" height="26.36" fill="#c56698" stroke="#5a5a5a" stroke-width="1.20"/>
<rect x="1129.29" y="1828.21" width="24.97" height="24.97" fill="#cc74a2" stroke="#5a5a5a" stroke-width="1.20"/>
<rect x="1168.32" y="1836.47" width="8.44" height="8.44" fill="#f9eef4" stroke="#5a5a5a" stroke-width="1.20"/>
<rect x="1190.92" y="1828.30" width="24.79" height="24.79" fill="#cc76a3" stroke="#5a5a5a" stroke-width="1.20"/>
<rect x="1222.62" y="1829.23" width="22.93" height="22.93" fill="#d587af" stroke="#5a5a5a" stroke-width="1.20"/>
<rect x="1252.73" y="1828.57" width="24.25" height="24.25" fill="#cf7ba7" stroke="#5a5a5a" stroke-width="1.20"/>
<rect x="1284.56" y="1829.63" width="22.14" height="22.14" fill="#d88eb4" stroke="#5a5a5a" stroke-width="1.20"/>
<rect x="608.45" y="1861.23" width="20.46" height="20.46" fill="#de9cbe" stroke="#5a5a5a" stroke-width="1.20"/>
<rect x="637.80" y="1859.81" width="23.31" height="23.31" fill="#d383ad" stroke="#5a5a5a" stroke-width="1.20"/>
<rect x="674.07" y="1865.31" width="12.31" height="12.31" fill="#e8f5fb" stroke="#5a5a5a" stroke-width="1.20"/>
<rect x="697.99" y="1858.46" width="26.02" height="26.02" fill="#c76a9b" stroke="#5a5a5a" stroke-width="1.20"/>
<rect x="737.29" y="1866.99" width="8.95" height="8.95" fill="#f9ecf3" stroke="#5a5a5a" stroke-width="1.20"/>
<rect x="765.70" y="1864.63" width="13.68" height="13.68" fill="#e3f3fa" stroke="#5a5a5a" stroke-width="1.20"/>
<rect x="791.65" y="1859.81" width="23.31" height="23.31" fill="#d383ad" stroke="#5a5a5a" stroke-width="1.20"/>
<rect x="822.04" y="1859.43" width="24.06" height="24.06" fill="#d07ca8" stroke="#5a5a5a" stroke-width="1.20"/>
<rect x="854.40" y="1861.02" width="20.89" height="20.89" fill="#dd98bb" stroke="#5a5a5a" stroke-width="1.20"/>
<rect x="884.45" y="1860.30" width="22.34" height="22.34" fill="#d78cb3" stroke="#5a5a5a" stroke-width="1.20"/>
<rect x="919.71" y="1864.79" width="13.35" height="13.35" fill="#e4f3fb" stroke="#5a5a5a" stroke-width="1.20"/>
<rect x="948.20" y="1862.51" width="17.91" height="17.91" fill="#e6b3cd" stroke="#5a5a5a" stroke-width="1.20"/>
<rect x="975.80" y="1859.34" width="24.25" height="24.25" fill="#cf7ba7" stroke="#5a5a5a" stroke-width="1.20"/>
<rect x="1008.46" y="1861.23" width="20.46" height="20.46" fill="#de9cbe" stroke="#5a5a5a" stroke-width="1.20"/>
<rect x="1036.03" y="1858.03" width="26.86" height="26.86" fill="#c36195" stroke="#5a5a5a" stroke-width="1.20"/>
<rect x="1070.68" y="1861.91" width="19.11" height="19.11" fill="#e2a9c6" stroke="#5a5a5a" stroke-width="1.20"/>
<rect x="1098.52" y="1858.98" width="24.97" height="24.97" fill="#cc74a2" stroke="#5a5a5a" stroke-width="1.20"/>
<rect x="1128.77" y="1858.46" width="26.02" height="26.02" fill="#c76a9b" stroke="#5a5a5a" stroke-width="1.20"/>
<rect x="1166.21" y="1865.13" width="12.66" height="12.66" fill="#e7f5fb" stroke="#5a5a5a" stroke-width="1.20"/>
<rect x="1192.87" y="1861.02" width="20.89" height="20.89" fill="#dd98bb" stroke="#5a5a5a" stroke-width="1.20"/>
<rect x="1225.01" y="1862.39" width="18.16" height="18.16" fill="#e5b1cc" stroke="#5a5a5a" stroke-width="1.20"/>
<rect x="1255.07" y="1861.68" width="19.57" height="19.57" fill="#e1a5c4" stroke="#5a5a5a" stroke-width="1.20"/>
<rect x="1286.67" y="1862.51" width="17.91" height="17.91" fill="#e6b3cd" stroke="#5a5a5a" stroke-width="1.20"/>
<rect x="1312.96" y="1858.03" width="26.86" height="26.86" fill="#c36195" stroke="#5a5a5a" stroke-width="1.20"/>
<rect x="606.29" y="1889.84" width="24.79" height="24.79" fill="#cc76a3" stroke="#5a5a5a" stroke-width="1.20"/>
<rect x="637.24" y="1890.02" width="24.43" height="24.43" fill="#ce79a6" stroke="#5a5a5a" stroke-width="1.20"/>
<rect x="674.84" y="1896.85" width="10.76" height="10.76" fill="#f6e4ed" stroke="#5a5a5a" stroke-width="1.20"/>
<rect x="697.99" y="1889.23" width="26.02" height="26.02" fill="#c76a9b" stroke="#5a5a5a" stroke-width="1.20"/>
<rect x="733.87" y="1894.34" width="15.79" height="15.79" fill="#ebc4d8" stroke="#5a5a5a" stroke-width="1.20"/>
<rect x="765.07" y="1894.77" width="14.92" height="14.92" fill="#eecadc" stroke="#5a5a5a" stroke-width="1.20"/>
<rect x="789.55" y="1888.48" width="27.52" height="27.52" fill="#bf5a90" stroke="#5a5a5a" stroke-width="1.20"/>
<rect x="820.81" y="1888.97" width="26.53" height="26.53" fill="#c46597" stroke="#5a5a5a" stroke-width="1.20"/>
<rect x="857.09" y="1894.48" width="15.51" height="15.51" fill="#ecc6da" stroke="#5a5a5a" stroke-width="1.20"/>
<rect x="882.02" y="1888.64" width="27.19" height="27.19" fill="#c15e92" stroke="#5a5a5a" stroke-width="1.20"/>
<rect x="919.71" y="1895.56" width="13.35" height="13.35" fill="#e4f3fb" stroke="#5a5a5a" stroke-width="1.20"/>
<rect x="945.31" y="1890.39" width="23.69" height="23.69" fill="#d180aa" stroke="#5a5a5a" stroke-width="1.20"/>
<rect x="974.49" y="1888.80" width="26.86" height="26.86" fill="#c36195" stroke="#5a5a5a" stroke-width="1.20"/>
<rect x="1009.02" y="1892.56" width="19.34" height="19.34" fill="#e2a7c5" stroke="#5a5a5a" stroke-width="1.20"/>
<rect x="1036.03" y="1888.80" width="26.86" height="26.86" fill="#c36195" stroke="#5a5a5a" stroke-width="1.20"/>
<rect x="1068.11" y="1890.11" width="24.25" height="24.25" fill="#cf7ba7" stroke="#5a5a5a" stroke-width="1.20"/>
<rect x="1097.82" y="1889.05" width="26.36" height="26.36" fill="#c56698" stroke="#5a5a5a" stroke-width="1.20"/>
<rect x="1129.29" y="1889.75" width="24.97" height="24.97" fill="#cc74a2" stroke="#5a5a5a" stroke-width="1.20"/>
<rect x="1168.60" y="1898.29" width="7.90" height="7.90" fill="#faf0f5" stroke="#5a5a5a" stroke-width="1.20"/>
<rect x="1189.80" y="1888.72" width="27.03" height="27.03" fill="#c26094" stroke="#5a5a5a" stroke-width="1.20"/>
<rect x="1221.60" y="1889.75" width="24.97" height="24.97" fill="#cc74a2" stroke="#5a5a5a" stroke-width="1.20"/>
<rect x="1252.28" y="1889.66" width="25.15" height="25.15" fill="#cb72a1" stroke="#5a5a5a" stroke-width="1.20"/>
<rect x="1283.41" y="1890.02" width="24.43" height="24.43" fill="#ce79a6" stroke="#5a5a5a" stroke-width="1.20"/>
<rect x="1312.96" y="1888.80" width="26.86" height="26.86" fill="#c36195" stroke="#5a5a5a" stroke-width="1.20"/>
<rect x="1343.73" y="1888.80" width="26.86" height="26.86" fill="#c36195" stroke="#5a5a5a" stroke-width="1.20"/>
<rect x="607.22" y="1921.54" width="22.93" height="22.93" fill="#d587af" stroke="#5a5a5a" stroke-width="1.20"/>
<rect x="639.44" y="1922.99" width="20.02" height="20.02" fill="#e0a0c1" stroke="#5a5a5a" stroke-width="1.20"/>
<rect x="673.89" y="1926.67" width="12.66" height="12.66" fill="#e7f5fb" stroke="#5a5a5a" stroke-width="1.20"/>
<rect x="702.55" y="1924.56" width="16.88" height="16.88" fill="#e9bcd3" stroke="#5a5a5a" stroke-width="1.20"/>
<rect x="737.29" y="1928.53" width="8.95" height="8.95" fill="#f9ecf3" stroke="#5a5a5a" stroke-width="1.20"/>
<rect x="768.59" y="1929.06" width="7.90" height="7.90" fill="#faf0f5" stroke="#5a5a5a" stroke-width="1.20"/>
<rect x="791.18" y="1920.88" width="24.25" height="24.25" fill="#cf7ba7" stroke="#5a5a5a" stroke-width="1.20"/>
<rect x="823.31" y="1922.24" width="21.52" height="21.52" fill="#da93b8" stroke="#5a5a5a" stroke-width="1.20"/>
<rect x="856.95" y="1925.11" width="15.79" height="15.79" fill="#ebc4d8" stroke="#5a5a5a" stroke-width="1.20"/>
<rect x="883.49" y="1920.88" width="24.25" height="24.25" fill="#cf7ba7" stroke="#5a5a5a" stroke-width="1.20"/>
<rect x="919.71" y="1926.33" width="13.35" height="13.35" fill="#e4f3fb" stroke="#5a5a5a" stroke-width="1.20"/>
<rect x="945.89" y="1921.74" width="22.53" height="22.53" fill="#d68ab2" stroke="#5a5a5a" stroke-width="1.20"/>
<rect x="975.17" y="1920.25" width="25.50" height="25.50" fill="#c96f9e" stroke="#5a5a5a" stroke-width="1.20"/>
<rect x="1009.02" y="1923.33" width="19.34" height="19.34" fill="#e2a7c5" stroke="#5a5a5a" stroke-width="1.20"/>
<rect x="1041.57" y="1925.11" width="15.79" height="15.79" fill="#ebc4d8" stroke="#5a5a5a" stroke-width="1.20"/>
<rect x="1070.68" y="1923.45" width="19.11" height="19.11" fill="#e2a9c6" stroke="#5a5a5a" stroke-width="1.20"/>
<rect x="1100.45" y="1922.45" width="21.10" height="21.10" fill="#dc96ba" stroke="#5a5a5a" stroke-width="1.20"/>
<rect x="1128.02" y="1919.25" width="27.52" height="27.52" fill="#bf5a90" stroke="#5a5a5a" stroke-width="1.20"/>
<rect x="1166.21" y="1926.67" width="12.66" height="12.66" fill="#e7f5fb" stroke="#5a5a5a" stroke-width="1.20"/>
<rect x="1190.13" y="1919.82" width="26.36" height="26.36" fill="#c56698" stroke="#5a5a5a" stroke-width="1.20"/>
<rect x="1221.87" y="1920.79" width="24.43" height="24.43" fill="#ce79a6" stroke="#5a5a5a" stroke-width="1.20"/>
<rect x="1252.64" y="1920.79" width="24.43" height="24.43" fill="#ce79a6" stroke="#5a5a5a" stroke-width="1.20"/>
<rect x="1283.87" y="1921.25" width="23.50" height="23.50" fill="#d282ac" stroke="#5a5a5a" stroke-width="1.20"/>
<rect x="1315.23" y="1921.84" width="22.34" height="22.34" fill="#d78cb3" stroke="#5a5a5a" stroke-width="1.20"/>
<rect x="1347.61" y="1923.45" width="19.11" height="19.11" fill="#e2a9c6" stroke="#5a5a5a" stroke-width="1.20"/>
<rect x="1376.47" y="1921.54" width="22.93" height="22.93" fill="#d587af" stroke="#5a5a5a" stroke-width="1.20"/>
<rect x="617.19" y="1962.28" width="2.98" height="2.98" fill="#fefdfe" stroke="#5a5a5a" stroke-width="0.60"/>
<rect x="639.44" y="1953.76" width="20.02" height="20.02" fill="#e0a0c1" stroke="#5a5a5a" stroke-width="1.20"/>
<rect x="668.47" y="1952.02" width="23.50" height="23.50" fill="#abdcf2" stroke="#5a5a5a" stroke-width="1.20"/>
<rect x="707.66" y="1960.44" width="6.67" height="6.67" fill="#fcf4f8" stroke="#5a5a5a" stroke-width="1.20"/>
<rect x="732.09" y="1954.10" width="19.34" height="19.34" fill="#c7e7f6" stroke="#5a5a5a" stroke-width="1.20"/>
<rect x="759.87" y="1951.11" width="25.33" height="25.33" fill="#9dd6f0" stroke="#5a5a5a" stroke-width="1.20"/>
<rect x="797.92" y="1958.39" width="10.76" height="10.76" fill="#f6e4ed" stroke="#5a5a5a" stroke-width="1.20"/>
<rect x="831.09" y="1960.79" width="5.97" height="5.97" fill="#fcf7f9" stroke="#5a5a5a" stroke-width="1.19"/>
<rect x="852.72" y="1951.65" width="24.25" height="24.25" fill="#cf7ba7" stroke="#5a5a5a" stroke-width="1.20"/>
<rect x="890.67" y="1958.83" width="9.90" height="9.90" fill="#f7e8f0" stroke="#5a5a5a" stroke-width="1.20"/>
<rect x="922.44" y="1959.83" width="7.90" height="7.90" fill="#faf0f5" stroke="#5a5a5a" stroke-width="1.20"/>
<rect x="952.93" y="1959.55" width="8.44" height="8.44" fill="#f9eef4" stroke="#5a5a5a" stroke-width="1.20"/>
<rect x="981.25" y="1957.10" width="13.35" height="13.35" fill="#f1d5e3" stroke="#5a5a5a" stroke-width="1.20"/>
<rect x="1007.23" y="1952.31" width="22.93" height="22.93" fill="#d587af" stroke="#5a5a5a" stroke-width="1.20"/>
<rect x="1046.13" y="1960.44" width="6.67" height="6.67" fill="#fcf4f8" stroke="#5a5a5a" stroke-width="1.20"/>
<rect x="1077.65" y="1961.19" width="5.17" height="5.17" fill="#fdf9fb" stroke="#5a5a5a" stroke-width="1.03"/>
<rect x="1106.78" y="1959.55" width="8.44" height="8.44" fill="#f9eef4" stroke="#5a5a5a" stroke-width="1.20"/>
<rect x="1133.07" y="1955.07" width="17.40" height="17.40" fill="#e7b8d0" stroke="#5a5a5a" stroke-width="1.20"/>
<rect x="1159.79" y="1951.02" width="25.50" height="25.50" fill="#9cd6ef" stroke="#5a5a5a" stroke-width="1.20"/>
<rect x="1200.33" y="1960.79" width="5.97" height="5.97" fill="#fcf7f9" stroke="#5a5a5a" stroke-width="1.19"/>
<rect x="1229.37" y="1959.06" width="9.44" height="9.44" fill="#f2f9fd" stroke="#5a5a5a" stroke-width="1.20"/>
<rect x="1258.02" y="1956.94" width="13.68" height="13.68" fill="#f0d3e2" stroke="#5a5a5a" stroke-width="1.20"/>
<rect x="1290.24" y="1958.39" width="10.76" height="10.76" fill="#eef7fc" stroke="#5a5a5a" stroke-width="1.20"/>
<rect x="1318.79" y="1956.17" width="15.22" height="15.22" fill="#edc8db" stroke="#5a5a5a" stroke-width="1.20"/>
<rect x="1347.85" y="1954.46" width="18.64" height="18.64" fill="#e4adc9" stroke="#5a5a5a" stroke-width="1.20"/>
<rect x="1382.77" y="1958.61" width="10.34" height="10.34" fill="#f7e6ee" stroke="#5a5a5a" stroke-width="1.20"/>
<rect x="1409.63" y="1954.70" width="18.16" height="18.16" fill="#e5b1cc" stroke="#5a5a5a" stroke-width="1.20"/>
<line x1="1247.5" y1="1204.1" x2="681.7" y2="1163.8" stroke="#bfbfbf" stroke-width="1.9"/>
<line x1="1247.5" y1="1204.1" x2="743.3" y2="1225.3" stroke="#bfbfbf" stroke-width="1.9"/>
<line x1="1247.5" y1="1204.1" x2="866.3" y2="1348.4" stroke="#bfbfbf" stroke-width="1.9"/>
<line x1="1247.5" y1="1204.1" x2="1081.7" y2="1563.8" stroke="#bfbfbf" stroke-width="1.9"/>
<line x1="1247.5" y1="1204.1" x2="1358.7" y2="1840.7" stroke="#bfbfbf" stroke-width="1.9"/>
<line x1="1247.5" y1="1204.1" x2="1389.4" y2="1871.5" stroke="#bfbfbf" stroke-width="1.9"/>
<line x1="1403.3" y1="1379.0" x2="743.3" y2="1225.3" stroke="#bfbfbf" stroke-width="1.9"/>
<line x1="1403.3" y1="1379.0" x2="1051.0" y2="1533.0" stroke="#bfbfbf" stroke-width="1.9"/>
<line x1="1403.3" y1="1379.0" x2="1204.8" y2="1686.8" stroke="#bfbfbf" stroke-width="1.9"/>
<line x1="1403.3" y1="1379.0" x2="1389.4" y2="1871.5" stroke="#bfbfbf" stroke-width="1.9"/>
<line x1="1403.3" y1="1379.0" x2="1481.7" y2="1963.8" stroke="#bfbfbf" stroke-width="1.9"/>
<line x1="1560.2" y1="1551.0" x2="712.5" y2="1194.5" stroke="#bfbfbf" stroke-width="1.9"/>
<line x1="1560.2" y1="1551.0" x2="743.3" y2="1225.3" stroke="#bfbfbf" stroke-width="1.9"/>
<line x1="1560.2" y1="1551.0" x2="774.0" y2="1256.1" stroke="#bfbfbf" stroke-width="1.9"/>
<line x1="1560.2" y1="1551.0" x2="897.1" y2="1379.1" stroke="#bfbfbf" stroke-width="1.9"/>
<line x1="1560.2" y1="1551.0" x2="1081.7" y2="1563.8" stroke="#bfbfbf" stroke-width="1.9"/>
<line x1="1560.2" y1="1551.0" x2="1204.8" y2="1686.8" stroke="#bfbfbf" stroke-width="1.9"/>
<line x1="1560.2" y1="1551.0" x2="1481.7" y2="1963.8" stroke="#bfbfbf" stroke-width="1.9"/>
<line x1="1717.5" y1="1721.2" x2="1204.8" y2="1686.8" stroke="#bfbfbf" stroke-width="1.9"/>
<line x1="1717.5" y1="1721.2" x2="1481.7" y2="1963.8" stroke="#bfbfbf" stroke-width="1.9"/>
<line x1="1247.5" y1="1204.1" x2="651.0" y2="1133.0" stroke="#d2622b" stroke-width="3.0"/>
<line x1="1247.5" y1="1204.1" x2="835.6" y2="1317.6" stroke="#d2622b" stroke-width="3.0"/>
<line x1="1247.5" y1="1204.1" x2="958.7" y2="1440.7" stroke="#d2622b" stroke-width="3.0"/>
<line x1="1247.5" y1="1204.1" x2="1020.2" y2="1502.2" stroke="#d2622b" stroke-width="3.0"/>
<line x1="1247.5" y1="1204.1" x2="1112.5" y2="1594.5" stroke="#d2622b" stroke-width="3.0"/>
<line x1="1247.5" y1="1204.1" x2="1143.3" y2="1625.3" stroke="#d2622b" stroke-width="3.0"/>
<line x1="1247.5" y1="1204.1" x2="1174.0" y2="1656.1" stroke="#d2622b" stroke-width="3.0"/>
<line x1="1247.5" y1="1204.1" x2="1204.8" y2="1686.8" stroke="#d2622b" stroke-width="3.0"/>
<line x1="1247.5" y1="1204.1" x2="1297.1" y2="1779.2" stroke="#d2622b" stroke-width="3.0"/>
<line x1="1247.5" y1="1204.1" x2="1327.9" y2="1809.9" stroke="#d2622b" stroke-width="3.0"/>
<line x1="1247.5" y1="1204.1" x2="1420.2" y2="1902.2" stroke="#d2622b" stroke-width="3.0"/>
<line x1="1247.5" y1="1204.1" x2="1451.0" y2="1933.0" stroke="#d2622b" stroke-width="3.0"/>
<line x1="1403.3" y1="1379.0" x2="712.5" y2="1194.5" stroke="#d2622b" stroke-width="3.0"/>
<line x1="1403.3" y1="1379.0" x2="774.0" y2="1256.1" stroke="#d2622b" stroke-width="3.0"/>
<line x1="1403.3" y1="1379.0" x2="804.8" y2="1286.8" stroke="#d2622b" stroke-width="3.0"/>
<line x1="1403.3" y1="1379.0" x2="866.3" y2="1348.4" stroke="#d2622b" stroke-width="3.0"/>
<line x1="1403.3" y1="1379.0" x2="897.1" y2="1379.1" stroke="#d2622b" stroke-width="3.0"/>
<line x1="1403.3" y1="1379.0" x2="958.7" y2="1440.7" stroke="#d2622b" stroke-width="3.0"/>
<line x1="1403.3" y1="1379.0" x2="1143.3" y2="1625.3" stroke="#d2622b" stroke-width="3.0"/>
<line x1="1403.3" y1="1379.0" x2="1297.1" y2="1779.2" stroke="#d2622b" stroke-width="3.0"/>
<line x1="1403.3" y1="1379.0" x2="1358.7" y2="1840.7" stroke="#d2622b" stroke-width="3.0"/>
<line x1="1403.3" y1="1379.0" x2="1451.0" y2="1933.0" stroke="#d2622b" stroke-width="3.0"/>
<line x1="1560.2" y1="1551.0" x2="866.3" y2="1348.4" stroke="#d2622b" stroke-width="3.0"/>
<line x1="1560.2" y1="1551.0" x2="958.7" y2="1440.7" stroke="#d2622b" stroke-width="3.0"/>
<line x1="1560.2" y1="1551.0" x2="989.4" y2="1471.5" stroke="#d2622b" stroke-width="3.0"/>
<line x1="1560.2" y1="1551.0" x2="1051.0" y2="1533.0" stroke="#d2622b" stroke-width="3.0"/>
<line x1="1560.2" y1="1551.0" x2="1143.3" y2="1625.3" stroke="#d2622b" stroke-width="3.0"/>
<line x1="1560.2" y1="1551.0" x2="1235.6" y2="1717.6" stroke="#d2622b" stroke-width="3.0"/>
<line x1="1560.2" y1="1551.0" x2="1266.4" y2="1748.4" stroke="#d2622b" stroke-width="3.0"/>
<line x1="1560.2" y1="1551.0" x2="1297.1" y2="1779.2" stroke="#d2622b" stroke-width="3.0"/>
<line x1="1560.2" y1="1551.0" x2="1327.9" y2="1809.9" stroke="#d2622b" stroke-width="3.0"/>
<line x1="1560.2" y1="1551.0" x2="1358.7" y2="1840.7" stroke="#d2622b" stroke-width="3.0"/>
<line x1="1560.2" y1="1551.0" x2="1389.4" y2="1871.5" stroke="#d2622b" stroke-width="3.0"/>
<line x1="1560.2" y1="1551.0" x2="1451.0" y2="1933.0" stroke="#d2622b" stroke-width="3.0"/>
<line x1="1717.5" y1="1721.2" x2="651.0" y2="1133.0" stroke="#d2622b" stroke-width="3.0"/>
<line x1="1717.5" y1="1721.2" x2="681.7" y2="1163.8" stroke="#d2622b" stroke-width="3.0"/>
<line x1="1717.5" y1="1721.2" x2="712.5" y2="1194.5" stroke="#d2622b" stroke-width="3.0"/>
<line x1="1717.5" y1="1721.2" x2="958.7" y2="1440.7" stroke="#d2622b" stroke-width="3.0"/>
<line x1="1717.5" y1="1721.2" x2="1020.2" y2="1502.2" stroke="#d2622b" stroke-width="3.0"/>
<line x1="1717.5" y1="1721.2" x2="1112.5" y2="1594.5" stroke="#d2622b" stroke-width="3.0"/>
<line x1="1717.5" y1="1721.2" x2="1143.3" y2="1625.3" stroke="#d2622b" stroke-width="3.0"/>
<line x1="1717.5" y1="1721.2" x2="1235.6" y2="1717.6" stroke="#d2622b" stroke-width="3.0"/>
<line x1="1717.5" y1="1721.2" x2="1358.7" y2="1840.7" stroke="#d2622b" stroke-width="3.0"/>
<line x1="1717.5" y1="1721.2" x2="1389.4" y2="1871.5" stroke="#d2622b" stroke-width="3.0"/>
<line x1="1247.5" y1="1204.1" x2="712.5" y2="1194.5" stroke="#d2622b" stroke-width="5.0"/>
<line x1="1247.5" y1="1204.1" x2="774.0" y2="1256.1" stroke="#d2622b" stroke-width="5.0"/>
<line x1="1247.5" y1="1204.1" x2="804.8" y2="1286.8" stroke="#d2622b" stroke-width="5.0"/>
<line x1="1247.5" y1="1204.1" x2="897.1" y2="1379.1" stroke="#d2622b" stroke-width="5.0"/>
<line x1="1247.5" y1="1204.1" x2="927.9" y2="1409.9" stroke="#d2622b" stroke-width="5.0"/>
<line x1="1247.5" y1="1204.1" x2="989.4" y2="1471.5" stroke="#d2622b" stroke-width="5.0"/>
<line x1="1247.5" y1="1204.1" x2="1235.6" y2="1717.6" stroke="#d2622b" stroke-width="5.0"/>
<line x1="1247.5" y1="1204.1" x2="1266.4" y2="1748.4" stroke="#d2622b" stroke-width="5.0"/>
<line x1="1247.5" y1="1204.1" x2="1481.7" y2="1963.8" stroke="#d2622b" stroke-width="5.0"/>
<line x1="1403.3" y1="1379.0" x2="651.0" y2="1133.0" stroke="#d2622b" stroke-width="5.0"/>
<line x1="1403.3" y1="1379.0" x2="681.7" y2="1163.8" stroke="#d2622b" stroke-width="5.0"/>
<line x1="1403.3" y1="1379.0" x2="835.6" y2="1317.6" stroke="#d2622b" stroke-width="5.0"/>
<line x1="1403.3" y1="1379.0" x2="927.9" y2="1409.9" stroke="#d2622b" stroke-width="5.0"/>
<line x1="1403.3" y1="1379.0" x2="989.4" y2="1471.5" stroke="#d2622b" stroke-width="5.0"/>
<line x1="1403.3" y1="1379.0" x2="1020.2" y2="1502.2" stroke="#d2622b" stroke-width="5.0"/>
<line x1="1403.3" y1="1379.0" x2="1112.5" y2="1594.5" stroke="#d2622b" stroke-width="5.0"/>
<line x1="1403.3" y1="1379.0" x2="1174.0" y2="1656.1" stroke="#d2622b" stroke-width="5.0"/>
<line x1="1403.3" y1="1379.0" x2="1235.6" y2="1717.6" stroke="#d2622b" stroke-width="5.0"/>
<line x1="1403.3" y1="1379.0" x2="1266.4" y2="1748.4" stroke="#d2622b" stroke-width="5.0"/>
<line x1="1403.3" y1="1379.0" x2="1327.9" y2="1809.9" stroke="#d2622b" stroke-width="5.0"/>
<line x1="1403.3" y1="1379.0" x2="1420.2" y2="1902.2" stroke="#d2622b" stroke-width="5.0"/>
<line x1="1560.2" y1="1551.0" x2="651.0" y2="1133.0" stroke="#d2622b" stroke-width="5.0"/>
<line x1="1560.2" y1="1551.0" x2="681.7" y2="1163.8" stroke="#d2622b" stroke-width="5.0"/>
<line x1="1560.2" y1="1551.0" x2="835.6" y2="1317.6" stroke="#d2622b" stroke-width="5.0"/>
<line x1="1560.2" y1="1551.0" x2="927.9" y2="1409.9" stroke="#d2622b" stroke-width="5.0"/>
<line x1="1560.2" y1="1551.0" x2="1020.2" y2="1502.2" stroke="#d2622b" stroke-width="5.0"/>
<line x1="1560.2" y1="1551.0" x2="1112.5" y2="1594.5" stroke="#d2622b" stroke-width="5.0"/>
<line x1="1560.2" y1="1551.0" x2="1174.0" y2="1656.1" stroke="#d2622b" stroke-width="5.0"/>
<line x1="1560.2" y1="1551.0" x2="1420.2" y2="1902.2" stroke="#d2622b" stroke-width="5.0"/>
<line x1="1717.5" y1="1721.2" x2="774.0" y2="1256.1" stroke="#d2622b" stroke-width="5.0"/>
<line x1="1717.5" y1="1721.2" x2="804.8" y2="1286.8" stroke="#d2622b" stroke-width="5.0"/>
<line x1="1717.5" y1="1721.2" x2="835.6" y2="1317.6" stroke="#d2622b" stroke-width="5.0"/>
<line x1="1717.5" y1="1721.2" x2="866.3" y2="1348.4" stroke="#d2622b" stroke-width="5.0"/>
<line x1="1717.5" y1="1721.2" x2="927.9" y2="1409.9" stroke="#d2622b" stroke-width="5.0"/>
<line x1="1717.5" y1="1721.2" x2="989.4" y2="1471.5" stroke="#d2622b" stroke-width="5.0"/>
<line x1="1717.5" y1="1721.2" x2="1174.0" y2="1656.1" stroke="#d2622b" stroke-width="5.0"/>
<line x1="1717.5" y1="1721.2" x2="1266.4" y2="1748.4" stroke="#d2622b" stroke-width="5.0"/>
<line x1="1717.5" y1="1721.2" x2="1297.1" y2="1779.2" stroke="#d2622b" stroke-width="5.0"/>
<line x1="1717.5" y1="1721.2" x2="1327.9" y2="1809.9" stroke="#d2622b" stroke-width="5.0"/>
<line x1="1717.5" y1="1721.2" x2="1420.2" y2="1902.2" stroke="#d2622b" stroke-width="5.0"/>
<line x1="1717.5" y1="1721.2" x2="1451.0" y2="1933.0" stroke="#d2622b" stroke-width="5.0"/>
<line x1="1247.5" y1="1204.1" x2="1051.0" y2="1533.0" stroke="#2b8b6b" stroke-width="2.2"/>
<line x1="1403.3" y1="1379.0" x2="1081.7" y2="1563.8" stroke="#2b8b6b" stroke-width="2.2"/>
<line x1="1560.2" y1="1551.0" x2="804.8" y2="1286.8" stroke="#2b8b6b" stroke-width="2.2"/>
<line x1="1717.5" y1="1721.2" x2="743.3" y2="1225.3" stroke="#2b8b6b" stroke-width="2.2"/>
<line x1="1717.5" y1="1721.2" x2="897.1" y2="1379.1" stroke="#2b8b6b" stroke-width="2.2"/>
<line x1="1717.5" y1="1721.2" x2="1051.0" y2="1533.0" stroke="#2b8b6b" stroke-width="2.2"/>
<line x1="1717.5" y1="1721.2" x2="1081.7" y2="1563.8" stroke="#2b8b6b" stroke-width="2.2"/>
<circle cx="649.5" cy="1133.0" r="5.3" fill="#e8262b" stroke="#45459a" stroke-width="1.5"/>
<circle cx="680.2" cy="1163.8" r="5.3" fill="#e8262b" stroke="#45459a" stroke-width="1.5"/>
<circle cx="711.0" cy="1194.5" r="5.3" fill="#e8262b" stroke="#45459a" stroke-width="1.5"/>
<circle cx="741.8" cy="1225.3" r="5.3" fill="#e8262b" stroke="#45459a" stroke-width="1.5"/>
<circle cx="772.5" cy="1256.1" r="5.3" fill="#e8262b" stroke="#45459a" stroke-width="1.5"/>
<circle cx="803.3" cy="1286.8" r="5.3" fill="#e8262b" stroke="#45459a" stroke-width="1.5"/>
<circle cx="834.1" cy="1317.6" r="5.3" fill="#e8262b" stroke="#45459a" stroke-width="1.5"/>
<circle cx="864.8" cy="1348.4" r="5.3" fill="#e8262b" stroke="#45459a" stroke-width="1.5"/>
<circle cx="895.6" cy="1379.1" r="5.3" fill="#e8262b" stroke="#45459a" stroke-width="1.5"/>
<circle cx="926.4" cy="1409.9" r="5.3" fill="#e8262b" stroke="#45459a" stroke-width="1.5"/>
<circle cx="957.2" cy="1440.7" r="5.3" fill="#e8262b" stroke="#45459a" stroke-width="1.5"/>
<circle cx="987.9" cy="1471.5" r="5.3" fill="#e8262b" stroke="#45459a" stroke-width="1.5"/>
<circle cx="1018.7" cy="1502.2" r="5.3" fill="#e8262b" stroke="#45459a" stroke-width="1.5"/>
<circle cx="1049.5" cy="1533.0" r="5.3" fill="#e8262b" stroke="#45459a" stroke-width="1.5"/>
<circle cx="1080.2" cy="1563.8" r="5.3" fill="#e8262b" stroke="#45459a" stroke-width="1.5"/>
<circle cx="1111.0" cy="1594.5" r="5.3" fill="#e8262b" stroke="#45459a" stroke-width="1.5"/>
<circle cx="1141.8" cy="1625.3" r="5.3" fill="#e8262b" stroke="#45459a" stroke-width="1.5"/>
<circle cx="1172.5" cy="1656.1" r="5.3" fill="#e8262b" stroke="#45459a" stroke-width="1.5"/>
<circle cx="1203.3" cy="1686.8" r="5.3" fill="#e8262b" stroke="#45459a" stroke-width="1.5"/>
<circle cx="1234.1" cy="1717.6" r="5.3" fill="#e8262b" stroke="#45459a" stroke-width="1.5"/>
<circle cx="1264.9" cy="1748.4" r="5.3" fill="#e8262b" stroke="#45459a" stroke-width="1.5"/>
<circle cx="1295.6" cy="1779.2" r="5.3" fill="#e8262b" stroke="#45459a" stroke-width="1.5"/>
<circle cx="1326.4" cy="1809.9" r="5.3" fill="#e8262b" stroke="#45459a" stroke-width="1.5"/>
<circle cx="1357.2" cy="1840.7" r="5.3" fill="#e8262b" stroke="#45459a" stroke-width="1.5"/>
<circle cx="1387.9" cy="1871.5" r="5.3" fill="#e8262b" stroke="#45459a" stroke-width="1.5"/>
<circle cx="1418.7" cy="1902.2" r="5.3" fill="#e8262b" stroke="#45459a" stroke-width="1.5"/>
<circle cx="1449.5" cy="1933.0" r="5.3" fill="#e8262b" stroke="#45459a" stroke-width="1.5"/>
<circle cx="1480.2" cy="1963.8" r="5.3" fill="#e8262b" stroke="#45459a" stroke-width="1.5"/>
<circle cx="1251.0" cy="1203.6" r="5.3" fill="#e8262b" stroke="#45459a" stroke-width="1.5"/>
<text x="1270.8" y="1198.0" font-size="26.9">BDNF</text>
<circle cx="1408.3" cy="1376.0" r="5.3" fill="#e8262b" stroke="#45459a" stroke-width="1.5"/>
<text x="1437.5" y="1386.0" font-size="26.9">ADCYAP1</text>
<circle cx="1566.2" cy="1549.0" r="5.3" fill="#e8262b" stroke="#45459a" stroke-width="1.5"/>
<text x="1582.7" y="1557.0" font-size="26.9">CXCR4</text>
<circle cx="1724.5" cy="1720.7" r="5.3" fill="#e8262b" stroke="#45459a" stroke-width="1.5"/>
<text x="1742.8" y="1729.5" font-size="26.9">PDGFRB</text>
<text x="592" y="1141.5" font-size="25.3" text-anchor="end" xml:space="preserve">Activated B cell</text>
<text x="592" y="1172.3" font-size="25.3" text-anchor="end" xml:space="preserve">Activated CD4 T cell</text>
<text x="592" y="1203.0" font-size="25.3" text-anchor="end" xml:space="preserve">Activated CD8 T cell</text>
<text x="592" y="1233.8" font-size="25.3" text-anchor="end" xml:space="preserve">Activated dendritic cell</text>
<text x="592" y="1264.6" font-size="25.3" text-anchor="end" xml:space="preserve">CD56bright natural killer cell</text>
<text x="592" y="1295.3" font-size="25.3" text-anchor="end" xml:space="preserve">CD56dim natural killer cell</text>
<text x="592" y="1326.1" font-size="25.3" text-anchor="end" xml:space="preserve">Central memory CD4 T cell</text>
<text x="592" y="1356.9" font-size="25.3" text-anchor="end" xml:space="preserve">Central memory CD8 T cell</text>
<text x="592" y="1387.6" font-size="25.3" text-anchor="end" xml:space="preserve">Effector memeory CD4 T cell</text>
<text x="592" y="1418.4" font-size="25.3" text-anchor="end" xml:space="preserve">Effector memeory CD8 T cell</text>
<text x="592" y="1449.2" font-size="25.3" text-anchor="end" xml:space="preserve">Eosinophil</text>
<text x="592" y="1480.0" font-size="25.3" text-anchor="end" xml:space="preserve">Gamma delta T cell</text>
<text x="592" y="1510.7" font-size="25.3" text-anchor="end" xml:space="preserve">Immature  B cell</text>
<text x="592" y="1541.5" font-size="25.3" text-anchor="end" xml:space="preserve">Immature dendritic cell</text>
<text x="592" y="1572.3" font-size="25.3" text-anchor="end" xml:space="preserve">Macrophage</text>
<text x="592" y="1603.0" font-size="25.3" text-anchor="end" xml:space="preserve">Mast cell</text>
<text x="592" y="1638.3" font-size="23" text-anchor="end" font-family='&quot;Liberation Sans&quot;, sans-serif'>MDSC</text>
<text x="592" y="1664.6" font-size="25.3" text-anchor="end" xml:space="preserve">Memory B cell</text>
<text x="592" y="1695.3" font-size="25.3" text-anchor="end" xml:space="preserve">Monocyte</text>
<text x="592" y="1726.1" font-size="25.3" text-anchor="end" xml:space="preserve">Natural killer cell</text>
<text x="592" y="1756.9" font-size="25.3" text-anchor="end" xml:space="preserve">Natural killer T cell</text>
<text x="592" y="1787.7" font-size="25.3" text-anchor="end" xml:space="preserve">Neutrophil</text>
<text x="592" y="1818.4" font-size="25.3" text-anchor="end" xml:space="preserve">Plasmacytoid dendritic cell</text>
<text x="592" y="1849.2" font-size="25.3" text-anchor="end" xml:space="preserve">Regulatory T cell</text>
<text x="592" y="1880.0" font-size="25.3" text-anchor="end" xml:space="preserve">T follicular helper cell</text>
<text x="592" y="1910.7" font-size="25.3" text-anchor="end" xml:space="preserve">Type 1 T helper cell</text>
<text x="592" y="1941.5" font-size="25.3" text-anchor="end" xml:space="preserve">Type 17 T helper cell</text>
<text x="592" y="1972.3" font-size="25.3" text-anchor="end" xml:space="preserve">Type 2 T helper cell</text>
<text transform="translate(627.2,1987) rotate(-90)" font-size="25.3" text-anchor="end" xml:space="preserve">Activated B cell</text>
<text transform="translate(658.0,1987) rotate(-90)" font-size="25.3" text-anchor="end" xml:space="preserve">Activated CD4 T cell</text>
<text transform="translate(688.7,1987) rotate(-90)" font-size="25.3" text-anchor="end" xml:space="preserve">Activated CD8 T cell</text>
<text transform="translate(719.5,1987) rotate(-90)" font-size="25.3" text-anchor="end" xml:space="preserve">Activated dendritic cell</text>
<text transform="translate(750.3,1987) rotate(-90)" font-size="25.3" text-anchor="end" xml:space="preserve">CD56bright natural killer cell</text>
<text transform="translate(781.0,1987) rotate(-90)" font-size="25.3" text-anchor="end" xml:space="preserve">CD56dim natural killer cell</text>
<text transform="translate(811.8,1987) rotate(-90)" font-size="25.3" text-anchor="end" xml:space="preserve">Central memory CD4 T cell</text>
<text transform="translate(842.6,1987) rotate(-90)" font-size="25.3" text-anchor="end" xml:space="preserve">Central memory CD8 T cell</text>
<text transform="translate(873.3,1987) rotate(-90)" font-size="25.3" text-anchor="end" xml:space="preserve">Effector memeory CD4 T cell</text>
<text transform="translate(904.1,1987) rotate(-90)" font-size="25.3" text-anchor="end" xml:space="preserve">Effector memeory CD8 T cell</text>
<text transform="translate(934.9,1987) rotate(-90)" font-size="25.3" text-anchor="end" xml:space="preserve">Eosinophil</text>
<text transform="translate(965.7,1987) rotate(-90)" font-size="25.3" text-anchor="end" xml:space="preserve">Gamma delta T cell</text>
<text transform="translate(996.4,1987) rotate(-90)" font-size="25.3" text-anchor="end" xml:space="preserve">Immature  B cell</text>
<text transform="translate(1027.2,1987) rotate(-90)" font-size="25.3" text-anchor="end" xml:space="preserve">Immature dendritic cell</text>
<text transform="translate(1058.0,1987) rotate(-90)" font-size="25.3" text-anchor="end" xml:space="preserve">Macrophage</text>
<text transform="translate(1088.7,1987) rotate(-90)" font-size="25.3" text-anchor="end" xml:space="preserve">Mast cell</text>
<text transform="translate(1119.5,1987) rotate(-90)" font-size="25.3" text-anchor="end" xml:space="preserve">MDSC</text>
<text transform="translate(1150.3,1987) rotate(-90)" font-size="25.3" text-anchor="end" xml:space="preserve">Memory B cell</text>
<text transform="translate(1181.0,1987) rotate(-90)" font-size="25.3" text-anchor="end" xml:space="preserve">Monocyte</text>
<text transform="translate(1211.8,1987) rotate(-90)" font-size="25.3" text-anchor="end" xml:space="preserve">Natural killer cell</text>
<text transform="translate(1242.6,1987) rotate(-90)" font-size="25.3" text-anchor="end" xml:space="preserve">Natural killer T cell</text>
<text transform="translate(1273.4,1987) rotate(-90)" font-size="25.3" text-anchor="end" xml:space="preserve">Neutrophil</text>
<text transform="translate(1304.1,1987) rotate(-90)" font-size="25.3" text-anchor="end" xml:space="preserve">Plasmacytoid dendritic cell</text>
<text transform="translate(1334.9,1987) rotate(-90)" font-size="25.3" text-anchor="end" xml:space="preserve">Regulatory T cell</text>
<text transform="translate(1365.7,1987) rotate(-90)" font-size="25.3" text-anchor="end" xml:space="preserve">T follicular helper cell</text>
<text transform="translate(1396.4,1987) rotate(-90)" font-size="25.3" text-anchor="end" xml:space="preserve">Type 1 T helper cell</text>
<text transform="translate(1427.2,1987) rotate(-90)" font-size="25.3" text-anchor="end" xml:space="preserve">Type 17 T helper cell</text>
<text transform="translate(1458.0,1987) rotate(-90)" font-size="25.3" text-anchor="end" xml:space="preserve">Type 2 T helper cell</text>
<text x="933.9" y="2340.9" font-size="31" text-anchor="middle">B</text>
<text x="46.9" y="1145" font-size="27.2"><tspan font-style="italic">P</tspan> value</text>
<line x1="50.7" x2="81.7" y1="1179.4" y2="1179.4" stroke="#d2622b" stroke-width="2.5"/>
<text x="95" y="1188.8" font-size="25.3" xml:space="preserve">&lt; 0.01</text>
<line x1="50.7" x2="81.7" y1="1217.4" y2="1217.4" stroke="#2b8b6b" stroke-width="2.5"/>
<text x="95" y="1226.8" font-size="25.3" xml:space="preserve">0.01 − 0.05</text>
<line x1="50.7" x2="81.7" y1="1255.5" y2="1255.5" stroke="#c4c4c4" stroke-width="2.5"/>
<text x="95" y="1264.9" font-size="25.3" textLength="20.5" lengthAdjust="spacingAndGlyphs">&gt;</text>
<text x="131.4" y="1264.9" font-size="25.3">0.05</text>
<text x="47.7" y="1481.7" font-size="25.5" textLength="165.3" lengthAdjust="spacingAndGlyphs">Gene−cell Cor</text>
<line x1="50.7" x2="81.7" y1="1516.0" y2="1516.0" stroke="#66676b" stroke-width="2.5"/>
<text x="95" y="1525.4" font-size="25.3" xml:space="preserve">&lt; 0.2</text>
<line x1="50.7" x2="81.7" y1="1554.0" y2="1554.0" stroke="#66676b" stroke-width="5.0"/>
<text x="95" y="1563.4" font-size="25.3" xml:space="preserve">0.2 − 0.4</text>
<line x1="50.7" x2="81.7" y1="1592.5" y2="1592.5" stroke="#66676b" stroke-width="9.0"/>
<text x="95" y="1601.9" font-size="25.3" textLength="20.5" lengthAdjust="spacingAndGlyphs">&gt;</text>
<text x="131.4" y="1601.9" font-size="25.3">0.4</text>
<text x="47.4" y="1798.4" font-size="26" textLength="156.4" lengthAdjust="spacingAndGlyphs" xml:space="preserve">Cell−cell  Cor</text>
<defs><linearGradient id="cb" x1="0" y1="0" x2="0" y2="1"><stop offset="0" stop-color="#b3417e"/><stop offset="0.25" stop-color="#dc96ba"/><stop offset="0.5" stop-color="#ffffff"/><stop offset="0.75" stop-color="#bce2f4"/><stop offset="1" stop-color="#76c7ea"/></linearGradient></defs>
<rect x="47.1" y="1814.2" width="38.4" height="188.6" fill="url(#cb)"/>
<line x1="47.1" x2="54.8" y1="1814.2" y2="1814.2" stroke="#fff" stroke-width="1"/>
<line x1="77.9" x2="85.5" y1="1814.2" y2="1814.2" stroke="#fff" stroke-width="1"/>
<text x="103.6" y="1825.7" font-size="24.5">1.0</text>
<line x1="47.1" x2="54.8" y1="1861.3" y2="1861.3" stroke="#fff" stroke-width="1"/>
<line x1="77.9" x2="85.5" y1="1861.3" y2="1861.3" stroke="#fff" stroke-width="1"/>
<text x="103.6" y="1868.7" font-size="24.5">0.5</text>
<line x1="47.1" x2="54.8" y1="1908.5" y2="1908.5" stroke="#fff" stroke-width="1"/>
<line x1="77.9" x2="85.5" y1="1908.5" y2="1908.5" stroke="#fff" stroke-width="1"/>
<text x="103.6" y="1917.9" font-size="24.5">0.0</text>
<line x1="47.1" x2="54.8" y1="1955.6" y2="1955.6" stroke="#fff" stroke-width="1"/>
<line x1="77.9" x2="85.5" y1="1955.6" y2="1955.6" stroke="#fff" stroke-width="1"/>
<text x="97.5" y="1965.3" font-size="24.5">−0.5</text>
<line x1="47.1" x2="54.8" y1="2002.8" y2="2002.8" stroke="#fff" stroke-width="1"/>
<line x1="77.9" x2="85.5" y1="2002.8" y2="2002.8" stroke="#fff" stroke-width="1"/>
<text x="97.5" y="2010.7" font-size="24.5">−1.0</text>
</g>
</svg></body></html>
